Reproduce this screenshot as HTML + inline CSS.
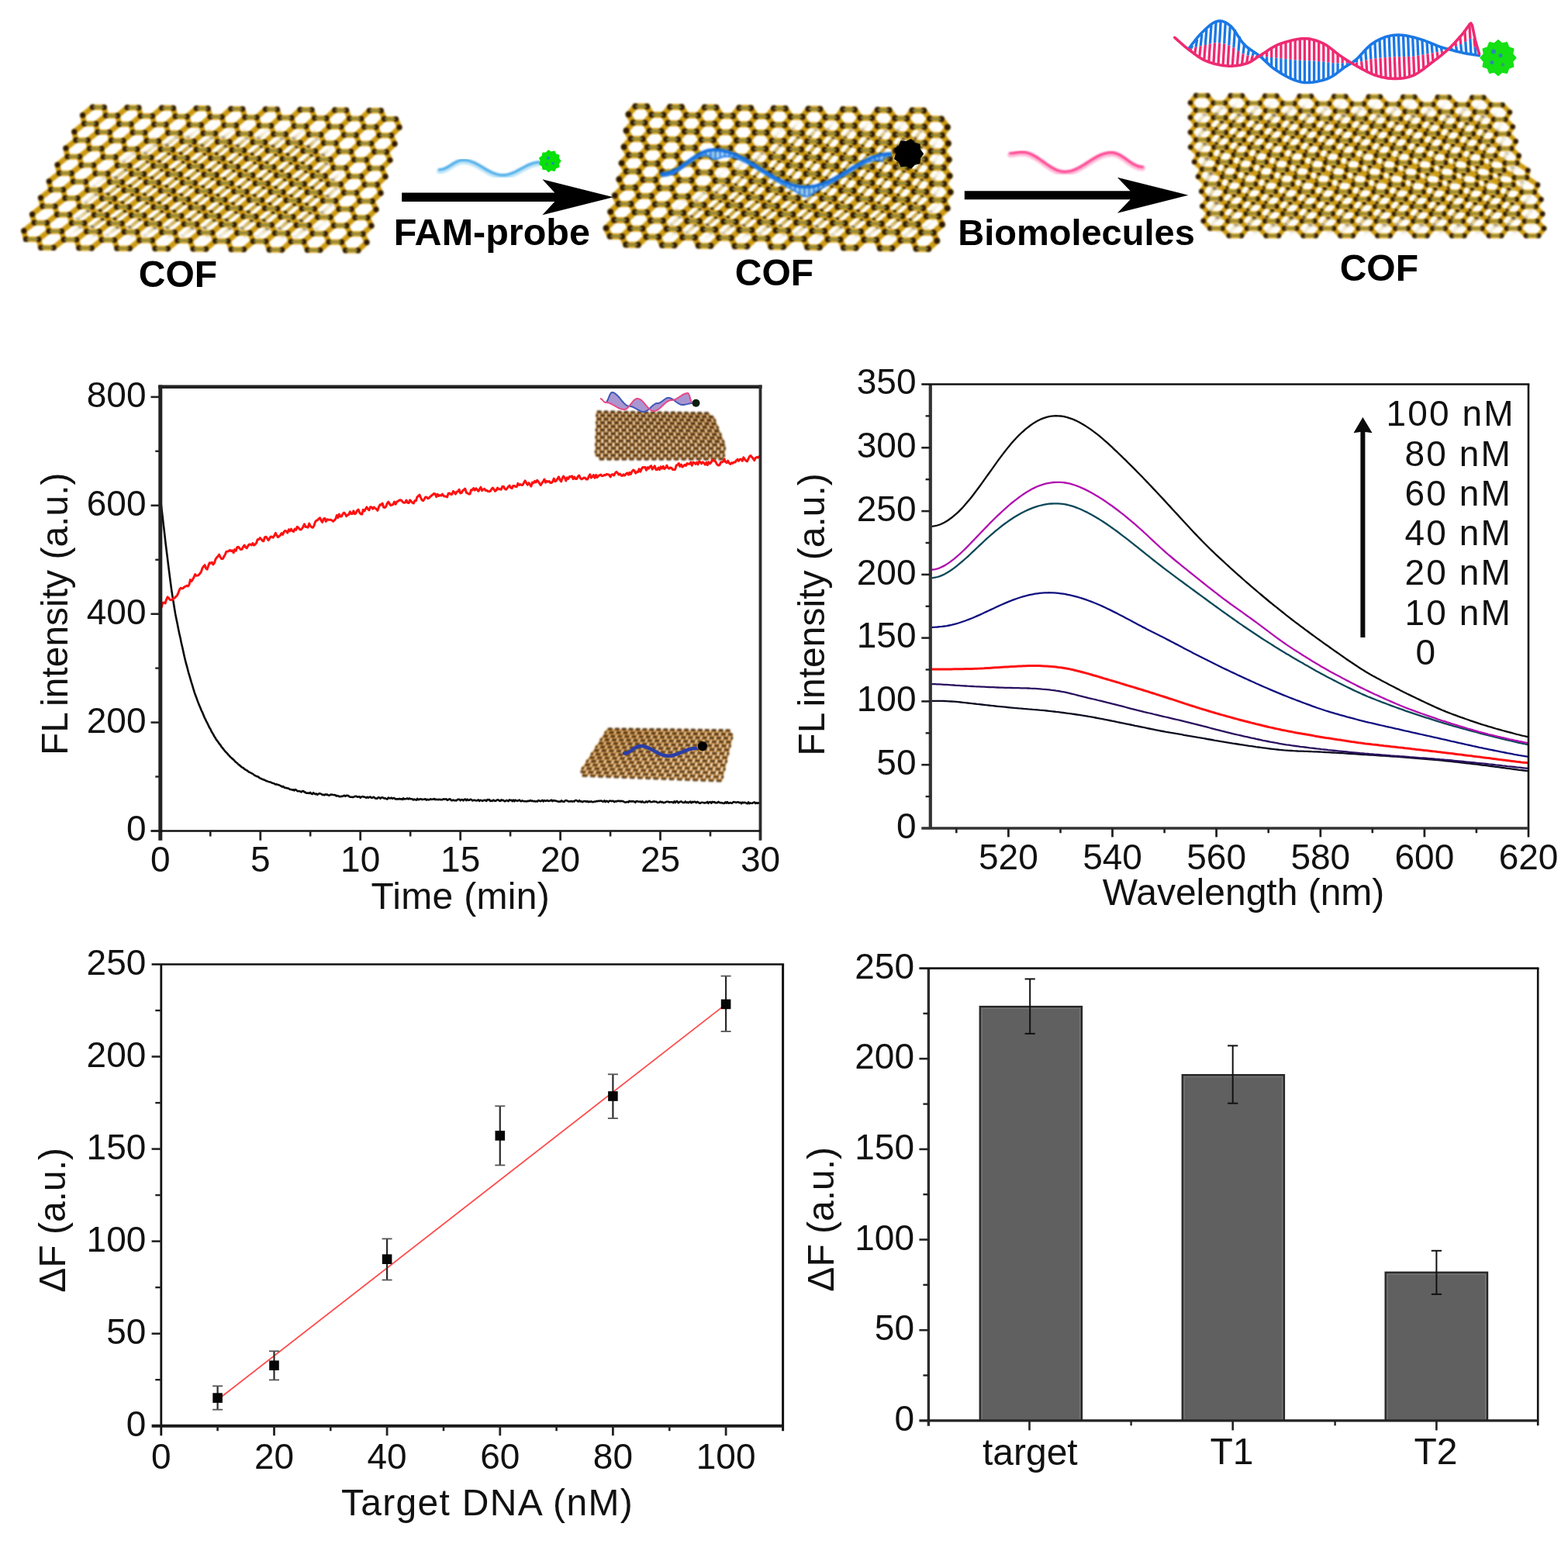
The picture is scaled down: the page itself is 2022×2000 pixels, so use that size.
<!DOCTYPE html>
<html lang="en"><head><meta charset="utf-8"><title>COF fluorescence sensing figure</title>
<style>html,body{margin:0;padding:0;background:#fff;}body{width:2022px;height:2000px;overflow:hidden;}svg{display:block;}</style>
</head><body>
<svg width="2022" height="2000" viewBox="0 0 2022 2000" font-family="'Liberation Sans', Arial, Helvetica, sans-serif">
<defs><filter id="soft" x="-5%" y="-5%" width="110%" height="110%" color-interpolation-filters="sRGB"><feGaussianBlur stdDeviation="1.1"/></filter><filter id="feather" filterUnits="userSpaceOnUse" x="0" y="0" width="2022" height="2000" color-interpolation-filters="sRGB"><feGaussianBlur stdDeviation="9"/></filter></defs>
<rect width="2022" height="2000" fill="#fff"/>
<mask id="cp1" maskUnits="userSpaceOnUse" x="0" y="0" width="2022" height="2000"><path d="M225,180L410,180L432,240L400,295L95,295L125,250L165,210Z" fill="#fff" filter="url(#feather)"/></mask>
<g mask="url(#cp1)"><g stroke-linecap="round" fill="none" filter="url(#soft)">
<path d="M119.2,164.6L134.2,164.8M129.9,143.3L144.8,143.5M108.5,185.9L123.7,186M97.7,207.2L113.1,207.3M87,228.5L102.6,228.6M76.3,249.8L92,249.9M65.5,271L81.4,271.2M54.8,292.3L70.9,292.5M60.3,313.8L44,313.6M136.5,175.5L151.7,175.7M147,154.2L162,154.4M126.1,196.8L141.4,196.9M115.6,218.1L131.1,218.2M105.1,239.3L120.8,239.5M94.6,260.6L110.5,260.8M84.2,281.9L100.2,282.1M73.7,303.2L89.9,303.4M79.6,324.6L63.2,324.5M164.3,165.1L179.4,165.3M174.6,143.8L189.4,144M154.1,186.4L169.4,186.6M143.9,207.7L159.3,207.8M133.7,229L149.3,229.1M123.5,250.2L139.3,250.4M113.3,271.5L129.2,271.7M103.1,292.8L119.2,292.9M109.2,314.2L92.9,314.1M181.9,176L197.1,176.2M191.9,154.7L206.9,154.9M172,197.3L187.3,197.5M162.1,218.6L177.5,218.7M152.1,239.8L167.8,240M142.2,261.1L158,261.3M132.2,282.4L148.2,282.5M122.3,303.7L138.5,303.8M128.7,325.1L112.3,324.9M209.5,165.6L224.5,165.8M219.2,144.4L234,144.6M199.8,186.9L215,187.1M190.1,208.2L205.5,208.3M180.4,229.4L196,229.6M170.8,250.7L186.5,250.9M161.1,272L177,272.1M151.4,293.2L167.5,293.4M158,314.7L141.7,314.5M227.4,176.5L242.5,176.7M236.8,155.3L251.7,155.5M217.9,197.8L233.2,198M208.5,219.1L224,219.2M199.1,240.3L214.8,240.5M189.7,261.6L205.5,261.7M180.2,282.8L196.3,283M170.8,304.1L187,304.3M177.8,325.5L161.4,325.4M254.6,166.2L269.7,166.4M263.8,144.9L278.7,145.1M245.5,187.4L260.7,187.6M236.3,208.7L251.7,208.9M227.2,229.9L242.7,230.1M218,251.2L233.8,251.4M208.8,272.4L224.8,272.6M199.7,293.7L215.8,293.9M206.8,315.1L190.5,315M272.8,177.1L287.9,177.2M281.7,155.8L296.6,156M263.9,198.3L279.2,198.5M255,219.6L270.5,219.7M246.1,240.8L261.7,241M237.2,262.1L253,262.2M228.3,283.3L244.3,283.5M219.4,304.6L235.6,304.7M226.9,325.9L210.5,325.8M299.8,166.7L314.8,166.9M308.4,145.5L323.3,145.7M291.1,188L306.4,188.1M282.5,209.2L297.9,209.4M273.9,230.4L289.5,230.6M265.3,251.7L281,251.8M256.6,272.9L272.5,273.1M248,294.2L264.1,294.3M255.6,315.5L239.4,315.4M318.2,177.6L333.3,177.8M326.5,156.4L341.5,156.5M309.8,198.8L325.1,199M301.4,220.1L316.9,220.2M293.1,241.3L308.7,241.5M284.7,262.5L300.5,262.7M276.3,283.8L292.3,283.9M268,305L284.1,305.2M276,326.4L259.6,326.2M344.9,167.2L360,167.4M353,146L367.9,146.2M336.8,188.5L352,188.6M328.7,209.7L344.1,209.9M320.6,230.9L336.2,231.1M312.5,252.2L328.3,252.3M304.4,273.4L320.3,273.5M296.3,294.6L312.4,294.8M304.5,316L288.2,315.8M363.6,178.1L378.7,178.3M371.4,156.9L386.4,157.1M355.7,199.3L371,199.5M347.9,220.6L363.4,220.7M340,241.8L355.7,241.9M332.2,263L348,263.2M324.4,284.2L340.4,284.4M316.5,305.5L332.7,305.6M325,326.8L308.7,326.7M390.1,167.8L405.1,168M397.6,146.6L412.5,146.7M382.5,189L397.7,189.2M374.9,210.2L390.3,210.4M367.3,231.4L382.9,231.6M359.8,252.6L375.5,252.8M352.2,273.9L368.1,274M344.6,295.1L360.7,295.2M353.3,316.4L337,316.3M409,178.6L424.1,178.8M416.3,157.4L431.3,157.6M401.7,199.9L417,200M394.4,221.1L409.8,221.2M387,242.3L402.7,242.4M379.7,263.5L395.6,263.6M372.4,284.7L388.4,284.8M365.1,305.9L381.3,306.1M374.1,327.3L357.8,327.1M435.2,168.3L450.3,168.5M442.3,147.1L457.1,147.3M428.2,189.5L443.4,189.7M421.1,210.7L436.5,210.9M414.1,231.9L429.6,232.1M407,253.1L422.8,253.3M399.9,274.3L415.9,274.5M392.9,295.5L409,295.7M402.1,316.9L385.8,316.7M454.4,179.2L469.5,179.4M461.2,158L476.1,158.2M447.6,200.4L462.9,200.5M440.8,221.6L456.3,221.7M434,242.8L449.7,242.9M427.2,264L443.1,264.1M420.4,285.2L436.5,285.3M413.7,306.3L429.8,306.5M423.2,327.7L406.9,327.5M480.4,168.8L495.4,169M486.9,147.7L501.8,147.8M473.8,190L489.1,190.2M467.3,211.2L482.7,211.4M460.8,232.4L476.4,232.6M454.3,253.6L470,253.8M447.7,274.8L463.6,274.9M441.2,296L457.3,296.1M450.9,317.3L434.7,317.2M499.8,179.7L514.9,179.9M506.1,158.5L521,158.7M493.5,200.9L508.8,201.1M487.3,222.1L502.8,222.2M481,243.3L496.7,243.4M474.7,264.4L490.6,264.6M468.5,285.6L484.5,285.8M462.2,306.8L478.4,306.9M472.3,328.1L456,328M134.2,164.8L147,154.2M119.2,164.6L117.1,153.8M117.1,153.8L129.9,143.3M144.8,143.5L147,154.2M123.7,186L136.5,175.5M108.5,185.9L106.3,175.1M106.3,175.1L119.2,164.6M136.5,175.5L134.2,164.8M113.1,207.3L126.1,196.8M97.7,207.2L95.4,196.4M95.4,196.4L108.5,185.9M126.1,196.8L123.7,186M102.6,228.6L115.6,218.1M87,228.5L84.6,217.7M84.6,217.7L97.7,207.2M115.6,218.1L113.1,207.3M92,249.9L105.1,239.3M76.3,249.8L73.8,239M73.8,239L87,228.5M105.1,239.3L102.6,228.6M81.4,271.2L94.6,260.6M65.5,271L63,260.3M63,260.3L76.3,249.8M94.6,260.6L92,249.9M70.9,292.5L84.2,281.9M54.8,292.3L52.1,281.6M52.1,281.6L65.5,271M84.2,281.9L81.4,271.2M60.3,313.8L73.7,303.2M44,313.6L41.3,302.9M41.3,302.9L54.8,292.3M73.7,303.2L70.9,292.5M151.7,175.7L164.3,165.1M164.3,165.1L162,154.4M141.4,196.9L154.1,186.4M154.1,186.4L151.7,175.7M131.1,218.2L143.9,207.7M143.9,207.7L141.4,196.9M120.8,239.5L133.7,229M133.7,229L131.1,218.2M110.5,260.8L123.5,250.2M123.5,250.2L120.8,239.5M100.2,282.1L113.3,271.5M113.3,271.5L110.5,260.8M89.9,303.4L103.1,292.8M103.1,292.8L100.2,282.1M92.9,314.1L79.6,324.6M63.2,324.5L60.3,313.8M92.9,314.1L89.9,303.4M179.4,165.3L191.9,154.7M162,154.4L174.6,143.8M189.4,144L191.9,154.7M169.4,186.6L181.9,176M181.9,176L179.4,165.3M159.3,207.8L172,197.3M172,197.3L169.4,186.6M149.3,229.1L162.1,218.6M162.1,218.6L159.3,207.8M139.3,250.4L152.1,239.8M152.1,239.8L149.3,229.1M129.2,271.7L142.2,261.1M142.2,261.1L139.3,250.4M119.2,292.9L132.2,282.4M132.2,282.4L129.2,271.7M109.2,314.2L122.3,303.7M122.3,303.7L119.2,292.9M197.1,176.2L209.5,165.6M209.5,165.6L206.9,154.9M187.3,197.5L199.8,186.9M199.8,186.9L197.1,176.2M177.5,218.7L190.1,208.2M190.1,208.2L187.3,197.5M167.8,240L180.4,229.4M180.4,229.4L177.5,218.7M158,261.3L170.8,250.7M170.8,250.7L167.8,240M148.2,282.5L161.1,272M161.1,272L158,261.3M138.5,303.8L151.4,293.2M151.4,293.2L148.2,282.5M141.7,314.5L128.7,325.1M112.3,324.9L109.2,314.2M141.7,314.5L138.5,303.8M224.5,165.8L236.8,155.3M206.9,154.9L219.2,144.4M234,144.6L236.8,155.3M215,187.1L227.4,176.5M227.4,176.5L224.5,165.8M205.5,208.3L217.9,197.8M217.9,197.8L215,187.1M196,229.6L208.5,219.1M208.5,219.1L205.5,208.3M186.5,250.9L199.1,240.3M199.1,240.3L196,229.6M177,272.1L189.7,261.6M189.7,261.6L186.5,250.9M167.5,293.4L180.2,282.8M180.2,282.8L177,272.1M158,314.7L170.8,304.1M170.8,304.1L167.5,293.4M242.5,176.7L254.6,166.2M254.6,166.2L251.7,155.5M233.2,198L245.5,187.4M245.5,187.4L242.5,176.7M224,219.2L236.3,208.7M236.3,208.7L233.2,198M214.8,240.5L227.2,229.9M227.2,229.9L224,219.2M205.5,261.7L218,251.2M218,251.2L214.8,240.5M196.3,283L208.8,272.4M208.8,272.4L205.5,261.7M187,304.3L199.7,293.7M199.7,293.7L196.3,283M190.5,315L177.8,325.5M161.4,325.4L158,314.7M190.5,315L187,304.3M269.7,166.4L281.7,155.8M251.7,155.5L263.8,144.9M278.7,145.1L281.7,155.8M260.7,187.6L272.8,177.1M272.8,177.1L269.7,166.4M251.7,208.9L263.9,198.3M263.9,198.3L260.7,187.6M242.7,230.1L255,219.6M255,219.6L251.7,208.9M233.8,251.4L246.1,240.8M246.1,240.8L242.7,230.1M224.8,272.6L237.2,262.1M237.2,262.1L233.8,251.4M215.8,293.9L228.3,283.3M228.3,283.3L224.8,272.6M206.8,315.1L219.4,304.6M219.4,304.6L215.8,293.9M287.9,177.2L299.8,166.7M299.8,166.7L296.6,156M279.2,198.5L291.1,188M291.1,188L287.9,177.2M270.5,219.7L282.5,209.2M282.5,209.2L279.2,198.5M261.7,241L273.9,230.4M273.9,230.4L270.5,219.7M253,262.2L265.3,251.7M265.3,251.7L261.7,241M244.3,283.5L256.6,272.9M256.6,272.9L253,262.2M235.6,304.7L248,294.2M248,294.2L244.3,283.5M239.4,315.4L226.9,325.9M210.5,325.8L206.8,315.1M239.4,315.4L235.6,304.7M314.8,166.9L326.5,156.4M296.6,156L308.4,145.5M323.3,145.7L326.5,156.4M306.4,188.1L318.2,177.6M318.2,177.6L314.8,166.9M297.9,209.4L309.8,198.8M309.8,198.8L306.4,188.1M289.5,230.6L301.4,220.1M301.4,220.1L297.9,209.4M281,251.8L293.1,241.3M293.1,241.3L289.5,230.6M272.5,273.1L284.7,262.5M284.7,262.5L281,251.8M264.1,294.3L276.3,283.8M276.3,283.8L272.5,273.1M255.6,315.5L268,305M268,305L264.1,294.3M333.3,177.8L344.9,167.2M344.9,167.2L341.5,156.5M325.1,199L336.8,188.5M336.8,188.5L333.3,177.8M316.9,220.2L328.7,209.7M328.7,209.7L325.1,199M308.7,241.5L320.6,230.9M320.6,230.9L316.9,220.2M300.5,262.7L312.5,252.2M312.5,252.2L308.7,241.5M292.3,283.9L304.4,273.4M304.4,273.4L300.5,262.7M284.1,305.2L296.3,294.6M296.3,294.6L292.3,283.9M288.2,315.8L276,326.4M259.6,326.2L255.6,315.5M288.2,315.8L284.1,305.2M360,167.4L371.4,156.9M341.5,156.5L353,146M367.9,146.2L371.4,156.9M352,188.6L363.6,178.1M363.6,178.1L360,167.4M344.1,209.9L355.7,199.3M355.7,199.3L352,188.6M336.2,231.1L347.9,220.6M347.9,220.6L344.1,209.9M328.3,252.3L340,241.8M340,241.8L336.2,231.1M320.3,273.5L332.2,263M332.2,263L328.3,252.3M312.4,294.8L324.4,284.2M324.4,284.2L320.3,273.5M304.5,316L316.5,305.5M316.5,305.5L312.4,294.8M378.7,178.3L390.1,167.8M390.1,167.8L386.4,157.1M371,199.5L382.5,189M382.5,189L378.7,178.3M363.4,220.7L374.9,210.2M374.9,210.2L371,199.5M355.7,241.9L367.3,231.4M367.3,231.4L363.4,220.7M348,263.2L359.8,252.6M359.8,252.6L355.7,241.9M340.4,284.4L352.2,273.9M352.2,273.9L348,263.2M332.7,305.6L344.6,295.1M344.6,295.1L340.4,284.4M337,316.3L325,326.8M308.7,326.7L304.5,316M337,316.3L332.7,305.6M405.1,168L416.3,157.4M386.4,157.1L397.6,146.6M412.5,146.7L416.3,157.4M397.7,189.2L409,178.6M409,178.6L405.1,168M390.3,210.4L401.7,199.9M401.7,199.9L397.7,189.2M382.9,231.6L394.4,221.1M394.4,221.1L390.3,210.4M375.5,252.8L387,242.3M387,242.3L382.9,231.6M368.1,274L379.7,263.5M379.7,263.5L375.5,252.8M360.7,295.2L372.4,284.7M372.4,284.7L368.1,274M353.3,316.4L365.1,305.9M365.1,305.9L360.7,295.2M424.1,178.8L435.2,168.3M435.2,168.3L431.3,157.6M417,200L428.2,189.5M428.2,189.5L424.1,178.8M409.8,221.2L421.1,210.7M421.1,210.7L417,200M402.7,242.4L414.1,231.9M414.1,231.9L409.8,221.2M395.6,263.6L407,253.1M407,253.1L402.7,242.4M388.4,284.8L399.9,274.3M399.9,274.3L395.6,263.6M381.3,306.1L392.9,295.5M392.9,295.5L388.4,284.8M385.8,316.7L374.1,327.3M357.8,327.1L353.3,316.4M385.8,316.7L381.3,306.1M450.3,168.5L461.2,158M431.3,157.6L442.3,147.1M457.1,147.3L461.2,158M443.4,189.7L454.4,179.2M454.4,179.2L450.3,168.5M436.5,210.9L447.6,200.4M447.6,200.4L443.4,189.7M429.6,232.1L440.8,221.6M440.8,221.6L436.5,210.9M422.8,253.3L434,242.8M434,242.8L429.6,232.1M415.9,274.5L427.2,264M427.2,264L422.8,253.3M409,295.7L420.4,285.2M420.4,285.2L415.9,274.5M402.1,316.9L413.7,306.3M413.7,306.3L409,295.7M469.5,179.4L480.4,168.8M480.4,168.8L476.1,158.2M462.9,200.5L473.8,190M473.8,190L469.5,179.4M456.3,221.7L467.3,211.2M467.3,211.2L462.9,200.5M449.7,242.9L460.8,232.4M460.8,232.4L456.3,221.7M443.1,264.1L454.3,253.6M454.3,253.6L449.7,242.9M436.5,285.3L447.7,274.8M447.7,274.8L443.1,264.1M429.8,306.5L441.2,296M441.2,296L436.5,285.3M434.7,317.2L423.2,327.7M406.9,327.5L402.1,316.9M434.7,317.2L429.8,306.5M495.4,169L506.1,158.5M476.1,158.2L486.9,147.7M501.8,147.8L506.1,158.5M489.1,190.2L499.8,179.7M499.8,179.7L495.4,169M482.7,211.4L493.5,200.9M493.5,200.9L489.1,190.2M476.4,232.6L487.3,222.1M487.3,222.1L482.7,211.4M470,253.8L481,243.3M481,243.3L476.4,232.6M463.6,274.9L474.7,264.4M474.7,264.4L470,253.8M457.3,296.1L468.5,285.6M468.5,285.6L463.6,274.9M450.9,317.3L462.2,306.8M462.2,306.8L457.3,296.1M525.5,169.4L514.9,179.9M521,158.7L525.5,169.4M519.5,190.6L508.8,201.1M514.9,179.9L519.5,190.6M513.5,211.7L502.8,222.2M508.8,201.1L513.5,211.7M507.5,232.9L496.7,243.4M502.8,222.2L507.5,232.9M501.5,254.1L490.6,264.6M496.7,243.4L501.5,254.1M495.5,275.3L484.5,285.8M490.6,264.6L495.5,275.3M489.5,296.4L478.4,306.9M484.5,285.8L489.5,296.4M483.5,317.6L472.3,328.1M456,328L450.9,317.3M478.4,306.9L483.5,317.6" stroke="#caa434" stroke-width="4.6"/>
<path d="M119.2,164.6L134.2,164.8M129.9,143.3L144.8,143.5M108.5,185.9L123.7,186M97.7,207.2L113.1,207.3M87,228.5L102.6,228.6M76.3,249.8L92,249.9M65.5,271L81.4,271.2M54.8,292.3L70.9,292.5M60.3,313.8L44,313.6M136.5,175.5L151.7,175.7M147,154.2L162,154.4M126.1,196.8L141.4,196.9M115.6,218.1L131.1,218.2M105.1,239.3L120.8,239.5M94.6,260.6L110.5,260.8M84.2,281.9L100.2,282.1M73.7,303.2L89.9,303.4M79.6,324.6L63.2,324.5M164.3,165.1L179.4,165.3M174.6,143.8L189.4,144M154.1,186.4L169.4,186.6M143.9,207.7L159.3,207.8M133.7,229L149.3,229.1M123.5,250.2L139.3,250.4M113.3,271.5L129.2,271.7M103.1,292.8L119.2,292.9M109.2,314.2L92.9,314.1M181.9,176L197.1,176.2M191.9,154.7L206.9,154.9M172,197.3L187.3,197.5M162.1,218.6L177.5,218.7M152.1,239.8L167.8,240M142.2,261.1L158,261.3M132.2,282.4L148.2,282.5M122.3,303.7L138.5,303.8M128.7,325.1L112.3,324.9M209.5,165.6L224.5,165.8M219.2,144.4L234,144.6M199.8,186.9L215,187.1M190.1,208.2L205.5,208.3M180.4,229.4L196,229.6M170.8,250.7L186.5,250.9M161.1,272L177,272.1M151.4,293.2L167.5,293.4M158,314.7L141.7,314.5M227.4,176.5L242.5,176.7M236.8,155.3L251.7,155.5M217.9,197.8L233.2,198M208.5,219.1L224,219.2M199.1,240.3L214.8,240.5M189.7,261.6L205.5,261.7M180.2,282.8L196.3,283M170.8,304.1L187,304.3M177.8,325.5L161.4,325.4M254.6,166.2L269.7,166.4M263.8,144.9L278.7,145.1M245.5,187.4L260.7,187.6M236.3,208.7L251.7,208.9M227.2,229.9L242.7,230.1M218,251.2L233.8,251.4M208.8,272.4L224.8,272.6M199.7,293.7L215.8,293.9M206.8,315.1L190.5,315M272.8,177.1L287.9,177.2M281.7,155.8L296.6,156M263.9,198.3L279.2,198.5M255,219.6L270.5,219.7M246.1,240.8L261.7,241M237.2,262.1L253,262.2M228.3,283.3L244.3,283.5M219.4,304.6L235.6,304.7M226.9,325.9L210.5,325.8M299.8,166.7L314.8,166.9M308.4,145.5L323.3,145.7M291.1,188L306.4,188.1M282.5,209.2L297.9,209.4M273.9,230.4L289.5,230.6M265.3,251.7L281,251.8M256.6,272.9L272.5,273.1M248,294.2L264.1,294.3M255.6,315.5L239.4,315.4M318.2,177.6L333.3,177.8M326.5,156.4L341.5,156.5M309.8,198.8L325.1,199M301.4,220.1L316.9,220.2M293.1,241.3L308.7,241.5M284.7,262.5L300.5,262.7M276.3,283.8L292.3,283.9M268,305L284.1,305.2M276,326.4L259.6,326.2M344.9,167.2L360,167.4M353,146L367.9,146.2M336.8,188.5L352,188.6M328.7,209.7L344.1,209.9M320.6,230.9L336.2,231.1M312.5,252.2L328.3,252.3M304.4,273.4L320.3,273.5M296.3,294.6L312.4,294.8M304.5,316L288.2,315.8M363.6,178.1L378.7,178.3M371.4,156.9L386.4,157.1M355.7,199.3L371,199.5M347.9,220.6L363.4,220.7M340,241.8L355.7,241.9M332.2,263L348,263.2M324.4,284.2L340.4,284.4M316.5,305.5L332.7,305.6M325,326.8L308.7,326.7M390.1,167.8L405.1,168M397.6,146.6L412.5,146.7M382.5,189L397.7,189.2M374.9,210.2L390.3,210.4M367.3,231.4L382.9,231.6M359.8,252.6L375.5,252.8M352.2,273.9L368.1,274M344.6,295.1L360.7,295.2M353.3,316.4L337,316.3M409,178.6L424.1,178.8M416.3,157.4L431.3,157.6M401.7,199.9L417,200M394.4,221.1L409.8,221.2M387,242.3L402.7,242.4M379.7,263.5L395.6,263.6M372.4,284.7L388.4,284.8M365.1,305.9L381.3,306.1M374.1,327.3L357.8,327.1M435.2,168.3L450.3,168.5M442.3,147.1L457.1,147.3M428.2,189.5L443.4,189.7M421.1,210.7L436.5,210.9M414.1,231.9L429.6,232.1M407,253.1L422.8,253.3M399.9,274.3L415.9,274.5M392.9,295.5L409,295.7M402.1,316.9L385.8,316.7M454.4,179.2L469.5,179.4M461.2,158L476.1,158.2M447.6,200.4L462.9,200.5M440.8,221.6L456.3,221.7M434,242.8L449.7,242.9M427.2,264L443.1,264.1M420.4,285.2L436.5,285.3M413.7,306.3L429.8,306.5M423.2,327.7L406.9,327.5M480.4,168.8L495.4,169M486.9,147.7L501.8,147.8M473.8,190L489.1,190.2M467.3,211.2L482.7,211.4M460.8,232.4L476.4,232.6M454.3,253.6L470,253.8M447.7,274.8L463.6,274.9M441.2,296L457.3,296.1M450.9,317.3L434.7,317.2M499.8,179.7L514.9,179.9M506.1,158.5L521,158.7M493.5,200.9L508.8,201.1M487.3,222.1L502.8,222.2M481,243.3L496.7,243.4M474.7,264.4L490.6,264.6M468.5,285.6L484.5,285.8M462.2,306.8L478.4,306.9M472.3,328.1L456,328M134.2,164.8L147,154.2M119.2,164.6L117.1,153.8M117.1,153.8L129.9,143.3M144.8,143.5L147,154.2M123.7,186L136.5,175.5M108.5,185.9L106.3,175.1M106.3,175.1L119.2,164.6M136.5,175.5L134.2,164.8M113.1,207.3L126.1,196.8M97.7,207.2L95.4,196.4M95.4,196.4L108.5,185.9M126.1,196.8L123.7,186M102.6,228.6L115.6,218.1M87,228.5L84.6,217.7M84.6,217.7L97.7,207.2M115.6,218.1L113.1,207.3M92,249.9L105.1,239.3M76.3,249.8L73.8,239M73.8,239L87,228.5M105.1,239.3L102.6,228.6M81.4,271.2L94.6,260.6M65.5,271L63,260.3M63,260.3L76.3,249.8M94.6,260.6L92,249.9M70.9,292.5L84.2,281.9M54.8,292.3L52.1,281.6M52.1,281.6L65.5,271M84.2,281.9L81.4,271.2M60.3,313.8L73.7,303.2M44,313.6L41.3,302.9M41.3,302.9L54.8,292.3M73.7,303.2L70.9,292.5M151.7,175.7L164.3,165.1M164.3,165.1L162,154.4M141.4,196.9L154.1,186.4M154.1,186.4L151.7,175.7M131.1,218.2L143.9,207.7M143.9,207.7L141.4,196.9M120.8,239.5L133.7,229M133.7,229L131.1,218.2M110.5,260.8L123.5,250.2M123.5,250.2L120.8,239.5M100.2,282.1L113.3,271.5M113.3,271.5L110.5,260.8M89.9,303.4L103.1,292.8M103.1,292.8L100.2,282.1M92.9,314.1L79.6,324.6M63.2,324.5L60.3,313.8M92.9,314.1L89.9,303.4M179.4,165.3L191.9,154.7M162,154.4L174.6,143.8M189.4,144L191.9,154.7M169.4,186.6L181.9,176M181.9,176L179.4,165.3M159.3,207.8L172,197.3M172,197.3L169.4,186.6M149.3,229.1L162.1,218.6M162.1,218.6L159.3,207.8M139.3,250.4L152.1,239.8M152.1,239.8L149.3,229.1M129.2,271.7L142.2,261.1M142.2,261.1L139.3,250.4M119.2,292.9L132.2,282.4M132.2,282.4L129.2,271.7M109.2,314.2L122.3,303.7M122.3,303.7L119.2,292.9M197.1,176.2L209.5,165.6M209.5,165.6L206.9,154.9M187.3,197.5L199.8,186.9M199.8,186.9L197.1,176.2M177.5,218.7L190.1,208.2M190.1,208.2L187.3,197.5M167.8,240L180.4,229.4M180.4,229.4L177.5,218.7M158,261.3L170.8,250.7M170.8,250.7L167.8,240M148.2,282.5L161.1,272M161.1,272L158,261.3M138.5,303.8L151.4,293.2M151.4,293.2L148.2,282.5M141.7,314.5L128.7,325.1M112.3,324.9L109.2,314.2M141.7,314.5L138.5,303.8M224.5,165.8L236.8,155.3M206.9,154.9L219.2,144.4M234,144.6L236.8,155.3M215,187.1L227.4,176.5M227.4,176.5L224.5,165.8M205.5,208.3L217.9,197.8M217.9,197.8L215,187.1M196,229.6L208.5,219.1M208.5,219.1L205.5,208.3M186.5,250.9L199.1,240.3M199.1,240.3L196,229.6M177,272.1L189.7,261.6M189.7,261.6L186.5,250.9M167.5,293.4L180.2,282.8M180.2,282.8L177,272.1M158,314.7L170.8,304.1M170.8,304.1L167.5,293.4M242.5,176.7L254.6,166.2M254.6,166.2L251.7,155.5M233.2,198L245.5,187.4M245.5,187.4L242.5,176.7M224,219.2L236.3,208.7M236.3,208.7L233.2,198M214.8,240.5L227.2,229.9M227.2,229.9L224,219.2M205.5,261.7L218,251.2M218,251.2L214.8,240.5M196.3,283L208.8,272.4M208.8,272.4L205.5,261.7M187,304.3L199.7,293.7M199.7,293.7L196.3,283M190.5,315L177.8,325.5M161.4,325.4L158,314.7M190.5,315L187,304.3M269.7,166.4L281.7,155.8M251.7,155.5L263.8,144.9M278.7,145.1L281.7,155.8M260.7,187.6L272.8,177.1M272.8,177.1L269.7,166.4M251.7,208.9L263.9,198.3M263.9,198.3L260.7,187.6M242.7,230.1L255,219.6M255,219.6L251.7,208.9M233.8,251.4L246.1,240.8M246.1,240.8L242.7,230.1M224.8,272.6L237.2,262.1M237.2,262.1L233.8,251.4M215.8,293.9L228.3,283.3M228.3,283.3L224.8,272.6M206.8,315.1L219.4,304.6M219.4,304.6L215.8,293.9M287.9,177.2L299.8,166.7M299.8,166.7L296.6,156M279.2,198.5L291.1,188M291.1,188L287.9,177.2M270.5,219.7L282.5,209.2M282.5,209.2L279.2,198.5M261.7,241L273.9,230.4M273.9,230.4L270.5,219.7M253,262.2L265.3,251.7M265.3,251.7L261.7,241M244.3,283.5L256.6,272.9M256.6,272.9L253,262.2M235.6,304.7L248,294.2M248,294.2L244.3,283.5M239.4,315.4L226.9,325.9M210.5,325.8L206.8,315.1M239.4,315.4L235.6,304.7M314.8,166.9L326.5,156.4M296.6,156L308.4,145.5M323.3,145.7L326.5,156.4M306.4,188.1L318.2,177.6M318.2,177.6L314.8,166.9M297.9,209.4L309.8,198.8M309.8,198.8L306.4,188.1M289.5,230.6L301.4,220.1M301.4,220.1L297.9,209.4M281,251.8L293.1,241.3M293.1,241.3L289.5,230.6M272.5,273.1L284.7,262.5M284.7,262.5L281,251.8M264.1,294.3L276.3,283.8M276.3,283.8L272.5,273.1M255.6,315.5L268,305M268,305L264.1,294.3M333.3,177.8L344.9,167.2M344.9,167.2L341.5,156.5M325.1,199L336.8,188.5M336.8,188.5L333.3,177.8M316.9,220.2L328.7,209.7M328.7,209.7L325.1,199M308.7,241.5L320.6,230.9M320.6,230.9L316.9,220.2M300.5,262.7L312.5,252.2M312.5,252.2L308.7,241.5M292.3,283.9L304.4,273.4M304.4,273.4L300.5,262.7M284.1,305.2L296.3,294.6M296.3,294.6L292.3,283.9M288.2,315.8L276,326.4M259.6,326.2L255.6,315.5M288.2,315.8L284.1,305.2M360,167.4L371.4,156.9M341.5,156.5L353,146M367.9,146.2L371.4,156.9M352,188.6L363.6,178.1M363.6,178.1L360,167.4M344.1,209.9L355.7,199.3M355.7,199.3L352,188.6M336.2,231.1L347.9,220.6M347.9,220.6L344.1,209.9M328.3,252.3L340,241.8M340,241.8L336.2,231.1M320.3,273.5L332.2,263M332.2,263L328.3,252.3M312.4,294.8L324.4,284.2M324.4,284.2L320.3,273.5M304.5,316L316.5,305.5M316.5,305.5L312.4,294.8M378.7,178.3L390.1,167.8M390.1,167.8L386.4,157.1M371,199.5L382.5,189M382.5,189L378.7,178.3M363.4,220.7L374.9,210.2M374.9,210.2L371,199.5M355.7,241.9L367.3,231.4M367.3,231.4L363.4,220.7M348,263.2L359.8,252.6M359.8,252.6L355.7,241.9M340.4,284.4L352.2,273.9M352.2,273.9L348,263.2M332.7,305.6L344.6,295.1M344.6,295.1L340.4,284.4M337,316.3L325,326.8M308.7,326.7L304.5,316M337,316.3L332.7,305.6M405.1,168L416.3,157.4M386.4,157.1L397.6,146.6M412.5,146.7L416.3,157.4M397.7,189.2L409,178.6M409,178.6L405.1,168M390.3,210.4L401.7,199.9M401.7,199.9L397.7,189.2M382.9,231.6L394.4,221.1M394.4,221.1L390.3,210.4M375.5,252.8L387,242.3M387,242.3L382.9,231.6M368.1,274L379.7,263.5M379.7,263.5L375.5,252.8M360.7,295.2L372.4,284.7M372.4,284.7L368.1,274M353.3,316.4L365.1,305.9M365.1,305.9L360.7,295.2M424.1,178.8L435.2,168.3M435.2,168.3L431.3,157.6M417,200L428.2,189.5M428.2,189.5L424.1,178.8M409.8,221.2L421.1,210.7M421.1,210.7L417,200M402.7,242.4L414.1,231.9M414.1,231.9L409.8,221.2M395.6,263.6L407,253.1M407,253.1L402.7,242.4M388.4,284.8L399.9,274.3M399.9,274.3L395.6,263.6M381.3,306.1L392.9,295.5M392.9,295.5L388.4,284.8M385.8,316.7L374.1,327.3M357.8,327.1L353.3,316.4M385.8,316.7L381.3,306.1M450.3,168.5L461.2,158M431.3,157.6L442.3,147.1M457.1,147.3L461.2,158M443.4,189.7L454.4,179.2M454.4,179.2L450.3,168.5M436.5,210.9L447.6,200.4M447.6,200.4L443.4,189.7M429.6,232.1L440.8,221.6M440.8,221.6L436.5,210.9M422.8,253.3L434,242.8M434,242.8L429.6,232.1M415.9,274.5L427.2,264M427.2,264L422.8,253.3M409,295.7L420.4,285.2M420.4,285.2L415.9,274.5M402.1,316.9L413.7,306.3M413.7,306.3L409,295.7M469.5,179.4L480.4,168.8M480.4,168.8L476.1,158.2M462.9,200.5L473.8,190M473.8,190L469.5,179.4M456.3,221.7L467.3,211.2M467.3,211.2L462.9,200.5M449.7,242.9L460.8,232.4M460.8,232.4L456.3,221.7M443.1,264.1L454.3,253.6M454.3,253.6L449.7,242.9M436.5,285.3L447.7,274.8M447.7,274.8L443.1,264.1M429.8,306.5L441.2,296M441.2,296L436.5,285.3M434.7,317.2L423.2,327.7M406.9,327.5L402.1,316.9M434.7,317.2L429.8,306.5M495.4,169L506.1,158.5M476.1,158.2L486.9,147.7M501.8,147.8L506.1,158.5M489.1,190.2L499.8,179.7M499.8,179.7L495.4,169M482.7,211.4L493.5,200.9M493.5,200.9L489.1,190.2M476.4,232.6L487.3,222.1M487.3,222.1L482.7,211.4M470,253.8L481,243.3M481,243.3L476.4,232.6M463.6,274.9L474.7,264.4M474.7,264.4L470,253.8M457.3,296.1L468.5,285.6M468.5,285.6L463.6,274.9M450.9,317.3L462.2,306.8M462.2,306.8L457.3,296.1M525.5,169.4L514.9,179.9M521,158.7L525.5,169.4M519.5,190.6L508.8,201.1M514.9,179.9L519.5,190.6M513.5,211.7L502.8,222.2M508.8,201.1L513.5,211.7M507.5,232.9L496.7,243.4M502.8,222.2L507.5,232.9M501.5,254.1L490.6,264.6M496.7,243.4L501.5,254.1M495.5,275.3L484.5,285.8M490.6,264.6L495.5,275.3M489.5,296.4L478.4,306.9M484.5,285.8L489.5,296.4M483.5,317.6L472.3,328.1M456,328L450.9,317.3M478.4,306.9L483.5,317.6" stroke="#c4a03a" stroke-width="2.1999999999999997"/>
<path d="M119.2,164.6h0M134.2,164.8h0M129.9,143.3h0M144.8,143.5h0M108.5,185.9h0M123.7,186h0M97.7,207.2h0M113.1,207.3h0M87,228.5h0M102.6,228.6h0M76.3,249.8h0M92,249.9h0M65.5,271h0M81.4,271.2h0M54.8,292.3h0M70.9,292.5h0M60.3,313.8h0M44,313.6h0M136.5,175.5h0M151.7,175.7h0M147,154.2h0M162,154.4h0M126.1,196.8h0M141.4,196.9h0M115.6,218.1h0M131.1,218.2h0M105.1,239.3h0M120.8,239.5h0M94.6,260.6h0M110.5,260.8h0M84.2,281.9h0M100.2,282.1h0M73.7,303.2h0M89.9,303.4h0M79.6,324.6h0M63.2,324.5h0M164.3,165.1h0M179.4,165.3h0M174.6,143.8h0M189.4,144h0M154.1,186.4h0M169.4,186.6h0M143.9,207.7h0M159.3,207.8h0M133.7,229h0M149.3,229.1h0M123.5,250.2h0M139.3,250.4h0M113.3,271.5h0M129.2,271.7h0M103.1,292.8h0M119.2,292.9h0M109.2,314.2h0M92.9,314.1h0M181.9,176h0M197.1,176.2h0M191.9,154.7h0M206.9,154.9h0M172,197.3h0M187.3,197.5h0M162.1,218.6h0M177.5,218.7h0M152.1,239.8h0M167.8,240h0M142.2,261.1h0M158,261.3h0M132.2,282.4h0M148.2,282.5h0M122.3,303.7h0M138.5,303.8h0M128.7,325.1h0M112.3,324.9h0M209.5,165.6h0M224.5,165.8h0M219.2,144.4h0M234,144.6h0M199.8,186.9h0M215,187.1h0M190.1,208.2h0M205.5,208.3h0M180.4,229.4h0M196,229.6h0M170.8,250.7h0M186.5,250.9h0M161.1,272h0M177,272.1h0M151.4,293.2h0M167.5,293.4h0M158,314.7h0M141.7,314.5h0M227.4,176.5h0M242.5,176.7h0M236.8,155.3h0M251.7,155.5h0M217.9,197.8h0M233.2,198h0M208.5,219.1h0M224,219.2h0M199.1,240.3h0M214.8,240.5h0M189.7,261.6h0M205.5,261.7h0M180.2,282.8h0M196.3,283h0M170.8,304.1h0M187,304.3h0M177.8,325.5h0M161.4,325.4h0M254.6,166.2h0M269.7,166.4h0M263.8,144.9h0M278.7,145.1h0M245.5,187.4h0M260.7,187.6h0M236.3,208.7h0M251.7,208.9h0M227.2,229.9h0M242.7,230.1h0M218,251.2h0M233.8,251.4h0M208.8,272.4h0M224.8,272.6h0M199.7,293.7h0M215.8,293.9h0M206.8,315.1h0M190.5,315h0M272.8,177.1h0M287.9,177.2h0M281.7,155.8h0M296.6,156h0M263.9,198.3h0M279.2,198.5h0M255,219.6h0M270.5,219.7h0M246.1,240.8h0M261.7,241h0M237.2,262.1h0M253,262.2h0M228.3,283.3h0M244.3,283.5h0M219.4,304.6h0M235.6,304.7h0M226.9,325.9h0M210.5,325.8h0M299.8,166.7h0M314.8,166.9h0M308.4,145.5h0M323.3,145.7h0M291.1,188h0M306.4,188.1h0M282.5,209.2h0M297.9,209.4h0M273.9,230.4h0M289.5,230.6h0M265.3,251.7h0M281,251.8h0M256.6,272.9h0M272.5,273.1h0M248,294.2h0M264.1,294.3h0M255.6,315.5h0M239.4,315.4h0M318.2,177.6h0M333.3,177.8h0M326.5,156.4h0M341.5,156.5h0M309.8,198.8h0M325.1,199h0M301.4,220.1h0M316.9,220.2h0M293.1,241.3h0M308.7,241.5h0M284.7,262.5h0M300.5,262.7h0M276.3,283.8h0M292.3,283.9h0M268,305h0M284.1,305.2h0M276,326.4h0M259.6,326.2h0M344.9,167.2h0M360,167.4h0M353,146h0M367.9,146.2h0M336.8,188.5h0M352,188.6h0M328.7,209.7h0M344.1,209.9h0M320.6,230.9h0M336.2,231.1h0M312.5,252.2h0M328.3,252.3h0M304.4,273.4h0M320.3,273.5h0M296.3,294.6h0M312.4,294.8h0M304.5,316h0M288.2,315.8h0M363.6,178.1h0M378.7,178.3h0M371.4,156.9h0M386.4,157.1h0M355.7,199.3h0M371,199.5h0M347.9,220.6h0M363.4,220.7h0M340,241.8h0M355.7,241.9h0M332.2,263h0M348,263.2h0M324.4,284.2h0M340.4,284.4h0M316.5,305.5h0M332.7,305.6h0M325,326.8h0M308.7,326.7h0M390.1,167.8h0M405.1,168h0M397.6,146.6h0M412.5,146.7h0M382.5,189h0M397.7,189.2h0M374.9,210.2h0M390.3,210.4h0M367.3,231.4h0M382.9,231.6h0M359.8,252.6h0M375.5,252.8h0M352.2,273.9h0M368.1,274h0M344.6,295.1h0M360.7,295.2h0M353.3,316.4h0M337,316.3h0M409,178.6h0M424.1,178.8h0M416.3,157.4h0M431.3,157.6h0M401.7,199.9h0M417,200h0M394.4,221.1h0M409.8,221.2h0M387,242.3h0M402.7,242.4h0M379.7,263.5h0M395.6,263.6h0M372.4,284.7h0M388.4,284.8h0M365.1,305.9h0M381.3,306.1h0M374.1,327.3h0M357.8,327.1h0M435.2,168.3h0M450.3,168.5h0M442.3,147.1h0M457.1,147.3h0M428.2,189.5h0M443.4,189.7h0M421.1,210.7h0M436.5,210.9h0M414.1,231.9h0M429.6,232.1h0M407,253.1h0M422.8,253.3h0M399.9,274.3h0M415.9,274.5h0M392.9,295.5h0M409,295.7h0M402.1,316.9h0M385.8,316.7h0M454.4,179.2h0M469.5,179.4h0M461.2,158h0M476.1,158.2h0M447.6,200.4h0M462.9,200.5h0M440.8,221.6h0M456.3,221.7h0M434,242.8h0M449.7,242.9h0M427.2,264h0M443.1,264.1h0M420.4,285.2h0M436.5,285.3h0M413.7,306.3h0M429.8,306.5h0M423.2,327.7h0M406.9,327.5h0M480.4,168.8h0M495.4,169h0M486.9,147.7h0M501.8,147.8h0M473.8,190h0M489.1,190.2h0M467.3,211.2h0M482.7,211.4h0M460.8,232.4h0M476.4,232.6h0M454.3,253.6h0M470,253.8h0M447.7,274.8h0M463.6,274.9h0M441.2,296h0M457.3,296.1h0M450.9,317.3h0M434.7,317.2h0M499.8,179.7h0M514.9,179.9h0M506.1,158.5h0M521,158.7h0M493.5,200.9h0M508.8,201.1h0M487.3,222.1h0M502.8,222.2h0M481,243.3h0M496.7,243.4h0M474.7,264.4h0M490.6,264.6h0M468.5,285.6h0M484.5,285.8h0M462.2,306.8h0M478.4,306.9h0M472.3,328.1h0M456,328h0M117.1,153.8h0M106.3,175.1h0M95.4,196.4h0M84.6,217.7h0M73.8,239h0M63,260.3h0M52.1,281.6h0M41.3,302.9h0M525.5,169.4h0M519.5,190.6h0M513.5,211.7h0M507.5,232.9h0M501.5,254.1h0M495.5,275.3h0M489.5,296.4h0M483.5,317.6h0" stroke="#3e2a06" stroke-width="4.8"/>
</g></g>
<g stroke-linecap="round" fill="none" filter="url(#soft)">
<path d="M108.7,159.4L123.7,159.6M119.4,138.1L134.3,138.3M98,180.7L113.2,180.8M87.2,202L102.6,202.1M76.5,223.3L92.1,223.4M65.8,244.6L81.5,244.7M55,265.8L70.9,266M44.3,287.1L60.4,287.3M49.8,308.6L33.5,308.4M126,170.3L141.2,170.5M136.5,149L151.5,149.2M115.6,191.6L130.9,191.7M105.1,212.9L120.6,213M94.6,234.1L110.3,234.3M84.1,255.4L100,255.6M73.7,276.7L89.7,276.9M63.2,298L79.4,298.2M69.1,319.4L52.7,319.3M153.8,159.9L168.9,160.1M164.1,138.6L178.9,138.8M143.6,181.2L158.9,181.4M133.4,202.5L148.8,202.6M123.2,223.8L138.8,223.9M113,245L128.8,245.2M102.8,266.3L118.7,266.5M92.6,287.6L108.7,287.7M98.7,309L82.4,308.9M171.4,170.8L186.6,171M181.4,149.5L196.4,149.7M161.5,192.1L176.8,192.3M151.6,213.4L167,213.5M141.6,234.6L157.3,234.8M131.7,255.9L147.5,256.1M121.7,277.2L137.7,277.3M111.8,298.5L128,298.6M118.2,319.9L101.8,319.7M199,160.4L214,160.6M208.7,139.2L223.5,139.4M189.3,181.7L204.5,181.9M179.6,203L195,203.1M169.9,224.2L185.5,224.4M160.3,245.5L176,245.7M150.6,266.8L166.5,266.9M140.9,288L157,288.2M147.5,309.5L131.2,309.3M216.9,171.3L232,171.5M226.3,150.1L241.2,150.3M207.4,192.6L222.7,192.8M198,213.9L213.5,214M188.6,235.1L204.3,235.3M179.2,256.4L195,256.5M169.7,277.6L185.8,277.8M160.3,298.9L176.5,299.1M167.3,320.3L150.9,320.2M244.1,161L259.2,161.2M253.3,139.7L268.2,139.9M235,182.2L250.2,182.4M225.8,203.5L241.2,203.7M216.7,224.7L232.2,224.9M207.5,246L223.3,246.2M198.3,267.2L214.3,267.4M189.2,288.5L205.3,288.7M196.3,309.9L180,309.8M262.3,171.9L277.4,172M271.2,150.6L286.1,150.8M253.4,193.1L268.7,193.3M244.5,214.4L260,214.5M235.6,235.6L251.2,235.8M226.7,256.9L242.5,257M217.8,278.1L233.8,278.3M208.9,299.4L225.1,299.5M216.4,320.7L200,320.6M289.3,161.5L304.3,161.7M297.9,140.3L312.8,140.5M280.6,182.8L295.9,182.9M272,204L287.4,204.2M263.4,225.2L279,225.4M254.8,246.5L270.5,246.6M246.1,267.7L262,267.9M237.5,289L253.6,289.1M245.1,310.3L228.9,310.2M307.7,172.4L322.8,172.6M316,151.2L331,151.3M299.3,193.6L314.6,193.8M290.9,214.9L306.4,215M282.6,236.1L298.2,236.3M274.2,257.3L290,257.5M265.8,278.6L281.8,278.7M257.5,299.8L273.6,300M265.5,321.2L249.1,321M334.4,162L349.5,162.2M342.5,140.8L357.4,141M326.3,183.3L341.5,183.4M318.2,204.5L333.6,204.7M310.1,225.7L325.7,225.9M302,247L317.8,247.1M293.9,268.2L309.8,268.3M285.8,289.4L301.9,289.6M294,310.8L277.7,310.6M353.1,172.9L368.2,173.1M360.9,151.7L375.9,151.9M345.2,194.1L360.5,194.3M337.4,215.4L352.9,215.5M329.5,236.6L345.2,236.7M321.7,257.8L337.5,258M313.9,279L329.9,279.2M306,300.3L322.2,300.4M314.5,321.6L298.2,321.5M379.6,162.6L394.6,162.8M387.1,141.4L402,141.5M372,183.8L387.2,184M364.4,205L379.8,205.2M356.8,226.2L372.4,226.4M349.3,247.4L365,247.6M341.7,268.7L357.6,268.8M334.1,289.9L350.2,290M342.8,311.2L326.5,311.1M398.5,173.4L413.6,173.6M405.8,152.2L420.8,152.4M391.2,194.7L406.5,194.8M383.9,215.9L399.3,216M376.5,237.1L392.2,237.2M369.2,258.3L385.1,258.4M361.9,279.5L377.9,279.6M354.6,300.7L370.8,300.9M363.6,322.1L347.3,321.9M424.7,163.1L439.8,163.3M431.8,141.9L446.6,142.1M417.7,184.3L432.9,184.5M410.6,205.5L426,205.7M403.6,226.7L419.1,226.9M396.5,247.9L412.3,248.1M389.4,269.1L405.4,269.3M382.4,290.3L398.5,290.5M391.6,311.7L375.3,311.5M443.9,174L459,174.2M450.7,152.8L465.6,153M437.1,195.2L452.4,195.3M430.3,216.4L445.8,216.5M423.5,237.6L439.2,237.7M416.7,258.8L432.6,258.9M409.9,280L426,280.1M403.2,301.1L419.3,301.3M412.7,322.5L396.4,322.3M469.9,163.6L484.9,163.8M476.4,142.5L491.3,142.6M463.3,184.8L478.6,185M456.8,206L472.2,206.2M450.3,227.2L465.9,227.4M443.8,248.4L459.5,248.6M437.2,269.6L453.1,269.7M430.7,290.8L446.8,290.9M440.4,312.1L424.2,312M489.3,174.5L504.4,174.7M495.6,153.3L510.5,153.5M483,195.7L498.3,195.9M476.8,216.9L492.3,217M470.5,238.1L486.2,238.2M464.2,259.2L480.1,259.4M458,280.4L474,280.6M451.7,301.6L467.9,301.7M461.8,322.9L445.5,322.8M123.7,159.6L136.5,149M108.7,159.4L106.6,148.6M106.6,148.6L119.4,138.1M134.3,138.3L136.5,149M113.2,180.8L126,170.3M98,180.7L95.8,169.9M95.8,169.9L108.7,159.4M126,170.3L123.7,159.6M102.6,202.1L115.6,191.6M87.2,202L84.9,191.2M84.9,191.2L98,180.7M115.6,191.6L113.2,180.8M92.1,223.4L105.1,212.9M76.5,223.3L74.1,212.5M74.1,212.5L87.2,202M105.1,212.9L102.6,202.1M81.5,244.7L94.6,234.1M65.8,244.6L63.3,233.8M63.3,233.8L76.5,223.3M94.6,234.1L92.1,223.4M70.9,266L84.1,255.4M55,265.8L52.5,255.1M52.5,255.1L65.8,244.6M84.1,255.4L81.5,244.7M60.4,287.3L73.7,276.7M44.3,287.1L41.6,276.4M41.6,276.4L55,265.8M73.7,276.7L70.9,266M49.8,308.6L63.2,298M33.5,308.4L30.8,297.7M30.8,297.7L44.3,287.1M63.2,298L60.4,287.3M141.2,170.5L153.8,159.9M153.8,159.9L151.5,149.2M130.9,191.7L143.6,181.2M143.6,181.2L141.2,170.5M120.6,213L133.4,202.5M133.4,202.5L130.9,191.7M110.3,234.3L123.2,223.8M123.2,223.8L120.6,213M100,255.6L113,245M113,245L110.3,234.3M89.7,276.9L102.8,266.3M102.8,266.3L100,255.6M79.4,298.2L92.6,287.6M92.6,287.6L89.7,276.9M82.4,308.9L69.1,319.4M52.7,319.3L49.8,308.6M82.4,308.9L79.4,298.2M168.9,160.1L181.4,149.5M151.5,149.2L164.1,138.6M178.9,138.8L181.4,149.5M158.9,181.4L171.4,170.8M171.4,170.8L168.9,160.1M148.8,202.6L161.5,192.1M161.5,192.1L158.9,181.4M138.8,223.9L151.6,213.4M151.6,213.4L148.8,202.6M128.8,245.2L141.6,234.6M141.6,234.6L138.8,223.9M118.7,266.5L131.7,255.9M131.7,255.9L128.8,245.2M108.7,287.7L121.7,277.2M121.7,277.2L118.7,266.5M98.7,309L111.8,298.5M111.8,298.5L108.7,287.7M186.6,171L199,160.4M199,160.4L196.4,149.7M176.8,192.3L189.3,181.7M189.3,181.7L186.6,171M167,213.5L179.6,203M179.6,203L176.8,192.3M157.3,234.8L169.9,224.2M169.9,224.2L167,213.5M147.5,256.1L160.3,245.5M160.3,245.5L157.3,234.8M137.7,277.3L150.6,266.8M150.6,266.8L147.5,256.1M128,298.6L140.9,288M140.9,288L137.7,277.3M131.2,309.3L118.2,319.9M101.8,319.7L98.7,309M131.2,309.3L128,298.6M214,160.6L226.3,150.1M196.4,149.7L208.7,139.2M223.5,139.4L226.3,150.1M204.5,181.9L216.9,171.3M216.9,171.3L214,160.6M195,203.1L207.4,192.6M207.4,192.6L204.5,181.9M185.5,224.4L198,213.9M198,213.9L195,203.1M176,245.7L188.6,235.1M188.6,235.1L185.5,224.4M166.5,266.9L179.2,256.4M179.2,256.4L176,245.7M157,288.2L169.7,277.6M169.7,277.6L166.5,266.9M147.5,309.5L160.3,298.9M160.3,298.9L157,288.2M232,171.5L244.1,161M244.1,161L241.2,150.3M222.7,192.8L235,182.2M235,182.2L232,171.5M213.5,214L225.8,203.5M225.8,203.5L222.7,192.8M204.3,235.3L216.7,224.7M216.7,224.7L213.5,214M195,256.5L207.5,246M207.5,246L204.3,235.3M185.8,277.8L198.3,267.2M198.3,267.2L195,256.5M176.5,299.1L189.2,288.5M189.2,288.5L185.8,277.8M180,309.8L167.3,320.3M150.9,320.2L147.5,309.5M180,309.8L176.5,299.1M259.2,161.2L271.2,150.6M241.2,150.3L253.3,139.7M268.2,139.9L271.2,150.6M250.2,182.4L262.3,171.9M262.3,171.9L259.2,161.2M241.2,203.7L253.4,193.1M253.4,193.1L250.2,182.4M232.2,224.9L244.5,214.4M244.5,214.4L241.2,203.7M223.3,246.2L235.6,235.6M235.6,235.6L232.2,224.9M214.3,267.4L226.7,256.9M226.7,256.9L223.3,246.2M205.3,288.7L217.8,278.1M217.8,278.1L214.3,267.4M196.3,309.9L208.9,299.4M208.9,299.4L205.3,288.7M277.4,172L289.3,161.5M289.3,161.5L286.1,150.8M268.7,193.3L280.6,182.8M280.6,182.8L277.4,172M260,214.5L272,204M272,204L268.7,193.3M251.2,235.8L263.4,225.2M263.4,225.2L260,214.5M242.5,257L254.8,246.5M254.8,246.5L251.2,235.8M233.8,278.3L246.1,267.7M246.1,267.7L242.5,257M225.1,299.5L237.5,289M237.5,289L233.8,278.3M228.9,310.2L216.4,320.7M200,320.6L196.3,309.9M228.9,310.2L225.1,299.5M304.3,161.7L316,151.2M286.1,150.8L297.9,140.3M312.8,140.5L316,151.2M295.9,182.9L307.7,172.4M307.7,172.4L304.3,161.7M287.4,204.2L299.3,193.6M299.3,193.6L295.9,182.9M279,225.4L290.9,214.9M290.9,214.9L287.4,204.2M270.5,246.6L282.6,236.1M282.6,236.1L279,225.4M262,267.9L274.2,257.3M274.2,257.3L270.5,246.6M253.6,289.1L265.8,278.6M265.8,278.6L262,267.9M245.1,310.3L257.5,299.8M257.5,299.8L253.6,289.1M322.8,172.6L334.4,162M334.4,162L331,151.3M314.6,193.8L326.3,183.3M326.3,183.3L322.8,172.6M306.4,215L318.2,204.5M318.2,204.5L314.6,193.8M298.2,236.3L310.1,225.7M310.1,225.7L306.4,215M290,257.5L302,247M302,247L298.2,236.3M281.8,278.7L293.9,268.2M293.9,268.2L290,257.5M273.6,300L285.8,289.4M285.8,289.4L281.8,278.7M277.7,310.6L265.5,321.2M249.1,321L245.1,310.3M277.7,310.6L273.6,300M349.5,162.2L360.9,151.7M331,151.3L342.5,140.8M357.4,141L360.9,151.7M341.5,183.4L353.1,172.9M353.1,172.9L349.5,162.2M333.6,204.7L345.2,194.1M345.2,194.1L341.5,183.4M325.7,225.9L337.4,215.4M337.4,215.4L333.6,204.7M317.8,247.1L329.5,236.6M329.5,236.6L325.7,225.9M309.8,268.3L321.7,257.8M321.7,257.8L317.8,247.1M301.9,289.6L313.9,279M313.9,279L309.8,268.3M294,310.8L306,300.3M306,300.3L301.9,289.6M368.2,173.1L379.6,162.6M379.6,162.6L375.9,151.9M360.5,194.3L372,183.8M372,183.8L368.2,173.1M352.9,215.5L364.4,205M364.4,205L360.5,194.3M345.2,236.7L356.8,226.2M356.8,226.2L352.9,215.5M337.5,258L349.3,247.4M349.3,247.4L345.2,236.7M329.9,279.2L341.7,268.7M341.7,268.7L337.5,258M322.2,300.4L334.1,289.9M334.1,289.9L329.9,279.2M326.5,311.1L314.5,321.6M298.2,321.5L294,310.8M326.5,311.1L322.2,300.4M394.6,162.8L405.8,152.2M375.9,151.9L387.1,141.4M402,141.5L405.8,152.2M387.2,184L398.5,173.4M398.5,173.4L394.6,162.8M379.8,205.2L391.2,194.7M391.2,194.7L387.2,184M372.4,226.4L383.9,215.9M383.9,215.9L379.8,205.2M365,247.6L376.5,237.1M376.5,237.1L372.4,226.4M357.6,268.8L369.2,258.3M369.2,258.3L365,247.6M350.2,290L361.9,279.5M361.9,279.5L357.6,268.8M342.8,311.2L354.6,300.7M354.6,300.7L350.2,290M413.6,173.6L424.7,163.1M424.7,163.1L420.8,152.4M406.5,194.8L417.7,184.3M417.7,184.3L413.6,173.6M399.3,216L410.6,205.5M410.6,205.5L406.5,194.8M392.2,237.2L403.6,226.7M403.6,226.7L399.3,216M385.1,258.4L396.5,247.9M396.5,247.9L392.2,237.2M377.9,279.6L389.4,269.1M389.4,269.1L385.1,258.4M370.8,300.9L382.4,290.3M382.4,290.3L377.9,279.6M375.3,311.5L363.6,322.1M347.3,321.9L342.8,311.2M375.3,311.5L370.8,300.9M439.8,163.3L450.7,152.8M420.8,152.4L431.8,141.9M446.6,142.1L450.7,152.8M432.9,184.5L443.9,174M443.9,174L439.8,163.3M426,205.7L437.1,195.2M437.1,195.2L432.9,184.5M419.1,226.9L430.3,216.4M430.3,216.4L426,205.7M412.3,248.1L423.5,237.6M423.5,237.6L419.1,226.9M405.4,269.3L416.7,258.8M416.7,258.8L412.3,248.1M398.5,290.5L409.9,280M409.9,280L405.4,269.3M391.6,311.7L403.2,301.1M403.2,301.1L398.5,290.5M459,174.2L469.9,163.6M469.9,163.6L465.6,153M452.4,195.3L463.3,184.8M463.3,184.8L459,174.2M445.8,216.5L456.8,206M456.8,206L452.4,195.3M439.2,237.7L450.3,227.2M450.3,227.2L445.8,216.5M432.6,258.9L443.8,248.4M443.8,248.4L439.2,237.7M426,280.1L437.2,269.6M437.2,269.6L432.6,258.9M419.3,301.3L430.7,290.8M430.7,290.8L426,280.1M424.2,312L412.7,322.5M396.4,322.3L391.6,311.7M424.2,312L419.3,301.3M484.9,163.8L495.6,153.3M465.6,153L476.4,142.5M491.3,142.6L495.6,153.3M478.6,185L489.3,174.5M489.3,174.5L484.9,163.8M472.2,206.2L483,195.7M483,195.7L478.6,185M465.9,227.4L476.8,216.9M476.8,216.9L472.2,206.2M459.5,248.6L470.5,238.1M470.5,238.1L465.9,227.4M453.1,269.7L464.2,259.2M464.2,259.2L459.5,248.6M446.8,290.9L458,280.4M458,280.4L453.1,269.7M440.4,312.1L451.7,301.6M451.7,301.6L446.8,290.9M515,164.2L504.4,174.7M510.5,153.5L515,164.2M509,185.4L498.3,195.9M504.4,174.7L509,185.4M503,206.5L492.3,217M498.3,195.9L503,206.5M497,227.7L486.2,238.2M492.3,217L497,227.7M491,248.9L480.1,259.4M486.2,238.2L491,248.9M485,270.1L474,280.6M480.1,259.4L485,270.1M479,291.2L467.9,301.7M474,280.6L479,291.2M473,312.4L461.8,322.9M445.5,322.8L440.4,312.1M467.9,301.7L473,312.4" stroke="#dca81a" stroke-width="7.2"/>
<path d="M108.7,159.4L123.7,159.6M119.4,138.1L134.3,138.3M98,180.7L113.2,180.8M87.2,202L102.6,202.1M76.5,223.3L92.1,223.4M65.8,244.6L81.5,244.7M55,265.8L70.9,266M44.3,287.1L60.4,287.3M49.8,308.6L33.5,308.4M126,170.3L141.2,170.5M136.5,149L151.5,149.2M115.6,191.6L130.9,191.7M105.1,212.9L120.6,213M94.6,234.1L110.3,234.3M84.1,255.4L100,255.6M73.7,276.7L89.7,276.9M63.2,298L79.4,298.2M69.1,319.4L52.7,319.3M153.8,159.9L168.9,160.1M164.1,138.6L178.9,138.8M143.6,181.2L158.9,181.4M133.4,202.5L148.8,202.6M123.2,223.8L138.8,223.9M113,245L128.8,245.2M102.8,266.3L118.7,266.5M92.6,287.6L108.7,287.7M98.7,309L82.4,308.9M171.4,170.8L186.6,171M181.4,149.5L196.4,149.7M161.5,192.1L176.8,192.3M151.6,213.4L167,213.5M141.6,234.6L157.3,234.8M131.7,255.9L147.5,256.1M121.7,277.2L137.7,277.3M111.8,298.5L128,298.6M118.2,319.9L101.8,319.7M199,160.4L214,160.6M208.7,139.2L223.5,139.4M189.3,181.7L204.5,181.9M179.6,203L195,203.1M169.9,224.2L185.5,224.4M160.3,245.5L176,245.7M150.6,266.8L166.5,266.9M140.9,288L157,288.2M147.5,309.5L131.2,309.3M216.9,171.3L232,171.5M226.3,150.1L241.2,150.3M207.4,192.6L222.7,192.8M198,213.9L213.5,214M188.6,235.1L204.3,235.3M179.2,256.4L195,256.5M169.7,277.6L185.8,277.8M160.3,298.9L176.5,299.1M167.3,320.3L150.9,320.2M244.1,161L259.2,161.2M253.3,139.7L268.2,139.9M235,182.2L250.2,182.4M225.8,203.5L241.2,203.7M216.7,224.7L232.2,224.9M207.5,246L223.3,246.2M198.3,267.2L214.3,267.4M189.2,288.5L205.3,288.7M196.3,309.9L180,309.8M262.3,171.9L277.4,172M271.2,150.6L286.1,150.8M253.4,193.1L268.7,193.3M244.5,214.4L260,214.5M235.6,235.6L251.2,235.8M226.7,256.9L242.5,257M217.8,278.1L233.8,278.3M208.9,299.4L225.1,299.5M216.4,320.7L200,320.6M289.3,161.5L304.3,161.7M297.9,140.3L312.8,140.5M280.6,182.8L295.9,182.9M272,204L287.4,204.2M263.4,225.2L279,225.4M254.8,246.5L270.5,246.6M246.1,267.7L262,267.9M237.5,289L253.6,289.1M245.1,310.3L228.9,310.2M307.7,172.4L322.8,172.6M316,151.2L331,151.3M299.3,193.6L314.6,193.8M290.9,214.9L306.4,215M282.6,236.1L298.2,236.3M274.2,257.3L290,257.5M265.8,278.6L281.8,278.7M257.5,299.8L273.6,300M265.5,321.2L249.1,321M334.4,162L349.5,162.2M342.5,140.8L357.4,141M326.3,183.3L341.5,183.4M318.2,204.5L333.6,204.7M310.1,225.7L325.7,225.9M302,247L317.8,247.1M293.9,268.2L309.8,268.3M285.8,289.4L301.9,289.6M294,310.8L277.7,310.6M353.1,172.9L368.2,173.1M360.9,151.7L375.9,151.9M345.2,194.1L360.5,194.3M337.4,215.4L352.9,215.5M329.5,236.6L345.2,236.7M321.7,257.8L337.5,258M313.9,279L329.9,279.2M306,300.3L322.2,300.4M314.5,321.6L298.2,321.5M379.6,162.6L394.6,162.8M387.1,141.4L402,141.5M372,183.8L387.2,184M364.4,205L379.8,205.2M356.8,226.2L372.4,226.4M349.3,247.4L365,247.6M341.7,268.7L357.6,268.8M334.1,289.9L350.2,290M342.8,311.2L326.5,311.1M398.5,173.4L413.6,173.6M405.8,152.2L420.8,152.4M391.2,194.7L406.5,194.8M383.9,215.9L399.3,216M376.5,237.1L392.2,237.2M369.2,258.3L385.1,258.4M361.9,279.5L377.9,279.6M354.6,300.7L370.8,300.9M363.6,322.1L347.3,321.9M424.7,163.1L439.8,163.3M431.8,141.9L446.6,142.1M417.7,184.3L432.9,184.5M410.6,205.5L426,205.7M403.6,226.7L419.1,226.9M396.5,247.9L412.3,248.1M389.4,269.1L405.4,269.3M382.4,290.3L398.5,290.5M391.6,311.7L375.3,311.5M443.9,174L459,174.2M450.7,152.8L465.6,153M437.1,195.2L452.4,195.3M430.3,216.4L445.8,216.5M423.5,237.6L439.2,237.7M416.7,258.8L432.6,258.9M409.9,280L426,280.1M403.2,301.1L419.3,301.3M412.7,322.5L396.4,322.3M469.9,163.6L484.9,163.8M476.4,142.5L491.3,142.6M463.3,184.8L478.6,185M456.8,206L472.2,206.2M450.3,227.2L465.9,227.4M443.8,248.4L459.5,248.6M437.2,269.6L453.1,269.7M430.7,290.8L446.8,290.9M440.4,312.1L424.2,312M489.3,174.5L504.4,174.7M495.6,153.3L510.5,153.5M483,195.7L498.3,195.9M476.8,216.9L492.3,217M470.5,238.1L486.2,238.2M464.2,259.2L480.1,259.4M458,280.4L474,280.6M451.7,301.6L467.9,301.7M461.8,322.9L445.5,322.8M123.7,159.6L136.5,149M108.7,159.4L106.6,148.6M106.6,148.6L119.4,138.1M134.3,138.3L136.5,149M113.2,180.8L126,170.3M98,180.7L95.8,169.9M95.8,169.9L108.7,159.4M126,170.3L123.7,159.6M102.6,202.1L115.6,191.6M87.2,202L84.9,191.2M84.9,191.2L98,180.7M115.6,191.6L113.2,180.8M92.1,223.4L105.1,212.9M76.5,223.3L74.1,212.5M74.1,212.5L87.2,202M105.1,212.9L102.6,202.1M81.5,244.7L94.6,234.1M65.8,244.6L63.3,233.8M63.3,233.8L76.5,223.3M94.6,234.1L92.1,223.4M70.9,266L84.1,255.4M55,265.8L52.5,255.1M52.5,255.1L65.8,244.6M84.1,255.4L81.5,244.7M60.4,287.3L73.7,276.7M44.3,287.1L41.6,276.4M41.6,276.4L55,265.8M73.7,276.7L70.9,266M49.8,308.6L63.2,298M33.5,308.4L30.8,297.7M30.8,297.7L44.3,287.1M63.2,298L60.4,287.3M141.2,170.5L153.8,159.9M153.8,159.9L151.5,149.2M130.9,191.7L143.6,181.2M143.6,181.2L141.2,170.5M120.6,213L133.4,202.5M133.4,202.5L130.9,191.7M110.3,234.3L123.2,223.8M123.2,223.8L120.6,213M100,255.6L113,245M113,245L110.3,234.3M89.7,276.9L102.8,266.3M102.8,266.3L100,255.6M79.4,298.2L92.6,287.6M92.6,287.6L89.7,276.9M82.4,308.9L69.1,319.4M52.7,319.3L49.8,308.6M82.4,308.9L79.4,298.2M168.9,160.1L181.4,149.5M151.5,149.2L164.1,138.6M178.9,138.8L181.4,149.5M158.9,181.4L171.4,170.8M171.4,170.8L168.9,160.1M148.8,202.6L161.5,192.1M161.5,192.1L158.9,181.4M138.8,223.9L151.6,213.4M151.6,213.4L148.8,202.6M128.8,245.2L141.6,234.6M141.6,234.6L138.8,223.9M118.7,266.5L131.7,255.9M131.7,255.9L128.8,245.2M108.7,287.7L121.7,277.2M121.7,277.2L118.7,266.5M98.7,309L111.8,298.5M111.8,298.5L108.7,287.7M186.6,171L199,160.4M199,160.4L196.4,149.7M176.8,192.3L189.3,181.7M189.3,181.7L186.6,171M167,213.5L179.6,203M179.6,203L176.8,192.3M157.3,234.8L169.9,224.2M169.9,224.2L167,213.5M147.5,256.1L160.3,245.5M160.3,245.5L157.3,234.8M137.7,277.3L150.6,266.8M150.6,266.8L147.5,256.1M128,298.6L140.9,288M140.9,288L137.7,277.3M131.2,309.3L118.2,319.9M101.8,319.7L98.7,309M131.2,309.3L128,298.6M214,160.6L226.3,150.1M196.4,149.7L208.7,139.2M223.5,139.4L226.3,150.1M204.5,181.9L216.9,171.3M216.9,171.3L214,160.6M195,203.1L207.4,192.6M207.4,192.6L204.5,181.9M185.5,224.4L198,213.9M198,213.9L195,203.1M176,245.7L188.6,235.1M188.6,235.1L185.5,224.4M166.5,266.9L179.2,256.4M179.2,256.4L176,245.7M157,288.2L169.7,277.6M169.7,277.6L166.5,266.9M147.5,309.5L160.3,298.9M160.3,298.9L157,288.2M232,171.5L244.1,161M244.1,161L241.2,150.3M222.7,192.8L235,182.2M235,182.2L232,171.5M213.5,214L225.8,203.5M225.8,203.5L222.7,192.8M204.3,235.3L216.7,224.7M216.7,224.7L213.5,214M195,256.5L207.5,246M207.5,246L204.3,235.3M185.8,277.8L198.3,267.2M198.3,267.2L195,256.5M176.5,299.1L189.2,288.5M189.2,288.5L185.8,277.8M180,309.8L167.3,320.3M150.9,320.2L147.5,309.5M180,309.8L176.5,299.1M259.2,161.2L271.2,150.6M241.2,150.3L253.3,139.7M268.2,139.9L271.2,150.6M250.2,182.4L262.3,171.9M262.3,171.9L259.2,161.2M241.2,203.7L253.4,193.1M253.4,193.1L250.2,182.4M232.2,224.9L244.5,214.4M244.5,214.4L241.2,203.7M223.3,246.2L235.6,235.6M235.6,235.6L232.2,224.9M214.3,267.4L226.7,256.9M226.7,256.9L223.3,246.2M205.3,288.7L217.8,278.1M217.8,278.1L214.3,267.4M196.3,309.9L208.9,299.4M208.9,299.4L205.3,288.7M277.4,172L289.3,161.5M289.3,161.5L286.1,150.8M268.7,193.3L280.6,182.8M280.6,182.8L277.4,172M260,214.5L272,204M272,204L268.7,193.3M251.2,235.8L263.4,225.2M263.4,225.2L260,214.5M242.5,257L254.8,246.5M254.8,246.5L251.2,235.8M233.8,278.3L246.1,267.7M246.1,267.7L242.5,257M225.1,299.5L237.5,289M237.5,289L233.8,278.3M228.9,310.2L216.4,320.7M200,320.6L196.3,309.9M228.9,310.2L225.1,299.5M304.3,161.7L316,151.2M286.1,150.8L297.9,140.3M312.8,140.5L316,151.2M295.9,182.9L307.7,172.4M307.7,172.4L304.3,161.7M287.4,204.2L299.3,193.6M299.3,193.6L295.9,182.9M279,225.4L290.9,214.9M290.9,214.9L287.4,204.2M270.5,246.6L282.6,236.1M282.6,236.1L279,225.4M262,267.9L274.2,257.3M274.2,257.3L270.5,246.6M253.6,289.1L265.8,278.6M265.8,278.6L262,267.9M245.1,310.3L257.5,299.8M257.5,299.8L253.6,289.1M322.8,172.6L334.4,162M334.4,162L331,151.3M314.6,193.8L326.3,183.3M326.3,183.3L322.8,172.6M306.4,215L318.2,204.5M318.2,204.5L314.6,193.8M298.2,236.3L310.1,225.7M310.1,225.7L306.4,215M290,257.5L302,247M302,247L298.2,236.3M281.8,278.7L293.9,268.2M293.9,268.2L290,257.5M273.6,300L285.8,289.4M285.8,289.4L281.8,278.7M277.7,310.6L265.5,321.2M249.1,321L245.1,310.3M277.7,310.6L273.6,300M349.5,162.2L360.9,151.7M331,151.3L342.5,140.8M357.4,141L360.9,151.7M341.5,183.4L353.1,172.9M353.1,172.9L349.5,162.2M333.6,204.7L345.2,194.1M345.2,194.1L341.5,183.4M325.7,225.9L337.4,215.4M337.4,215.4L333.6,204.7M317.8,247.1L329.5,236.6M329.5,236.6L325.7,225.9M309.8,268.3L321.7,257.8M321.7,257.8L317.8,247.1M301.9,289.6L313.9,279M313.9,279L309.8,268.3M294,310.8L306,300.3M306,300.3L301.9,289.6M368.2,173.1L379.6,162.6M379.6,162.6L375.9,151.9M360.5,194.3L372,183.8M372,183.8L368.2,173.1M352.9,215.5L364.4,205M364.4,205L360.5,194.3M345.2,236.7L356.8,226.2M356.8,226.2L352.9,215.5M337.5,258L349.3,247.4M349.3,247.4L345.2,236.7M329.9,279.2L341.7,268.7M341.7,268.7L337.5,258M322.2,300.4L334.1,289.9M334.1,289.9L329.9,279.2M326.5,311.1L314.5,321.6M298.2,321.5L294,310.8M326.5,311.1L322.2,300.4M394.6,162.8L405.8,152.2M375.9,151.9L387.1,141.4M402,141.5L405.8,152.2M387.2,184L398.5,173.4M398.5,173.4L394.6,162.8M379.8,205.2L391.2,194.7M391.2,194.7L387.2,184M372.4,226.4L383.9,215.9M383.9,215.9L379.8,205.2M365,247.6L376.5,237.1M376.5,237.1L372.4,226.4M357.6,268.8L369.2,258.3M369.2,258.3L365,247.6M350.2,290L361.9,279.5M361.9,279.5L357.6,268.8M342.8,311.2L354.6,300.7M354.6,300.7L350.2,290M413.6,173.6L424.7,163.1M424.7,163.1L420.8,152.4M406.5,194.8L417.7,184.3M417.7,184.3L413.6,173.6M399.3,216L410.6,205.5M410.6,205.5L406.5,194.8M392.2,237.2L403.6,226.7M403.6,226.7L399.3,216M385.1,258.4L396.5,247.9M396.5,247.9L392.2,237.2M377.9,279.6L389.4,269.1M389.4,269.1L385.1,258.4M370.8,300.9L382.4,290.3M382.4,290.3L377.9,279.6M375.3,311.5L363.6,322.1M347.3,321.9L342.8,311.2M375.3,311.5L370.8,300.9M439.8,163.3L450.7,152.8M420.8,152.4L431.8,141.9M446.6,142.1L450.7,152.8M432.9,184.5L443.9,174M443.9,174L439.8,163.3M426,205.7L437.1,195.2M437.1,195.2L432.9,184.5M419.1,226.9L430.3,216.4M430.3,216.4L426,205.7M412.3,248.1L423.5,237.6M423.5,237.6L419.1,226.9M405.4,269.3L416.7,258.8M416.7,258.8L412.3,248.1M398.5,290.5L409.9,280M409.9,280L405.4,269.3M391.6,311.7L403.2,301.1M403.2,301.1L398.5,290.5M459,174.2L469.9,163.6M469.9,163.6L465.6,153M452.4,195.3L463.3,184.8M463.3,184.8L459,174.2M445.8,216.5L456.8,206M456.8,206L452.4,195.3M439.2,237.7L450.3,227.2M450.3,227.2L445.8,216.5M432.6,258.9L443.8,248.4M443.8,248.4L439.2,237.7M426,280.1L437.2,269.6M437.2,269.6L432.6,258.9M419.3,301.3L430.7,290.8M430.7,290.8L426,280.1M424.2,312L412.7,322.5M396.4,322.3L391.6,311.7M424.2,312L419.3,301.3M484.9,163.8L495.6,153.3M465.6,153L476.4,142.5M491.3,142.6L495.6,153.3M478.6,185L489.3,174.5M489.3,174.5L484.9,163.8M472.2,206.2L483,195.7M483,195.7L478.6,185M465.9,227.4L476.8,216.9M476.8,216.9L472.2,206.2M459.5,248.6L470.5,238.1M470.5,238.1L465.9,227.4M453.1,269.7L464.2,259.2M464.2,259.2L459.5,248.6M446.8,290.9L458,280.4M458,280.4L453.1,269.7M440.4,312.1L451.7,301.6M451.7,301.6L446.8,290.9M515,164.2L504.4,174.7M510.5,153.5L515,164.2M509,185.4L498.3,195.9M504.4,174.7L509,185.4M503,206.5L492.3,217M498.3,195.9L503,206.5M497,227.7L486.2,238.2M492.3,217L497,227.7M491,248.9L480.1,259.4M486.2,238.2L491,248.9M485,270.1L474,280.6M480.1,259.4L485,270.1M479,291.2L467.9,301.7M474,280.6L479,291.2M473,312.4L461.8,322.9M445.5,322.8L440.4,312.1M467.9,301.7L473,312.4" stroke="#cb9a14" stroke-width="4.800000000000001"/>
<path d="M108.7,159.4h0M123.7,159.6h0M119.4,138.1h0M134.3,138.3h0M98,180.7h0M113.2,180.8h0M87.2,202h0M102.6,202.1h0M76.5,223.3h0M92.1,223.4h0M65.8,244.6h0M81.5,244.7h0M55,265.8h0M70.9,266h0M44.3,287.1h0M60.4,287.3h0M49.8,308.6h0M33.5,308.4h0M126,170.3h0M141.2,170.5h0M136.5,149h0M151.5,149.2h0M115.6,191.6h0M130.9,191.7h0M105.1,212.9h0M120.6,213h0M94.6,234.1h0M110.3,234.3h0M84.1,255.4h0M100,255.6h0M73.7,276.7h0M89.7,276.9h0M63.2,298h0M79.4,298.2h0M69.1,319.4h0M52.7,319.3h0M153.8,159.9h0M168.9,160.1h0M164.1,138.6h0M178.9,138.8h0M143.6,181.2h0M158.9,181.4h0M133.4,202.5h0M148.8,202.6h0M123.2,223.8h0M138.8,223.9h0M113,245h0M128.8,245.2h0M102.8,266.3h0M118.7,266.5h0M92.6,287.6h0M108.7,287.7h0M98.7,309h0M82.4,308.9h0M171.4,170.8h0M186.6,171h0M181.4,149.5h0M196.4,149.7h0M161.5,192.1h0M176.8,192.3h0M151.6,213.4h0M167,213.5h0M141.6,234.6h0M157.3,234.8h0M131.7,255.9h0M147.5,256.1h0M121.7,277.2h0M137.7,277.3h0M111.8,298.5h0M128,298.6h0M118.2,319.9h0M101.8,319.7h0M199,160.4h0M214,160.6h0M208.7,139.2h0M223.5,139.4h0M189.3,181.7h0M204.5,181.9h0M179.6,203h0M195,203.1h0M169.9,224.2h0M185.5,224.4h0M160.3,245.5h0M176,245.7h0M150.6,266.8h0M166.5,266.9h0M140.9,288h0M157,288.2h0M147.5,309.5h0M131.2,309.3h0M216.9,171.3h0M232,171.5h0M226.3,150.1h0M241.2,150.3h0M207.4,192.6h0M222.7,192.8h0M198,213.9h0M213.5,214h0M188.6,235.1h0M204.3,235.3h0M179.2,256.4h0M195,256.5h0M169.7,277.6h0M185.8,277.8h0M160.3,298.9h0M176.5,299.1h0M167.3,320.3h0M150.9,320.2h0M244.1,161h0M259.2,161.2h0M253.3,139.7h0M268.2,139.9h0M235,182.2h0M250.2,182.4h0M225.8,203.5h0M241.2,203.7h0M216.7,224.7h0M232.2,224.9h0M207.5,246h0M223.3,246.2h0M198.3,267.2h0M214.3,267.4h0M189.2,288.5h0M205.3,288.7h0M196.3,309.9h0M180,309.8h0M262.3,171.9h0M277.4,172h0M271.2,150.6h0M286.1,150.8h0M253.4,193.1h0M268.7,193.3h0M244.5,214.4h0M260,214.5h0M235.6,235.6h0M251.2,235.8h0M226.7,256.9h0M242.5,257h0M217.8,278.1h0M233.8,278.3h0M208.9,299.4h0M225.1,299.5h0M216.4,320.7h0M200,320.6h0M289.3,161.5h0M304.3,161.7h0M297.9,140.3h0M312.8,140.5h0M280.6,182.8h0M295.9,182.9h0M272,204h0M287.4,204.2h0M263.4,225.2h0M279,225.4h0M254.8,246.5h0M270.5,246.6h0M246.1,267.7h0M262,267.9h0M237.5,289h0M253.6,289.1h0M245.1,310.3h0M228.9,310.2h0M307.7,172.4h0M322.8,172.6h0M316,151.2h0M331,151.3h0M299.3,193.6h0M314.6,193.8h0M290.9,214.9h0M306.4,215h0M282.6,236.1h0M298.2,236.3h0M274.2,257.3h0M290,257.5h0M265.8,278.6h0M281.8,278.7h0M257.5,299.8h0M273.6,300h0M265.5,321.2h0M249.1,321h0M334.4,162h0M349.5,162.2h0M342.5,140.8h0M357.4,141h0M326.3,183.3h0M341.5,183.4h0M318.2,204.5h0M333.6,204.7h0M310.1,225.7h0M325.7,225.9h0M302,247h0M317.8,247.1h0M293.9,268.2h0M309.8,268.3h0M285.8,289.4h0M301.9,289.6h0M294,310.8h0M277.7,310.6h0M353.1,172.9h0M368.2,173.1h0M360.9,151.7h0M375.9,151.9h0M345.2,194.1h0M360.5,194.3h0M337.4,215.4h0M352.9,215.5h0M329.5,236.6h0M345.2,236.7h0M321.7,257.8h0M337.5,258h0M313.9,279h0M329.9,279.2h0M306,300.3h0M322.2,300.4h0M314.5,321.6h0M298.2,321.5h0M379.6,162.6h0M394.6,162.8h0M387.1,141.4h0M402,141.5h0M372,183.8h0M387.2,184h0M364.4,205h0M379.8,205.2h0M356.8,226.2h0M372.4,226.4h0M349.3,247.4h0M365,247.6h0M341.7,268.7h0M357.6,268.8h0M334.1,289.9h0M350.2,290h0M342.8,311.2h0M326.5,311.1h0M398.5,173.4h0M413.6,173.6h0M405.8,152.2h0M420.8,152.4h0M391.2,194.7h0M406.5,194.8h0M383.9,215.9h0M399.3,216h0M376.5,237.1h0M392.2,237.2h0M369.2,258.3h0M385.1,258.4h0M361.9,279.5h0M377.9,279.6h0M354.6,300.7h0M370.8,300.9h0M363.6,322.1h0M347.3,321.9h0M424.7,163.1h0M439.8,163.3h0M431.8,141.9h0M446.6,142.1h0M417.7,184.3h0M432.9,184.5h0M410.6,205.5h0M426,205.7h0M403.6,226.7h0M419.1,226.9h0M396.5,247.9h0M412.3,248.1h0M389.4,269.1h0M405.4,269.3h0M382.4,290.3h0M398.5,290.5h0M391.6,311.7h0M375.3,311.5h0M443.9,174h0M459,174.2h0M450.7,152.8h0M465.6,153h0M437.1,195.2h0M452.4,195.3h0M430.3,216.4h0M445.8,216.5h0M423.5,237.6h0M439.2,237.7h0M416.7,258.8h0M432.6,258.9h0M409.9,280h0M426,280.1h0M403.2,301.1h0M419.3,301.3h0M412.7,322.5h0M396.4,322.3h0M469.9,163.6h0M484.9,163.8h0M476.4,142.5h0M491.3,142.6h0M463.3,184.8h0M478.6,185h0M456.8,206h0M472.2,206.2h0M450.3,227.2h0M465.9,227.4h0M443.8,248.4h0M459.5,248.6h0M437.2,269.6h0M453.1,269.7h0M430.7,290.8h0M446.8,290.9h0M440.4,312.1h0M424.2,312h0M489.3,174.5h0M504.4,174.7h0M495.6,153.3h0M510.5,153.5h0M483,195.7h0M498.3,195.9h0M476.8,216.9h0M492.3,217h0M470.5,238.1h0M486.2,238.2h0M464.2,259.2h0M480.1,259.4h0M458,280.4h0M474,280.6h0M451.7,301.6h0M467.9,301.7h0M461.8,322.9h0M445.5,322.8h0M106.6,148.6h0M95.8,169.9h0M84.9,191.2h0M74.1,212.5h0M63.3,233.8h0M52.5,255.1h0M41.6,276.4h0M30.8,297.7h0M515,164.2h0M509,185.4h0M503,206.5h0M497,227.7h0M491,248.9h0M485,270.1h0M479,291.2h0M473,312.4h0" stroke="#2c1700" stroke-width="7.2"/>
<path d="M110.6,159.4L121.9,159.5M121.3,138.1L132.4,138.2M99.9,180.7L111.3,180.8M89.2,202L100.7,202.1M78.4,223.3L90.1,223.4M67.7,244.6L79.5,244.7M57,265.9L69,266M46.3,287.2L58.4,287.3M47.8,308.6L35.6,308.4M127.9,170.3L139.3,170.4M138.4,149L149.6,149.2M117.5,191.6L129,191.7M107,212.9L118.6,213M96.6,234.2L108.3,234.3M86.1,255.5L98,255.6M75.7,276.7L87.7,276.9M65.2,298L77.4,298.1M67,319.4L54.8,319.3M155.7,159.9L167,160.1M165.9,138.7L177.1,138.8M145.5,181.2L157,181.3M135.4,202.5L146.9,202.6M125.2,223.8L136.8,223.9M115,245.1L126.8,245.2M104.8,266.3L116.7,266.4M94.6,287.6L106.7,287.7M96.6,309L84.4,308.9M173.3,170.8L184.7,171M183.3,149.6L194.5,149.7M163.4,192.1L174.9,192.2M153.5,213.4L165.1,213.5M143.6,234.7L155.3,234.8M133.6,255.9L145.5,256M123.7,277.2L135.7,277.3M113.8,298.5L125.9,298.6M116.1,319.9L103.9,319.7M200.9,160.5L212.2,160.6M210.5,139.2L221.7,139.3M191.2,181.7L202.6,181.9M181.5,203L193.1,203.1M171.9,224.3L183.6,224.4M162.2,245.5L174,245.7M152.6,266.8L164.5,266.9M142.9,288.1L155,288.2M145.4,309.4L133.2,309.3M218.7,171.4L230.1,171.5M228.1,150.1L239.4,150.2M209.3,192.6L220.8,192.8M199.9,213.9L211.6,214M190.5,235.1L202.3,235.3M181.1,256.4L193,256.5M171.8,277.7L183.8,277.8M162.4,298.9L174.5,299M165.2,320.3L153,320.2M246,161L257.3,161.1M255.1,139.8L266.3,139.9M236.9,182.3L248.3,182.4M227.7,203.5L239.3,203.6M218.6,224.8L230.3,224.9M209.5,246L221.3,246.1M200.3,267.3L212.3,267.4M191.2,288.5L203.3,288.6M194.3,309.9L182.1,309.8M264.2,171.9L275.5,172M273,150.6L284.2,150.8M255.3,193.1L266.8,193.3M246.4,214.4L258,214.5M237.5,235.6L249.3,235.8M228.7,256.9L240.5,257M219.8,278.1L231.8,278.2M210.9,299.4L223.1,299.5M214.3,320.7L202,320.6M291.2,161.5L302.4,161.7M299.8,140.3L310.9,140.4M282.5,182.8L294,182.9M273.9,204L285.5,204.1M265.3,225.3L277,225.4M256.7,246.5L268.5,246.6M248.1,267.7L260.1,267.9M239.5,289L251.6,289.1M243.1,310.3L230.9,310.2M309.6,172.4L320.9,172.6M317.9,151.2L329.1,151.3M301.2,193.7L312.7,193.8M292.9,214.9L304.5,215M284.5,236.1L296.3,236.2M276.2,257.4L288.1,257.5M267.8,278.6L279.8,278.7M259.5,299.8L271.6,299.9M263.4,321.2L251.1,321.1M336.3,162.1L347.6,162.2M344.4,140.8L355.5,141M328.2,183.3L339.6,183.4M320.1,204.5L331.7,204.6M312.1,225.8L323.7,225.9M304,247L315.8,247.1M295.9,268.2L307.8,268.3M287.8,289.4L299.9,289.5M291.9,310.8L279.7,310.7M355,172.9L366.3,173.1M362.8,151.7L374,151.9M347.1,194.2L358.6,194.3M339.3,215.4L350.9,215.5M331.5,236.6L343.3,236.7M323.7,257.8L335.6,257.9M315.9,279L327.9,279.2M308,300.3L320.2,300.4M312.5,321.6L300.2,321.5M381.4,162.6L392.7,162.7M389,141.4L400.2,141.5M373.9,183.8L385.3,183.9M366.3,205L377.9,205.2M358.8,226.2L370.5,226.4M351.2,247.5L363,247.6M343.7,268.7L355.6,268.8M336.1,289.9L348.2,290M340.8,311.2L328.6,311.1M400.4,173.5L411.7,173.6M407.7,152.3L418.9,152.4M393.1,194.7L404.6,194.8M385.8,215.9L397.4,216M378.5,237.1L390.2,237.2M371.2,258.3L383.1,258.4M363.9,279.5L375.9,279.6M356.6,300.7L368.8,300.8M361.6,322L349.3,321.9M426.6,163.1L437.9,163.3M433.6,141.9L444.8,142.1M419.6,184.3L431,184.5M412.5,205.5L424.1,205.7M405.5,226.7L417.2,226.9M398.5,247.9L410.3,248.1M391.4,269.1L403.4,269.3M384.4,290.3L396.5,290.5M389.6,311.7L377.4,311.5M445.8,174L457.1,174.1M452.5,152.8L463.8,152.9M439,195.2L450.5,195.3M432.2,216.4L443.9,216.5M425.5,237.6L437.2,237.7M418.7,258.8L430.6,258.9M411.9,280L424,280.1M405.2,301.2L417.3,301.3M410.7,322.5L398.4,322.4M471.7,163.7L483,163.8M478.2,142.5L489.4,142.6M465.2,184.9L476.6,185M458.7,206L470.3,206.2M452.2,227.2L463.9,227.4M445.7,248.4L457.5,248.5M439.2,269.6L451.2,269.7M432.7,290.8L444.8,290.9M438.4,312.1L426.2,312M491.2,174.5L502.5,174.7M497.4,153.3L508.6,153.5M484.9,195.7L496.4,195.8M478.7,216.9L490.3,217M472.5,238.1L484.2,238.2M466.2,259.3L478.1,259.4M460,280.4L472,280.6M453.7,301.6L465.9,301.7M459.8,322.9L447.5,322.8" stroke="#8f8a44" stroke-width="3"/>
</g>
<text x="229.5" y="369.7" font-size="48" text-anchor="middle" font-weight="bold" fill="#000" >COF</text>
<path d="M518.2,248.5L715.3,248.5L699.4,231.2L791,254.2L699.4,277.2L715.3,259.9L518.2,259.9Z" fill="#000"/>
<text x="634.3" y="316.3" font-size="48.5" text-anchor="middle" font-weight="bold" fill="#000" >FAM-probe</text>
<g filter="url(#soft)">
<path d="M566.6,220.6L568.7,220.5L570.7,220.1L572.8,219.4L574.8,218.6L576.9,217.5L578.9,216.4L581,215.1L583,213.8L585.1,212.5L587.1,211.4L589.2,210.3L591.2,209.5L593.3,208.8L595.3,208.4L597.4,208.3L599.4,208.4L601.5,208.6L603.5,209L605.6,209.5L607.6,210.2L609.6,210.9L611.7,211.8L613.7,212.8L615.8,213.9L617.8,215L619.8,216.2L621.9,217.4L623.9,218.6L626,219.8L628,221L630,222.1L632.1,223.2L634.1,224.2L636.2,225.1L638.2,225.8L640.2,226.5L642.3,227L644.3,227.4L646.4,227.6L648.4,227.7L650.5,227.6L652.5,227.4L654.6,227L656.7,226.5L658.7,225.8L660.8,225L662.9,224.2L665,223.2L667,222.1L669.1,221L671.2,219.9L673.2,218.8L675.3,217.7L677.4,216.6L679.4,215.5L681.5,214.5L683.6,213.7L685.7,212.9L687.7,212.2L689.8,211.7L691.9,211.3L693.9,211.1L696,211" fill="none" stroke="#a8dcf6" stroke-width="7" stroke-linecap="round" opacity="0.75"/>
<path d="M566.6,218.6L568.7,218.5L570.7,218.1L572.8,217.4L574.8,216.6L576.9,215.5L578.9,214.4L581,213.1L583,211.8L585.1,210.5L587.1,209.4L589.2,208.3L591.2,207.5L593.3,206.8L595.3,206.4L597.4,206.3L599.4,206.4L601.5,206.6L603.5,207L605.6,207.5L607.6,208.2L609.6,208.9L611.7,209.8L613.7,210.8L615.8,211.9L617.8,213L619.8,214.2L621.9,215.4L623.9,216.6L626,217.8L628,219L630,220.1L632.1,221.2L634.1,222.2L636.2,223.1L638.2,223.8L640.2,224.5L642.3,225L644.3,225.4L646.4,225.6L648.4,225.7L650.5,225.6L652.5,225.4L654.6,225L656.7,224.5L658.7,223.8L660.8,223L662.9,222.2L665,221.2L667,220.1L669.1,219L671.2,217.9L673.2,216.8L675.3,215.7L677.4,214.6L679.4,213.5L681.5,212.5L683.6,211.7L685.7,210.9L687.7,210.2L689.8,209.7L691.9,209.3L693.9,209.1L696,209" fill="none" stroke="#48aae8" stroke-width="3.2" stroke-linecap="round"/>
</g>
<path d="M722.6,207.7L720,210.9L720.5,215L716.5,216.3L714.7,220L710.7,218.9L707.2,221.1L704.4,218L700.3,217.9L699.6,213.8L696.1,211.5L697.8,207.7L696.1,203.9L699.6,201.6L700.3,197.5L704.4,197.4L707.2,194.3L710.7,196.5L714.7,195.4L716.5,199.1L720.5,200.4L720,204.5Z" fill="#08e008" stroke="#08e008" stroke-width="2" stroke-linejoin="round"/>
<circle cx="707.1" cy="203.7" r="2" fill="#1e8ac0"/>
<circle cx="713.1" cy="210.7" r="1.8" fill="#1e8ac0"/>
<circle cx="705.1" cy="211.7" r="1.6" fill="#2aa060"/>
<mask id="cp2" maskUnits="userSpaceOnUse" x="0" y="0" width="2022" height="2000"><path d="M1020,170L1196,172L1202,255L1185,295L860,295L900,260L970,210Z" fill="#fff" filter="url(#feather)"/></mask>
<g mask="url(#cp2)"><g stroke-linecap="round" fill="none" filter="url(#soft)">
<path d="M827,163.3L842.1,163.5M829.9,142.3L844.8,142.5M824.2,184.2L839.3,184.4M821.3,205.1L836.6,205.4M818.4,226.1L833.8,226.3M813.9,247L829.6,247.2M808.3,268L824,268.2M802.7,288.9L818.4,289.1M812.7,310.1L797.1,309.8M848.2,174L863.3,174.3M850.9,153.1L865.9,153.3M845.6,195L860.8,195.2M842.9,215.9L858.2,216.1M839.9,236.9L855.5,237.1M834.7,257.8L850.4,258M829.1,278.8L844.7,279M823.4,299.7L839,299.9M833.3,320.9L817.7,320.6M872.1,163.9L887.1,164.1M874.6,143L889.4,143.2M869.6,184.8L884.8,185.1M867.2,205.8L882.5,206M864.7,226.7L880.1,226.9M860.8,247.7L876.5,247.9M855.4,268.6L871.1,268.8M849.7,289.6L865.4,289.8M859.6,310.7L844,310.5M893.5,174.7L908.6,174.9M895.7,153.8L910.7,154M891.2,195.6L906.5,195.9M889,216.6L904.4,216.8M886.5,237.5L902,237.7M881.9,258.5L897.6,258.7M876.1,279.4L891.8,279.6M870.3,300.3L885.9,300.6M880.1,321.5L864.5,321.3M917.1,164.6L932.1,164.8M919.2,143.6L934,143.8M915.1,185.5L930.3,185.7M913.1,206.4L928.4,206.7M911,227.4L926.5,227.6M907.8,248.3L923.4,248.5M902.5,269.3L918.2,269.5M896.7,290.2L912.3,290.4M906.4,311.4L890.8,311.1M938.7,175.4L953.8,175.6M940.6,154.4L955.5,154.6M936.9,196.3L952.1,196.5M935.1,217.2L950.5,217.5M933.1,238.2L948.6,238.4M929,259.1L944.7,259.3M923.1,280.1L938.8,280.3M917.2,301L932.8,301.2M926.9,322.2L911.3,321.9M962.2,165.2L977.2,165.4M963.8,144.3L978.7,144.5M960.6,186.2L975.7,186.4M958.9,207.1L974.2,207.3M957.3,228L972.8,228.3M954.7,249L970.3,249.2M949.6,269.9L965.3,270.1M943.7,290.9L959.3,291.1M953.3,312L937.7,311.8M984,176L999.1,176.2M985.4,155.1L1000.3,155.3M982.6,197L997.8,197.2M981.2,217.9L996.6,218.1M979.6,238.8L995.1,239.1M976.2,259.8L991.9,260M970.2,280.7L985.8,280.9M964.1,301.7L979.8,301.9M973.7,322.8L958.1,322.6M1007.2,165.9L1022.2,166.1M1008.4,144.9L1023.3,145.1M1006,186.8L1021.2,187M1004.8,207.8L1020.1,208M1003.7,228.7L1019.1,228.9M1001.6,249.6L1017.2,249.9M996.7,270.6L1012.4,270.8M990.6,291.5L1006.3,291.7M1000.2,312.7L984.5,312.5M1029.3,176.7L1044.3,176.9M1030.2,155.7L1045.2,155.9M1028.3,197.6L1043.5,197.8M1027.3,218.5L1042.7,218.8M1026.2,239.5L1041.7,239.7M1023.3,260.4L1039,260.6M1017.2,281.4L1032.9,281.6M1011,302.3L1026.7,302.5M1020.5,323.5L1004.9,323.3M1052.3,166.5L1067.3,166.7M1053,145.6L1067.9,145.8M1051.5,187.5L1066.7,187.7M1050.7,208.4L1066,208.6M1050,229.3L1065.4,229.6M1048.5,250.3L1064.1,250.5M1043.8,271.2L1059.5,271.4M1037.6,292.2L1053.3,292.4M1047,313.3L1031.4,313.1M1074.5,177.3L1089.6,177.5M1075.1,156.4L1090,156.6M1074,198.3L1089.2,198.5M1073.4,219.2L1088.8,219.4M1072.7,240.1L1088.3,240.4M1070.5,261.1L1086.2,261.3M1064.2,282L1079.9,282.2M1058,303L1073.6,303.2M1067.3,324.1L1051.7,323.9M1097.3,167.2L1112.3,167.4M1097.6,146.2L1112.5,146.5M1097,188.1L1112.1,188.3M1096.6,209.1L1111.9,209.3M1096.3,230L1111.7,230.2M1095.4,250.9L1111.1,251.2M1090.9,271.9L1106.6,272.1M1084.6,292.8L1100.2,293M1093.9,314L1078.3,313.8M1119.8,178L1134.8,178.2M1119.9,157L1134.8,157.3M1119.6,198.9L1134.9,199.1M1119.5,219.9L1134.9,220.1M1119.3,240.8L1134.8,241M1117.6,261.7L1133.3,262M1111.2,282.7L1126.9,282.9M1104.9,303.6L1120.5,303.8M1114.1,324.8L1098.5,324.6M1142.3,167.8L1157.4,168.1M1142.3,146.9L1157.1,147.1M1142.4,188.8L1157.6,189M1142.5,209.7L1157.8,209.9M1142.6,230.7L1158,230.9M1142.3,251.6L1158,251.8M1138,272.5L1153.7,272.8M1131.5,293.5L1147.2,293.7M1140.7,314.6L1125.1,314.4M1165,178.6L1180.1,178.8M1164.7,157.7L1179.7,157.9M1165.3,199.6L1180.5,199.8M1165.6,220.5L1181,220.7M1165.9,241.5L1181.4,241.7M1164.8,262.4L1180.5,262.6M1158.3,283.3L1174,283.6M1151.8,304.3L1167.4,304.5M1160.9,325.4L1145.3,325.2M1187.4,168.5L1202.4,168.7M1186.9,147.5L1201.8,147.8M1187.9,189.4L1203.1,189.6M1188.4,210.4L1203.7,210.6M1188.9,231.3L1204.4,231.5M1189.3,252.3L1204.9,252.5M1185.1,273.2L1200.8,273.4M1178.5,294.1L1194.2,294.4M1187.6,315.3L1172,315.1M1210.3,179.3L1225.4,179.5M1209.6,158.3L1224.5,158.6M1211,200.2L1226.2,200.4M1211.7,221.2L1227.1,221.4M1212.4,242.1L1227.9,242.3M1211.9,263L1227.6,263.3M1205.3,284L1221,284.2M1198.7,304.9L1214.3,305.1M1207.7,326.1L1192.1,325.9M842.1,163.5L850.9,153.1M827,163.3L821,152.7M821,152.7L829.9,142.3M844.8,142.5L850.9,153.1M839.3,184.4L848.2,174M824.2,184.2L818.1,173.6M818.1,173.6L827,163.3M848.2,174L842.1,163.5M836.6,205.4L845.6,195M821.3,205.1L815.1,194.6M815.1,194.6L824.2,184.2M845.6,195L839.3,184.4M833.8,226.3L842.9,215.9M818.4,226.1L812.1,215.5M812.1,215.5L821.3,205.1M842.9,215.9L836.6,205.4M829.6,247.2L839.9,236.9M813.9,247L808.9,236.4M808.9,236.4L818.4,226.1M839.9,236.9L833.8,226.3M824,268.2L834.7,257.8M808.3,268L803.3,257.4M803.3,257.4L813.9,247M834.7,257.8L829.6,247.2M818.4,289.1L829.1,278.8M802.7,288.9L797.7,278.3M797.7,278.3L808.3,268M829.1,278.8L824,268.2M812.7,310.1L823.4,299.7M797.1,309.8L792.1,299.3M792.1,299.3L802.7,288.9M823.4,299.7L818.4,289.1M863.3,174.3L872.1,163.9M872.1,163.9L865.9,153.3M860.8,195.2L869.6,184.8M869.6,184.8L863.3,174.3M858.2,216.1L867.2,205.8M867.2,205.8L860.8,195.2M855.5,237.1L864.7,226.7M864.7,226.7L858.2,216.1M850.4,258L860.8,247.7M860.8,247.7L855.5,237.1M844.7,279L855.4,268.6M855.4,268.6L850.4,258M839,299.9L849.7,289.6M849.7,289.6L844.7,279M844,310.5L833.3,320.9M817.7,320.6L812.7,310.1M844,310.5L839,299.9M887.1,164.1L895.7,153.8M865.9,153.3L874.6,143M889.4,143.2L895.7,153.8M884.8,185.1L893.5,174.7M893.5,174.7L887.1,164.1M882.5,206L891.2,195.6M891.2,195.6L884.8,185.1M880.1,226.9L889,216.6M889,216.6L882.5,206M876.5,247.9L886.5,237.5M886.5,237.5L880.1,226.9M871.1,268.8L881.9,258.5M881.9,258.5L876.5,247.9M865.4,289.8L876.1,279.4M876.1,279.4L871.1,268.8M859.6,310.7L870.3,300.3M870.3,300.3L865.4,289.8M908.6,174.9L917.1,164.6M917.1,164.6L910.7,154M906.5,195.9L915.1,185.5M915.1,185.5L908.6,174.9M904.4,216.8L913.1,206.4M913.1,206.4L906.5,195.9M902,237.7L911,227.4M911,227.4L904.4,216.8M897.6,258.7L907.8,248.3M907.8,248.3L902,237.7M891.8,279.6L902.5,269.3M902.5,269.3L897.6,258.7M885.9,300.6L896.7,290.2M896.7,290.2L891.8,279.6M890.8,311.1L880.1,321.5M864.5,321.3L859.6,310.7M890.8,311.1L885.9,300.6M932.1,164.8L940.6,154.4M910.7,154L919.2,143.6M934,143.8L940.6,154.4M930.3,185.7L938.7,175.4M938.7,175.4L932.1,164.8M928.4,206.7L936.9,196.3M936.9,196.3L930.3,185.7M926.5,227.6L935.1,217.2M935.1,217.2L928.4,206.7M923.4,248.5L933.1,238.2M933.1,238.2L926.5,227.6M918.2,269.5L929,259.1M929,259.1L923.4,248.5M912.3,290.4L923.1,280.1M923.1,280.1L918.2,269.5M906.4,311.4L917.2,301M917.2,301L912.3,290.4M953.8,175.6L962.2,165.2M962.2,165.2L955.5,154.6M952.1,196.5L960.6,186.2M960.6,186.2L953.8,175.6M950.5,217.5L958.9,207.1M958.9,207.1L952.1,196.5M948.6,238.4L957.3,228M957.3,228L950.5,217.5M944.7,259.3L954.7,249M954.7,249L948.6,238.4M938.8,280.3L949.6,269.9M949.6,269.9L944.7,259.3M932.8,301.2L943.7,290.9M943.7,290.9L938.8,280.3M937.7,311.8L926.9,322.2M911.3,321.9L906.4,311.4M937.7,311.8L932.8,301.2M977.2,165.4L985.4,155.1M955.5,154.6L963.8,144.3M978.7,144.5L985.4,155.1M975.7,186.4L984,176M984,176L977.2,165.4M974.2,207.3L982.6,197M982.6,197L975.7,186.4M972.8,228.3L981.2,217.9M981.2,217.9L974.2,207.3M970.3,249.2L979.6,238.8M979.6,238.8L972.8,228.3M965.3,270.1L976.2,259.8M976.2,259.8L970.3,249.2M959.3,291.1L970.2,280.7M970.2,280.7L965.3,270.1M953.3,312L964.1,301.7M964.1,301.7L959.3,291.1M999.1,176.2L1007.2,165.9M1007.2,165.9L1000.3,155.3M997.8,197.2L1006,186.8M1006,186.8L999.1,176.2M996.6,218.1L1004.8,207.8M1004.8,207.8L997.8,197.2M995.1,239.1L1003.7,228.7M1003.7,228.7L996.6,218.1M991.9,260L1001.6,249.6M1001.6,249.6L995.1,239.1M985.8,280.9L996.7,270.6M996.7,270.6L991.9,260M979.8,301.9L990.6,291.5M990.6,291.5L985.8,280.9M984.5,312.5L973.7,322.8M958.1,322.6L953.3,312M984.5,312.5L979.8,301.9M1022.2,166.1L1030.2,155.7M1000.3,155.3L1008.4,144.9M1023.3,145.1L1030.2,155.7M1021.2,187L1029.3,176.7M1029.3,176.7L1022.2,166.1M1020.1,208L1028.3,197.6M1028.3,197.6L1021.2,187M1019.1,228.9L1027.3,218.5M1027.3,218.5L1020.1,208M1017.2,249.9L1026.2,239.5M1026.2,239.5L1019.1,228.9M1012.4,270.8L1023.3,260.4M1023.3,260.4L1017.2,249.9M1006.3,291.7L1017.2,281.4M1017.2,281.4L1012.4,270.8M1000.2,312.7L1011,302.3M1011,302.3L1006.3,291.7M1044.3,176.9L1052.3,166.5M1052.3,166.5L1045.2,155.9M1043.5,197.8L1051.5,187.5M1051.5,187.5L1044.3,176.9M1042.7,218.8L1050.7,208.4M1050.7,208.4L1043.5,197.8M1041.7,239.7L1050,229.3M1050,229.3L1042.7,218.8M1039,260.6L1048.5,250.3M1048.5,250.3L1041.7,239.7M1032.9,281.6L1043.8,271.2M1043.8,271.2L1039,260.6M1026.7,302.5L1037.6,292.2M1037.6,292.2L1032.9,281.6M1031.4,313.1L1020.5,323.5M1004.9,323.3L1000.2,312.7M1031.4,313.1L1026.7,302.5M1067.3,166.7L1075.1,156.4M1045.2,155.9L1053,145.6M1067.9,145.8L1075.1,156.4M1066.7,187.7L1074.5,177.3M1074.5,177.3L1067.3,166.7M1066,208.6L1074,198.3M1074,198.3L1066.7,187.7M1065.4,229.6L1073.4,219.2M1073.4,219.2L1066,208.6M1064.1,250.5L1072.7,240.1M1072.7,240.1L1065.4,229.6M1059.5,271.4L1070.5,261.1M1070.5,261.1L1064.1,250.5M1053.3,292.4L1064.2,282M1064.2,282L1059.5,271.4M1047,313.3L1058,303M1058,303L1053.3,292.4M1089.6,177.5L1097.3,167.2M1097.3,167.2L1090,156.6M1089.2,198.5L1097,188.1M1097,188.1L1089.6,177.5M1088.8,219.4L1096.6,209.1M1096.6,209.1L1089.2,198.5M1088.3,240.4L1096.3,230M1096.3,230L1088.8,219.4M1086.2,261.3L1095.4,250.9M1095.4,250.9L1088.3,240.4M1079.9,282.2L1090.9,271.9M1090.9,271.9L1086.2,261.3M1073.6,303.2L1084.6,292.8M1084.6,292.8L1079.9,282.2M1078.3,313.8L1067.3,324.1M1051.7,323.9L1047,313.3M1078.3,313.8L1073.6,303.2M1112.3,167.4L1119.9,157M1090,156.6L1097.6,146.2M1112.5,146.5L1119.9,157M1112.1,188.3L1119.8,178M1119.8,178L1112.3,167.4M1111.9,209.3L1119.6,198.9M1119.6,198.9L1112.1,188.3M1111.7,230.2L1119.5,219.9M1119.5,219.9L1111.9,209.3M1111.1,251.2L1119.3,240.8M1119.3,240.8L1111.7,230.2M1106.6,272.1L1117.6,261.7M1117.6,261.7L1111.1,251.2M1100.2,293L1111.2,282.7M1111.2,282.7L1106.6,272.1M1093.9,314L1104.9,303.6M1104.9,303.6L1100.2,293M1134.8,178.2L1142.3,167.8M1142.3,167.8L1134.8,157.3M1134.9,199.1L1142.4,188.8M1142.4,188.8L1134.8,178.2M1134.9,220.1L1142.5,209.7M1142.5,209.7L1134.9,199.1M1134.8,241L1142.6,230.7M1142.6,230.7L1134.9,220.1M1133.3,262L1142.3,251.6M1142.3,251.6L1134.8,241M1126.9,282.9L1138,272.5M1138,272.5L1133.3,262M1120.5,303.8L1131.5,293.5M1131.5,293.5L1126.9,282.9M1125.1,314.4L1114.1,324.8M1098.5,324.6L1093.9,314M1125.1,314.4L1120.5,303.8M1157.4,168.1L1164.7,157.7M1134.8,157.3L1142.3,146.9M1157.1,147.1L1164.7,157.7M1157.6,189L1165,178.6M1165,178.6L1157.4,168.1M1157.8,209.9L1165.3,199.6M1165.3,199.6L1157.6,189M1158,230.9L1165.6,220.5M1165.6,220.5L1157.8,209.9M1158,251.8L1165.9,241.5M1165.9,241.5L1158,230.9M1153.7,272.8L1164.8,262.4M1164.8,262.4L1158,251.8M1147.2,293.7L1158.3,283.3M1158.3,283.3L1153.7,272.8M1140.7,314.6L1151.8,304.3M1151.8,304.3L1147.2,293.7M1180.1,178.8L1187.4,168.5M1187.4,168.5L1179.7,157.9M1180.5,199.8L1187.9,189.4M1187.9,189.4L1180.1,178.8M1181,220.7L1188.4,210.4M1188.4,210.4L1180.5,199.8M1181.4,241.7L1188.9,231.3M1188.9,231.3L1181,220.7M1180.5,262.6L1189.3,252.3M1189.3,252.3L1181.4,241.7M1174,283.6L1185.1,273.2M1185.1,273.2L1180.5,262.6M1167.4,304.5L1178.5,294.1M1178.5,294.1L1174,283.6M1172,315.1L1160.9,325.4M1145.3,325.2L1140.7,314.6M1172,315.1L1167.4,304.5M1202.4,168.7L1209.6,158.3M1179.7,157.9L1186.9,147.5M1201.8,147.8L1209.6,158.3M1203.1,189.6L1210.3,179.3M1210.3,179.3L1202.4,168.7M1203.7,210.6L1211,200.2M1211,200.2L1203.1,189.6M1204.4,231.5L1211.7,221.2M1211.7,221.2L1203.7,210.6M1204.9,252.5L1212.4,242.1M1212.4,242.1L1204.4,231.5M1200.8,273.4L1211.9,263M1211.9,263L1204.9,252.5M1194.2,294.4L1205.3,284M1205.3,284L1200.8,273.4M1187.6,315.3L1198.7,304.9M1198.7,304.9L1194.2,294.4M1232.4,169.1L1225.4,179.5M1224.5,158.6L1232.4,169.1M1233.4,190.1L1226.2,200.4M1225.4,179.5L1233.4,190.1M1234.3,211L1227.1,221.4M1226.2,200.4L1234.3,211M1235.2,232L1227.9,242.3M1227.1,221.4L1235.2,232M1236.2,252.9L1227.6,263.3M1227.9,242.3L1236.2,252.9M1232.2,273.8L1221,284.2M1227.6,263.3L1232.2,273.8M1225.5,294.8L1214.3,305.1M1221,284.2L1225.5,294.8M1218.8,315.7L1207.7,326.1M1192.1,325.9L1187.6,315.3M1214.3,305.1L1218.8,315.7" stroke="#caa434" stroke-width="4.4"/>
<path d="M827,163.3L842.1,163.5M829.9,142.3L844.8,142.5M824.2,184.2L839.3,184.4M821.3,205.1L836.6,205.4M818.4,226.1L833.8,226.3M813.9,247L829.6,247.2M808.3,268L824,268.2M802.7,288.9L818.4,289.1M812.7,310.1L797.1,309.8M848.2,174L863.3,174.3M850.9,153.1L865.9,153.3M845.6,195L860.8,195.2M842.9,215.9L858.2,216.1M839.9,236.9L855.5,237.1M834.7,257.8L850.4,258M829.1,278.8L844.7,279M823.4,299.7L839,299.9M833.3,320.9L817.7,320.6M872.1,163.9L887.1,164.1M874.6,143L889.4,143.2M869.6,184.8L884.8,185.1M867.2,205.8L882.5,206M864.7,226.7L880.1,226.9M860.8,247.7L876.5,247.9M855.4,268.6L871.1,268.8M849.7,289.6L865.4,289.8M859.6,310.7L844,310.5M893.5,174.7L908.6,174.9M895.7,153.8L910.7,154M891.2,195.6L906.5,195.9M889,216.6L904.4,216.8M886.5,237.5L902,237.7M881.9,258.5L897.6,258.7M876.1,279.4L891.8,279.6M870.3,300.3L885.9,300.6M880.1,321.5L864.5,321.3M917.1,164.6L932.1,164.8M919.2,143.6L934,143.8M915.1,185.5L930.3,185.7M913.1,206.4L928.4,206.7M911,227.4L926.5,227.6M907.8,248.3L923.4,248.5M902.5,269.3L918.2,269.5M896.7,290.2L912.3,290.4M906.4,311.4L890.8,311.1M938.7,175.4L953.8,175.6M940.6,154.4L955.5,154.6M936.9,196.3L952.1,196.5M935.1,217.2L950.5,217.5M933.1,238.2L948.6,238.4M929,259.1L944.7,259.3M923.1,280.1L938.8,280.3M917.2,301L932.8,301.2M926.9,322.2L911.3,321.9M962.2,165.2L977.2,165.4M963.8,144.3L978.7,144.5M960.6,186.2L975.7,186.4M958.9,207.1L974.2,207.3M957.3,228L972.8,228.3M954.7,249L970.3,249.2M949.6,269.9L965.3,270.1M943.7,290.9L959.3,291.1M953.3,312L937.7,311.8M984,176L999.1,176.2M985.4,155.1L1000.3,155.3M982.6,197L997.8,197.2M981.2,217.9L996.6,218.1M979.6,238.8L995.1,239.1M976.2,259.8L991.9,260M970.2,280.7L985.8,280.9M964.1,301.7L979.8,301.9M973.7,322.8L958.1,322.6M1007.2,165.9L1022.2,166.1M1008.4,144.9L1023.3,145.1M1006,186.8L1021.2,187M1004.8,207.8L1020.1,208M1003.7,228.7L1019.1,228.9M1001.6,249.6L1017.2,249.9M996.7,270.6L1012.4,270.8M990.6,291.5L1006.3,291.7M1000.2,312.7L984.5,312.5M1029.3,176.7L1044.3,176.9M1030.2,155.7L1045.2,155.9M1028.3,197.6L1043.5,197.8M1027.3,218.5L1042.7,218.8M1026.2,239.5L1041.7,239.7M1023.3,260.4L1039,260.6M1017.2,281.4L1032.9,281.6M1011,302.3L1026.7,302.5M1020.5,323.5L1004.9,323.3M1052.3,166.5L1067.3,166.7M1053,145.6L1067.9,145.8M1051.5,187.5L1066.7,187.7M1050.7,208.4L1066,208.6M1050,229.3L1065.4,229.6M1048.5,250.3L1064.1,250.5M1043.8,271.2L1059.5,271.4M1037.6,292.2L1053.3,292.4M1047,313.3L1031.4,313.1M1074.5,177.3L1089.6,177.5M1075.1,156.4L1090,156.6M1074,198.3L1089.2,198.5M1073.4,219.2L1088.8,219.4M1072.7,240.1L1088.3,240.4M1070.5,261.1L1086.2,261.3M1064.2,282L1079.9,282.2M1058,303L1073.6,303.2M1067.3,324.1L1051.7,323.9M1097.3,167.2L1112.3,167.4M1097.6,146.2L1112.5,146.5M1097,188.1L1112.1,188.3M1096.6,209.1L1111.9,209.3M1096.3,230L1111.7,230.2M1095.4,250.9L1111.1,251.2M1090.9,271.9L1106.6,272.1M1084.6,292.8L1100.2,293M1093.9,314L1078.3,313.8M1119.8,178L1134.8,178.2M1119.9,157L1134.8,157.3M1119.6,198.9L1134.9,199.1M1119.5,219.9L1134.9,220.1M1119.3,240.8L1134.8,241M1117.6,261.7L1133.3,262M1111.2,282.7L1126.9,282.9M1104.9,303.6L1120.5,303.8M1114.1,324.8L1098.5,324.6M1142.3,167.8L1157.4,168.1M1142.3,146.9L1157.1,147.1M1142.4,188.8L1157.6,189M1142.5,209.7L1157.8,209.9M1142.6,230.7L1158,230.9M1142.3,251.6L1158,251.8M1138,272.5L1153.7,272.8M1131.5,293.5L1147.2,293.7M1140.7,314.6L1125.1,314.4M1165,178.6L1180.1,178.8M1164.7,157.7L1179.7,157.9M1165.3,199.6L1180.5,199.8M1165.6,220.5L1181,220.7M1165.9,241.5L1181.4,241.7M1164.8,262.4L1180.5,262.6M1158.3,283.3L1174,283.6M1151.8,304.3L1167.4,304.5M1160.9,325.4L1145.3,325.2M1187.4,168.5L1202.4,168.7M1186.9,147.5L1201.8,147.8M1187.9,189.4L1203.1,189.6M1188.4,210.4L1203.7,210.6M1188.9,231.3L1204.4,231.5M1189.3,252.3L1204.9,252.5M1185.1,273.2L1200.8,273.4M1178.5,294.1L1194.2,294.4M1187.6,315.3L1172,315.1M1210.3,179.3L1225.4,179.5M1209.6,158.3L1224.5,158.6M1211,200.2L1226.2,200.4M1211.7,221.2L1227.1,221.4M1212.4,242.1L1227.9,242.3M1211.9,263L1227.6,263.3M1205.3,284L1221,284.2M1198.7,304.9L1214.3,305.1M1207.7,326.1L1192.1,325.9M842.1,163.5L850.9,153.1M827,163.3L821,152.7M821,152.7L829.9,142.3M844.8,142.5L850.9,153.1M839.3,184.4L848.2,174M824.2,184.2L818.1,173.6M818.1,173.6L827,163.3M848.2,174L842.1,163.5M836.6,205.4L845.6,195M821.3,205.1L815.1,194.6M815.1,194.6L824.2,184.2M845.6,195L839.3,184.4M833.8,226.3L842.9,215.9M818.4,226.1L812.1,215.5M812.1,215.5L821.3,205.1M842.9,215.9L836.6,205.4M829.6,247.2L839.9,236.9M813.9,247L808.9,236.4M808.9,236.4L818.4,226.1M839.9,236.9L833.8,226.3M824,268.2L834.7,257.8M808.3,268L803.3,257.4M803.3,257.4L813.9,247M834.7,257.8L829.6,247.2M818.4,289.1L829.1,278.8M802.7,288.9L797.7,278.3M797.7,278.3L808.3,268M829.1,278.8L824,268.2M812.7,310.1L823.4,299.7M797.1,309.8L792.1,299.3M792.1,299.3L802.7,288.9M823.4,299.7L818.4,289.1M863.3,174.3L872.1,163.9M872.1,163.9L865.9,153.3M860.8,195.2L869.6,184.8M869.6,184.8L863.3,174.3M858.2,216.1L867.2,205.8M867.2,205.8L860.8,195.2M855.5,237.1L864.7,226.7M864.7,226.7L858.2,216.1M850.4,258L860.8,247.7M860.8,247.7L855.5,237.1M844.7,279L855.4,268.6M855.4,268.6L850.4,258M839,299.9L849.7,289.6M849.7,289.6L844.7,279M844,310.5L833.3,320.9M817.7,320.6L812.7,310.1M844,310.5L839,299.9M887.1,164.1L895.7,153.8M865.9,153.3L874.6,143M889.4,143.2L895.7,153.8M884.8,185.1L893.5,174.7M893.5,174.7L887.1,164.1M882.5,206L891.2,195.6M891.2,195.6L884.8,185.1M880.1,226.9L889,216.6M889,216.6L882.5,206M876.5,247.9L886.5,237.5M886.5,237.5L880.1,226.9M871.1,268.8L881.9,258.5M881.9,258.5L876.5,247.9M865.4,289.8L876.1,279.4M876.1,279.4L871.1,268.8M859.6,310.7L870.3,300.3M870.3,300.3L865.4,289.8M908.6,174.9L917.1,164.6M917.1,164.6L910.7,154M906.5,195.9L915.1,185.5M915.1,185.5L908.6,174.9M904.4,216.8L913.1,206.4M913.1,206.4L906.5,195.9M902,237.7L911,227.4M911,227.4L904.4,216.8M897.6,258.7L907.8,248.3M907.8,248.3L902,237.7M891.8,279.6L902.5,269.3M902.5,269.3L897.6,258.7M885.9,300.6L896.7,290.2M896.7,290.2L891.8,279.6M890.8,311.1L880.1,321.5M864.5,321.3L859.6,310.7M890.8,311.1L885.9,300.6M932.1,164.8L940.6,154.4M910.7,154L919.2,143.6M934,143.8L940.6,154.4M930.3,185.7L938.7,175.4M938.7,175.4L932.1,164.8M928.4,206.7L936.9,196.3M936.9,196.3L930.3,185.7M926.5,227.6L935.1,217.2M935.1,217.2L928.4,206.7M923.4,248.5L933.1,238.2M933.1,238.2L926.5,227.6M918.2,269.5L929,259.1M929,259.1L923.4,248.5M912.3,290.4L923.1,280.1M923.1,280.1L918.2,269.5M906.4,311.4L917.2,301M917.2,301L912.3,290.4M953.8,175.6L962.2,165.2M962.2,165.2L955.5,154.6M952.1,196.5L960.6,186.2M960.6,186.2L953.8,175.6M950.5,217.5L958.9,207.1M958.9,207.1L952.1,196.5M948.6,238.4L957.3,228M957.3,228L950.5,217.5M944.7,259.3L954.7,249M954.7,249L948.6,238.4M938.8,280.3L949.6,269.9M949.6,269.9L944.7,259.3M932.8,301.2L943.7,290.9M943.7,290.9L938.8,280.3M937.7,311.8L926.9,322.2M911.3,321.9L906.4,311.4M937.7,311.8L932.8,301.2M977.2,165.4L985.4,155.1M955.5,154.6L963.8,144.3M978.7,144.5L985.4,155.1M975.7,186.4L984,176M984,176L977.2,165.4M974.2,207.3L982.6,197M982.6,197L975.7,186.4M972.8,228.3L981.2,217.9M981.2,217.9L974.2,207.3M970.3,249.2L979.6,238.8M979.6,238.8L972.8,228.3M965.3,270.1L976.2,259.8M976.2,259.8L970.3,249.2M959.3,291.1L970.2,280.7M970.2,280.7L965.3,270.1M953.3,312L964.1,301.7M964.1,301.7L959.3,291.1M999.1,176.2L1007.2,165.9M1007.2,165.9L1000.3,155.3M997.8,197.2L1006,186.8M1006,186.8L999.1,176.2M996.6,218.1L1004.8,207.8M1004.8,207.8L997.8,197.2M995.1,239.1L1003.7,228.7M1003.7,228.7L996.6,218.1M991.9,260L1001.6,249.6M1001.6,249.6L995.1,239.1M985.8,280.9L996.7,270.6M996.7,270.6L991.9,260M979.8,301.9L990.6,291.5M990.6,291.5L985.8,280.9M984.5,312.5L973.7,322.8M958.1,322.6L953.3,312M984.5,312.5L979.8,301.9M1022.2,166.1L1030.2,155.7M1000.3,155.3L1008.4,144.9M1023.3,145.1L1030.2,155.7M1021.2,187L1029.3,176.7M1029.3,176.7L1022.2,166.1M1020.1,208L1028.3,197.6M1028.3,197.6L1021.2,187M1019.1,228.9L1027.3,218.5M1027.3,218.5L1020.1,208M1017.2,249.9L1026.2,239.5M1026.2,239.5L1019.1,228.9M1012.4,270.8L1023.3,260.4M1023.3,260.4L1017.2,249.9M1006.3,291.7L1017.2,281.4M1017.2,281.4L1012.4,270.8M1000.2,312.7L1011,302.3M1011,302.3L1006.3,291.7M1044.3,176.9L1052.3,166.5M1052.3,166.5L1045.2,155.9M1043.5,197.8L1051.5,187.5M1051.5,187.5L1044.3,176.9M1042.7,218.8L1050.7,208.4M1050.7,208.4L1043.5,197.8M1041.7,239.7L1050,229.3M1050,229.3L1042.7,218.8M1039,260.6L1048.5,250.3M1048.5,250.3L1041.7,239.7M1032.9,281.6L1043.8,271.2M1043.8,271.2L1039,260.6M1026.7,302.5L1037.6,292.2M1037.6,292.2L1032.9,281.6M1031.4,313.1L1020.5,323.5M1004.9,323.3L1000.2,312.7M1031.4,313.1L1026.7,302.5M1067.3,166.7L1075.1,156.4M1045.2,155.9L1053,145.6M1067.9,145.8L1075.1,156.4M1066.7,187.7L1074.5,177.3M1074.5,177.3L1067.3,166.7M1066,208.6L1074,198.3M1074,198.3L1066.7,187.7M1065.4,229.6L1073.4,219.2M1073.4,219.2L1066,208.6M1064.1,250.5L1072.7,240.1M1072.7,240.1L1065.4,229.6M1059.5,271.4L1070.5,261.1M1070.5,261.1L1064.1,250.5M1053.3,292.4L1064.2,282M1064.2,282L1059.5,271.4M1047,313.3L1058,303M1058,303L1053.3,292.4M1089.6,177.5L1097.3,167.2M1097.3,167.2L1090,156.6M1089.2,198.5L1097,188.1M1097,188.1L1089.6,177.5M1088.8,219.4L1096.6,209.1M1096.6,209.1L1089.2,198.5M1088.3,240.4L1096.3,230M1096.3,230L1088.8,219.4M1086.2,261.3L1095.4,250.9M1095.4,250.9L1088.3,240.4M1079.9,282.2L1090.9,271.9M1090.9,271.9L1086.2,261.3M1073.6,303.2L1084.6,292.8M1084.6,292.8L1079.9,282.2M1078.3,313.8L1067.3,324.1M1051.7,323.9L1047,313.3M1078.3,313.8L1073.6,303.2M1112.3,167.4L1119.9,157M1090,156.6L1097.6,146.2M1112.5,146.5L1119.9,157M1112.1,188.3L1119.8,178M1119.8,178L1112.3,167.4M1111.9,209.3L1119.6,198.9M1119.6,198.9L1112.1,188.3M1111.7,230.2L1119.5,219.9M1119.5,219.9L1111.9,209.3M1111.1,251.2L1119.3,240.8M1119.3,240.8L1111.7,230.2M1106.6,272.1L1117.6,261.7M1117.6,261.7L1111.1,251.2M1100.2,293L1111.2,282.7M1111.2,282.7L1106.6,272.1M1093.9,314L1104.9,303.6M1104.9,303.6L1100.2,293M1134.8,178.2L1142.3,167.8M1142.3,167.8L1134.8,157.3M1134.9,199.1L1142.4,188.8M1142.4,188.8L1134.8,178.2M1134.9,220.1L1142.5,209.7M1142.5,209.7L1134.9,199.1M1134.8,241L1142.6,230.7M1142.6,230.7L1134.9,220.1M1133.3,262L1142.3,251.6M1142.3,251.6L1134.8,241M1126.9,282.9L1138,272.5M1138,272.5L1133.3,262M1120.5,303.8L1131.5,293.5M1131.5,293.5L1126.9,282.9M1125.1,314.4L1114.1,324.8M1098.5,324.6L1093.9,314M1125.1,314.4L1120.5,303.8M1157.4,168.1L1164.7,157.7M1134.8,157.3L1142.3,146.9M1157.1,147.1L1164.7,157.7M1157.6,189L1165,178.6M1165,178.6L1157.4,168.1M1157.8,209.9L1165.3,199.6M1165.3,199.6L1157.6,189M1158,230.9L1165.6,220.5M1165.6,220.5L1157.8,209.9M1158,251.8L1165.9,241.5M1165.9,241.5L1158,230.9M1153.7,272.8L1164.8,262.4M1164.8,262.4L1158,251.8M1147.2,293.7L1158.3,283.3M1158.3,283.3L1153.7,272.8M1140.7,314.6L1151.8,304.3M1151.8,304.3L1147.2,293.7M1180.1,178.8L1187.4,168.5M1187.4,168.5L1179.7,157.9M1180.5,199.8L1187.9,189.4M1187.9,189.4L1180.1,178.8M1181,220.7L1188.4,210.4M1188.4,210.4L1180.5,199.8M1181.4,241.7L1188.9,231.3M1188.9,231.3L1181,220.7M1180.5,262.6L1189.3,252.3M1189.3,252.3L1181.4,241.7M1174,283.6L1185.1,273.2M1185.1,273.2L1180.5,262.6M1167.4,304.5L1178.5,294.1M1178.5,294.1L1174,283.6M1172,315.1L1160.9,325.4M1145.3,325.2L1140.7,314.6M1172,315.1L1167.4,304.5M1202.4,168.7L1209.6,158.3M1179.7,157.9L1186.9,147.5M1201.8,147.8L1209.6,158.3M1203.1,189.6L1210.3,179.3M1210.3,179.3L1202.4,168.7M1203.7,210.6L1211,200.2M1211,200.2L1203.1,189.6M1204.4,231.5L1211.7,221.2M1211.7,221.2L1203.7,210.6M1204.9,252.5L1212.4,242.1M1212.4,242.1L1204.4,231.5M1200.8,273.4L1211.9,263M1211.9,263L1204.9,252.5M1194.2,294.4L1205.3,284M1205.3,284L1200.8,273.4M1187.6,315.3L1198.7,304.9M1198.7,304.9L1194.2,294.4M1232.4,169.1L1225.4,179.5M1224.5,158.6L1232.4,169.1M1233.4,190.1L1226.2,200.4M1225.4,179.5L1233.4,190.1M1234.3,211L1227.1,221.4M1226.2,200.4L1234.3,211M1235.2,232L1227.9,242.3M1227.1,221.4L1235.2,232M1236.2,252.9L1227.6,263.3M1227.9,242.3L1236.2,252.9M1232.2,273.8L1221,284.2M1227.6,263.3L1232.2,273.8M1225.5,294.8L1214.3,305.1M1221,284.2L1225.5,294.8M1218.8,315.7L1207.7,326.1M1192.1,325.9L1187.6,315.3M1214.3,305.1L1218.8,315.7" stroke="#c4a03a" stroke-width="2.0000000000000004"/>
<path d="M827,163.3h0M842.1,163.5h0M829.9,142.3h0M844.8,142.5h0M824.2,184.2h0M839.3,184.4h0M821.3,205.1h0M836.6,205.4h0M818.4,226.1h0M833.8,226.3h0M813.9,247h0M829.6,247.2h0M808.3,268h0M824,268.2h0M802.7,288.9h0M818.4,289.1h0M812.7,310.1h0M797.1,309.8h0M848.2,174h0M863.3,174.3h0M850.9,153.1h0M865.9,153.3h0M845.6,195h0M860.8,195.2h0M842.9,215.9h0M858.2,216.1h0M839.9,236.9h0M855.5,237.1h0M834.7,257.8h0M850.4,258h0M829.1,278.8h0M844.7,279h0M823.4,299.7h0M839,299.9h0M833.3,320.9h0M817.7,320.6h0M872.1,163.9h0M887.1,164.1h0M874.6,143h0M889.4,143.2h0M869.6,184.8h0M884.8,185.1h0M867.2,205.8h0M882.5,206h0M864.7,226.7h0M880.1,226.9h0M860.8,247.7h0M876.5,247.9h0M855.4,268.6h0M871.1,268.8h0M849.7,289.6h0M865.4,289.8h0M859.6,310.7h0M844,310.5h0M893.5,174.7h0M908.6,174.9h0M895.7,153.8h0M910.7,154h0M891.2,195.6h0M906.5,195.9h0M889,216.6h0M904.4,216.8h0M886.5,237.5h0M902,237.7h0M881.9,258.5h0M897.6,258.7h0M876.1,279.4h0M891.8,279.6h0M870.3,300.3h0M885.9,300.6h0M880.1,321.5h0M864.5,321.3h0M917.1,164.6h0M932.1,164.8h0M919.2,143.6h0M934,143.8h0M915.1,185.5h0M930.3,185.7h0M913.1,206.4h0M928.4,206.7h0M911,227.4h0M926.5,227.6h0M907.8,248.3h0M923.4,248.5h0M902.5,269.3h0M918.2,269.5h0M896.7,290.2h0M912.3,290.4h0M906.4,311.4h0M890.8,311.1h0M938.7,175.4h0M953.8,175.6h0M940.6,154.4h0M955.5,154.6h0M936.9,196.3h0M952.1,196.5h0M935.1,217.2h0M950.5,217.5h0M933.1,238.2h0M948.6,238.4h0M929,259.1h0M944.7,259.3h0M923.1,280.1h0M938.8,280.3h0M917.2,301h0M932.8,301.2h0M926.9,322.2h0M911.3,321.9h0M962.2,165.2h0M977.2,165.4h0M963.8,144.3h0M978.7,144.5h0M960.6,186.2h0M975.7,186.4h0M958.9,207.1h0M974.2,207.3h0M957.3,228h0M972.8,228.3h0M954.7,249h0M970.3,249.2h0M949.6,269.9h0M965.3,270.1h0M943.7,290.9h0M959.3,291.1h0M953.3,312h0M937.7,311.8h0M984,176h0M999.1,176.2h0M985.4,155.1h0M1000.3,155.3h0M982.6,197h0M997.8,197.2h0M981.2,217.9h0M996.6,218.1h0M979.6,238.8h0M995.1,239.1h0M976.2,259.8h0M991.9,260h0M970.2,280.7h0M985.8,280.9h0M964.1,301.7h0M979.8,301.9h0M973.7,322.8h0M958.1,322.6h0M1007.2,165.9h0M1022.2,166.1h0M1008.4,144.9h0M1023.3,145.1h0M1006,186.8h0M1021.2,187h0M1004.8,207.8h0M1020.1,208h0M1003.7,228.7h0M1019.1,228.9h0M1001.6,249.6h0M1017.2,249.9h0M996.7,270.6h0M1012.4,270.8h0M990.6,291.5h0M1006.3,291.7h0M1000.2,312.7h0M984.5,312.5h0M1029.3,176.7h0M1044.3,176.9h0M1030.2,155.7h0M1045.2,155.9h0M1028.3,197.6h0M1043.5,197.8h0M1027.3,218.5h0M1042.7,218.8h0M1026.2,239.5h0M1041.7,239.7h0M1023.3,260.4h0M1039,260.6h0M1017.2,281.4h0M1032.9,281.6h0M1011,302.3h0M1026.7,302.5h0M1020.5,323.5h0M1004.9,323.3h0M1052.3,166.5h0M1067.3,166.7h0M1053,145.6h0M1067.9,145.8h0M1051.5,187.5h0M1066.7,187.7h0M1050.7,208.4h0M1066,208.6h0M1050,229.3h0M1065.4,229.6h0M1048.5,250.3h0M1064.1,250.5h0M1043.8,271.2h0M1059.5,271.4h0M1037.6,292.2h0M1053.3,292.4h0M1047,313.3h0M1031.4,313.1h0M1074.5,177.3h0M1089.6,177.5h0M1075.1,156.4h0M1090,156.6h0M1074,198.3h0M1089.2,198.5h0M1073.4,219.2h0M1088.8,219.4h0M1072.7,240.1h0M1088.3,240.4h0M1070.5,261.1h0M1086.2,261.3h0M1064.2,282h0M1079.9,282.2h0M1058,303h0M1073.6,303.2h0M1067.3,324.1h0M1051.7,323.9h0M1097.3,167.2h0M1112.3,167.4h0M1097.6,146.2h0M1112.5,146.5h0M1097,188.1h0M1112.1,188.3h0M1096.6,209.1h0M1111.9,209.3h0M1096.3,230h0M1111.7,230.2h0M1095.4,250.9h0M1111.1,251.2h0M1090.9,271.9h0M1106.6,272.1h0M1084.6,292.8h0M1100.2,293h0M1093.9,314h0M1078.3,313.8h0M1119.8,178h0M1134.8,178.2h0M1119.9,157h0M1134.8,157.3h0M1119.6,198.9h0M1134.9,199.1h0M1119.5,219.9h0M1134.9,220.1h0M1119.3,240.8h0M1134.8,241h0M1117.6,261.7h0M1133.3,262h0M1111.2,282.7h0M1126.9,282.9h0M1104.9,303.6h0M1120.5,303.8h0M1114.1,324.8h0M1098.5,324.6h0M1142.3,167.8h0M1157.4,168.1h0M1142.3,146.9h0M1157.1,147.1h0M1142.4,188.8h0M1157.6,189h0M1142.5,209.7h0M1157.8,209.9h0M1142.6,230.7h0M1158,230.9h0M1142.3,251.6h0M1158,251.8h0M1138,272.5h0M1153.7,272.8h0M1131.5,293.5h0M1147.2,293.7h0M1140.7,314.6h0M1125.1,314.4h0M1165,178.6h0M1180.1,178.8h0M1164.7,157.7h0M1179.7,157.9h0M1165.3,199.6h0M1180.5,199.8h0M1165.6,220.5h0M1181,220.7h0M1165.9,241.5h0M1181.4,241.7h0M1164.8,262.4h0M1180.5,262.6h0M1158.3,283.3h0M1174,283.6h0M1151.8,304.3h0M1167.4,304.5h0M1160.9,325.4h0M1145.3,325.2h0M1187.4,168.5h0M1202.4,168.7h0M1186.9,147.5h0M1201.8,147.8h0M1187.9,189.4h0M1203.1,189.6h0M1188.4,210.4h0M1203.7,210.6h0M1188.9,231.3h0M1204.4,231.5h0M1189.3,252.3h0M1204.9,252.5h0M1185.1,273.2h0M1200.8,273.4h0M1178.5,294.1h0M1194.2,294.4h0M1187.6,315.3h0M1172,315.1h0M1210.3,179.3h0M1225.4,179.5h0M1209.6,158.3h0M1224.5,158.6h0M1211,200.2h0M1226.2,200.4h0M1211.7,221.2h0M1227.1,221.4h0M1212.4,242.1h0M1227.9,242.3h0M1211.9,263h0M1227.6,263.3h0M1205.3,284h0M1221,284.2h0M1198.7,304.9h0M1214.3,305.1h0M1207.7,326.1h0M1192.1,325.9h0M821,152.7h0M818.1,173.6h0M815.1,194.6h0M812.1,215.5h0M808.9,236.4h0M803.3,257.4h0M797.7,278.3h0M792.1,299.3h0M1232.4,169.1h0M1233.4,190.1h0M1234.3,211h0M1235.2,232h0M1236.2,252.9h0M1232.2,273.8h0M1225.5,294.8h0M1218.8,315.7h0" stroke="#3e2a06" stroke-width="4.6"/>
</g></g>
<g stroke-linecap="round" fill="none" filter="url(#soft)">
<path d="M816.5,158.1L831.6,158.3M819.4,137.1L834.3,137.3M813.7,179L828.8,179.2M810.8,199.9L826.1,200.2M807.9,220.9L823.3,221.1M803.4,241.8L819.1,242M797.8,262.8L813.5,263M792.2,283.7L807.9,283.9M802.2,304.9L786.6,304.6M837.7,168.8L852.8,169.1M840.4,147.9L855.4,148.1M835.1,189.8L850.3,190M832.4,210.7L847.7,210.9M829.4,231.7L845,231.9M824.2,252.6L839.9,252.8M818.6,273.6L834.2,273.8M812.9,294.5L828.5,294.7M822.8,315.7L807.2,315.4M861.6,158.7L876.6,158.9M864.1,137.8L878.9,138M859.1,179.6L874.3,179.9M856.7,200.6L872,200.8M854.2,221.5L869.6,221.7M850.3,242.5L866,242.7M844.9,263.4L860.6,263.6M839.2,284.4L854.9,284.6M849.1,305.5L833.5,305.3M883,169.5L898.1,169.7M885.2,148.6L900.2,148.8M880.7,190.4L896,190.7M878.5,211.4L893.9,211.6M876,232.3L891.5,232.5M871.4,253.3L887.1,253.5M865.6,274.2L881.3,274.4M859.8,295.1L875.4,295.4M869.6,316.3L854,316.1M906.6,159.4L921.6,159.6M908.7,138.4L923.5,138.6M904.6,180.3L919.8,180.5M902.6,201.2L917.9,201.5M900.5,222.2L916,222.4M897.3,243.1L912.9,243.3M892,264.1L907.7,264.3M886.2,285L901.8,285.2M895.9,306.2L880.3,305.9M928.2,170.2L943.3,170.4M930.1,149.2L945,149.4M926.4,191.1L941.6,191.3M924.6,212L940,212.3M922.6,233L938.1,233.2M918.5,253.9L934.2,254.1M912.6,274.9L928.3,275.1M906.7,295.8L922.3,296M916.4,317L900.8,316.7M951.7,160L966.7,160.2M953.3,139.1L968.2,139.3M950.1,181L965.2,181.2M948.4,201.9L963.7,202.1M946.8,222.8L962.3,223.1M944.2,243.8L959.8,244M939.1,264.7L954.8,264.9M933.2,285.7L948.8,285.9M942.8,306.8L927.2,306.6M973.5,170.8L988.6,171M974.9,149.9L989.8,150.1M972.1,191.8L987.3,192M970.7,212.7L986.1,212.9M969.1,233.6L984.6,233.9M965.7,254.6L981.4,254.8M959.7,275.5L975.3,275.7M953.6,296.5L969.3,296.7M963.2,317.6L947.6,317.4M996.7,160.7L1011.7,160.9M997.9,139.7L1012.8,139.9M995.5,181.6L1010.7,181.8M994.3,202.6L1009.6,202.8M993.2,223.5L1008.6,223.7M991.1,244.4L1006.7,244.7M986.2,265.4L1001.9,265.6M980.1,286.3L995.8,286.5M989.7,307.5L974,307.3M1018.8,171.5L1033.8,171.7M1019.7,150.5L1034.7,150.7M1017.8,192.4L1033,192.6M1016.8,213.3L1032.2,213.6M1015.7,234.3L1031.2,234.5M1012.8,255.2L1028.5,255.4M1006.7,276.2L1022.4,276.4M1000.5,297.1L1016.2,297.3M1010,318.3L994.4,318.1M1041.8,161.3L1056.8,161.5M1042.5,140.4L1057.4,140.6M1041,182.3L1056.2,182.5M1040.2,203.2L1055.5,203.4M1039.5,224.1L1054.9,224.4M1038,245.1L1053.6,245.3M1033.3,266L1049,266.2M1027.1,287L1042.8,287.2M1036.5,308.1L1020.9,307.9M1064,172.1L1079.1,172.3M1064.6,151.2L1079.5,151.4M1063.5,193.1L1078.7,193.3M1062.9,214L1078.3,214.2M1062.2,234.9L1077.8,235.2M1060,255.9L1075.7,256.1M1053.7,276.8L1069.4,277M1047.5,297.8L1063.1,298M1056.8,318.9L1041.2,318.7M1086.8,162L1101.8,162.2M1087.1,141L1102,141.3M1086.5,182.9L1101.6,183.1M1086.1,203.9L1101.4,204.1M1085.8,224.8L1101.2,225M1084.9,245.7L1100.6,246M1080.4,266.7L1096.1,266.9M1074.1,287.6L1089.7,287.8M1083.4,308.8L1067.8,308.6M1109.3,172.8L1124.3,173M1109.4,151.8L1124.3,152.1M1109.1,193.7L1124.4,193.9M1109,214.7L1124.4,214.9M1108.8,235.6L1124.3,235.8M1107.1,256.5L1122.8,256.8M1100.7,277.5L1116.4,277.7M1094.4,298.4L1110,298.6M1103.6,319.6L1088,319.4M1131.8,162.6L1146.9,162.9M1131.8,141.7L1146.6,141.9M1131.9,183.6L1147.1,183.8M1132,204.5L1147.3,204.7M1132.1,225.5L1147.5,225.7M1131.8,246.4L1147.5,246.6M1127.5,267.3L1143.2,267.6M1121,288.3L1136.7,288.5M1130.2,309.4L1114.6,309.2M1154.5,173.4L1169.6,173.6M1154.2,152.5L1169.2,152.7M1154.8,194.4L1170,194.6M1155.1,215.3L1170.5,215.5M1155.4,236.3L1170.9,236.5M1154.3,257.2L1170,257.4M1147.8,278.1L1163.5,278.4M1141.3,299.1L1156.9,299.3M1150.4,320.2L1134.8,320M1176.9,163.3L1191.9,163.5M1176.4,142.3L1191.3,142.6M1177.4,184.2L1192.6,184.4M1177.9,205.2L1193.2,205.4M1178.4,226.1L1193.9,226.3M1178.8,247.1L1194.4,247.3M1174.6,268L1190.3,268.2M1168,288.9L1183.7,289.2M1177.1,310.1L1161.5,309.9M1199.8,174.1L1214.9,174.3M1199.1,153.1L1214,153.4M1200.5,195L1215.7,195.2M1201.2,216L1216.6,216.2M1201.9,236.9L1217.4,237.1M1201.4,257.8L1217.1,258.1M1194.8,278.8L1210.5,279M1188.2,299.7L1203.8,299.9M1197.2,320.9L1181.6,320.7M831.6,158.3L840.4,147.9M816.5,158.1L810.5,147.5M810.5,147.5L819.4,137.1M834.3,137.3L840.4,147.9M828.8,179.2L837.7,168.8M813.7,179L807.6,168.4M807.6,168.4L816.5,158.1M837.7,168.8L831.6,158.3M826.1,200.2L835.1,189.8M810.8,199.9L804.6,189.4M804.6,189.4L813.7,179M835.1,189.8L828.8,179.2M823.3,221.1L832.4,210.7M807.9,220.9L801.6,210.3M801.6,210.3L810.8,199.9M832.4,210.7L826.1,200.2M819.1,242L829.4,231.7M803.4,241.8L798.4,231.2M798.4,231.2L807.9,220.9M829.4,231.7L823.3,221.1M813.5,263L824.2,252.6M797.8,262.8L792.8,252.2M792.8,252.2L803.4,241.8M824.2,252.6L819.1,242M807.9,283.9L818.6,273.6M792.2,283.7L787.2,273.1M787.2,273.1L797.8,262.8M818.6,273.6L813.5,263M802.2,304.9L812.9,294.5M786.6,304.6L781.6,294.1M781.6,294.1L792.2,283.7M812.9,294.5L807.9,283.9M852.8,169.1L861.6,158.7M861.6,158.7L855.4,148.1M850.3,190L859.1,179.6M859.1,179.6L852.8,169.1M847.7,210.9L856.7,200.6M856.7,200.6L850.3,190M845,231.9L854.2,221.5M854.2,221.5L847.7,210.9M839.9,252.8L850.3,242.5M850.3,242.5L845,231.9M834.2,273.8L844.9,263.4M844.9,263.4L839.9,252.8M828.5,294.7L839.2,284.4M839.2,284.4L834.2,273.8M833.5,305.3L822.8,315.7M807.2,315.4L802.2,304.9M833.5,305.3L828.5,294.7M876.6,158.9L885.2,148.6M855.4,148.1L864.1,137.8M878.9,138L885.2,148.6M874.3,179.9L883,169.5M883,169.5L876.6,158.9M872,200.8L880.7,190.4M880.7,190.4L874.3,179.9M869.6,221.7L878.5,211.4M878.5,211.4L872,200.8M866,242.7L876,232.3M876,232.3L869.6,221.7M860.6,263.6L871.4,253.3M871.4,253.3L866,242.7M854.9,284.6L865.6,274.2M865.6,274.2L860.6,263.6M849.1,305.5L859.8,295.1M859.8,295.1L854.9,284.6M898.1,169.7L906.6,159.4M906.6,159.4L900.2,148.8M896,190.7L904.6,180.3M904.6,180.3L898.1,169.7M893.9,211.6L902.6,201.2M902.6,201.2L896,190.7M891.5,232.5L900.5,222.2M900.5,222.2L893.9,211.6M887.1,253.5L897.3,243.1M897.3,243.1L891.5,232.5M881.3,274.4L892,264.1M892,264.1L887.1,253.5M875.4,295.4L886.2,285M886.2,285L881.3,274.4M880.3,305.9L869.6,316.3M854,316.1L849.1,305.5M880.3,305.9L875.4,295.4M921.6,159.6L930.1,149.2M900.2,148.8L908.7,138.4M923.5,138.6L930.1,149.2M919.8,180.5L928.2,170.2M928.2,170.2L921.6,159.6M917.9,201.5L926.4,191.1M926.4,191.1L919.8,180.5M916,222.4L924.6,212M924.6,212L917.9,201.5M912.9,243.3L922.6,233M922.6,233L916,222.4M907.7,264.3L918.5,253.9M918.5,253.9L912.9,243.3M901.8,285.2L912.6,274.9M912.6,274.9L907.7,264.3M895.9,306.2L906.7,295.8M906.7,295.8L901.8,285.2M943.3,170.4L951.7,160M951.7,160L945,149.4M941.6,191.3L950.1,181M950.1,181L943.3,170.4M940,212.3L948.4,201.9M948.4,201.9L941.6,191.3M938.1,233.2L946.8,222.8M946.8,222.8L940,212.3M934.2,254.1L944.2,243.8M944.2,243.8L938.1,233.2M928.3,275.1L939.1,264.7M939.1,264.7L934.2,254.1M922.3,296L933.2,285.7M933.2,285.7L928.3,275.1M927.2,306.6L916.4,317M900.8,316.7L895.9,306.2M927.2,306.6L922.3,296M966.7,160.2L974.9,149.9M945,149.4L953.3,139.1M968.2,139.3L974.9,149.9M965.2,181.2L973.5,170.8M973.5,170.8L966.7,160.2M963.7,202.1L972.1,191.8M972.1,191.8L965.2,181.2M962.3,223.1L970.7,212.7M970.7,212.7L963.7,202.1M959.8,244L969.1,233.6M969.1,233.6L962.3,223.1M954.8,264.9L965.7,254.6M965.7,254.6L959.8,244M948.8,285.9L959.7,275.5M959.7,275.5L954.8,264.9M942.8,306.8L953.6,296.5M953.6,296.5L948.8,285.9M988.6,171L996.7,160.7M996.7,160.7L989.8,150.1M987.3,192L995.5,181.6M995.5,181.6L988.6,171M986.1,212.9L994.3,202.6M994.3,202.6L987.3,192M984.6,233.9L993.2,223.5M993.2,223.5L986.1,212.9M981.4,254.8L991.1,244.4M991.1,244.4L984.6,233.9M975.3,275.7L986.2,265.4M986.2,265.4L981.4,254.8M969.3,296.7L980.1,286.3M980.1,286.3L975.3,275.7M974,307.3L963.2,317.6M947.6,317.4L942.8,306.8M974,307.3L969.3,296.7M1011.7,160.9L1019.7,150.5M989.8,150.1L997.9,139.7M1012.8,139.9L1019.7,150.5M1010.7,181.8L1018.8,171.5M1018.8,171.5L1011.7,160.9M1009.6,202.8L1017.8,192.4M1017.8,192.4L1010.7,181.8M1008.6,223.7L1016.8,213.3M1016.8,213.3L1009.6,202.8M1006.7,244.7L1015.7,234.3M1015.7,234.3L1008.6,223.7M1001.9,265.6L1012.8,255.2M1012.8,255.2L1006.7,244.7M995.8,286.5L1006.7,276.2M1006.7,276.2L1001.9,265.6M989.7,307.5L1000.5,297.1M1000.5,297.1L995.8,286.5M1033.8,171.7L1041.8,161.3M1041.8,161.3L1034.7,150.7M1033,192.6L1041,182.3M1041,182.3L1033.8,171.7M1032.2,213.6L1040.2,203.2M1040.2,203.2L1033,192.6M1031.2,234.5L1039.5,224.1M1039.5,224.1L1032.2,213.6M1028.5,255.4L1038,245.1M1038,245.1L1031.2,234.5M1022.4,276.4L1033.3,266M1033.3,266L1028.5,255.4M1016.2,297.3L1027.1,287M1027.1,287L1022.4,276.4M1020.9,307.9L1010,318.3M994.4,318.1L989.7,307.5M1020.9,307.9L1016.2,297.3M1056.8,161.5L1064.6,151.2M1034.7,150.7L1042.5,140.4M1057.4,140.6L1064.6,151.2M1056.2,182.5L1064,172.1M1064,172.1L1056.8,161.5M1055.5,203.4L1063.5,193.1M1063.5,193.1L1056.2,182.5M1054.9,224.4L1062.9,214M1062.9,214L1055.5,203.4M1053.6,245.3L1062.2,234.9M1062.2,234.9L1054.9,224.4M1049,266.2L1060,255.9M1060,255.9L1053.6,245.3M1042.8,287.2L1053.7,276.8M1053.7,276.8L1049,266.2M1036.5,308.1L1047.5,297.8M1047.5,297.8L1042.8,287.2M1079.1,172.3L1086.8,162M1086.8,162L1079.5,151.4M1078.7,193.3L1086.5,182.9M1086.5,182.9L1079.1,172.3M1078.3,214.2L1086.1,203.9M1086.1,203.9L1078.7,193.3M1077.8,235.2L1085.8,224.8M1085.8,224.8L1078.3,214.2M1075.7,256.1L1084.9,245.7M1084.9,245.7L1077.8,235.2M1069.4,277L1080.4,266.7M1080.4,266.7L1075.7,256.1M1063.1,298L1074.1,287.6M1074.1,287.6L1069.4,277M1067.8,308.6L1056.8,318.9M1041.2,318.7L1036.5,308.1M1067.8,308.6L1063.1,298M1101.8,162.2L1109.4,151.8M1079.5,151.4L1087.1,141M1102,141.3L1109.4,151.8M1101.6,183.1L1109.3,172.8M1109.3,172.8L1101.8,162.2M1101.4,204.1L1109.1,193.7M1109.1,193.7L1101.6,183.1M1101.2,225L1109,214.7M1109,214.7L1101.4,204.1M1100.6,246L1108.8,235.6M1108.8,235.6L1101.2,225M1096.1,266.9L1107.1,256.5M1107.1,256.5L1100.6,246M1089.7,287.8L1100.7,277.5M1100.7,277.5L1096.1,266.9M1083.4,308.8L1094.4,298.4M1094.4,298.4L1089.7,287.8M1124.3,173L1131.8,162.6M1131.8,162.6L1124.3,152.1M1124.4,193.9L1131.9,183.6M1131.9,183.6L1124.3,173M1124.4,214.9L1132,204.5M1132,204.5L1124.4,193.9M1124.3,235.8L1132.1,225.5M1132.1,225.5L1124.4,214.9M1122.8,256.8L1131.8,246.4M1131.8,246.4L1124.3,235.8M1116.4,277.7L1127.5,267.3M1127.5,267.3L1122.8,256.8M1110,298.6L1121,288.3M1121,288.3L1116.4,277.7M1114.6,309.2L1103.6,319.6M1088,319.4L1083.4,308.8M1114.6,309.2L1110,298.6M1146.9,162.9L1154.2,152.5M1124.3,152.1L1131.8,141.7M1146.6,141.9L1154.2,152.5M1147.1,183.8L1154.5,173.4M1154.5,173.4L1146.9,162.9M1147.3,204.7L1154.8,194.4M1154.8,194.4L1147.1,183.8M1147.5,225.7L1155.1,215.3M1155.1,215.3L1147.3,204.7M1147.5,246.6L1155.4,236.3M1155.4,236.3L1147.5,225.7M1143.2,267.6L1154.3,257.2M1154.3,257.2L1147.5,246.6M1136.7,288.5L1147.8,278.1M1147.8,278.1L1143.2,267.6M1130.2,309.4L1141.3,299.1M1141.3,299.1L1136.7,288.5M1169.6,173.6L1176.9,163.3M1176.9,163.3L1169.2,152.7M1170,194.6L1177.4,184.2M1177.4,184.2L1169.6,173.6M1170.5,215.5L1177.9,205.2M1177.9,205.2L1170,194.6M1170.9,236.5L1178.4,226.1M1178.4,226.1L1170.5,215.5M1170,257.4L1178.8,247.1M1178.8,247.1L1170.9,236.5M1163.5,278.4L1174.6,268M1174.6,268L1170,257.4M1156.9,299.3L1168,288.9M1168,288.9L1163.5,278.4M1161.5,309.9L1150.4,320.2M1134.8,320L1130.2,309.4M1161.5,309.9L1156.9,299.3M1191.9,163.5L1199.1,153.1M1169.2,152.7L1176.4,142.3M1191.3,142.6L1199.1,153.1M1192.6,184.4L1199.8,174.1M1199.8,174.1L1191.9,163.5M1193.2,205.4L1200.5,195M1200.5,195L1192.6,184.4M1193.9,226.3L1201.2,216M1201.2,216L1193.2,205.4M1194.4,247.3L1201.9,236.9M1201.9,236.9L1193.9,226.3M1190.3,268.2L1201.4,257.8M1201.4,257.8L1194.4,247.3M1183.7,289.2L1194.8,278.8M1194.8,278.8L1190.3,268.2M1177.1,310.1L1188.2,299.7M1188.2,299.7L1183.7,289.2M1221.9,163.9L1214.9,174.3M1214,153.4L1221.9,163.9M1222.9,184.9L1215.7,195.2M1214.9,174.3L1222.9,184.9M1223.8,205.8L1216.6,216.2M1215.7,195.2L1223.8,205.8M1224.7,226.8L1217.4,237.1M1216.6,216.2L1224.7,226.8M1225.7,247.7L1217.1,258.1M1217.4,237.1L1225.7,247.7M1221.7,268.6L1210.5,279M1217.1,258.1L1221.7,268.6M1215,289.6L1203.8,299.9M1210.5,279L1215,289.6M1208.3,310.5L1197.2,320.9M1181.6,320.7L1177.1,310.1M1203.8,299.9L1208.3,310.5" stroke="#dca81a" stroke-width="8.0"/>
<path d="M816.5,158.1L831.6,158.3M819.4,137.1L834.3,137.3M813.7,179L828.8,179.2M810.8,199.9L826.1,200.2M807.9,220.9L823.3,221.1M803.4,241.8L819.1,242M797.8,262.8L813.5,263M792.2,283.7L807.9,283.9M802.2,304.9L786.6,304.6M837.7,168.8L852.8,169.1M840.4,147.9L855.4,148.1M835.1,189.8L850.3,190M832.4,210.7L847.7,210.9M829.4,231.7L845,231.9M824.2,252.6L839.9,252.8M818.6,273.6L834.2,273.8M812.9,294.5L828.5,294.7M822.8,315.7L807.2,315.4M861.6,158.7L876.6,158.9M864.1,137.8L878.9,138M859.1,179.6L874.3,179.9M856.7,200.6L872,200.8M854.2,221.5L869.6,221.7M850.3,242.5L866,242.7M844.9,263.4L860.6,263.6M839.2,284.4L854.9,284.6M849.1,305.5L833.5,305.3M883,169.5L898.1,169.7M885.2,148.6L900.2,148.8M880.7,190.4L896,190.7M878.5,211.4L893.9,211.6M876,232.3L891.5,232.5M871.4,253.3L887.1,253.5M865.6,274.2L881.3,274.4M859.8,295.1L875.4,295.4M869.6,316.3L854,316.1M906.6,159.4L921.6,159.6M908.7,138.4L923.5,138.6M904.6,180.3L919.8,180.5M902.6,201.2L917.9,201.5M900.5,222.2L916,222.4M897.3,243.1L912.9,243.3M892,264.1L907.7,264.3M886.2,285L901.8,285.2M895.9,306.2L880.3,305.9M928.2,170.2L943.3,170.4M930.1,149.2L945,149.4M926.4,191.1L941.6,191.3M924.6,212L940,212.3M922.6,233L938.1,233.2M918.5,253.9L934.2,254.1M912.6,274.9L928.3,275.1M906.7,295.8L922.3,296M916.4,317L900.8,316.7M951.7,160L966.7,160.2M953.3,139.1L968.2,139.3M950.1,181L965.2,181.2M948.4,201.9L963.7,202.1M946.8,222.8L962.3,223.1M944.2,243.8L959.8,244M939.1,264.7L954.8,264.9M933.2,285.7L948.8,285.9M942.8,306.8L927.2,306.6M973.5,170.8L988.6,171M974.9,149.9L989.8,150.1M972.1,191.8L987.3,192M970.7,212.7L986.1,212.9M969.1,233.6L984.6,233.9M965.7,254.6L981.4,254.8M959.7,275.5L975.3,275.7M953.6,296.5L969.3,296.7M963.2,317.6L947.6,317.4M996.7,160.7L1011.7,160.9M997.9,139.7L1012.8,139.9M995.5,181.6L1010.7,181.8M994.3,202.6L1009.6,202.8M993.2,223.5L1008.6,223.7M991.1,244.4L1006.7,244.7M986.2,265.4L1001.9,265.6M980.1,286.3L995.8,286.5M989.7,307.5L974,307.3M1018.8,171.5L1033.8,171.7M1019.7,150.5L1034.7,150.7M1017.8,192.4L1033,192.6M1016.8,213.3L1032.2,213.6M1015.7,234.3L1031.2,234.5M1012.8,255.2L1028.5,255.4M1006.7,276.2L1022.4,276.4M1000.5,297.1L1016.2,297.3M1010,318.3L994.4,318.1M1041.8,161.3L1056.8,161.5M1042.5,140.4L1057.4,140.6M1041,182.3L1056.2,182.5M1040.2,203.2L1055.5,203.4M1039.5,224.1L1054.9,224.4M1038,245.1L1053.6,245.3M1033.3,266L1049,266.2M1027.1,287L1042.8,287.2M1036.5,308.1L1020.9,307.9M1064,172.1L1079.1,172.3M1064.6,151.2L1079.5,151.4M1063.5,193.1L1078.7,193.3M1062.9,214L1078.3,214.2M1062.2,234.9L1077.8,235.2M1060,255.9L1075.7,256.1M1053.7,276.8L1069.4,277M1047.5,297.8L1063.1,298M1056.8,318.9L1041.2,318.7M1086.8,162L1101.8,162.2M1087.1,141L1102,141.3M1086.5,182.9L1101.6,183.1M1086.1,203.9L1101.4,204.1M1085.8,224.8L1101.2,225M1084.9,245.7L1100.6,246M1080.4,266.7L1096.1,266.9M1074.1,287.6L1089.7,287.8M1083.4,308.8L1067.8,308.6M1109.3,172.8L1124.3,173M1109.4,151.8L1124.3,152.1M1109.1,193.7L1124.4,193.9M1109,214.7L1124.4,214.9M1108.8,235.6L1124.3,235.8M1107.1,256.5L1122.8,256.8M1100.7,277.5L1116.4,277.7M1094.4,298.4L1110,298.6M1103.6,319.6L1088,319.4M1131.8,162.6L1146.9,162.9M1131.8,141.7L1146.6,141.9M1131.9,183.6L1147.1,183.8M1132,204.5L1147.3,204.7M1132.1,225.5L1147.5,225.7M1131.8,246.4L1147.5,246.6M1127.5,267.3L1143.2,267.6M1121,288.3L1136.7,288.5M1130.2,309.4L1114.6,309.2M1154.5,173.4L1169.6,173.6M1154.2,152.5L1169.2,152.7M1154.8,194.4L1170,194.6M1155.1,215.3L1170.5,215.5M1155.4,236.3L1170.9,236.5M1154.3,257.2L1170,257.4M1147.8,278.1L1163.5,278.4M1141.3,299.1L1156.9,299.3M1150.4,320.2L1134.8,320M1176.9,163.3L1191.9,163.5M1176.4,142.3L1191.3,142.6M1177.4,184.2L1192.6,184.4M1177.9,205.2L1193.2,205.4M1178.4,226.1L1193.9,226.3M1178.8,247.1L1194.4,247.3M1174.6,268L1190.3,268.2M1168,288.9L1183.7,289.2M1177.1,310.1L1161.5,309.9M1199.8,174.1L1214.9,174.3M1199.1,153.1L1214,153.4M1200.5,195L1215.7,195.2M1201.2,216L1216.6,216.2M1201.9,236.9L1217.4,237.1M1201.4,257.8L1217.1,258.1M1194.8,278.8L1210.5,279M1188.2,299.7L1203.8,299.9M1197.2,320.9L1181.6,320.7M831.6,158.3L840.4,147.9M816.5,158.1L810.5,147.5M810.5,147.5L819.4,137.1M834.3,137.3L840.4,147.9M828.8,179.2L837.7,168.8M813.7,179L807.6,168.4M807.6,168.4L816.5,158.1M837.7,168.8L831.6,158.3M826.1,200.2L835.1,189.8M810.8,199.9L804.6,189.4M804.6,189.4L813.7,179M835.1,189.8L828.8,179.2M823.3,221.1L832.4,210.7M807.9,220.9L801.6,210.3M801.6,210.3L810.8,199.9M832.4,210.7L826.1,200.2M819.1,242L829.4,231.7M803.4,241.8L798.4,231.2M798.4,231.2L807.9,220.9M829.4,231.7L823.3,221.1M813.5,263L824.2,252.6M797.8,262.8L792.8,252.2M792.8,252.2L803.4,241.8M824.2,252.6L819.1,242M807.9,283.9L818.6,273.6M792.2,283.7L787.2,273.1M787.2,273.1L797.8,262.8M818.6,273.6L813.5,263M802.2,304.9L812.9,294.5M786.6,304.6L781.6,294.1M781.6,294.1L792.2,283.7M812.9,294.5L807.9,283.9M852.8,169.1L861.6,158.7M861.6,158.7L855.4,148.1M850.3,190L859.1,179.6M859.1,179.6L852.8,169.1M847.7,210.9L856.7,200.6M856.7,200.6L850.3,190M845,231.9L854.2,221.5M854.2,221.5L847.7,210.9M839.9,252.8L850.3,242.5M850.3,242.5L845,231.9M834.2,273.8L844.9,263.4M844.9,263.4L839.9,252.8M828.5,294.7L839.2,284.4M839.2,284.4L834.2,273.8M833.5,305.3L822.8,315.7M807.2,315.4L802.2,304.9M833.5,305.3L828.5,294.7M876.6,158.9L885.2,148.6M855.4,148.1L864.1,137.8M878.9,138L885.2,148.6M874.3,179.9L883,169.5M883,169.5L876.6,158.9M872,200.8L880.7,190.4M880.7,190.4L874.3,179.9M869.6,221.7L878.5,211.4M878.5,211.4L872,200.8M866,242.7L876,232.3M876,232.3L869.6,221.7M860.6,263.6L871.4,253.3M871.4,253.3L866,242.7M854.9,284.6L865.6,274.2M865.6,274.2L860.6,263.6M849.1,305.5L859.8,295.1M859.8,295.1L854.9,284.6M898.1,169.7L906.6,159.4M906.6,159.4L900.2,148.8M896,190.7L904.6,180.3M904.6,180.3L898.1,169.7M893.9,211.6L902.6,201.2M902.6,201.2L896,190.7M891.5,232.5L900.5,222.2M900.5,222.2L893.9,211.6M887.1,253.5L897.3,243.1M897.3,243.1L891.5,232.5M881.3,274.4L892,264.1M892,264.1L887.1,253.5M875.4,295.4L886.2,285M886.2,285L881.3,274.4M880.3,305.9L869.6,316.3M854,316.1L849.1,305.5M880.3,305.9L875.4,295.4M921.6,159.6L930.1,149.2M900.2,148.8L908.7,138.4M923.5,138.6L930.1,149.2M919.8,180.5L928.2,170.2M928.2,170.2L921.6,159.6M917.9,201.5L926.4,191.1M926.4,191.1L919.8,180.5M916,222.4L924.6,212M924.6,212L917.9,201.5M912.9,243.3L922.6,233M922.6,233L916,222.4M907.7,264.3L918.5,253.9M918.5,253.9L912.9,243.3M901.8,285.2L912.6,274.9M912.6,274.9L907.7,264.3M895.9,306.2L906.7,295.8M906.7,295.8L901.8,285.2M943.3,170.4L951.7,160M951.7,160L945,149.4M941.6,191.3L950.1,181M950.1,181L943.3,170.4M940,212.3L948.4,201.9M948.4,201.9L941.6,191.3M938.1,233.2L946.8,222.8M946.8,222.8L940,212.3M934.2,254.1L944.2,243.8M944.2,243.8L938.1,233.2M928.3,275.1L939.1,264.7M939.1,264.7L934.2,254.1M922.3,296L933.2,285.7M933.2,285.7L928.3,275.1M927.2,306.6L916.4,317M900.8,316.7L895.9,306.2M927.2,306.6L922.3,296M966.7,160.2L974.9,149.9M945,149.4L953.3,139.1M968.2,139.3L974.9,149.9M965.2,181.2L973.5,170.8M973.5,170.8L966.7,160.2M963.7,202.1L972.1,191.8M972.1,191.8L965.2,181.2M962.3,223.1L970.7,212.7M970.7,212.7L963.7,202.1M959.8,244L969.1,233.6M969.1,233.6L962.3,223.1M954.8,264.9L965.7,254.6M965.7,254.6L959.8,244M948.8,285.9L959.7,275.5M959.7,275.5L954.8,264.9M942.8,306.8L953.6,296.5M953.6,296.5L948.8,285.9M988.6,171L996.7,160.7M996.7,160.7L989.8,150.1M987.3,192L995.5,181.6M995.5,181.6L988.6,171M986.1,212.9L994.3,202.6M994.3,202.6L987.3,192M984.6,233.9L993.2,223.5M993.2,223.5L986.1,212.9M981.4,254.8L991.1,244.4M991.1,244.4L984.6,233.9M975.3,275.7L986.2,265.4M986.2,265.4L981.4,254.8M969.3,296.7L980.1,286.3M980.1,286.3L975.3,275.7M974,307.3L963.2,317.6M947.6,317.4L942.8,306.8M974,307.3L969.3,296.7M1011.7,160.9L1019.7,150.5M989.8,150.1L997.9,139.7M1012.8,139.9L1019.7,150.5M1010.7,181.8L1018.8,171.5M1018.8,171.5L1011.7,160.9M1009.6,202.8L1017.8,192.4M1017.8,192.4L1010.7,181.8M1008.6,223.7L1016.8,213.3M1016.8,213.3L1009.6,202.8M1006.7,244.7L1015.7,234.3M1015.7,234.3L1008.6,223.7M1001.9,265.6L1012.8,255.2M1012.8,255.2L1006.7,244.7M995.8,286.5L1006.7,276.2M1006.7,276.2L1001.9,265.6M989.7,307.5L1000.5,297.1M1000.5,297.1L995.8,286.5M1033.8,171.7L1041.8,161.3M1041.8,161.3L1034.7,150.7M1033,192.6L1041,182.3M1041,182.3L1033.8,171.7M1032.2,213.6L1040.2,203.2M1040.2,203.2L1033,192.6M1031.2,234.5L1039.5,224.1M1039.5,224.1L1032.2,213.6M1028.5,255.4L1038,245.1M1038,245.1L1031.2,234.5M1022.4,276.4L1033.3,266M1033.3,266L1028.5,255.4M1016.2,297.3L1027.1,287M1027.1,287L1022.4,276.4M1020.9,307.9L1010,318.3M994.4,318.1L989.7,307.5M1020.9,307.9L1016.2,297.3M1056.8,161.5L1064.6,151.2M1034.7,150.7L1042.5,140.4M1057.4,140.6L1064.6,151.2M1056.2,182.5L1064,172.1M1064,172.1L1056.8,161.5M1055.5,203.4L1063.5,193.1M1063.5,193.1L1056.2,182.5M1054.9,224.4L1062.9,214M1062.9,214L1055.5,203.4M1053.6,245.3L1062.2,234.9M1062.2,234.9L1054.9,224.4M1049,266.2L1060,255.9M1060,255.9L1053.6,245.3M1042.8,287.2L1053.7,276.8M1053.7,276.8L1049,266.2M1036.5,308.1L1047.5,297.8M1047.5,297.8L1042.8,287.2M1079.1,172.3L1086.8,162M1086.8,162L1079.5,151.4M1078.7,193.3L1086.5,182.9M1086.5,182.9L1079.1,172.3M1078.3,214.2L1086.1,203.9M1086.1,203.9L1078.7,193.3M1077.8,235.2L1085.8,224.8M1085.8,224.8L1078.3,214.2M1075.7,256.1L1084.9,245.7M1084.9,245.7L1077.8,235.2M1069.4,277L1080.4,266.7M1080.4,266.7L1075.7,256.1M1063.1,298L1074.1,287.6M1074.1,287.6L1069.4,277M1067.8,308.6L1056.8,318.9M1041.2,318.7L1036.5,308.1M1067.8,308.6L1063.1,298M1101.8,162.2L1109.4,151.8M1079.5,151.4L1087.1,141M1102,141.3L1109.4,151.8M1101.6,183.1L1109.3,172.8M1109.3,172.8L1101.8,162.2M1101.4,204.1L1109.1,193.7M1109.1,193.7L1101.6,183.1M1101.2,225L1109,214.7M1109,214.7L1101.4,204.1M1100.6,246L1108.8,235.6M1108.8,235.6L1101.2,225M1096.1,266.9L1107.1,256.5M1107.1,256.5L1100.6,246M1089.7,287.8L1100.7,277.5M1100.7,277.5L1096.1,266.9M1083.4,308.8L1094.4,298.4M1094.4,298.4L1089.7,287.8M1124.3,173L1131.8,162.6M1131.8,162.6L1124.3,152.1M1124.4,193.9L1131.9,183.6M1131.9,183.6L1124.3,173M1124.4,214.9L1132,204.5M1132,204.5L1124.4,193.9M1124.3,235.8L1132.1,225.5M1132.1,225.5L1124.4,214.9M1122.8,256.8L1131.8,246.4M1131.8,246.4L1124.3,235.8M1116.4,277.7L1127.5,267.3M1127.5,267.3L1122.8,256.8M1110,298.6L1121,288.3M1121,288.3L1116.4,277.7M1114.6,309.2L1103.6,319.6M1088,319.4L1083.4,308.8M1114.6,309.2L1110,298.6M1146.9,162.9L1154.2,152.5M1124.3,152.1L1131.8,141.7M1146.6,141.9L1154.2,152.5M1147.1,183.8L1154.5,173.4M1154.5,173.4L1146.9,162.9M1147.3,204.7L1154.8,194.4M1154.8,194.4L1147.1,183.8M1147.5,225.7L1155.1,215.3M1155.1,215.3L1147.3,204.7M1147.5,246.6L1155.4,236.3M1155.4,236.3L1147.5,225.7M1143.2,267.6L1154.3,257.2M1154.3,257.2L1147.5,246.6M1136.7,288.5L1147.8,278.1M1147.8,278.1L1143.2,267.6M1130.2,309.4L1141.3,299.1M1141.3,299.1L1136.7,288.5M1169.6,173.6L1176.9,163.3M1176.9,163.3L1169.2,152.7M1170,194.6L1177.4,184.2M1177.4,184.2L1169.6,173.6M1170.5,215.5L1177.9,205.2M1177.9,205.2L1170,194.6M1170.9,236.5L1178.4,226.1M1178.4,226.1L1170.5,215.5M1170,257.4L1178.8,247.1M1178.8,247.1L1170.9,236.5M1163.5,278.4L1174.6,268M1174.6,268L1170,257.4M1156.9,299.3L1168,288.9M1168,288.9L1163.5,278.4M1161.5,309.9L1150.4,320.2M1134.8,320L1130.2,309.4M1161.5,309.9L1156.9,299.3M1191.9,163.5L1199.1,153.1M1169.2,152.7L1176.4,142.3M1191.3,142.6L1199.1,153.1M1192.6,184.4L1199.8,174.1M1199.8,174.1L1191.9,163.5M1193.2,205.4L1200.5,195M1200.5,195L1192.6,184.4M1193.9,226.3L1201.2,216M1201.2,216L1193.2,205.4M1194.4,247.3L1201.9,236.9M1201.9,236.9L1193.9,226.3M1190.3,268.2L1201.4,257.8M1201.4,257.8L1194.4,247.3M1183.7,289.2L1194.8,278.8M1194.8,278.8L1190.3,268.2M1177.1,310.1L1188.2,299.7M1188.2,299.7L1183.7,289.2M1221.9,163.9L1214.9,174.3M1214,153.4L1221.9,163.9M1222.9,184.9L1215.7,195.2M1214.9,174.3L1222.9,184.9M1223.8,205.8L1216.6,216.2M1215.7,195.2L1223.8,205.8M1224.7,226.8L1217.4,237.1M1216.6,216.2L1224.7,226.8M1225.7,247.7L1217.1,258.1M1217.4,237.1L1225.7,247.7M1221.7,268.6L1210.5,279M1217.1,258.1L1221.7,268.6M1215,289.6L1203.8,299.9M1210.5,279L1215,289.6M1208.3,310.5L1197.2,320.9M1181.6,320.7L1177.1,310.1M1203.8,299.9L1208.3,310.5" stroke="#cb9a14" stroke-width="5.6"/>
<path d="M816.5,158.1h0M831.6,158.3h0M819.4,137.1h0M834.3,137.3h0M813.7,179h0M828.8,179.2h0M810.8,199.9h0M826.1,200.2h0M807.9,220.9h0M823.3,221.1h0M803.4,241.8h0M819.1,242h0M797.8,262.8h0M813.5,263h0M792.2,283.7h0M807.9,283.9h0M802.2,304.9h0M786.6,304.6h0M837.7,168.8h0M852.8,169.1h0M840.4,147.9h0M855.4,148.1h0M835.1,189.8h0M850.3,190h0M832.4,210.7h0M847.7,210.9h0M829.4,231.7h0M845,231.9h0M824.2,252.6h0M839.9,252.8h0M818.6,273.6h0M834.2,273.8h0M812.9,294.5h0M828.5,294.7h0M822.8,315.7h0M807.2,315.4h0M861.6,158.7h0M876.6,158.9h0M864.1,137.8h0M878.9,138h0M859.1,179.6h0M874.3,179.9h0M856.7,200.6h0M872,200.8h0M854.2,221.5h0M869.6,221.7h0M850.3,242.5h0M866,242.7h0M844.9,263.4h0M860.6,263.6h0M839.2,284.4h0M854.9,284.6h0M849.1,305.5h0M833.5,305.3h0M883,169.5h0M898.1,169.7h0M885.2,148.6h0M900.2,148.8h0M880.7,190.4h0M896,190.7h0M878.5,211.4h0M893.9,211.6h0M876,232.3h0M891.5,232.5h0M871.4,253.3h0M887.1,253.5h0M865.6,274.2h0M881.3,274.4h0M859.8,295.1h0M875.4,295.4h0M869.6,316.3h0M854,316.1h0M906.6,159.4h0M921.6,159.6h0M908.7,138.4h0M923.5,138.6h0M904.6,180.3h0M919.8,180.5h0M902.6,201.2h0M917.9,201.5h0M900.5,222.2h0M916,222.4h0M897.3,243.1h0M912.9,243.3h0M892,264.1h0M907.7,264.3h0M886.2,285h0M901.8,285.2h0M895.9,306.2h0M880.3,305.9h0M928.2,170.2h0M943.3,170.4h0M930.1,149.2h0M945,149.4h0M926.4,191.1h0M941.6,191.3h0M924.6,212h0M940,212.3h0M922.6,233h0M938.1,233.2h0M918.5,253.9h0M934.2,254.1h0M912.6,274.9h0M928.3,275.1h0M906.7,295.8h0M922.3,296h0M916.4,317h0M900.8,316.7h0M951.7,160h0M966.7,160.2h0M953.3,139.1h0M968.2,139.3h0M950.1,181h0M965.2,181.2h0M948.4,201.9h0M963.7,202.1h0M946.8,222.8h0M962.3,223.1h0M944.2,243.8h0M959.8,244h0M939.1,264.7h0M954.8,264.9h0M933.2,285.7h0M948.8,285.9h0M942.8,306.8h0M927.2,306.6h0M973.5,170.8h0M988.6,171h0M974.9,149.9h0M989.8,150.1h0M972.1,191.8h0M987.3,192h0M970.7,212.7h0M986.1,212.9h0M969.1,233.6h0M984.6,233.9h0M965.7,254.6h0M981.4,254.8h0M959.7,275.5h0M975.3,275.7h0M953.6,296.5h0M969.3,296.7h0M963.2,317.6h0M947.6,317.4h0M996.7,160.7h0M1011.7,160.9h0M997.9,139.7h0M1012.8,139.9h0M995.5,181.6h0M1010.7,181.8h0M994.3,202.6h0M1009.6,202.8h0M993.2,223.5h0M1008.6,223.7h0M991.1,244.4h0M1006.7,244.7h0M986.2,265.4h0M1001.9,265.6h0M980.1,286.3h0M995.8,286.5h0M989.7,307.5h0M974,307.3h0M1018.8,171.5h0M1033.8,171.7h0M1019.7,150.5h0M1034.7,150.7h0M1017.8,192.4h0M1033,192.6h0M1016.8,213.3h0M1032.2,213.6h0M1015.7,234.3h0M1031.2,234.5h0M1012.8,255.2h0M1028.5,255.4h0M1006.7,276.2h0M1022.4,276.4h0M1000.5,297.1h0M1016.2,297.3h0M1010,318.3h0M994.4,318.1h0M1041.8,161.3h0M1056.8,161.5h0M1042.5,140.4h0M1057.4,140.6h0M1041,182.3h0M1056.2,182.5h0M1040.2,203.2h0M1055.5,203.4h0M1039.5,224.1h0M1054.9,224.4h0M1038,245.1h0M1053.6,245.3h0M1033.3,266h0M1049,266.2h0M1027.1,287h0M1042.8,287.2h0M1036.5,308.1h0M1020.9,307.9h0M1064,172.1h0M1079.1,172.3h0M1064.6,151.2h0M1079.5,151.4h0M1063.5,193.1h0M1078.7,193.3h0M1062.9,214h0M1078.3,214.2h0M1062.2,234.9h0M1077.8,235.2h0M1060,255.9h0M1075.7,256.1h0M1053.7,276.8h0M1069.4,277h0M1047.5,297.8h0M1063.1,298h0M1056.8,318.9h0M1041.2,318.7h0M1086.8,162h0M1101.8,162.2h0M1087.1,141h0M1102,141.3h0M1086.5,182.9h0M1101.6,183.1h0M1086.1,203.9h0M1101.4,204.1h0M1085.8,224.8h0M1101.2,225h0M1084.9,245.7h0M1100.6,246h0M1080.4,266.7h0M1096.1,266.9h0M1074.1,287.6h0M1089.7,287.8h0M1083.4,308.8h0M1067.8,308.6h0M1109.3,172.8h0M1124.3,173h0M1109.4,151.8h0M1124.3,152.1h0M1109.1,193.7h0M1124.4,193.9h0M1109,214.7h0M1124.4,214.9h0M1108.8,235.6h0M1124.3,235.8h0M1107.1,256.5h0M1122.8,256.8h0M1100.7,277.5h0M1116.4,277.7h0M1094.4,298.4h0M1110,298.6h0M1103.6,319.6h0M1088,319.4h0M1131.8,162.6h0M1146.9,162.9h0M1131.8,141.7h0M1146.6,141.9h0M1131.9,183.6h0M1147.1,183.8h0M1132,204.5h0M1147.3,204.7h0M1132.1,225.5h0M1147.5,225.7h0M1131.8,246.4h0M1147.5,246.6h0M1127.5,267.3h0M1143.2,267.6h0M1121,288.3h0M1136.7,288.5h0M1130.2,309.4h0M1114.6,309.2h0M1154.5,173.4h0M1169.6,173.6h0M1154.2,152.5h0M1169.2,152.7h0M1154.8,194.4h0M1170,194.6h0M1155.1,215.3h0M1170.5,215.5h0M1155.4,236.3h0M1170.9,236.5h0M1154.3,257.2h0M1170,257.4h0M1147.8,278.1h0M1163.5,278.4h0M1141.3,299.1h0M1156.9,299.3h0M1150.4,320.2h0M1134.8,320h0M1176.9,163.3h0M1191.9,163.5h0M1176.4,142.3h0M1191.3,142.6h0M1177.4,184.2h0M1192.6,184.4h0M1177.9,205.2h0M1193.2,205.4h0M1178.4,226.1h0M1193.9,226.3h0M1178.8,247.1h0M1194.4,247.3h0M1174.6,268h0M1190.3,268.2h0M1168,288.9h0M1183.7,289.2h0M1177.1,310.1h0M1161.5,309.9h0M1199.8,174.1h0M1214.9,174.3h0M1199.1,153.1h0M1214,153.4h0M1200.5,195h0M1215.7,195.2h0M1201.2,216h0M1216.6,216.2h0M1201.9,236.9h0M1217.4,237.1h0M1201.4,257.8h0M1217.1,258.1h0M1194.8,278.8h0M1210.5,279h0M1188.2,299.7h0M1203.8,299.9h0M1197.2,320.9h0M1181.6,320.7h0M810.5,147.5h0M807.6,168.4h0M804.6,189.4h0M801.6,210.3h0M798.4,231.2h0M792.8,252.2h0M787.2,273.1h0M781.6,294.1h0M1221.9,163.9h0M1222.9,184.9h0M1223.8,205.8h0M1224.7,226.8h0M1225.7,247.7h0M1221.7,268.6h0M1215,289.6h0M1208.3,310.5h0" stroke="#2c1700" stroke-width="7.8"/>
<path d="M818.4,158.1L829.7,158.2M821.3,137.1L832.4,137.3M815.6,179L826.9,179.2M812.7,200L824.2,200.1M809.8,220.9L821.4,221.1M805.4,241.8L817.1,242M799.8,262.8L811.6,262.9M794.2,283.7L805.9,283.9M800.3,304.8L788.6,304.7M839.6,168.9L850.9,169M842.3,147.9L853.5,148.1M837,189.8L848.4,190M834.3,210.8L845.8,210.9M831.4,231.7L843,231.9M826.2,252.6L838,252.8M820.5,273.6L832.3,273.7M814.8,294.5L826.6,294.7M820.8,315.6L809.2,315.5M863.5,158.7L874.7,158.9M865.9,137.8L877.1,138M861,179.7L872.4,179.8M858.6,200.6L870,200.8M856.1,221.6L867.7,221.7M852.3,242.5L864,242.7M846.9,263.4L858.7,263.6M841.2,284.4L852.9,284.5M847.1,305.5L835.4,305.3M884.9,169.5L896.2,169.7M887.1,148.6L898.3,148.8M882.6,190.5L894.1,190.6M880.4,211.4L891.9,211.6M877.9,232.4L889.6,232.5M873.3,253.3L885.1,253.5M867.5,274.2L879.3,274.4M861.7,295.2L873.5,295.3M867.6,316.3L856,316.1M908.5,159.4L919.8,159.6M910.5,138.4L921.7,138.6M906.5,180.3L917.9,180.5M904.5,201.3L915.9,201.4M902.4,222.2L914,222.4M899.2,243.2L910.9,243.3M894,264.1L905.8,264.3M888.1,285L899.9,285.2M894,306.1L882.3,306M930.1,170.2L941.4,170.3M931.9,149.2L943.1,149.4M928.3,191.1L939.7,191.3M926.5,212.1L938,212.2M924.5,233L936.1,233.2M920.5,253.9L932.3,254.1M914.6,274.9L926.3,275.1M908.7,295.8L920.4,296M914.4,316.9L902.8,316.8M953.6,160L964.8,160.2M955.1,139.1L966.3,139.3M952,181L963.3,181.1M950.4,201.9L961.8,202.1M948.8,222.9L960.3,223M946.1,243.8L957.9,244M941.1,264.7L952.9,264.9M935.1,285.7L946.9,285.9M940.9,306.8L929.1,306.6M975.4,170.8L986.7,171M976.8,149.9L988,150.1M974,191.8L985.4,191.9M972.6,212.7L984.1,212.9M971.1,233.7L982.7,233.8M967.6,254.6L979.4,254.8M961.6,275.5L973.4,275.7M955.6,296.5L967.3,296.6M961.2,317.6L949.6,317.4M998.6,160.7L1009.9,160.9M999.8,139.8L1010.9,139.9M997.4,181.6L1008.8,181.8M996.3,202.6L1007.7,202.7M995.1,223.5L1006.7,223.7M993,244.5L1004.8,244.6M988.2,265.4L999.9,265.6M982.1,286.3L993.8,286.5M987.7,307.4L976,307.3M1020.6,171.5L1032,171.7M1021.6,150.6L1032.8,150.7M1019.7,192.4L1031.1,192.6M1018.7,213.4L1030.2,213.5M1017.6,234.3L1029.3,234.5M1014.8,255.3L1026.6,255.4M1008.6,276.2L1020.4,276.4M1002.5,297.1L1014.2,297.3M1008,318.2L996.4,318.1M1043.6,161.4L1054.9,161.5M1044.4,140.4L1055.5,140.6M1042.9,182.3L1054.3,182.5M1042.1,203.2L1053.6,203.4M1041.4,224.2L1053,224.3M1040,245.1L1051.7,245.3M1035.3,266.1L1047,266.2M1029.1,287L1040.8,287.2M1034.6,308.1L1022.9,307.9M1065.9,172.1L1077.2,172.3M1066.4,151.2L1077.6,151.4M1065.4,193.1L1076.8,193.3M1064.8,214L1076.4,214.2M1064.2,235L1075.8,235.1M1061.9,255.9L1073.7,256.1M1055.7,276.9L1067.4,277M1049.4,297.8L1061.1,298M1054.8,318.9L1043.2,318.7M1088.7,162L1099.9,162.2M1089,141.1L1100.2,141.2M1088.4,182.9L1099.7,183.1M1088,203.9L1099.5,204.1M1087.7,224.8L1099.3,225M1086.9,245.8L1098.6,245.9M1082.4,266.7L1094.1,266.9M1076,287.7L1087.8,287.8M1081.4,308.8L1069.7,308.6M1111.1,172.8L1122.5,173M1111.3,151.9L1122.5,152M1111,193.7L1122.5,193.9M1110.9,214.7L1122.5,214.8M1110.7,235.6L1122.4,235.8M1109.1,256.6L1120.9,256.7M1102.7,277.5L1114.5,277.7M1096.3,298.4L1108.1,298.6M1101.6,319.6L1090,319.4M1133.7,162.7L1145,162.8M1133.6,141.7L1144.8,141.9M1133.8,183.6L1145.2,183.8M1133.9,204.5L1145.4,204.7M1134,225.5L1145.6,225.6M1133.8,246.4L1145.5,246.6M1129.4,267.4L1141.2,267.5M1123,288.3L1134.7,288.5M1128.3,309.4L1116.6,309.2M1156.4,173.5L1167.7,173.6M1156.1,152.5L1167.3,152.7M1156.7,194.4L1168.1,194.6M1157,215.3L1168.6,215.5M1157.3,236.3L1168.9,236.4M1156.2,257.2L1168,257.4M1149.7,278.2L1161.5,278.3M1143.2,299.1L1155,299.3M1148.5,320.2L1136.8,320M1178.8,163.3L1190,163.5M1178.2,142.4L1189.4,142.5M1179.3,184.3L1190.7,184.4M1179.8,205.2L1191.3,205.4M1180.4,226.1L1191.9,226.3M1180.7,247.1L1192.4,247.2M1176.5,268L1188.3,268.2M1170,289L1181.7,289.1M1175.1,310.1L1163.4,309.9M1201.7,174.1L1213,174.3M1200.9,153.2L1212.1,153.3M1202.4,195.1L1213.8,195.2M1203.1,216L1214.7,216.2M1203.9,236.9L1215.5,237.1M1203.4,257.9L1215.2,258M1196.8,278.8L1208.5,279M1190.2,299.8L1201.9,299.9M1195.2,320.9L1183.5,320.7" stroke="#8f8a44" stroke-width="3.2"/>
</g>
<text x="998.4" y="367.9" font-size="48" text-anchor="middle" font-weight="bold" fill="#000" >COF</text>
<g filter="url(#soft)">
<path d="M853.2,224.2L855.2,224.1L857.3,223.9L859.3,223.6L861.4,223.1L863.4,222.5L865.4,221.7L867.5,220.9L869.5,219.9L871.6,218.9L873.6,217.7L875.6,216.4L877.7,215.1L879.7,213.8L881.8,212.4L883.8,210.9L885.8,209.4L887.9,208L889.9,206.5L891.9,205L894,203.6L896,202.3L898.1,200.9L900.1,199.7L902.1,198.5L904.2,197.5L906.2,196.5L908.3,195.7L910.3,194.9L912.3,194.3L914.4,193.8L916.4,193.5L918.5,193.3L920.5,193.2L922.5,193.2L924.5,193.3L926.6,193.5L928.6,193.7L930.6,194L932.6,194.4L934.6,194.8L936.6,195.3L938.7,195.9L940.7,196.5L942.7,197.2L944.7,197.9L946.7,198.7L948.7,199.5L950.8,200.4L952.8,201.4L954.8,202.3L956.8,203.4L958.8,204.4L960.8,205.5L962.9,206.6L964.9,207.8L966.9,209L968.9,210.2L970.9,211.4L972.9,212.7L975,213.9L977,215.2L979,216.5L981,217.7L983,219L985,220.3L987.1,221.5L989.1,222.8L991.1,224L993.1,225.2L995.1,226.4L997.1,227.6L999.2,228.7L1001.2,229.8L1003.2,230.8L1005.2,231.9L1007.2,232.8L1009.2,233.8L1011.3,234.7L1013.3,235.5L1015.3,236.3L1017.3,237L1019.3,237.7L1021.3,238.3L1023.4,238.9L1025.4,239.4L1027.4,239.8L1029.4,240.2L1031.4,240.5L1033.4,240.7L1035.5,240.9L1037.5,241L1039.5,241L1041.5,241L1043.5,240.9L1045.5,240.7L1047.6,240.4L1049.6,240.1L1051.6,239.7L1053.6,239.3L1055.6,238.7L1057.6,238.1L1059.6,237.5L1061.6,236.8L1063.7,236L1065.7,235.2L1067.7,234.3L1069.7,233.4L1071.7,232.4L1073.7,231.4L1075.7,230.3L1077.7,229.2L1079.8,228.1L1081.8,227L1083.8,225.8L1085.8,224.6L1087.8,223.4L1089.8,222.1L1091.8,220.9L1093.8,219.7L1095.9,218.4L1097.9,217.2L1099.9,215.9L1101.9,214.7L1103.9,213.5L1105.9,212.3L1107.9,211.2L1110,210.1L1112,209L1114,207.9L1116,206.9L1118,205.9L1120,205L1122,204.1L1124,203.3L1126.1,202.5L1128.1,201.8L1130.1,201.2L1132.1,200.6L1134.1,200L1136.1,199.6L1138.1,199.2L1140.1,198.9L1142.2,198.6L1144.2,198.4L1146.2,198.3L1148.2,198.3L1148.2,201.3L1146.2,201.3L1144.2,201.4L1142.2,201.6L1140.1,201.9L1138.1,207.6L1136.1,207.1L1134.1,206.7L1132.1,206.6L1130.1,206.7L1128.1,206.9L1126.1,207.3L1124,207.8L1122,208.4L1120,209L1118,209.8L1116,210.6L1114,211.5L1112,212.5L1110,213.5L1107.9,214.6L1105.9,215.7L1103.9,216.8L1101.9,218L1099.9,219.2L1097.9,220.4L1095.9,221.6L1093.8,222.8L1091.8,224.1L1089.8,225.3L1087.8,226.6L1085.8,227.8L1083.8,229.1L1081.8,230.3L1079.8,231.5L1077.7,232.7L1075.7,233.8L1073.7,235L1071.7,236.1L1069.7,237.2L1067.7,238.3L1065.7,239.4L1063.7,240.5L1061.6,241.5L1059.6,242.6L1057.6,243.7L1055.6,244.8L1053.6,246L1051.6,247.2L1049.6,248.5L1047.6,249.8L1045.5,251.2L1043.5,252.4L1041.5,253.2L1039.5,253.5L1037.5,253.2L1035.5,252.5L1033.4,251.4L1031.4,250.1L1029.4,248.9L1027.4,247.6L1025.4,246.4L1023.4,245.2L1021.3,244.1L1019.3,243.1L1017.3,242L1015.3,241L1013.3,239.9L1011.3,238.9L1009.2,237.8L1007.2,236.7L1005.2,235.6L1003.2,234.5L1001.2,233.3L999.2,232.1L997.1,230.9L995.1,229.7L993.1,228.5L991.1,227.2L989.1,226L987.1,224.7L985,223.4L983,222.2L981,220.9L979,219.6L977,218.3L975,217.1L972.9,215.8L970.9,214.6L968.9,213.4L966.9,212.3L964.9,211.1L962.9,210L960.8,209L958.8,207.9L956.8,207L954.8,206.1L952.8,205.2L950.8,204.4L948.7,203.7L946.7,203.1L944.7,202.6L942.7,202.2L940.7,201.9L938.7,201.7L936.6,201.7L934.6,201.9L932.6,202.2L930.6,202.7L928.6,203.4L926.6,204.2L924.5,204.9L922.5,205.5L920.5,205.7L918.5,204.8L916.4,203.1L914.4,201.5L912.3,200.5L910.3,200.1L908.3,200.2L906.2,200.6L904.2,201.2L902.1,202L900.1,203L898.1,204.1L896,205.3L894,206.6L891.9,208L889.9,209.4L887.9,210.9L885.8,212.3L883.8,213.8L881.8,215.3L879.7,216.8L877.7,218.2L875.6,219.6L873.6,221L871.6,222.3L869.5,223.6L867.5,224.9L865.4,224.7L863.4,225.5L861.4,226.1L859.3,226.6L857.3,226.9L855.2,227.1L853.2,227.2Z" fill="#a0d4fa" opacity="0.92"/>
<line x1="867.5" y1="220.9" x2="867.5" y2="224.9" stroke="#1a6ad8" stroke-width="1.8"/>
<line x1="910.3" y1="194.9" x2="910.3" y2="200.1" stroke="#1a6ad8" stroke-width="1.8"/>
<line x1="916.4" y1="193.5" x2="916.4" y2="203.1" stroke="#1a6ad8" stroke-width="1.8"/>
<line x1="922.5" y1="193.2" x2="922.5" y2="205.5" stroke="#1a6ad8" stroke-width="1.8"/>
<line x1="928.6" y1="193.7" x2="928.6" y2="203.4" stroke="#1a6ad8" stroke-width="1.8"/>
<line x1="934.6" y1="194.8" x2="934.6" y2="201.9" stroke="#1a6ad8" stroke-width="1.8"/>
<line x1="940.7" y1="196.5" x2="940.7" y2="201.9" stroke="#1a6ad8" stroke-width="1.8"/>
<line x1="946.7" y1="198.7" x2="946.7" y2="203.1" stroke="#1a6ad8" stroke-width="1.8"/>
<line x1="1013.3" y1="235.5" x2="1013.3" y2="239.9" stroke="#1a6ad8" stroke-width="1.8"/>
<line x1="1019.3" y1="237.7" x2="1019.3" y2="243.1" stroke="#1a6ad8" stroke-width="1.8"/>
<line x1="1025.4" y1="239.4" x2="1025.4" y2="246.4" stroke="#1a6ad8" stroke-width="1.8"/>
<line x1="1031.4" y1="240.5" x2="1031.4" y2="250.1" stroke="#1a6ad8" stroke-width="1.8"/>
<line x1="1037.5" y1="241" x2="1037.5" y2="253.2" stroke="#1a6ad8" stroke-width="1.8"/>
<line x1="1043.5" y1="240.9" x2="1043.5" y2="252.4" stroke="#1a6ad8" stroke-width="1.8"/>
<line x1="1049.6" y1="240.1" x2="1049.6" y2="248.5" stroke="#1a6ad8" stroke-width="1.8"/>
<line x1="1055.6" y1="238.7" x2="1055.6" y2="244.8" stroke="#1a6ad8" stroke-width="1.8"/>
<line x1="1061.6" y1="236.8" x2="1061.6" y2="241.5" stroke="#1a6ad8" stroke-width="1.8"/>
<line x1="1067.7" y1="234.3" x2="1067.7" y2="238.3" stroke="#1a6ad8" stroke-width="1.8"/>
<line x1="1122" y1="204.1" x2="1122" y2="208.4" stroke="#1a6ad8" stroke-width="1.8"/>
<line x1="1128.1" y1="201.8" x2="1128.1" y2="206.9" stroke="#1a6ad8" stroke-width="1.8"/>
<line x1="1134.1" y1="200" x2="1134.1" y2="206.7" stroke="#1a6ad8" stroke-width="1.8"/>
<path d="M853.2,224.2L855.2,224.1L857.3,223.9L859.3,223.6L861.4,223.1L863.4,222.5L865.4,221.7L867.5,220.9L869.5,219.9L871.6,218.9L873.6,217.7L875.6,216.4L877.7,215.1L879.7,213.8L881.8,212.4L883.8,210.9L885.8,209.4L887.9,208L889.9,206.5L891.9,205L894,203.6L896,202.3L898.1,200.9L900.1,199.7L902.1,198.5L904.2,197.5L906.2,196.5L908.3,195.7L910.3,194.9L912.3,194.3L914.4,193.8L916.4,193.5L918.5,193.3L920.5,193.2L922.5,193.2L924.5,193.3L926.6,193.5L928.6,193.7L930.6,194L932.6,194.4L934.6,194.8L936.6,195.3L938.7,195.9L940.7,196.5L942.7,197.2L944.7,197.9L946.7,198.7L948.7,199.5L950.8,200.4L952.8,201.4L954.8,202.3L956.8,203.4L958.8,204.4L960.8,205.5L962.9,206.6L964.9,207.8L966.9,209L968.9,210.2L970.9,211.4L972.9,212.7L975,213.9L977,215.2L979,216.5L981,217.7L983,219L985,220.3L987.1,221.5L989.1,222.8L991.1,224L993.1,225.2L995.1,226.4L997.1,227.6L999.2,228.7L1001.2,229.8L1003.2,230.8L1005.2,231.9L1007.2,232.8L1009.2,233.8L1011.3,234.7L1013.3,235.5L1015.3,236.3L1017.3,237L1019.3,237.7L1021.3,238.3L1023.4,238.9L1025.4,239.4L1027.4,239.8L1029.4,240.2L1031.4,240.5L1033.4,240.7L1035.5,240.9L1037.5,241L1039.5,241L1041.5,241L1043.5,240.9L1045.5,240.7L1047.6,240.4L1049.6,240.1L1051.6,239.7L1053.6,239.3L1055.6,238.7L1057.6,238.1L1059.6,237.5L1061.6,236.8L1063.7,236L1065.7,235.2L1067.7,234.3L1069.7,233.4L1071.7,232.4L1073.7,231.4L1075.7,230.3L1077.7,229.2L1079.8,228.1L1081.8,227L1083.8,225.8L1085.8,224.6L1087.8,223.4L1089.8,222.1L1091.8,220.9L1093.8,219.7L1095.9,218.4L1097.9,217.2L1099.9,215.9L1101.9,214.7L1103.9,213.5L1105.9,212.3L1107.9,211.2L1110,210.1L1112,209L1114,207.9L1116,206.9L1118,205.9L1120,205L1122,204.1L1124,203.3L1126.1,202.5L1128.1,201.8L1130.1,201.2L1132.1,200.6L1134.1,200L1136.1,199.6L1138.1,199.2L1140.1,198.9L1142.2,198.6L1144.2,198.4L1146.2,198.3L1148.2,198.3" fill="none" stroke="#1470e0" stroke-width="4.2" stroke-linecap="round"/>
<path d="M853.2,227.2L855.2,227.1L857.3,226.9L859.3,226.6L861.4,226.1L863.4,225.5L865.4,224.7L867.5,224.9L869.5,223.6L871.6,222.3L873.6,221L875.6,219.6L877.7,218.2L879.7,216.8L881.8,215.3L883.8,213.8L885.8,212.3L887.9,210.9L889.9,209.4L891.9,208L894,206.6L896,205.3L898.1,204.1L900.1,203L902.1,202L904.2,201.2L906.2,200.6L908.3,200.2L910.3,200.1L912.3,200.5L914.4,201.5L916.4,203.1L918.5,204.8L920.5,205.7L922.5,205.5L924.5,204.9L926.6,204.2L928.6,203.4L930.6,202.7L932.6,202.2L934.6,201.9L936.6,201.7L938.7,201.7L940.7,201.9L942.7,202.2L944.7,202.6L946.7,203.1L948.7,203.7L950.8,204.4L952.8,205.2L954.8,206.1L956.8,207L958.8,207.9L960.8,209L962.9,210L964.9,211.1L966.9,212.3L968.9,213.4L970.9,214.6L972.9,215.8L975,217.1L977,218.3L979,219.6L981,220.9L983,222.2L985,223.4L987.1,224.7L989.1,226L991.1,227.2L993.1,228.5L995.1,229.7L997.1,230.9L999.2,232.1L1001.2,233.3L1003.2,234.5L1005.2,235.6L1007.2,236.7L1009.2,237.8L1011.3,238.9L1013.3,239.9L1015.3,241L1017.3,242L1019.3,243.1L1021.3,244.1L1023.4,245.2L1025.4,246.4L1027.4,247.6L1029.4,248.9L1031.4,250.1L1033.4,251.4L1035.5,252.5L1037.5,253.2L1039.5,253.5L1041.5,253.2L1043.5,252.4L1045.5,251.2L1047.6,249.8L1049.6,248.5L1051.6,247.2L1053.6,246L1055.6,244.8L1057.6,243.7L1059.6,242.6L1061.6,241.5L1063.7,240.5L1065.7,239.4L1067.7,238.3L1069.7,237.2L1071.7,236.1L1073.7,235L1075.7,233.8L1077.7,232.7L1079.8,231.5L1081.8,230.3L1083.8,229.1L1085.8,227.8L1087.8,226.6L1089.8,225.3L1091.8,224.1L1093.8,222.8L1095.9,221.6L1097.9,220.4L1099.9,219.2L1101.9,218L1103.9,216.8L1105.9,215.7L1107.9,214.6L1110,213.5L1112,212.5L1114,211.5L1116,210.6L1118,209.8L1120,209L1122,208.4L1124,207.8L1126.1,207.3L1128.1,206.9L1130.1,206.7L1132.1,206.6L1134.1,206.7L1136.1,207.1L1138.1,207.6L1140.1,201.9L1142.2,201.6L1144.2,201.4L1146.2,201.3L1148.2,201.3" fill="none" stroke="#2a80e8" stroke-width="2.2" stroke-linecap="round"/>
</g>
<path d="M1190,198.3L1186.1,203.6L1185.7,210.2L1179.3,211.8L1174.7,216.5L1168.8,213.6L1162.2,214.3L1159.6,208.3L1154.1,204.6L1156,198.3L1154.1,192L1159.6,188.3L1162.2,182.3L1168.8,183L1174.7,180.1L1179.3,184.8L1185.7,186.4L1186.1,193Z" fill="#000" stroke="#000" stroke-width="2" stroke-linejoin="round"/>
<path d="M1243.8,246.2L1457.6,246.2L1440.9,228.7L1532.4,251.7L1440.9,274.7L1457.6,257.2L1243.8,257.2Z" fill="#000"/>
<text x="1388" y="316.3" font-size="47" text-anchor="middle" font-weight="bold" fill="#000" >Biomolecules</text>
<g filter="url(#soft)">
<path d="M1302.7,199.5L1304.9,199.4L1307.1,199.2L1309.3,198.9L1311.4,198.6L1313.6,198.3L1315.8,198.1L1318,198L1320,198.1L1322.1,198.3L1324.1,198.8L1326.2,199.3L1328.2,200.1L1330.2,201L1332.3,202L1334.3,203.1L1336.4,204.3L1338.4,205.6L1340.4,207L1342.5,208.5L1344.5,209.9L1346.6,211.4L1348.6,212.8L1350.7,214.3L1352.7,215.7L1354.7,217L1356.8,218.2L1358.8,219.3L1360.9,220.3L1362.9,221.2L1364.9,222L1367,222.5L1369,223L1371.1,223.2L1373.1,223.3L1375.2,223.2L1377.2,223L1379.3,222.7L1381.4,222.2L1383.4,221.5L1385.5,220.8L1387.6,219.9L1389.6,218.9L1391.7,217.9L1393.8,216.7L1395.8,215.5L1397.9,214.3L1400,212.9L1402,211.6L1404.1,210.3L1406.1,209L1408.2,207.6L1410.3,206.4L1412.3,205.2L1414.4,204L1416.5,203L1418.5,202L1420.6,201.1L1422.7,200.4L1424.7,199.7L1426.8,199.2L1428.9,198.9L1430.9,198.7L1433,198.6L1435,198.7L1437,199.1L1439.1,199.6L1441.1,200.4L1443.1,201.3L1445.1,202.4L1447.1,203.7L1449.2,205L1451.2,206.4L1453.2,207.8L1455.2,209.3L1457.2,210.7L1459.3,212L1461.3,213.3L1463.3,214.4L1465.3,215.3L1467.3,216.1L1469.4,216.6L1471.4,217L1473.4,217.1" fill="none" stroke="#ffa8cc" stroke-width="7" stroke-linecap="round" opacity="0.75"/>
<path d="M1302.7,197.5L1304.9,197.4L1307.1,197.2L1309.3,196.9L1311.4,196.6L1313.6,196.3L1315.8,196.1L1318,196L1320,196.1L1322.1,196.3L1324.1,196.8L1326.2,197.3L1328.2,198.1L1330.2,199L1332.3,200L1334.3,201.1L1336.4,202.3L1338.4,203.6L1340.4,205L1342.5,206.5L1344.5,207.9L1346.6,209.4L1348.6,210.8L1350.7,212.3L1352.7,213.7L1354.7,215L1356.8,216.2L1358.8,217.3L1360.9,218.3L1362.9,219.2L1364.9,220L1367,220.5L1369,221L1371.1,221.2L1373.1,221.3L1375.2,221.2L1377.2,221L1379.3,220.7L1381.4,220.2L1383.4,219.5L1385.5,218.8L1387.6,217.9L1389.6,216.9L1391.7,215.9L1393.8,214.7L1395.8,213.5L1397.9,212.3L1400,210.9L1402,209.6L1404.1,208.3L1406.1,207L1408.2,205.6L1410.3,204.4L1412.3,203.2L1414.4,202L1416.5,201L1418.5,200L1420.6,199.1L1422.7,198.4L1424.7,197.7L1426.8,197.2L1428.9,196.9L1430.9,196.7L1433,196.6L1435,196.7L1437,197.1L1439.1,197.6L1441.1,198.4L1443.1,199.3L1445.1,200.4L1447.1,201.7L1449.2,203L1451.2,204.4L1453.2,205.8L1455.2,207.3L1457.2,208.7L1459.3,210L1461.3,211.3L1463.3,212.4L1465.3,213.3L1467.3,214.1L1469.4,214.6L1471.4,215L1473.4,215.1" fill="none" stroke="#ff3a8c" stroke-width="3.2" stroke-linecap="round"/>
</g>
<mask id="cp3" maskUnits="userSpaceOnUse" x="0" y="0" width="2022" height="2000"><path d="M1552,146L1918,148L1938,203L1962,245L1965,288L1570,288L1564,243L1552,189Z" fill="#fff" filter="url(#feather)"/></mask>
<g mask="url(#cp3)"><g stroke-linecap="round" fill="none" filter="url(#soft)">
<path d="M1553,147.3L1568,147.4M1552.9,128.3L1567.8,128.4M1553.1,166.3L1568.2,166.4M1553.1,185.4L1568.4,185.5M1555.8,204.4L1571.1,204.5M1560.9,223.5L1576.4,223.5M1565.9,242.5L1581.8,242.6M1568.3,261.6L1584.2,261.6M1569.6,280.6L1585.5,280.6M1586.8,299.7L1570.9,299.7M1575.6,157L1590.6,157.1M1575.3,137.9L1590.2,138M1575.9,176L1591.1,176.1M1576.3,195L1591.7,195.1M1581.4,214.1L1596.9,214.1M1586.9,233.1L1602.6,233.1M1591.5,252.1L1607.4,252.1M1592.8,271.1L1608.8,271.2M1594.1,290.2L1610.1,290.2M1611.4,309.2L1595.4,309.2M1597.9,147.6L1612.9,147.7M1597.4,128.6L1612.3,128.7M1598.4,166.6L1613.5,166.7M1598.9,185.6L1614.2,185.7M1601.7,204.6L1617,204.7M1607.5,223.6L1623.1,223.7M1613.4,242.7L1629.3,242.7M1616.1,261.7L1632,261.7M1617.4,280.7L1633.3,280.7M1634.7,299.7L1618.7,299.7M1620.7,157.2L1635.8,157.3M1620,138.2L1634.9,138.3M1621.5,176.2L1636.6,176.3M1622.3,195.2L1637.6,195.3M1627.7,214.2L1643.1,214.3M1634,233.2L1649.7,233.3M1639.2,252.2L1655.1,252.2M1640.6,271.2L1656.5,271.2M1642,290.2L1657.9,290.2M1659.3,309.2L1643.3,309.2M1642.9,147.9L1657.8,148M1641.9,128.9L1656.8,129M1643.8,166.9L1658.9,167M1644.7,185.8L1660,185.9M1647.6,204.8L1662.9,204.9M1654.2,223.8L1669.7,223.9M1660.9,242.8L1676.8,242.8M1663.8,261.8L1679.7,261.8M1665.2,280.7L1681.1,280.8M1682.5,299.7L1666.6,299.7M1665.9,157.5L1680.9,157.6M1664.8,138.6L1679.7,138.7M1667,176.5L1682.2,176.6M1668.3,195.4L1683.6,195.5M1673.9,214.4L1689.3,214.5M1681.1,233.4L1696.8,233.4M1686.9,252.3L1702.8,252.4M1688.4,271.3L1704.3,271.3M1689.8,290.2L1705.7,290.3M1707.2,309.2L1691.2,309.2M1687.8,148.2L1702.8,148.3M1686.4,129.2L1701.3,129.3M1689.1,167.1L1704.3,167.2M1690.5,186.1L1705.7,186.1M1693.6,205L1708.9,205.1M1700.8,224L1716.4,224M1708.4,242.9L1724.3,242.9M1711.5,261.8L1727.4,261.9M1713,280.8L1728.9,280.8M1730.4,299.7L1714.4,299.7M1711,157.8L1726.1,157.9M1709.5,138.9L1724.4,139M1712.6,176.7L1727.8,176.8M1714.3,195.6L1729.6,195.7M1720.1,214.6L1735.6,214.6M1728.2,233.5L1743.9,233.5M1734.6,252.4L1750.5,252.5M1736.1,271.3L1752,271.4M1737.6,290.3L1753.6,290.3M1755.1,309.2L1739.1,309.2M1732.7,148.5L1747.7,148.6M1731,129.6L1745.8,129.7M1734.5,167.4L1749.6,167.5M1736.3,186.3L1751.5,186.4M1739.5,205.2L1754.8,205.3M1747.5,224.1L1763,224.2M1755.9,243L1771.8,243.1M1759.2,261.9L1775.2,262M1760.8,280.8L1776.7,280.9M1778.2,299.8L1762.3,299.7M1756.2,158.1L1771.2,158.2M1754.2,139.2L1769.1,139.3M1758.2,177L1773.4,177M1760.2,195.8L1775.6,195.9M1766.4,214.7L1781.8,214.8M1775.2,233.6L1790.9,233.7M1782.3,252.5L1798.2,252.6M1783.9,271.4L1799.8,271.4M1785.4,290.3L1801.4,290.3M1803,309.2L1787,309.2M1777.7,148.8L1792.6,148.9M1775.5,129.9L1790.3,130M1779.9,167.6L1795,167.7M1782,186.5L1797.3,186.6M1785.4,205.4L1800.7,205.5M1794.1,224.3L1809.7,224.3M1803.4,243.1L1819.3,243.2M1807,262L1822.9,262M1808.6,280.9L1824.5,280.9M1826.1,299.8L1810.1,299.8M1801.3,158.3L1816.4,158.4M1798.9,139.5L1813.8,139.6M1803.7,177.2L1818.9,177.3M1806.2,196.1L1821.5,196.1M1812.6,214.9L1828,215M1822.3,233.8L1838,233.8M1830,252.6L1845.9,252.7M1831.6,271.5L1847.6,271.5M1833.3,290.3L1849.2,290.4M1850.8,309.2L1834.9,309.2M1822.6,149.1L1837.6,149.2M1820,130.2L1834.8,130.3M1825.2,167.9L1840.3,168M1827.8,186.7L1843.1,186.8M1831.3,205.6L1846.6,205.6M1840.8,224.4L1856.3,224.5M1850.9,243.3L1866.8,243.3M1854.7,262.1L1870.6,262.1M1856.4,280.9L1872.3,281M1874,299.8L1858,299.8M1846.5,158.6L1861.5,158.7M1843.6,139.8L1858.6,139.9M1849.3,177.4L1864.5,177.5M1852.2,196.3L1867.5,196.3M1858.9,215.1L1874.3,215.1M1869.4,233.9L1885.1,234M1877.7,252.7L1893.6,252.8M1879.4,271.6L1895.3,271.6M1881.1,290.4L1897,290.4M1898.7,309.2L1882.8,309.2M1867.5,149.4L1882.5,149.4M1864.5,130.5L1879.3,130.7M1870.6,168.2L1885.7,168.2M1873.6,187L1888.9,187M1877.2,205.8L1892.5,205.8M1887.5,224.6L1903,224.6M1898.4,243.4L1914.2,243.4M1902.4,262.2L1918.3,262.2M1904.1,281L1920.1,281M1921.8,299.8L1905.9,299.8M1891.6,158.9L1906.7,159M1888.4,140.1L1903.3,140.2M1894.9,177.7L1910.1,177.8M1898.2,196.5L1913.5,196.5M1905.1,215.3L1920.5,215.3M1916.5,234L1932.2,234.1M1925.4,252.8L1941.3,252.9M1927.2,271.6L1943.1,271.6M1928.9,290.4L1944.9,290.4M1946.6,309.2L1930.7,309.2M1912.5,149.6L1927.4,149.7M1909,130.9L1923.8,131M1915.9,168.4L1931,168.5M1919.4,187.2L1934.7,187.3M1923.2,206L1938.5,206M1934.1,224.7L1949.7,224.8M1945.9,243.5L1961.7,243.5M1950.2,262.3L1966.1,262.3M1951.9,281L1967.9,281.1M1969.7,299.8L1953.7,299.8M1936.8,159.2L1951.8,159.3M1933.1,140.4L1948,140.5M1940.4,177.9L1955.6,178M1944.1,196.7L1959.5,196.7M1951.3,215.4L1966.7,215.5M1963.5,234.2L1979.2,234.2M1973.1,252.9L1989,253M1974.9,271.7L1990.9,271.7M1976.7,290.4L1992.7,290.5M1994.5,309.2L1978.6,309.2M1568,147.4L1575.3,137.9M1553,147.3L1545.5,137.7M1545.5,137.7L1552.9,128.3M1567.8,128.4L1575.3,137.9M1568.2,166.4L1575.6,157M1553.1,166.3L1545.5,156.8M1545.5,156.8L1553,147.3M1575.6,157L1568,147.4M1568.4,185.5L1575.9,176M1553.1,185.4L1545.5,175.8M1545.5,175.8L1553.1,166.3M1575.9,176L1568.2,166.4M1571.1,204.5L1576.3,195M1555.8,204.4L1545.7,194.9M1545.7,194.9L1553.1,185.4M1576.3,195L1568.4,185.5M1576.4,223.5L1581.4,214.1M1560.9,223.5L1550.6,213.9M1550.6,213.9L1555.8,204.4M1581.4,214.1L1571.1,204.5M1581.8,242.6L1586.9,233.1M1565.9,242.5L1555.6,233M1555.6,233L1560.9,223.5M1586.9,233.1L1576.4,223.5M1584.2,261.6L1591.5,252.1M1568.3,261.6L1559.8,252M1559.8,252L1565.9,242.5M1591.5,252.1L1581.8,242.6M1585.5,280.6L1592.8,271.1M1569.6,280.6L1561,271.1M1561,271.1L1568.3,261.6M1592.8,271.1L1584.2,261.6M1586.8,299.7L1594.1,290.2M1570.9,299.7L1562.3,290.1M1562.3,290.1L1569.6,280.6M1594.1,290.2L1585.5,280.6M1590.6,157.1L1597.9,147.6M1597.9,147.6L1590.2,138M1591.1,176.1L1598.4,166.6M1598.4,166.6L1590.6,157.1M1591.7,195.1L1598.9,185.6M1598.9,185.6L1591.1,176.1M1596.9,214.1L1601.7,204.6M1601.7,204.6L1591.7,195.1M1602.6,233.1L1607.5,223.6M1607.5,223.6L1596.9,214.1M1607.4,252.1L1613.4,242.7M1613.4,242.7L1602.6,233.1M1608.8,271.2L1616.1,261.7M1616.1,261.7L1607.4,252.1M1610.1,290.2L1617.4,280.7M1617.4,280.7L1608.8,271.2M1618.7,299.7L1611.4,309.2M1595.4,309.2L1586.8,299.7M1618.7,299.7L1610.1,290.2M1612.9,147.7L1620,138.2M1590.2,138L1597.4,128.6M1612.3,128.7L1620,138.2M1613.5,166.7L1620.7,157.2M1620.7,157.2L1612.9,147.7M1614.2,185.7L1621.5,176.2M1621.5,176.2L1613.5,166.7M1617,204.7L1622.3,195.2M1622.3,195.2L1614.2,185.7M1623.1,223.7L1627.7,214.2M1627.7,214.2L1617,204.7M1629.3,242.7L1634,233.2M1634,233.2L1623.1,223.7M1632,261.7L1639.2,252.2M1639.2,252.2L1629.3,242.7M1633.3,280.7L1640.6,271.2M1640.6,271.2L1632,261.7M1634.7,299.7L1642,290.2M1642,290.2L1633.3,280.7M1635.8,157.3L1642.9,147.9M1642.9,147.9L1634.9,138.3M1636.6,176.3L1643.8,166.9M1643.8,166.9L1635.8,157.3M1637.6,195.3L1644.7,185.8M1644.7,185.8L1636.6,176.3M1643.1,214.3L1647.6,204.8M1647.6,204.8L1637.6,195.3M1649.7,233.3L1654.2,223.8M1654.2,223.8L1643.1,214.3M1655.1,252.2L1660.9,242.8M1660.9,242.8L1649.7,233.3M1656.5,271.2L1663.8,261.8M1663.8,261.8L1655.1,252.2M1657.9,290.2L1665.2,280.7M1665.2,280.7L1656.5,271.2M1666.6,299.7L1659.3,309.2M1643.3,309.2L1634.7,299.7M1666.6,299.7L1657.9,290.2M1657.8,148L1664.8,138.6M1634.9,138.3L1641.9,128.9M1656.8,129L1664.8,138.6M1658.9,167L1665.9,157.5M1665.9,157.5L1657.8,148M1660,185.9L1667,176.5M1667,176.5L1658.9,167M1662.9,204.9L1668.3,195.4M1668.3,195.4L1660,185.9M1669.7,223.9L1673.9,214.4M1673.9,214.4L1662.9,204.9M1676.8,242.8L1681.1,233.4M1681.1,233.4L1669.7,223.9M1679.7,261.8L1686.9,252.3M1686.9,252.3L1676.8,242.8M1681.1,280.8L1688.4,271.3M1688.4,271.3L1679.7,261.8M1682.5,299.7L1689.8,290.2M1689.8,290.2L1681.1,280.8M1680.9,157.6L1687.8,148.2M1687.8,148.2L1679.7,138.7M1682.2,176.6L1689.1,167.1M1689.1,167.1L1680.9,157.6M1683.6,195.5L1690.5,186.1M1690.5,186.1L1682.2,176.6M1689.3,214.5L1693.6,205M1693.6,205L1683.6,195.5M1696.8,233.4L1700.8,224M1700.8,224L1689.3,214.5M1702.8,252.4L1708.4,242.9M1708.4,242.9L1696.8,233.4M1704.3,271.3L1711.5,261.8M1711.5,261.8L1702.8,252.4M1705.7,290.3L1713,280.8M1713,280.8L1704.3,271.3M1714.4,299.7L1707.2,309.2M1691.2,309.2L1682.5,299.7M1714.4,299.7L1705.7,290.3M1702.8,148.3L1709.5,138.9M1679.7,138.7L1686.4,129.2M1701.3,129.3L1709.5,138.9M1704.3,167.2L1711,157.8M1711,157.8L1702.8,148.3M1705.7,186.1L1712.6,176.7M1712.6,176.7L1704.3,167.2M1708.9,205.1L1714.3,195.6M1714.3,195.6L1705.7,186.1M1716.4,224L1720.1,214.6M1720.1,214.6L1708.9,205.1M1724.3,242.9L1728.2,233.5M1728.2,233.5L1716.4,224M1727.4,261.9L1734.6,252.4M1734.6,252.4L1724.3,242.9M1728.9,280.8L1736.1,271.3M1736.1,271.3L1727.4,261.9M1730.4,299.7L1737.6,290.3M1737.6,290.3L1728.9,280.8M1726.1,157.9L1732.7,148.5M1732.7,148.5L1724.4,139M1727.8,176.8L1734.5,167.4M1734.5,167.4L1726.1,157.9M1729.6,195.7L1736.3,186.3M1736.3,186.3L1727.8,176.8M1735.6,214.6L1739.5,205.2M1739.5,205.2L1729.6,195.7M1743.9,233.5L1747.5,224.1M1747.5,224.1L1735.6,214.6M1750.5,252.5L1755.9,243M1755.9,243L1743.9,233.5M1752,271.4L1759.2,261.9M1759.2,261.9L1750.5,252.5M1753.6,290.3L1760.8,280.8M1760.8,280.8L1752,271.4M1762.3,299.7L1755.1,309.2M1739.1,309.2L1730.4,299.7M1762.3,299.7L1753.6,290.3M1747.7,148.6L1754.2,139.2M1724.4,139L1731,129.6M1745.8,129.7L1754.2,139.2M1749.6,167.5L1756.2,158.1M1756.2,158.1L1747.7,148.6M1751.5,186.4L1758.2,177M1758.2,177L1749.6,167.5M1754.8,205.3L1760.2,195.8M1760.2,195.8L1751.5,186.4M1763,224.2L1766.4,214.7M1766.4,214.7L1754.8,205.3M1771.8,243.1L1775.2,233.6M1775.2,233.6L1763,224.2M1775.2,262L1782.3,252.5M1782.3,252.5L1771.8,243.1M1776.7,280.9L1783.9,271.4M1783.9,271.4L1775.2,262M1778.2,299.8L1785.4,290.3M1785.4,290.3L1776.7,280.9M1771.2,158.2L1777.7,148.8M1777.7,148.8L1769.1,139.3M1773.4,177L1779.9,167.6M1779.9,167.6L1771.2,158.2M1775.6,195.9L1782,186.5M1782,186.5L1773.4,177M1781.8,214.8L1785.4,205.4M1785.4,205.4L1775.6,195.9M1790.9,233.7L1794.1,224.3M1794.1,224.3L1781.8,214.8M1798.2,252.6L1803.4,243.1M1803.4,243.1L1790.9,233.7M1799.8,271.4L1807,262M1807,262L1798.2,252.6M1801.4,290.3L1808.6,280.9M1808.6,280.9L1799.8,271.4M1810.1,299.8L1803,309.2M1787,309.2L1778.2,299.8M1810.1,299.8L1801.4,290.3M1792.6,148.9L1798.9,139.5M1769.1,139.3L1775.5,129.9M1790.3,130L1798.9,139.5M1795,167.7L1801.3,158.3M1801.3,158.3L1792.6,148.9M1797.3,186.6L1803.7,177.2M1803.7,177.2L1795,167.7M1800.7,205.5L1806.2,196.1M1806.2,196.1L1797.3,186.6M1809.7,224.3L1812.6,214.9M1812.6,214.9L1800.7,205.5M1819.3,243.2L1822.3,233.8M1822.3,233.8L1809.7,224.3M1822.9,262L1830,252.6M1830,252.6L1819.3,243.2M1824.5,280.9L1831.6,271.5M1831.6,271.5L1822.9,262M1826.1,299.8L1833.3,290.3M1833.3,290.3L1824.5,280.9M1816.4,158.4L1822.6,149.1M1822.6,149.1L1813.8,139.6M1818.9,177.3L1825.2,167.9M1825.2,167.9L1816.4,158.4M1821.5,196.1L1827.8,186.7M1827.8,186.7L1818.9,177.3M1828,215L1831.3,205.6M1831.3,205.6L1821.5,196.1M1838,233.8L1840.8,224.4M1840.8,224.4L1828,215M1845.9,252.7L1850.9,243.3M1850.9,243.3L1838,233.8M1847.6,271.5L1854.7,262.1M1854.7,262.1L1845.9,252.7M1849.2,290.4L1856.4,280.9M1856.4,280.9L1847.6,271.5M1858,299.8L1850.8,309.2M1834.9,309.2L1826.1,299.8M1858,299.8L1849.2,290.4M1837.6,149.2L1843.6,139.8M1813.8,139.6L1820,130.2M1834.8,130.3L1843.6,139.8M1840.3,168L1846.5,158.6M1846.5,158.6L1837.6,149.2M1843.1,186.8L1849.3,177.4M1849.3,177.4L1840.3,168M1846.6,205.6L1852.2,196.3M1852.2,196.3L1843.1,186.8M1856.3,224.5L1858.9,215.1M1858.9,215.1L1846.6,205.6M1866.8,243.3L1869.4,233.9M1869.4,233.9L1856.3,224.5M1870.6,262.1L1877.7,252.7M1877.7,252.7L1866.8,243.3M1872.3,281L1879.4,271.6M1879.4,271.6L1870.6,262.1M1874,299.8L1881.1,290.4M1881.1,290.4L1872.3,281M1861.5,158.7L1867.5,149.4M1867.5,149.4L1858.6,139.9M1864.5,177.5L1870.6,168.2M1870.6,168.2L1861.5,158.7M1867.5,196.3L1873.6,187M1873.6,187L1864.5,177.5M1874.3,215.1L1877.2,205.8M1877.2,205.8L1867.5,196.3M1885.1,234L1887.5,224.6M1887.5,224.6L1874.3,215.1M1893.6,252.8L1898.4,243.4M1898.4,243.4L1885.1,234M1895.3,271.6L1902.4,262.2M1902.4,262.2L1893.6,252.8M1897,290.4L1904.1,281M1904.1,281L1895.3,271.6M1905.9,299.8L1898.7,309.2M1882.8,309.2L1874,299.8M1905.9,299.8L1897,290.4M1882.5,149.4L1888.4,140.1M1858.6,139.9L1864.5,130.5M1879.3,130.7L1888.4,140.1M1885.7,168.2L1891.6,158.9M1891.6,158.9L1882.5,149.4M1888.9,187L1894.9,177.7M1894.9,177.7L1885.7,168.2M1892.5,205.8L1898.2,196.5M1898.2,196.5L1888.9,187M1903,224.6L1905.1,215.3M1905.1,215.3L1892.5,205.8M1914.2,243.4L1916.5,234M1916.5,234L1903,224.6M1918.3,262.2L1925.4,252.8M1925.4,252.8L1914.2,243.4M1920.1,281L1927.2,271.6M1927.2,271.6L1918.3,262.2M1921.8,299.8L1928.9,290.4M1928.9,290.4L1920.1,281M1906.7,159L1912.5,149.6M1912.5,149.6L1903.3,140.2M1910.1,177.8L1915.9,168.4M1915.9,168.4L1906.7,159M1913.5,196.5L1919.4,187.2M1919.4,187.2L1910.1,177.8M1920.5,215.3L1923.2,206M1923.2,206L1913.5,196.5M1932.2,234.1L1934.1,224.7M1934.1,224.7L1920.5,215.3M1941.3,252.9L1945.9,243.5M1945.9,243.5L1932.2,234.1M1943.1,271.6L1950.2,262.3M1950.2,262.3L1941.3,252.9M1944.9,290.4L1951.9,281M1951.9,281L1943.1,271.6M1953.7,299.8L1946.6,309.2M1930.7,309.2L1921.8,299.8M1953.7,299.8L1944.9,290.4M1927.4,149.7L1933.1,140.4M1903.3,140.2L1909,130.9M1923.8,131L1933.1,140.4M1931,168.5L1936.8,159.2M1936.8,159.2L1927.4,149.7M1934.7,187.3L1940.4,177.9M1940.4,177.9L1931,168.5M1938.5,206L1944.1,196.7M1944.1,196.7L1934.7,187.3M1949.7,224.8L1951.3,215.4M1951.3,215.4L1938.5,206M1961.7,243.5L1963.5,234.2M1963.5,234.2L1949.7,224.8M1966.1,262.3L1973.1,252.9M1973.1,252.9L1961.7,243.5M1967.9,281.1L1974.9,271.7M1974.9,271.7L1966.1,262.3M1969.7,299.8L1976.7,290.4M1976.7,290.4L1967.9,281.1M1957.4,149.9L1951.8,159.3M1948,140.5L1957.4,149.9M1961.3,168.7L1955.6,178M1951.8,159.3L1961.3,168.7M1965.2,187.4L1959.5,196.7M1955.6,178L1965.2,187.4M1969.1,206.1L1966.7,215.5M1959.5,196.7L1969.1,206.1M1980.8,224.9L1979.2,234.2M1966.7,215.5L1980.8,224.9M1993.4,243.6L1989,253M1979.2,234.2L1993.4,243.6M1997.9,262.4L1990.9,271.7M1989,253L1997.9,262.4M1999.7,281.1L1992.7,290.5M1990.9,271.7L1999.7,281.1M2001.6,299.8L1994.5,309.2M1978.6,309.2L1969.7,299.8M1992.7,290.5L2001.6,299.8" stroke="#cfa832" stroke-width="5.0"/>
<path d="M1553,147.3L1568,147.4M1552.9,128.3L1567.8,128.4M1553.1,166.3L1568.2,166.4M1553.1,185.4L1568.4,185.5M1555.8,204.4L1571.1,204.5M1560.9,223.5L1576.4,223.5M1565.9,242.5L1581.8,242.6M1568.3,261.6L1584.2,261.6M1569.6,280.6L1585.5,280.6M1586.8,299.7L1570.9,299.7M1575.6,157L1590.6,157.1M1575.3,137.9L1590.2,138M1575.9,176L1591.1,176.1M1576.3,195L1591.7,195.1M1581.4,214.1L1596.9,214.1M1586.9,233.1L1602.6,233.1M1591.5,252.1L1607.4,252.1M1592.8,271.1L1608.8,271.2M1594.1,290.2L1610.1,290.2M1611.4,309.2L1595.4,309.2M1597.9,147.6L1612.9,147.7M1597.4,128.6L1612.3,128.7M1598.4,166.6L1613.5,166.7M1598.9,185.6L1614.2,185.7M1601.7,204.6L1617,204.7M1607.5,223.6L1623.1,223.7M1613.4,242.7L1629.3,242.7M1616.1,261.7L1632,261.7M1617.4,280.7L1633.3,280.7M1634.7,299.7L1618.7,299.7M1620.7,157.2L1635.8,157.3M1620,138.2L1634.9,138.3M1621.5,176.2L1636.6,176.3M1622.3,195.2L1637.6,195.3M1627.7,214.2L1643.1,214.3M1634,233.2L1649.7,233.3M1639.2,252.2L1655.1,252.2M1640.6,271.2L1656.5,271.2M1642,290.2L1657.9,290.2M1659.3,309.2L1643.3,309.2M1642.9,147.9L1657.8,148M1641.9,128.9L1656.8,129M1643.8,166.9L1658.9,167M1644.7,185.8L1660,185.9M1647.6,204.8L1662.9,204.9M1654.2,223.8L1669.7,223.9M1660.9,242.8L1676.8,242.8M1663.8,261.8L1679.7,261.8M1665.2,280.7L1681.1,280.8M1682.5,299.7L1666.6,299.7M1665.9,157.5L1680.9,157.6M1664.8,138.6L1679.7,138.7M1667,176.5L1682.2,176.6M1668.3,195.4L1683.6,195.5M1673.9,214.4L1689.3,214.5M1681.1,233.4L1696.8,233.4M1686.9,252.3L1702.8,252.4M1688.4,271.3L1704.3,271.3M1689.8,290.2L1705.7,290.3M1707.2,309.2L1691.2,309.2M1687.8,148.2L1702.8,148.3M1686.4,129.2L1701.3,129.3M1689.1,167.1L1704.3,167.2M1690.5,186.1L1705.7,186.1M1693.6,205L1708.9,205.1M1700.8,224L1716.4,224M1708.4,242.9L1724.3,242.9M1711.5,261.8L1727.4,261.9M1713,280.8L1728.9,280.8M1730.4,299.7L1714.4,299.7M1711,157.8L1726.1,157.9M1709.5,138.9L1724.4,139M1712.6,176.7L1727.8,176.8M1714.3,195.6L1729.6,195.7M1720.1,214.6L1735.6,214.6M1728.2,233.5L1743.9,233.5M1734.6,252.4L1750.5,252.5M1736.1,271.3L1752,271.4M1737.6,290.3L1753.6,290.3M1755.1,309.2L1739.1,309.2M1732.7,148.5L1747.7,148.6M1731,129.6L1745.8,129.7M1734.5,167.4L1749.6,167.5M1736.3,186.3L1751.5,186.4M1739.5,205.2L1754.8,205.3M1747.5,224.1L1763,224.2M1755.9,243L1771.8,243.1M1759.2,261.9L1775.2,262M1760.8,280.8L1776.7,280.9M1778.2,299.8L1762.3,299.7M1756.2,158.1L1771.2,158.2M1754.2,139.2L1769.1,139.3M1758.2,177L1773.4,177M1760.2,195.8L1775.6,195.9M1766.4,214.7L1781.8,214.8M1775.2,233.6L1790.9,233.7M1782.3,252.5L1798.2,252.6M1783.9,271.4L1799.8,271.4M1785.4,290.3L1801.4,290.3M1803,309.2L1787,309.2M1777.7,148.8L1792.6,148.9M1775.5,129.9L1790.3,130M1779.9,167.6L1795,167.7M1782,186.5L1797.3,186.6M1785.4,205.4L1800.7,205.5M1794.1,224.3L1809.7,224.3M1803.4,243.1L1819.3,243.2M1807,262L1822.9,262M1808.6,280.9L1824.5,280.9M1826.1,299.8L1810.1,299.8M1801.3,158.3L1816.4,158.4M1798.9,139.5L1813.8,139.6M1803.7,177.2L1818.9,177.3M1806.2,196.1L1821.5,196.1M1812.6,214.9L1828,215M1822.3,233.8L1838,233.8M1830,252.6L1845.9,252.7M1831.6,271.5L1847.6,271.5M1833.3,290.3L1849.2,290.4M1850.8,309.2L1834.9,309.2M1822.6,149.1L1837.6,149.2M1820,130.2L1834.8,130.3M1825.2,167.9L1840.3,168M1827.8,186.7L1843.1,186.8M1831.3,205.6L1846.6,205.6M1840.8,224.4L1856.3,224.5M1850.9,243.3L1866.8,243.3M1854.7,262.1L1870.6,262.1M1856.4,280.9L1872.3,281M1874,299.8L1858,299.8M1846.5,158.6L1861.5,158.7M1843.6,139.8L1858.6,139.9M1849.3,177.4L1864.5,177.5M1852.2,196.3L1867.5,196.3M1858.9,215.1L1874.3,215.1M1869.4,233.9L1885.1,234M1877.7,252.7L1893.6,252.8M1879.4,271.6L1895.3,271.6M1881.1,290.4L1897,290.4M1898.7,309.2L1882.8,309.2M1867.5,149.4L1882.5,149.4M1864.5,130.5L1879.3,130.7M1870.6,168.2L1885.7,168.2M1873.6,187L1888.9,187M1877.2,205.8L1892.5,205.8M1887.5,224.6L1903,224.6M1898.4,243.4L1914.2,243.4M1902.4,262.2L1918.3,262.2M1904.1,281L1920.1,281M1921.8,299.8L1905.9,299.8M1891.6,158.9L1906.7,159M1888.4,140.1L1903.3,140.2M1894.9,177.7L1910.1,177.8M1898.2,196.5L1913.5,196.5M1905.1,215.3L1920.5,215.3M1916.5,234L1932.2,234.1M1925.4,252.8L1941.3,252.9M1927.2,271.6L1943.1,271.6M1928.9,290.4L1944.9,290.4M1946.6,309.2L1930.7,309.2M1912.5,149.6L1927.4,149.7M1909,130.9L1923.8,131M1915.9,168.4L1931,168.5M1919.4,187.2L1934.7,187.3M1923.2,206L1938.5,206M1934.1,224.7L1949.7,224.8M1945.9,243.5L1961.7,243.5M1950.2,262.3L1966.1,262.3M1951.9,281L1967.9,281.1M1969.7,299.8L1953.7,299.8M1936.8,159.2L1951.8,159.3M1933.1,140.4L1948,140.5M1940.4,177.9L1955.6,178M1944.1,196.7L1959.5,196.7M1951.3,215.4L1966.7,215.5M1963.5,234.2L1979.2,234.2M1973.1,252.9L1989,253M1974.9,271.7L1990.9,271.7M1976.7,290.4L1992.7,290.5M1994.5,309.2L1978.6,309.2M1568,147.4L1575.3,137.9M1553,147.3L1545.5,137.7M1545.5,137.7L1552.9,128.3M1567.8,128.4L1575.3,137.9M1568.2,166.4L1575.6,157M1553.1,166.3L1545.5,156.8M1545.5,156.8L1553,147.3M1575.6,157L1568,147.4M1568.4,185.5L1575.9,176M1553.1,185.4L1545.5,175.8M1545.5,175.8L1553.1,166.3M1575.9,176L1568.2,166.4M1571.1,204.5L1576.3,195M1555.8,204.4L1545.7,194.9M1545.7,194.9L1553.1,185.4M1576.3,195L1568.4,185.5M1576.4,223.5L1581.4,214.1M1560.9,223.5L1550.6,213.9M1550.6,213.9L1555.8,204.4M1581.4,214.1L1571.1,204.5M1581.8,242.6L1586.9,233.1M1565.9,242.5L1555.6,233M1555.6,233L1560.9,223.5M1586.9,233.1L1576.4,223.5M1584.2,261.6L1591.5,252.1M1568.3,261.6L1559.8,252M1559.8,252L1565.9,242.5M1591.5,252.1L1581.8,242.6M1585.5,280.6L1592.8,271.1M1569.6,280.6L1561,271.1M1561,271.1L1568.3,261.6M1592.8,271.1L1584.2,261.6M1586.8,299.7L1594.1,290.2M1570.9,299.7L1562.3,290.1M1562.3,290.1L1569.6,280.6M1594.1,290.2L1585.5,280.6M1590.6,157.1L1597.9,147.6M1597.9,147.6L1590.2,138M1591.1,176.1L1598.4,166.6M1598.4,166.6L1590.6,157.1M1591.7,195.1L1598.9,185.6M1598.9,185.6L1591.1,176.1M1596.9,214.1L1601.7,204.6M1601.7,204.6L1591.7,195.1M1602.6,233.1L1607.5,223.6M1607.5,223.6L1596.9,214.1M1607.4,252.1L1613.4,242.7M1613.4,242.7L1602.6,233.1M1608.8,271.2L1616.1,261.7M1616.1,261.7L1607.4,252.1M1610.1,290.2L1617.4,280.7M1617.4,280.7L1608.8,271.2M1618.7,299.7L1611.4,309.2M1595.4,309.2L1586.8,299.7M1618.7,299.7L1610.1,290.2M1612.9,147.7L1620,138.2M1590.2,138L1597.4,128.6M1612.3,128.7L1620,138.2M1613.5,166.7L1620.7,157.2M1620.7,157.2L1612.9,147.7M1614.2,185.7L1621.5,176.2M1621.5,176.2L1613.5,166.7M1617,204.7L1622.3,195.2M1622.3,195.2L1614.2,185.7M1623.1,223.7L1627.7,214.2M1627.7,214.2L1617,204.7M1629.3,242.7L1634,233.2M1634,233.2L1623.1,223.7M1632,261.7L1639.2,252.2M1639.2,252.2L1629.3,242.7M1633.3,280.7L1640.6,271.2M1640.6,271.2L1632,261.7M1634.7,299.7L1642,290.2M1642,290.2L1633.3,280.7M1635.8,157.3L1642.9,147.9M1642.9,147.9L1634.9,138.3M1636.6,176.3L1643.8,166.9M1643.8,166.9L1635.8,157.3M1637.6,195.3L1644.7,185.8M1644.7,185.8L1636.6,176.3M1643.1,214.3L1647.6,204.8M1647.6,204.8L1637.6,195.3M1649.7,233.3L1654.2,223.8M1654.2,223.8L1643.1,214.3M1655.1,252.2L1660.9,242.8M1660.9,242.8L1649.7,233.3M1656.5,271.2L1663.8,261.8M1663.8,261.8L1655.1,252.2M1657.9,290.2L1665.2,280.7M1665.2,280.7L1656.5,271.2M1666.6,299.7L1659.3,309.2M1643.3,309.2L1634.7,299.7M1666.6,299.7L1657.9,290.2M1657.8,148L1664.8,138.6M1634.9,138.3L1641.9,128.9M1656.8,129L1664.8,138.6M1658.9,167L1665.9,157.5M1665.9,157.5L1657.8,148M1660,185.9L1667,176.5M1667,176.5L1658.9,167M1662.9,204.9L1668.3,195.4M1668.3,195.4L1660,185.9M1669.7,223.9L1673.9,214.4M1673.9,214.4L1662.9,204.9M1676.8,242.8L1681.1,233.4M1681.1,233.4L1669.7,223.9M1679.7,261.8L1686.9,252.3M1686.9,252.3L1676.8,242.8M1681.1,280.8L1688.4,271.3M1688.4,271.3L1679.7,261.8M1682.5,299.7L1689.8,290.2M1689.8,290.2L1681.1,280.8M1680.9,157.6L1687.8,148.2M1687.8,148.2L1679.7,138.7M1682.2,176.6L1689.1,167.1M1689.1,167.1L1680.9,157.6M1683.6,195.5L1690.5,186.1M1690.5,186.1L1682.2,176.6M1689.3,214.5L1693.6,205M1693.6,205L1683.6,195.5M1696.8,233.4L1700.8,224M1700.8,224L1689.3,214.5M1702.8,252.4L1708.4,242.9M1708.4,242.9L1696.8,233.4M1704.3,271.3L1711.5,261.8M1711.5,261.8L1702.8,252.4M1705.7,290.3L1713,280.8M1713,280.8L1704.3,271.3M1714.4,299.7L1707.2,309.2M1691.2,309.2L1682.5,299.7M1714.4,299.7L1705.7,290.3M1702.8,148.3L1709.5,138.9M1679.7,138.7L1686.4,129.2M1701.3,129.3L1709.5,138.9M1704.3,167.2L1711,157.8M1711,157.8L1702.8,148.3M1705.7,186.1L1712.6,176.7M1712.6,176.7L1704.3,167.2M1708.9,205.1L1714.3,195.6M1714.3,195.6L1705.7,186.1M1716.4,224L1720.1,214.6M1720.1,214.6L1708.9,205.1M1724.3,242.9L1728.2,233.5M1728.2,233.5L1716.4,224M1727.4,261.9L1734.6,252.4M1734.6,252.4L1724.3,242.9M1728.9,280.8L1736.1,271.3M1736.1,271.3L1727.4,261.9M1730.4,299.7L1737.6,290.3M1737.6,290.3L1728.9,280.8M1726.1,157.9L1732.7,148.5M1732.7,148.5L1724.4,139M1727.8,176.8L1734.5,167.4M1734.5,167.4L1726.1,157.9M1729.6,195.7L1736.3,186.3M1736.3,186.3L1727.8,176.8M1735.6,214.6L1739.5,205.2M1739.5,205.2L1729.6,195.7M1743.9,233.5L1747.5,224.1M1747.5,224.1L1735.6,214.6M1750.5,252.5L1755.9,243M1755.9,243L1743.9,233.5M1752,271.4L1759.2,261.9M1759.2,261.9L1750.5,252.5M1753.6,290.3L1760.8,280.8M1760.8,280.8L1752,271.4M1762.3,299.7L1755.1,309.2M1739.1,309.2L1730.4,299.7M1762.3,299.7L1753.6,290.3M1747.7,148.6L1754.2,139.2M1724.4,139L1731,129.6M1745.8,129.7L1754.2,139.2M1749.6,167.5L1756.2,158.1M1756.2,158.1L1747.7,148.6M1751.5,186.4L1758.2,177M1758.2,177L1749.6,167.5M1754.8,205.3L1760.2,195.8M1760.2,195.8L1751.5,186.4M1763,224.2L1766.4,214.7M1766.4,214.7L1754.8,205.3M1771.8,243.1L1775.2,233.6M1775.2,233.6L1763,224.2M1775.2,262L1782.3,252.5M1782.3,252.5L1771.8,243.1M1776.7,280.9L1783.9,271.4M1783.9,271.4L1775.2,262M1778.2,299.8L1785.4,290.3M1785.4,290.3L1776.7,280.9M1771.2,158.2L1777.7,148.8M1777.7,148.8L1769.1,139.3M1773.4,177L1779.9,167.6M1779.9,167.6L1771.2,158.2M1775.6,195.9L1782,186.5M1782,186.5L1773.4,177M1781.8,214.8L1785.4,205.4M1785.4,205.4L1775.6,195.9M1790.9,233.7L1794.1,224.3M1794.1,224.3L1781.8,214.8M1798.2,252.6L1803.4,243.1M1803.4,243.1L1790.9,233.7M1799.8,271.4L1807,262M1807,262L1798.2,252.6M1801.4,290.3L1808.6,280.9M1808.6,280.9L1799.8,271.4M1810.1,299.8L1803,309.2M1787,309.2L1778.2,299.8M1810.1,299.8L1801.4,290.3M1792.6,148.9L1798.9,139.5M1769.1,139.3L1775.5,129.9M1790.3,130L1798.9,139.5M1795,167.7L1801.3,158.3M1801.3,158.3L1792.6,148.9M1797.3,186.6L1803.7,177.2M1803.7,177.2L1795,167.7M1800.7,205.5L1806.2,196.1M1806.2,196.1L1797.3,186.6M1809.7,224.3L1812.6,214.9M1812.6,214.9L1800.7,205.5M1819.3,243.2L1822.3,233.8M1822.3,233.8L1809.7,224.3M1822.9,262L1830,252.6M1830,252.6L1819.3,243.2M1824.5,280.9L1831.6,271.5M1831.6,271.5L1822.9,262M1826.1,299.8L1833.3,290.3M1833.3,290.3L1824.5,280.9M1816.4,158.4L1822.6,149.1M1822.6,149.1L1813.8,139.6M1818.9,177.3L1825.2,167.9M1825.2,167.9L1816.4,158.4M1821.5,196.1L1827.8,186.7M1827.8,186.7L1818.9,177.3M1828,215L1831.3,205.6M1831.3,205.6L1821.5,196.1M1838,233.8L1840.8,224.4M1840.8,224.4L1828,215M1845.9,252.7L1850.9,243.3M1850.9,243.3L1838,233.8M1847.6,271.5L1854.7,262.1M1854.7,262.1L1845.9,252.7M1849.2,290.4L1856.4,280.9M1856.4,280.9L1847.6,271.5M1858,299.8L1850.8,309.2M1834.9,309.2L1826.1,299.8M1858,299.8L1849.2,290.4M1837.6,149.2L1843.6,139.8M1813.8,139.6L1820,130.2M1834.8,130.3L1843.6,139.8M1840.3,168L1846.5,158.6M1846.5,158.6L1837.6,149.2M1843.1,186.8L1849.3,177.4M1849.3,177.4L1840.3,168M1846.6,205.6L1852.2,196.3M1852.2,196.3L1843.1,186.8M1856.3,224.5L1858.9,215.1M1858.9,215.1L1846.6,205.6M1866.8,243.3L1869.4,233.9M1869.4,233.9L1856.3,224.5M1870.6,262.1L1877.7,252.7M1877.7,252.7L1866.8,243.3M1872.3,281L1879.4,271.6M1879.4,271.6L1870.6,262.1M1874,299.8L1881.1,290.4M1881.1,290.4L1872.3,281M1861.5,158.7L1867.5,149.4M1867.5,149.4L1858.6,139.9M1864.5,177.5L1870.6,168.2M1870.6,168.2L1861.5,158.7M1867.5,196.3L1873.6,187M1873.6,187L1864.5,177.5M1874.3,215.1L1877.2,205.8M1877.2,205.8L1867.5,196.3M1885.1,234L1887.5,224.6M1887.5,224.6L1874.3,215.1M1893.6,252.8L1898.4,243.4M1898.4,243.4L1885.1,234M1895.3,271.6L1902.4,262.2M1902.4,262.2L1893.6,252.8M1897,290.4L1904.1,281M1904.1,281L1895.3,271.6M1905.9,299.8L1898.7,309.2M1882.8,309.2L1874,299.8M1905.9,299.8L1897,290.4M1882.5,149.4L1888.4,140.1M1858.6,139.9L1864.5,130.5M1879.3,130.7L1888.4,140.1M1885.7,168.2L1891.6,158.9M1891.6,158.9L1882.5,149.4M1888.9,187L1894.9,177.7M1894.9,177.7L1885.7,168.2M1892.5,205.8L1898.2,196.5M1898.2,196.5L1888.9,187M1903,224.6L1905.1,215.3M1905.1,215.3L1892.5,205.8M1914.2,243.4L1916.5,234M1916.5,234L1903,224.6M1918.3,262.2L1925.4,252.8M1925.4,252.8L1914.2,243.4M1920.1,281L1927.2,271.6M1927.2,271.6L1918.3,262.2M1921.8,299.8L1928.9,290.4M1928.9,290.4L1920.1,281M1906.7,159L1912.5,149.6M1912.5,149.6L1903.3,140.2M1910.1,177.8L1915.9,168.4M1915.9,168.4L1906.7,159M1913.5,196.5L1919.4,187.2M1919.4,187.2L1910.1,177.8M1920.5,215.3L1923.2,206M1923.2,206L1913.5,196.5M1932.2,234.1L1934.1,224.7M1934.1,224.7L1920.5,215.3M1941.3,252.9L1945.9,243.5M1945.9,243.5L1932.2,234.1M1943.1,271.6L1950.2,262.3M1950.2,262.3L1941.3,252.9M1944.9,290.4L1951.9,281M1951.9,281L1943.1,271.6M1953.7,299.8L1946.6,309.2M1930.7,309.2L1921.8,299.8M1953.7,299.8L1944.9,290.4M1927.4,149.7L1933.1,140.4M1903.3,140.2L1909,130.9M1923.8,131L1933.1,140.4M1931,168.5L1936.8,159.2M1936.8,159.2L1927.4,149.7M1934.7,187.3L1940.4,177.9M1940.4,177.9L1931,168.5M1938.5,206L1944.1,196.7M1944.1,196.7L1934.7,187.3M1949.7,224.8L1951.3,215.4M1951.3,215.4L1938.5,206M1961.7,243.5L1963.5,234.2M1963.5,234.2L1949.7,224.8M1966.1,262.3L1973.1,252.9M1973.1,252.9L1961.7,243.5M1967.9,281.1L1974.9,271.7M1974.9,271.7L1966.1,262.3M1969.7,299.8L1976.7,290.4M1976.7,290.4L1967.9,281.1M1957.4,149.9L1951.8,159.3M1948,140.5L1957.4,149.9M1961.3,168.7L1955.6,178M1951.8,159.3L1961.3,168.7M1965.2,187.4L1959.5,196.7M1955.6,178L1965.2,187.4M1969.1,206.1L1966.7,215.5M1959.5,196.7L1969.1,206.1M1980.8,224.9L1979.2,234.2M1966.7,215.5L1980.8,224.9M1993.4,243.6L1989,253M1979.2,234.2L1993.4,243.6M1997.9,262.4L1990.9,271.7M1989,253L1997.9,262.4M1999.7,281.1L1992.7,290.5M1990.9,271.7L1999.7,281.1M2001.6,299.8L1994.5,309.2M1978.6,309.2L1969.7,299.8M1992.7,290.5L2001.6,299.8" stroke="#c9a43a" stroke-width="2.6"/>
<path d="M1553,147.3h0M1568,147.4h0M1552.9,128.3h0M1567.8,128.4h0M1553.1,166.3h0M1568.2,166.4h0M1553.1,185.4h0M1568.4,185.5h0M1555.8,204.4h0M1571.1,204.5h0M1560.9,223.5h0M1576.4,223.5h0M1565.9,242.5h0M1581.8,242.6h0M1568.3,261.6h0M1584.2,261.6h0M1569.6,280.6h0M1585.5,280.6h0M1586.8,299.7h0M1570.9,299.7h0M1575.6,157h0M1590.6,157.1h0M1575.3,137.9h0M1590.2,138h0M1575.9,176h0M1591.1,176.1h0M1576.3,195h0M1591.7,195.1h0M1581.4,214.1h0M1596.9,214.1h0M1586.9,233.1h0M1602.6,233.1h0M1591.5,252.1h0M1607.4,252.1h0M1592.8,271.1h0M1608.8,271.2h0M1594.1,290.2h0M1610.1,290.2h0M1611.4,309.2h0M1595.4,309.2h0M1597.9,147.6h0M1612.9,147.7h0M1597.4,128.6h0M1612.3,128.7h0M1598.4,166.6h0M1613.5,166.7h0M1598.9,185.6h0M1614.2,185.7h0M1601.7,204.6h0M1617,204.7h0M1607.5,223.6h0M1623.1,223.7h0M1613.4,242.7h0M1629.3,242.7h0M1616.1,261.7h0M1632,261.7h0M1617.4,280.7h0M1633.3,280.7h0M1634.7,299.7h0M1618.7,299.7h0M1620.7,157.2h0M1635.8,157.3h0M1620,138.2h0M1634.9,138.3h0M1621.5,176.2h0M1636.6,176.3h0M1622.3,195.2h0M1637.6,195.3h0M1627.7,214.2h0M1643.1,214.3h0M1634,233.2h0M1649.7,233.3h0M1639.2,252.2h0M1655.1,252.2h0M1640.6,271.2h0M1656.5,271.2h0M1642,290.2h0M1657.9,290.2h0M1659.3,309.2h0M1643.3,309.2h0M1642.9,147.9h0M1657.8,148h0M1641.9,128.9h0M1656.8,129h0M1643.8,166.9h0M1658.9,167h0M1644.7,185.8h0M1660,185.9h0M1647.6,204.8h0M1662.9,204.9h0M1654.2,223.8h0M1669.7,223.9h0M1660.9,242.8h0M1676.8,242.8h0M1663.8,261.8h0M1679.7,261.8h0M1665.2,280.7h0M1681.1,280.8h0M1682.5,299.7h0M1666.6,299.7h0M1665.9,157.5h0M1680.9,157.6h0M1664.8,138.6h0M1679.7,138.7h0M1667,176.5h0M1682.2,176.6h0M1668.3,195.4h0M1683.6,195.5h0M1673.9,214.4h0M1689.3,214.5h0M1681.1,233.4h0M1696.8,233.4h0M1686.9,252.3h0M1702.8,252.4h0M1688.4,271.3h0M1704.3,271.3h0M1689.8,290.2h0M1705.7,290.3h0M1707.2,309.2h0M1691.2,309.2h0M1687.8,148.2h0M1702.8,148.3h0M1686.4,129.2h0M1701.3,129.3h0M1689.1,167.1h0M1704.3,167.2h0M1690.5,186.1h0M1705.7,186.1h0M1693.6,205h0M1708.9,205.1h0M1700.8,224h0M1716.4,224h0M1708.4,242.9h0M1724.3,242.9h0M1711.5,261.8h0M1727.4,261.9h0M1713,280.8h0M1728.9,280.8h0M1730.4,299.7h0M1714.4,299.7h0M1711,157.8h0M1726.1,157.9h0M1709.5,138.9h0M1724.4,139h0M1712.6,176.7h0M1727.8,176.8h0M1714.3,195.6h0M1729.6,195.7h0M1720.1,214.6h0M1735.6,214.6h0M1728.2,233.5h0M1743.9,233.5h0M1734.6,252.4h0M1750.5,252.5h0M1736.1,271.3h0M1752,271.4h0M1737.6,290.3h0M1753.6,290.3h0M1755.1,309.2h0M1739.1,309.2h0M1732.7,148.5h0M1747.7,148.6h0M1731,129.6h0M1745.8,129.7h0M1734.5,167.4h0M1749.6,167.5h0M1736.3,186.3h0M1751.5,186.4h0M1739.5,205.2h0M1754.8,205.3h0M1747.5,224.1h0M1763,224.2h0M1755.9,243h0M1771.8,243.1h0M1759.2,261.9h0M1775.2,262h0M1760.8,280.8h0M1776.7,280.9h0M1778.2,299.8h0M1762.3,299.7h0M1756.2,158.1h0M1771.2,158.2h0M1754.2,139.2h0M1769.1,139.3h0M1758.2,177h0M1773.4,177h0M1760.2,195.8h0M1775.6,195.9h0M1766.4,214.7h0M1781.8,214.8h0M1775.2,233.6h0M1790.9,233.7h0M1782.3,252.5h0M1798.2,252.6h0M1783.9,271.4h0M1799.8,271.4h0M1785.4,290.3h0M1801.4,290.3h0M1803,309.2h0M1787,309.2h0M1777.7,148.8h0M1792.6,148.9h0M1775.5,129.9h0M1790.3,130h0M1779.9,167.6h0M1795,167.7h0M1782,186.5h0M1797.3,186.6h0M1785.4,205.4h0M1800.7,205.5h0M1794.1,224.3h0M1809.7,224.3h0M1803.4,243.1h0M1819.3,243.2h0M1807,262h0M1822.9,262h0M1808.6,280.9h0M1824.5,280.9h0M1826.1,299.8h0M1810.1,299.8h0M1801.3,158.3h0M1816.4,158.4h0M1798.9,139.5h0M1813.8,139.6h0M1803.7,177.2h0M1818.9,177.3h0M1806.2,196.1h0M1821.5,196.1h0M1812.6,214.9h0M1828,215h0M1822.3,233.8h0M1838,233.8h0M1830,252.6h0M1845.9,252.7h0M1831.6,271.5h0M1847.6,271.5h0M1833.3,290.3h0M1849.2,290.4h0M1850.8,309.2h0M1834.9,309.2h0M1822.6,149.1h0M1837.6,149.2h0M1820,130.2h0M1834.8,130.3h0M1825.2,167.9h0M1840.3,168h0M1827.8,186.7h0M1843.1,186.8h0M1831.3,205.6h0M1846.6,205.6h0M1840.8,224.4h0M1856.3,224.5h0M1850.9,243.3h0M1866.8,243.3h0M1854.7,262.1h0M1870.6,262.1h0M1856.4,280.9h0M1872.3,281h0M1874,299.8h0M1858,299.8h0M1846.5,158.6h0M1861.5,158.7h0M1843.6,139.8h0M1858.6,139.9h0M1849.3,177.4h0M1864.5,177.5h0M1852.2,196.3h0M1867.5,196.3h0M1858.9,215.1h0M1874.3,215.1h0M1869.4,233.9h0M1885.1,234h0M1877.7,252.7h0M1893.6,252.8h0M1879.4,271.6h0M1895.3,271.6h0M1881.1,290.4h0M1897,290.4h0M1898.7,309.2h0M1882.8,309.2h0M1867.5,149.4h0M1882.5,149.4h0M1864.5,130.5h0M1879.3,130.7h0M1870.6,168.2h0M1885.7,168.2h0M1873.6,187h0M1888.9,187h0M1877.2,205.8h0M1892.5,205.8h0M1887.5,224.6h0M1903,224.6h0M1898.4,243.4h0M1914.2,243.4h0M1902.4,262.2h0M1918.3,262.2h0M1904.1,281h0M1920.1,281h0M1921.8,299.8h0M1905.9,299.8h0M1891.6,158.9h0M1906.7,159h0M1888.4,140.1h0M1903.3,140.2h0M1894.9,177.7h0M1910.1,177.8h0M1898.2,196.5h0M1913.5,196.5h0M1905.1,215.3h0M1920.5,215.3h0M1916.5,234h0M1932.2,234.1h0M1925.4,252.8h0M1941.3,252.9h0M1927.2,271.6h0M1943.1,271.6h0M1928.9,290.4h0M1944.9,290.4h0M1946.6,309.2h0M1930.7,309.2h0M1912.5,149.6h0M1927.4,149.7h0M1909,130.9h0M1923.8,131h0M1915.9,168.4h0M1931,168.5h0M1919.4,187.2h0M1934.7,187.3h0M1923.2,206h0M1938.5,206h0M1934.1,224.7h0M1949.7,224.8h0M1945.9,243.5h0M1961.7,243.5h0M1950.2,262.3h0M1966.1,262.3h0M1951.9,281h0M1967.9,281.1h0M1969.7,299.8h0M1953.7,299.8h0M1936.8,159.2h0M1951.8,159.3h0M1933.1,140.4h0M1948,140.5h0M1940.4,177.9h0M1955.6,178h0M1944.1,196.7h0M1959.5,196.7h0M1951.3,215.4h0M1966.7,215.5h0M1963.5,234.2h0M1979.2,234.2h0M1973.1,252.9h0M1989,253h0M1974.9,271.7h0M1990.9,271.7h0M1976.7,290.4h0M1992.7,290.5h0M1994.5,309.2h0M1978.6,309.2h0M1545.5,137.7h0M1545.5,156.8h0M1545.5,175.8h0M1545.7,194.9h0M1550.6,213.9h0M1555.6,233h0M1559.8,252h0M1561,271.1h0M1562.3,290.1h0M1957.4,149.9h0M1961.3,168.7h0M1965.2,187.4h0M1969.1,206.1h0M1980.8,224.9h0M1993.4,243.6h0M1997.9,262.4h0M1999.7,281.1h0M2001.6,299.8h0" stroke="#3a2604" stroke-width="5.2"/>
</g></g>
<g stroke-linecap="round" fill="none" filter="url(#soft)">
<path d="M1542.5,142.1L1557.5,142.2M1542.4,123.1L1557.3,123.2M1542.6,161.1L1557.7,161.2M1542.6,180.2L1557.9,180.3M1545.3,199.2L1560.6,199.3M1550.4,218.3L1565.9,218.3M1555.4,237.3L1571.3,237.4M1557.8,256.4L1573.7,256.4M1559.1,275.4L1575,275.4M1576.3,294.5L1560.4,294.5M1565.1,151.8L1580.1,151.9M1564.8,132.7L1579.7,132.8M1565.4,170.8L1580.6,170.9M1565.8,189.8L1581.2,189.9M1570.9,208.9L1586.4,208.9M1576.4,227.9L1592.1,227.9M1581,246.9L1596.9,246.9M1582.3,265.9L1598.3,266M1583.6,285L1599.6,285M1600.9,304L1584.9,304M1587.4,142.4L1602.4,142.5M1586.9,123.4L1601.8,123.5M1587.9,161.4L1603,161.5M1588.4,180.4L1603.7,180.5M1591.2,199.4L1606.5,199.5M1597,218.4L1612.6,218.5M1602.9,237.5L1618.8,237.5M1605.6,256.5L1621.5,256.5M1606.9,275.5L1622.8,275.5M1624.2,294.5L1608.2,294.5M1610.2,152L1625.3,152.1M1609.5,133L1624.4,133.1M1611,171L1626.1,171.1M1611.8,190L1627.1,190.1M1617.2,209L1632.6,209.1M1623.5,228L1639.2,228.1M1628.7,247L1644.6,247M1630.1,266L1646,266M1631.5,285L1647.4,285M1648.8,304L1632.8,304M1632.4,142.7L1647.3,142.8M1631.4,123.7L1646.3,123.8M1633.3,161.7L1648.4,161.8M1634.2,180.6L1649.5,180.7M1637.1,199.6L1652.4,199.7M1643.7,218.6L1659.2,218.7M1650.4,237.6L1666.3,237.6M1653.3,256.6L1669.2,256.6M1654.7,275.5L1670.6,275.6M1672,294.5L1656.1,294.5M1655.4,152.3L1670.4,152.4M1654.3,133.4L1669.2,133.5M1656.5,171.3L1671.7,171.4M1657.8,190.2L1673.1,190.3M1663.4,209.2L1678.8,209.3M1670.6,228.2L1686.3,228.2M1676.4,247.1L1692.3,247.2M1677.9,266.1L1693.8,266.1M1679.3,285L1695.2,285.1M1696.7,304L1680.7,304M1677.3,143L1692.3,143.1M1675.9,124L1690.8,124.1M1678.6,161.9L1693.8,162M1680,180.9L1695.2,180.9M1683.1,199.8L1698.4,199.9M1690.3,218.8L1705.9,218.8M1697.9,237.7L1713.8,237.7M1701,256.6L1716.9,256.7M1702.5,275.6L1718.4,275.6M1719.9,294.5L1703.9,294.5M1700.5,152.6L1715.6,152.7M1699,133.7L1713.9,133.8M1702.1,171.5L1717.3,171.6M1703.8,190.4L1719.1,190.5M1709.6,209.4L1725.1,209.4M1717.7,228.3L1733.4,228.3M1724.1,247.2L1740,247.3M1725.6,266.1L1741.5,266.2M1727.1,285.1L1743.1,285.1M1744.6,304L1728.6,304M1722.2,143.3L1737.2,143.4M1720.5,124.4L1735.3,124.5M1724,162.2L1739.1,162.3M1725.8,181.1L1741,181.2M1729,200L1744.3,200.1M1737,218.9L1752.5,219M1745.4,237.8L1761.3,237.9M1748.7,256.7L1764.7,256.8M1750.3,275.6L1766.2,275.7M1767.7,294.6L1751.8,294.5M1745.7,152.9L1760.7,153M1743.7,134L1758.6,134.1M1747.7,171.8L1762.9,171.8M1749.7,190.6L1765.1,190.7M1755.9,209.5L1771.3,209.6M1764.7,228.4L1780.4,228.5M1771.8,247.3L1787.7,247.4M1773.4,266.2L1789.3,266.2M1774.9,285.1L1790.9,285.1M1792.5,304L1776.5,304M1767.2,143.6L1782.1,143.7M1765,124.7L1779.8,124.8M1769.4,162.4L1784.5,162.5M1771.5,181.3L1786.8,181.4M1774.9,200.2L1790.2,200.3M1783.6,219.1L1799.2,219.1M1792.9,237.9L1808.8,238M1796.5,256.8L1812.4,256.8M1798.1,275.7L1814,275.7M1815.6,294.6L1799.6,294.6M1790.8,153.1L1805.9,153.2M1788.4,134.3L1803.3,134.4M1793.2,172L1808.4,172.1M1795.7,190.9L1811,190.9M1802.1,209.7L1817.5,209.8M1811.8,228.6L1827.5,228.6M1819.5,247.4L1835.4,247.5M1821.1,266.3L1837.1,266.3M1822.8,285.1L1838.7,285.2M1840.3,304L1824.4,304M1812.1,143.9L1827.1,144M1809.5,125L1824.3,125.1M1814.7,162.7L1829.8,162.8M1817.3,181.5L1832.6,181.6M1820.8,200.4L1836.1,200.4M1830.3,219.2L1845.8,219.3M1840.4,238.1L1856.3,238.1M1844.2,256.9L1860.1,256.9M1845.9,275.7L1861.8,275.8M1863.5,294.6L1847.5,294.6M1836,153.4L1851,153.5M1833.1,134.6L1848.1,134.7M1838.8,172.2L1854,172.3M1841.7,191.1L1857,191.1M1848.4,209.9L1863.8,209.9M1858.9,228.7L1874.6,228.8M1867.2,247.5L1883.1,247.6M1868.9,266.4L1884.8,266.4M1870.6,285.2L1886.5,285.2M1888.2,304L1872.3,304M1857,144.2L1872,144.2M1854,125.3L1868.8,125.5M1860.1,163L1875.2,163M1863.1,181.8L1878.4,181.8M1866.7,200.6L1882,200.6M1877,219.4L1892.5,219.4M1887.9,238.2L1903.7,238.2M1891.9,257L1907.8,257M1893.6,275.8L1909.6,275.8M1911.3,294.6L1895.4,294.6M1881.1,153.7L1896.2,153.8M1877.9,134.9L1892.8,135M1884.4,172.5L1899.6,172.6M1887.7,191.3L1903,191.3M1894.6,210.1L1910,210.1M1906,228.8L1921.7,228.9M1914.9,247.6L1930.8,247.7M1916.7,266.4L1932.6,266.4M1918.4,285.2L1934.4,285.2M1936.1,304L1920.2,304M1902,144.4L1916.9,144.5M1898.5,125.7L1913.3,125.8M1905.4,163.2L1920.5,163.3M1908.9,182L1924.2,182.1M1912.7,200.8L1928,200.8M1923.6,219.5L1939.2,219.6M1935.4,238.3L1951.2,238.3M1939.7,257.1L1955.6,257.1M1941.4,275.8L1957.4,275.9M1959.2,294.6L1943.2,294.6M1926.3,154L1941.3,154.1M1922.6,135.2L1937.5,135.3M1929.9,172.7L1945.1,172.8M1933.6,191.5L1949,191.5M1940.8,210.2L1956.2,210.3M1953,229L1968.7,229M1962.6,247.7L1978.5,247.8M1964.4,266.5L1980.4,266.5M1966.2,285.2L1982.2,285.3M1984,304L1968.1,304M1557.5,142.2L1564.8,132.7M1542.5,142.1L1535,132.5M1535,132.5L1542.4,123.1M1557.3,123.2L1564.8,132.7M1557.7,161.2L1565.1,151.8M1542.6,161.1L1535,151.6M1535,151.6L1542.5,142.1M1565.1,151.8L1557.5,142.2M1557.9,180.3L1565.4,170.8M1542.6,180.2L1535,170.6M1535,170.6L1542.6,161.1M1565.4,170.8L1557.7,161.2M1560.6,199.3L1565.8,189.8M1545.3,199.2L1535.2,189.7M1535.2,189.7L1542.6,180.2M1565.8,189.8L1557.9,180.3M1565.9,218.3L1570.9,208.9M1550.4,218.3L1540.1,208.7M1540.1,208.7L1545.3,199.2M1570.9,208.9L1560.6,199.3M1571.3,237.4L1576.4,227.9M1555.4,237.3L1545.1,227.8M1545.1,227.8L1550.4,218.3M1576.4,227.9L1565.9,218.3M1573.7,256.4L1581,246.9M1557.8,256.4L1549.3,246.8M1549.3,246.8L1555.4,237.3M1581,246.9L1571.3,237.4M1575,275.4L1582.3,265.9M1559.1,275.4L1550.5,265.9M1550.5,265.9L1557.8,256.4M1582.3,265.9L1573.7,256.4M1576.3,294.5L1583.6,285M1560.4,294.5L1551.8,284.9M1551.8,284.9L1559.1,275.4M1583.6,285L1575,275.4M1580.1,151.9L1587.4,142.4M1587.4,142.4L1579.7,132.8M1580.6,170.9L1587.9,161.4M1587.9,161.4L1580.1,151.9M1581.2,189.9L1588.4,180.4M1588.4,180.4L1580.6,170.9M1586.4,208.9L1591.2,199.4M1591.2,199.4L1581.2,189.9M1592.1,227.9L1597,218.4M1597,218.4L1586.4,208.9M1596.9,246.9L1602.9,237.5M1602.9,237.5L1592.1,227.9M1598.3,266L1605.6,256.5M1605.6,256.5L1596.9,246.9M1599.6,285L1606.9,275.5M1606.9,275.5L1598.3,266M1608.2,294.5L1600.9,304M1584.9,304L1576.3,294.5M1608.2,294.5L1599.6,285M1602.4,142.5L1609.5,133M1579.7,132.8L1586.9,123.4M1601.8,123.5L1609.5,133M1603,161.5L1610.2,152M1610.2,152L1602.4,142.5M1603.7,180.5L1611,171M1611,171L1603,161.5M1606.5,199.5L1611.8,190M1611.8,190L1603.7,180.5M1612.6,218.5L1617.2,209M1617.2,209L1606.5,199.5M1618.8,237.5L1623.5,228M1623.5,228L1612.6,218.5M1621.5,256.5L1628.7,247M1628.7,247L1618.8,237.5M1622.8,275.5L1630.1,266M1630.1,266L1621.5,256.5M1624.2,294.5L1631.5,285M1631.5,285L1622.8,275.5M1625.3,152.1L1632.4,142.7M1632.4,142.7L1624.4,133.1M1626.1,171.1L1633.3,161.7M1633.3,161.7L1625.3,152.1M1627.1,190.1L1634.2,180.6M1634.2,180.6L1626.1,171.1M1632.6,209.1L1637.1,199.6M1637.1,199.6L1627.1,190.1M1639.2,228.1L1643.7,218.6M1643.7,218.6L1632.6,209.1M1644.6,247L1650.4,237.6M1650.4,237.6L1639.2,228.1M1646,266L1653.3,256.6M1653.3,256.6L1644.6,247M1647.4,285L1654.7,275.5M1654.7,275.5L1646,266M1656.1,294.5L1648.8,304M1632.8,304L1624.2,294.5M1656.1,294.5L1647.4,285M1647.3,142.8L1654.3,133.4M1624.4,133.1L1631.4,123.7M1646.3,123.8L1654.3,133.4M1648.4,161.8L1655.4,152.3M1655.4,152.3L1647.3,142.8M1649.5,180.7L1656.5,171.3M1656.5,171.3L1648.4,161.8M1652.4,199.7L1657.8,190.2M1657.8,190.2L1649.5,180.7M1659.2,218.7L1663.4,209.2M1663.4,209.2L1652.4,199.7M1666.3,237.6L1670.6,228.2M1670.6,228.2L1659.2,218.7M1669.2,256.6L1676.4,247.1M1676.4,247.1L1666.3,237.6M1670.6,275.6L1677.9,266.1M1677.9,266.1L1669.2,256.6M1672,294.5L1679.3,285M1679.3,285L1670.6,275.6M1670.4,152.4L1677.3,143M1677.3,143L1669.2,133.5M1671.7,171.4L1678.6,161.9M1678.6,161.9L1670.4,152.4M1673.1,190.3L1680,180.9M1680,180.9L1671.7,171.4M1678.8,209.3L1683.1,199.8M1683.1,199.8L1673.1,190.3M1686.3,228.2L1690.3,218.8M1690.3,218.8L1678.8,209.3M1692.3,247.2L1697.9,237.7M1697.9,237.7L1686.3,228.2M1693.8,266.1L1701,256.6M1701,256.6L1692.3,247.2M1695.2,285.1L1702.5,275.6M1702.5,275.6L1693.8,266.1M1703.9,294.5L1696.7,304M1680.7,304L1672,294.5M1703.9,294.5L1695.2,285.1M1692.3,143.1L1699,133.7M1669.2,133.5L1675.9,124M1690.8,124.1L1699,133.7M1693.8,162L1700.5,152.6M1700.5,152.6L1692.3,143.1M1695.2,180.9L1702.1,171.5M1702.1,171.5L1693.8,162M1698.4,199.9L1703.8,190.4M1703.8,190.4L1695.2,180.9M1705.9,218.8L1709.6,209.4M1709.6,209.4L1698.4,199.9M1713.8,237.7L1717.7,228.3M1717.7,228.3L1705.9,218.8M1716.9,256.7L1724.1,247.2M1724.1,247.2L1713.8,237.7M1718.4,275.6L1725.6,266.1M1725.6,266.1L1716.9,256.7M1719.9,294.5L1727.1,285.1M1727.1,285.1L1718.4,275.6M1715.6,152.7L1722.2,143.3M1722.2,143.3L1713.9,133.8M1717.3,171.6L1724,162.2M1724,162.2L1715.6,152.7M1719.1,190.5L1725.8,181.1M1725.8,181.1L1717.3,171.6M1725.1,209.4L1729,200M1729,200L1719.1,190.5M1733.4,228.3L1737,218.9M1737,218.9L1725.1,209.4M1740,247.3L1745.4,237.8M1745.4,237.8L1733.4,228.3M1741.5,266.2L1748.7,256.7M1748.7,256.7L1740,247.3M1743.1,285.1L1750.3,275.6M1750.3,275.6L1741.5,266.2M1751.8,294.5L1744.6,304M1728.6,304L1719.9,294.5M1751.8,294.5L1743.1,285.1M1737.2,143.4L1743.7,134M1713.9,133.8L1720.5,124.4M1735.3,124.5L1743.7,134M1739.1,162.3L1745.7,152.9M1745.7,152.9L1737.2,143.4M1741,181.2L1747.7,171.8M1747.7,171.8L1739.1,162.3M1744.3,200.1L1749.7,190.6M1749.7,190.6L1741,181.2M1752.5,219L1755.9,209.5M1755.9,209.5L1744.3,200.1M1761.3,237.9L1764.7,228.4M1764.7,228.4L1752.5,219M1764.7,256.8L1771.8,247.3M1771.8,247.3L1761.3,237.9M1766.2,275.7L1773.4,266.2M1773.4,266.2L1764.7,256.8M1767.7,294.6L1774.9,285.1M1774.9,285.1L1766.2,275.7M1760.7,153L1767.2,143.6M1767.2,143.6L1758.6,134.1M1762.9,171.8L1769.4,162.4M1769.4,162.4L1760.7,153M1765.1,190.7L1771.5,181.3M1771.5,181.3L1762.9,171.8M1771.3,209.6L1774.9,200.2M1774.9,200.2L1765.1,190.7M1780.4,228.5L1783.6,219.1M1783.6,219.1L1771.3,209.6M1787.7,247.4L1792.9,237.9M1792.9,237.9L1780.4,228.5M1789.3,266.2L1796.5,256.8M1796.5,256.8L1787.7,247.4M1790.9,285.1L1798.1,275.7M1798.1,275.7L1789.3,266.2M1799.6,294.6L1792.5,304M1776.5,304L1767.7,294.6M1799.6,294.6L1790.9,285.1M1782.1,143.7L1788.4,134.3M1758.6,134.1L1765,124.7M1779.8,124.8L1788.4,134.3M1784.5,162.5L1790.8,153.1M1790.8,153.1L1782.1,143.7M1786.8,181.4L1793.2,172M1793.2,172L1784.5,162.5M1790.2,200.3L1795.7,190.9M1795.7,190.9L1786.8,181.4M1799.2,219.1L1802.1,209.7M1802.1,209.7L1790.2,200.3M1808.8,238L1811.8,228.6M1811.8,228.6L1799.2,219.1M1812.4,256.8L1819.5,247.4M1819.5,247.4L1808.8,238M1814,275.7L1821.1,266.3M1821.1,266.3L1812.4,256.8M1815.6,294.6L1822.8,285.1M1822.8,285.1L1814,275.7M1805.9,153.2L1812.1,143.9M1812.1,143.9L1803.3,134.4M1808.4,172.1L1814.7,162.7M1814.7,162.7L1805.9,153.2M1811,190.9L1817.3,181.5M1817.3,181.5L1808.4,172.1M1817.5,209.8L1820.8,200.4M1820.8,200.4L1811,190.9M1827.5,228.6L1830.3,219.2M1830.3,219.2L1817.5,209.8M1835.4,247.5L1840.4,238.1M1840.4,238.1L1827.5,228.6M1837.1,266.3L1844.2,256.9M1844.2,256.9L1835.4,247.5M1838.7,285.2L1845.9,275.7M1845.9,275.7L1837.1,266.3M1847.5,294.6L1840.3,304M1824.4,304L1815.6,294.6M1847.5,294.6L1838.7,285.2M1827.1,144L1833.1,134.6M1803.3,134.4L1809.5,125M1824.3,125.1L1833.1,134.6M1829.8,162.8L1836,153.4M1836,153.4L1827.1,144M1832.6,181.6L1838.8,172.2M1838.8,172.2L1829.8,162.8M1836.1,200.4L1841.7,191.1M1841.7,191.1L1832.6,181.6M1845.8,219.3L1848.4,209.9M1848.4,209.9L1836.1,200.4M1856.3,238.1L1858.9,228.7M1858.9,228.7L1845.8,219.3M1860.1,256.9L1867.2,247.5M1867.2,247.5L1856.3,238.1M1861.8,275.8L1868.9,266.4M1868.9,266.4L1860.1,256.9M1863.5,294.6L1870.6,285.2M1870.6,285.2L1861.8,275.8M1851,153.5L1857,144.2M1857,144.2L1848.1,134.7M1854,172.3L1860.1,163M1860.1,163L1851,153.5M1857,191.1L1863.1,181.8M1863.1,181.8L1854,172.3M1863.8,209.9L1866.7,200.6M1866.7,200.6L1857,191.1M1874.6,228.8L1877,219.4M1877,219.4L1863.8,209.9M1883.1,247.6L1887.9,238.2M1887.9,238.2L1874.6,228.8M1884.8,266.4L1891.9,257M1891.9,257L1883.1,247.6M1886.5,285.2L1893.6,275.8M1893.6,275.8L1884.8,266.4M1895.4,294.6L1888.2,304M1872.3,304L1863.5,294.6M1895.4,294.6L1886.5,285.2M1872,144.2L1877.9,134.9M1848.1,134.7L1854,125.3M1868.8,125.5L1877.9,134.9M1875.2,163L1881.1,153.7M1881.1,153.7L1872,144.2M1878.4,181.8L1884.4,172.5M1884.4,172.5L1875.2,163M1882,200.6L1887.7,191.3M1887.7,191.3L1878.4,181.8M1892.5,219.4L1894.6,210.1M1894.6,210.1L1882,200.6M1903.7,238.2L1906,228.8M1906,228.8L1892.5,219.4M1907.8,257L1914.9,247.6M1914.9,247.6L1903.7,238.2M1909.6,275.8L1916.7,266.4M1916.7,266.4L1907.8,257M1911.3,294.6L1918.4,285.2M1918.4,285.2L1909.6,275.8M1896.2,153.8L1902,144.4M1902,144.4L1892.8,135M1899.6,172.6L1905.4,163.2M1905.4,163.2L1896.2,153.8M1903,191.3L1908.9,182M1908.9,182L1899.6,172.6M1910,210.1L1912.7,200.8M1912.7,200.8L1903,191.3M1921.7,228.9L1923.6,219.5M1923.6,219.5L1910,210.1M1930.8,247.7L1935.4,238.3M1935.4,238.3L1921.7,228.9M1932.6,266.4L1939.7,257.1M1939.7,257.1L1930.8,247.7M1934.4,285.2L1941.4,275.8M1941.4,275.8L1932.6,266.4M1943.2,294.6L1936.1,304M1920.2,304L1911.3,294.6M1943.2,294.6L1934.4,285.2M1916.9,144.5L1922.6,135.2M1892.8,135L1898.5,125.7M1913.3,125.8L1922.6,135.2M1920.5,163.3L1926.3,154M1926.3,154L1916.9,144.5M1924.2,182.1L1929.9,172.7M1929.9,172.7L1920.5,163.3M1928,200.8L1933.6,191.5M1933.6,191.5L1924.2,182.1M1939.2,219.6L1940.8,210.2M1940.8,210.2L1928,200.8M1951.2,238.3L1953,229M1953,229L1939.2,219.6M1955.6,257.1L1962.6,247.7M1962.6,247.7L1951.2,238.3M1957.4,275.9L1964.4,266.5M1964.4,266.5L1955.6,257.1M1959.2,294.6L1966.2,285.2M1966.2,285.2L1957.4,275.9M1946.9,144.7L1941.3,154.1M1937.5,135.3L1946.9,144.7M1950.8,163.5L1945.1,172.8M1941.3,154.1L1950.8,163.5M1954.7,182.2L1949,191.5M1945.1,172.8L1954.7,182.2M1958.6,200.9L1956.2,210.3M1949,191.5L1958.6,200.9M1970.3,219.7L1968.7,229M1956.2,210.3L1970.3,219.7M1982.9,238.4L1978.5,247.8M1968.7,229L1982.9,238.4M1987.4,257.2L1980.4,266.5M1978.5,247.8L1987.4,257.2M1989.2,275.9L1982.2,285.3M1980.4,266.5L1989.2,275.9M1991.1,294.6L1984,304M1968.1,304L1959.2,294.6M1982.2,285.3L1991.1,294.6" stroke="#dca81a" stroke-width="6.4"/>
<path d="M1542.5,142.1L1557.5,142.2M1542.4,123.1L1557.3,123.2M1542.6,161.1L1557.7,161.2M1542.6,180.2L1557.9,180.3M1545.3,199.2L1560.6,199.3M1550.4,218.3L1565.9,218.3M1555.4,237.3L1571.3,237.4M1557.8,256.4L1573.7,256.4M1559.1,275.4L1575,275.4M1576.3,294.5L1560.4,294.5M1565.1,151.8L1580.1,151.9M1564.8,132.7L1579.7,132.8M1565.4,170.8L1580.6,170.9M1565.8,189.8L1581.2,189.9M1570.9,208.9L1586.4,208.9M1576.4,227.9L1592.1,227.9M1581,246.9L1596.9,246.9M1582.3,265.9L1598.3,266M1583.6,285L1599.6,285M1600.9,304L1584.9,304M1587.4,142.4L1602.4,142.5M1586.9,123.4L1601.8,123.5M1587.9,161.4L1603,161.5M1588.4,180.4L1603.7,180.5M1591.2,199.4L1606.5,199.5M1597,218.4L1612.6,218.5M1602.9,237.5L1618.8,237.5M1605.6,256.5L1621.5,256.5M1606.9,275.5L1622.8,275.5M1624.2,294.5L1608.2,294.5M1610.2,152L1625.3,152.1M1609.5,133L1624.4,133.1M1611,171L1626.1,171.1M1611.8,190L1627.1,190.1M1617.2,209L1632.6,209.1M1623.5,228L1639.2,228.1M1628.7,247L1644.6,247M1630.1,266L1646,266M1631.5,285L1647.4,285M1648.8,304L1632.8,304M1632.4,142.7L1647.3,142.8M1631.4,123.7L1646.3,123.8M1633.3,161.7L1648.4,161.8M1634.2,180.6L1649.5,180.7M1637.1,199.6L1652.4,199.7M1643.7,218.6L1659.2,218.7M1650.4,237.6L1666.3,237.6M1653.3,256.6L1669.2,256.6M1654.7,275.5L1670.6,275.6M1672,294.5L1656.1,294.5M1655.4,152.3L1670.4,152.4M1654.3,133.4L1669.2,133.5M1656.5,171.3L1671.7,171.4M1657.8,190.2L1673.1,190.3M1663.4,209.2L1678.8,209.3M1670.6,228.2L1686.3,228.2M1676.4,247.1L1692.3,247.2M1677.9,266.1L1693.8,266.1M1679.3,285L1695.2,285.1M1696.7,304L1680.7,304M1677.3,143L1692.3,143.1M1675.9,124L1690.8,124.1M1678.6,161.9L1693.8,162M1680,180.9L1695.2,180.9M1683.1,199.8L1698.4,199.9M1690.3,218.8L1705.9,218.8M1697.9,237.7L1713.8,237.7M1701,256.6L1716.9,256.7M1702.5,275.6L1718.4,275.6M1719.9,294.5L1703.9,294.5M1700.5,152.6L1715.6,152.7M1699,133.7L1713.9,133.8M1702.1,171.5L1717.3,171.6M1703.8,190.4L1719.1,190.5M1709.6,209.4L1725.1,209.4M1717.7,228.3L1733.4,228.3M1724.1,247.2L1740,247.3M1725.6,266.1L1741.5,266.2M1727.1,285.1L1743.1,285.1M1744.6,304L1728.6,304M1722.2,143.3L1737.2,143.4M1720.5,124.4L1735.3,124.5M1724,162.2L1739.1,162.3M1725.8,181.1L1741,181.2M1729,200L1744.3,200.1M1737,218.9L1752.5,219M1745.4,237.8L1761.3,237.9M1748.7,256.7L1764.7,256.8M1750.3,275.6L1766.2,275.7M1767.7,294.6L1751.8,294.5M1745.7,152.9L1760.7,153M1743.7,134L1758.6,134.1M1747.7,171.8L1762.9,171.8M1749.7,190.6L1765.1,190.7M1755.9,209.5L1771.3,209.6M1764.7,228.4L1780.4,228.5M1771.8,247.3L1787.7,247.4M1773.4,266.2L1789.3,266.2M1774.9,285.1L1790.9,285.1M1792.5,304L1776.5,304M1767.2,143.6L1782.1,143.7M1765,124.7L1779.8,124.8M1769.4,162.4L1784.5,162.5M1771.5,181.3L1786.8,181.4M1774.9,200.2L1790.2,200.3M1783.6,219.1L1799.2,219.1M1792.9,237.9L1808.8,238M1796.5,256.8L1812.4,256.8M1798.1,275.7L1814,275.7M1815.6,294.6L1799.6,294.6M1790.8,153.1L1805.9,153.2M1788.4,134.3L1803.3,134.4M1793.2,172L1808.4,172.1M1795.7,190.9L1811,190.9M1802.1,209.7L1817.5,209.8M1811.8,228.6L1827.5,228.6M1819.5,247.4L1835.4,247.5M1821.1,266.3L1837.1,266.3M1822.8,285.1L1838.7,285.2M1840.3,304L1824.4,304M1812.1,143.9L1827.1,144M1809.5,125L1824.3,125.1M1814.7,162.7L1829.8,162.8M1817.3,181.5L1832.6,181.6M1820.8,200.4L1836.1,200.4M1830.3,219.2L1845.8,219.3M1840.4,238.1L1856.3,238.1M1844.2,256.9L1860.1,256.9M1845.9,275.7L1861.8,275.8M1863.5,294.6L1847.5,294.6M1836,153.4L1851,153.5M1833.1,134.6L1848.1,134.7M1838.8,172.2L1854,172.3M1841.7,191.1L1857,191.1M1848.4,209.9L1863.8,209.9M1858.9,228.7L1874.6,228.8M1867.2,247.5L1883.1,247.6M1868.9,266.4L1884.8,266.4M1870.6,285.2L1886.5,285.2M1888.2,304L1872.3,304M1857,144.2L1872,144.2M1854,125.3L1868.8,125.5M1860.1,163L1875.2,163M1863.1,181.8L1878.4,181.8M1866.7,200.6L1882,200.6M1877,219.4L1892.5,219.4M1887.9,238.2L1903.7,238.2M1891.9,257L1907.8,257M1893.6,275.8L1909.6,275.8M1911.3,294.6L1895.4,294.6M1881.1,153.7L1896.2,153.8M1877.9,134.9L1892.8,135M1884.4,172.5L1899.6,172.6M1887.7,191.3L1903,191.3M1894.6,210.1L1910,210.1M1906,228.8L1921.7,228.9M1914.9,247.6L1930.8,247.7M1916.7,266.4L1932.6,266.4M1918.4,285.2L1934.4,285.2M1936.1,304L1920.2,304M1902,144.4L1916.9,144.5M1898.5,125.7L1913.3,125.8M1905.4,163.2L1920.5,163.3M1908.9,182L1924.2,182.1M1912.7,200.8L1928,200.8M1923.6,219.5L1939.2,219.6M1935.4,238.3L1951.2,238.3M1939.7,257.1L1955.6,257.1M1941.4,275.8L1957.4,275.9M1959.2,294.6L1943.2,294.6M1926.3,154L1941.3,154.1M1922.6,135.2L1937.5,135.3M1929.9,172.7L1945.1,172.8M1933.6,191.5L1949,191.5M1940.8,210.2L1956.2,210.3M1953,229L1968.7,229M1962.6,247.7L1978.5,247.8M1964.4,266.5L1980.4,266.5M1966.2,285.2L1982.2,285.3M1984,304L1968.1,304M1557.5,142.2L1564.8,132.7M1542.5,142.1L1535,132.5M1535,132.5L1542.4,123.1M1557.3,123.2L1564.8,132.7M1557.7,161.2L1565.1,151.8M1542.6,161.1L1535,151.6M1535,151.6L1542.5,142.1M1565.1,151.8L1557.5,142.2M1557.9,180.3L1565.4,170.8M1542.6,180.2L1535,170.6M1535,170.6L1542.6,161.1M1565.4,170.8L1557.7,161.2M1560.6,199.3L1565.8,189.8M1545.3,199.2L1535.2,189.7M1535.2,189.7L1542.6,180.2M1565.8,189.8L1557.9,180.3M1565.9,218.3L1570.9,208.9M1550.4,218.3L1540.1,208.7M1540.1,208.7L1545.3,199.2M1570.9,208.9L1560.6,199.3M1571.3,237.4L1576.4,227.9M1555.4,237.3L1545.1,227.8M1545.1,227.8L1550.4,218.3M1576.4,227.9L1565.9,218.3M1573.7,256.4L1581,246.9M1557.8,256.4L1549.3,246.8M1549.3,246.8L1555.4,237.3M1581,246.9L1571.3,237.4M1575,275.4L1582.3,265.9M1559.1,275.4L1550.5,265.9M1550.5,265.9L1557.8,256.4M1582.3,265.9L1573.7,256.4M1576.3,294.5L1583.6,285M1560.4,294.5L1551.8,284.9M1551.8,284.9L1559.1,275.4M1583.6,285L1575,275.4M1580.1,151.9L1587.4,142.4M1587.4,142.4L1579.7,132.8M1580.6,170.9L1587.9,161.4M1587.9,161.4L1580.1,151.9M1581.2,189.9L1588.4,180.4M1588.4,180.4L1580.6,170.9M1586.4,208.9L1591.2,199.4M1591.2,199.4L1581.2,189.9M1592.1,227.9L1597,218.4M1597,218.4L1586.4,208.9M1596.9,246.9L1602.9,237.5M1602.9,237.5L1592.1,227.9M1598.3,266L1605.6,256.5M1605.6,256.5L1596.9,246.9M1599.6,285L1606.9,275.5M1606.9,275.5L1598.3,266M1608.2,294.5L1600.9,304M1584.9,304L1576.3,294.5M1608.2,294.5L1599.6,285M1602.4,142.5L1609.5,133M1579.7,132.8L1586.9,123.4M1601.8,123.5L1609.5,133M1603,161.5L1610.2,152M1610.2,152L1602.4,142.5M1603.7,180.5L1611,171M1611,171L1603,161.5M1606.5,199.5L1611.8,190M1611.8,190L1603.7,180.5M1612.6,218.5L1617.2,209M1617.2,209L1606.5,199.5M1618.8,237.5L1623.5,228M1623.5,228L1612.6,218.5M1621.5,256.5L1628.7,247M1628.7,247L1618.8,237.5M1622.8,275.5L1630.1,266M1630.1,266L1621.5,256.5M1624.2,294.5L1631.5,285M1631.5,285L1622.8,275.5M1625.3,152.1L1632.4,142.7M1632.4,142.7L1624.4,133.1M1626.1,171.1L1633.3,161.7M1633.3,161.7L1625.3,152.1M1627.1,190.1L1634.2,180.6M1634.2,180.6L1626.1,171.1M1632.6,209.1L1637.1,199.6M1637.1,199.6L1627.1,190.1M1639.2,228.1L1643.7,218.6M1643.7,218.6L1632.6,209.1M1644.6,247L1650.4,237.6M1650.4,237.6L1639.2,228.1M1646,266L1653.3,256.6M1653.3,256.6L1644.6,247M1647.4,285L1654.7,275.5M1654.7,275.5L1646,266M1656.1,294.5L1648.8,304M1632.8,304L1624.2,294.5M1656.1,294.5L1647.4,285M1647.3,142.8L1654.3,133.4M1624.4,133.1L1631.4,123.7M1646.3,123.8L1654.3,133.4M1648.4,161.8L1655.4,152.3M1655.4,152.3L1647.3,142.8M1649.5,180.7L1656.5,171.3M1656.5,171.3L1648.4,161.8M1652.4,199.7L1657.8,190.2M1657.8,190.2L1649.5,180.7M1659.2,218.7L1663.4,209.2M1663.4,209.2L1652.4,199.7M1666.3,237.6L1670.6,228.2M1670.6,228.2L1659.2,218.7M1669.2,256.6L1676.4,247.1M1676.4,247.1L1666.3,237.6M1670.6,275.6L1677.9,266.1M1677.9,266.1L1669.2,256.6M1672,294.5L1679.3,285M1679.3,285L1670.6,275.6M1670.4,152.4L1677.3,143M1677.3,143L1669.2,133.5M1671.7,171.4L1678.6,161.9M1678.6,161.9L1670.4,152.4M1673.1,190.3L1680,180.9M1680,180.9L1671.7,171.4M1678.8,209.3L1683.1,199.8M1683.1,199.8L1673.1,190.3M1686.3,228.2L1690.3,218.8M1690.3,218.8L1678.8,209.3M1692.3,247.2L1697.9,237.7M1697.9,237.7L1686.3,228.2M1693.8,266.1L1701,256.6M1701,256.6L1692.3,247.2M1695.2,285.1L1702.5,275.6M1702.5,275.6L1693.8,266.1M1703.9,294.5L1696.7,304M1680.7,304L1672,294.5M1703.9,294.5L1695.2,285.1M1692.3,143.1L1699,133.7M1669.2,133.5L1675.9,124M1690.8,124.1L1699,133.7M1693.8,162L1700.5,152.6M1700.5,152.6L1692.3,143.1M1695.2,180.9L1702.1,171.5M1702.1,171.5L1693.8,162M1698.4,199.9L1703.8,190.4M1703.8,190.4L1695.2,180.9M1705.9,218.8L1709.6,209.4M1709.6,209.4L1698.4,199.9M1713.8,237.7L1717.7,228.3M1717.7,228.3L1705.9,218.8M1716.9,256.7L1724.1,247.2M1724.1,247.2L1713.8,237.7M1718.4,275.6L1725.6,266.1M1725.6,266.1L1716.9,256.7M1719.9,294.5L1727.1,285.1M1727.1,285.1L1718.4,275.6M1715.6,152.7L1722.2,143.3M1722.2,143.3L1713.9,133.8M1717.3,171.6L1724,162.2M1724,162.2L1715.6,152.7M1719.1,190.5L1725.8,181.1M1725.8,181.1L1717.3,171.6M1725.1,209.4L1729,200M1729,200L1719.1,190.5M1733.4,228.3L1737,218.9M1737,218.9L1725.1,209.4M1740,247.3L1745.4,237.8M1745.4,237.8L1733.4,228.3M1741.5,266.2L1748.7,256.7M1748.7,256.7L1740,247.3M1743.1,285.1L1750.3,275.6M1750.3,275.6L1741.5,266.2M1751.8,294.5L1744.6,304M1728.6,304L1719.9,294.5M1751.8,294.5L1743.1,285.1M1737.2,143.4L1743.7,134M1713.9,133.8L1720.5,124.4M1735.3,124.5L1743.7,134M1739.1,162.3L1745.7,152.9M1745.7,152.9L1737.2,143.4M1741,181.2L1747.7,171.8M1747.7,171.8L1739.1,162.3M1744.3,200.1L1749.7,190.6M1749.7,190.6L1741,181.2M1752.5,219L1755.9,209.5M1755.9,209.5L1744.3,200.1M1761.3,237.9L1764.7,228.4M1764.7,228.4L1752.5,219M1764.7,256.8L1771.8,247.3M1771.8,247.3L1761.3,237.9M1766.2,275.7L1773.4,266.2M1773.4,266.2L1764.7,256.8M1767.7,294.6L1774.9,285.1M1774.9,285.1L1766.2,275.7M1760.7,153L1767.2,143.6M1767.2,143.6L1758.6,134.1M1762.9,171.8L1769.4,162.4M1769.4,162.4L1760.7,153M1765.1,190.7L1771.5,181.3M1771.5,181.3L1762.9,171.8M1771.3,209.6L1774.9,200.2M1774.9,200.2L1765.1,190.7M1780.4,228.5L1783.6,219.1M1783.6,219.1L1771.3,209.6M1787.7,247.4L1792.9,237.9M1792.9,237.9L1780.4,228.5M1789.3,266.2L1796.5,256.8M1796.5,256.8L1787.7,247.4M1790.9,285.1L1798.1,275.7M1798.1,275.7L1789.3,266.2M1799.6,294.6L1792.5,304M1776.5,304L1767.7,294.6M1799.6,294.6L1790.9,285.1M1782.1,143.7L1788.4,134.3M1758.6,134.1L1765,124.7M1779.8,124.8L1788.4,134.3M1784.5,162.5L1790.8,153.1M1790.8,153.1L1782.1,143.7M1786.8,181.4L1793.2,172M1793.2,172L1784.5,162.5M1790.2,200.3L1795.7,190.9M1795.7,190.9L1786.8,181.4M1799.2,219.1L1802.1,209.7M1802.1,209.7L1790.2,200.3M1808.8,238L1811.8,228.6M1811.8,228.6L1799.2,219.1M1812.4,256.8L1819.5,247.4M1819.5,247.4L1808.8,238M1814,275.7L1821.1,266.3M1821.1,266.3L1812.4,256.8M1815.6,294.6L1822.8,285.1M1822.8,285.1L1814,275.7M1805.9,153.2L1812.1,143.9M1812.1,143.9L1803.3,134.4M1808.4,172.1L1814.7,162.7M1814.7,162.7L1805.9,153.2M1811,190.9L1817.3,181.5M1817.3,181.5L1808.4,172.1M1817.5,209.8L1820.8,200.4M1820.8,200.4L1811,190.9M1827.5,228.6L1830.3,219.2M1830.3,219.2L1817.5,209.8M1835.4,247.5L1840.4,238.1M1840.4,238.1L1827.5,228.6M1837.1,266.3L1844.2,256.9M1844.2,256.9L1835.4,247.5M1838.7,285.2L1845.9,275.7M1845.9,275.7L1837.1,266.3M1847.5,294.6L1840.3,304M1824.4,304L1815.6,294.6M1847.5,294.6L1838.7,285.2M1827.1,144L1833.1,134.6M1803.3,134.4L1809.5,125M1824.3,125.1L1833.1,134.6M1829.8,162.8L1836,153.4M1836,153.4L1827.1,144M1832.6,181.6L1838.8,172.2M1838.8,172.2L1829.8,162.8M1836.1,200.4L1841.7,191.1M1841.7,191.1L1832.6,181.6M1845.8,219.3L1848.4,209.9M1848.4,209.9L1836.1,200.4M1856.3,238.1L1858.9,228.7M1858.9,228.7L1845.8,219.3M1860.1,256.9L1867.2,247.5M1867.2,247.5L1856.3,238.1M1861.8,275.8L1868.9,266.4M1868.9,266.4L1860.1,256.9M1863.5,294.6L1870.6,285.2M1870.6,285.2L1861.8,275.8M1851,153.5L1857,144.2M1857,144.2L1848.1,134.7M1854,172.3L1860.1,163M1860.1,163L1851,153.5M1857,191.1L1863.1,181.8M1863.1,181.8L1854,172.3M1863.8,209.9L1866.7,200.6M1866.7,200.6L1857,191.1M1874.6,228.8L1877,219.4M1877,219.4L1863.8,209.9M1883.1,247.6L1887.9,238.2M1887.9,238.2L1874.6,228.8M1884.8,266.4L1891.9,257M1891.9,257L1883.1,247.6M1886.5,285.2L1893.6,275.8M1893.6,275.8L1884.8,266.4M1895.4,294.6L1888.2,304M1872.3,304L1863.5,294.6M1895.4,294.6L1886.5,285.2M1872,144.2L1877.9,134.9M1848.1,134.7L1854,125.3M1868.8,125.5L1877.9,134.9M1875.2,163L1881.1,153.7M1881.1,153.7L1872,144.2M1878.4,181.8L1884.4,172.5M1884.4,172.5L1875.2,163M1882,200.6L1887.7,191.3M1887.7,191.3L1878.4,181.8M1892.5,219.4L1894.6,210.1M1894.6,210.1L1882,200.6M1903.7,238.2L1906,228.8M1906,228.8L1892.5,219.4M1907.8,257L1914.9,247.6M1914.9,247.6L1903.7,238.2M1909.6,275.8L1916.7,266.4M1916.7,266.4L1907.8,257M1911.3,294.6L1918.4,285.2M1918.4,285.2L1909.6,275.8M1896.2,153.8L1902,144.4M1902,144.4L1892.8,135M1899.6,172.6L1905.4,163.2M1905.4,163.2L1896.2,153.8M1903,191.3L1908.9,182M1908.9,182L1899.6,172.6M1910,210.1L1912.7,200.8M1912.7,200.8L1903,191.3M1921.7,228.9L1923.6,219.5M1923.6,219.5L1910,210.1M1930.8,247.7L1935.4,238.3M1935.4,238.3L1921.7,228.9M1932.6,266.4L1939.7,257.1M1939.7,257.1L1930.8,247.7M1934.4,285.2L1941.4,275.8M1941.4,275.8L1932.6,266.4M1943.2,294.6L1936.1,304M1920.2,304L1911.3,294.6M1943.2,294.6L1934.4,285.2M1916.9,144.5L1922.6,135.2M1892.8,135L1898.5,125.7M1913.3,125.8L1922.6,135.2M1920.5,163.3L1926.3,154M1926.3,154L1916.9,144.5M1924.2,182.1L1929.9,172.7M1929.9,172.7L1920.5,163.3M1928,200.8L1933.6,191.5M1933.6,191.5L1924.2,182.1M1939.2,219.6L1940.8,210.2M1940.8,210.2L1928,200.8M1951.2,238.3L1953,229M1953,229L1939.2,219.6M1955.6,257.1L1962.6,247.7M1962.6,247.7L1951.2,238.3M1957.4,275.9L1964.4,266.5M1964.4,266.5L1955.6,257.1M1959.2,294.6L1966.2,285.2M1966.2,285.2L1957.4,275.9M1946.9,144.7L1941.3,154.1M1937.5,135.3L1946.9,144.7M1950.8,163.5L1945.1,172.8M1941.3,154.1L1950.8,163.5M1954.7,182.2L1949,191.5M1945.1,172.8L1954.7,182.2M1958.6,200.9L1956.2,210.3M1949,191.5L1958.6,200.9M1970.3,219.7L1968.7,229M1956.2,210.3L1970.3,219.7M1982.9,238.4L1978.5,247.8M1968.7,229L1982.9,238.4M1987.4,257.2L1980.4,266.5M1978.5,247.8L1987.4,257.2M1989.2,275.9L1982.2,285.3M1980.4,266.5L1989.2,275.9M1991.1,294.6L1984,304M1968.1,304L1959.2,294.6M1982.2,285.3L1991.1,294.6" stroke="#cb9a14" stroke-width="4.0"/>
<path d="M1542.5,142.1h0M1557.5,142.2h0M1542.4,123.1h0M1557.3,123.2h0M1542.6,161.1h0M1557.7,161.2h0M1542.6,180.2h0M1557.9,180.3h0M1545.3,199.2h0M1560.6,199.3h0M1550.4,218.3h0M1565.9,218.3h0M1555.4,237.3h0M1571.3,237.4h0M1557.8,256.4h0M1573.7,256.4h0M1559.1,275.4h0M1575,275.4h0M1576.3,294.5h0M1560.4,294.5h0M1565.1,151.8h0M1580.1,151.9h0M1564.8,132.7h0M1579.7,132.8h0M1565.4,170.8h0M1580.6,170.9h0M1565.8,189.8h0M1581.2,189.9h0M1570.9,208.9h0M1586.4,208.9h0M1576.4,227.9h0M1592.1,227.9h0M1581,246.9h0M1596.9,246.9h0M1582.3,265.9h0M1598.3,266h0M1583.6,285h0M1599.6,285h0M1600.9,304h0M1584.9,304h0M1587.4,142.4h0M1602.4,142.5h0M1586.9,123.4h0M1601.8,123.5h0M1587.9,161.4h0M1603,161.5h0M1588.4,180.4h0M1603.7,180.5h0M1591.2,199.4h0M1606.5,199.5h0M1597,218.4h0M1612.6,218.5h0M1602.9,237.5h0M1618.8,237.5h0M1605.6,256.5h0M1621.5,256.5h0M1606.9,275.5h0M1622.8,275.5h0M1624.2,294.5h0M1608.2,294.5h0M1610.2,152h0M1625.3,152.1h0M1609.5,133h0M1624.4,133.1h0M1611,171h0M1626.1,171.1h0M1611.8,190h0M1627.1,190.1h0M1617.2,209h0M1632.6,209.1h0M1623.5,228h0M1639.2,228.1h0M1628.7,247h0M1644.6,247h0M1630.1,266h0M1646,266h0M1631.5,285h0M1647.4,285h0M1648.8,304h0M1632.8,304h0M1632.4,142.7h0M1647.3,142.8h0M1631.4,123.7h0M1646.3,123.8h0M1633.3,161.7h0M1648.4,161.8h0M1634.2,180.6h0M1649.5,180.7h0M1637.1,199.6h0M1652.4,199.7h0M1643.7,218.6h0M1659.2,218.7h0M1650.4,237.6h0M1666.3,237.6h0M1653.3,256.6h0M1669.2,256.6h0M1654.7,275.5h0M1670.6,275.6h0M1672,294.5h0M1656.1,294.5h0M1655.4,152.3h0M1670.4,152.4h0M1654.3,133.4h0M1669.2,133.5h0M1656.5,171.3h0M1671.7,171.4h0M1657.8,190.2h0M1673.1,190.3h0M1663.4,209.2h0M1678.8,209.3h0M1670.6,228.2h0M1686.3,228.2h0M1676.4,247.1h0M1692.3,247.2h0M1677.9,266.1h0M1693.8,266.1h0M1679.3,285h0M1695.2,285.1h0M1696.7,304h0M1680.7,304h0M1677.3,143h0M1692.3,143.1h0M1675.9,124h0M1690.8,124.1h0M1678.6,161.9h0M1693.8,162h0M1680,180.9h0M1695.2,180.9h0M1683.1,199.8h0M1698.4,199.9h0M1690.3,218.8h0M1705.9,218.8h0M1697.9,237.7h0M1713.8,237.7h0M1701,256.6h0M1716.9,256.7h0M1702.5,275.6h0M1718.4,275.6h0M1719.9,294.5h0M1703.9,294.5h0M1700.5,152.6h0M1715.6,152.7h0M1699,133.7h0M1713.9,133.8h0M1702.1,171.5h0M1717.3,171.6h0M1703.8,190.4h0M1719.1,190.5h0M1709.6,209.4h0M1725.1,209.4h0M1717.7,228.3h0M1733.4,228.3h0M1724.1,247.2h0M1740,247.3h0M1725.6,266.1h0M1741.5,266.2h0M1727.1,285.1h0M1743.1,285.1h0M1744.6,304h0M1728.6,304h0M1722.2,143.3h0M1737.2,143.4h0M1720.5,124.4h0M1735.3,124.5h0M1724,162.2h0M1739.1,162.3h0M1725.8,181.1h0M1741,181.2h0M1729,200h0M1744.3,200.1h0M1737,218.9h0M1752.5,219h0M1745.4,237.8h0M1761.3,237.9h0M1748.7,256.7h0M1764.7,256.8h0M1750.3,275.6h0M1766.2,275.7h0M1767.7,294.6h0M1751.8,294.5h0M1745.7,152.9h0M1760.7,153h0M1743.7,134h0M1758.6,134.1h0M1747.7,171.8h0M1762.9,171.8h0M1749.7,190.6h0M1765.1,190.7h0M1755.9,209.5h0M1771.3,209.6h0M1764.7,228.4h0M1780.4,228.5h0M1771.8,247.3h0M1787.7,247.4h0M1773.4,266.2h0M1789.3,266.2h0M1774.9,285.1h0M1790.9,285.1h0M1792.5,304h0M1776.5,304h0M1767.2,143.6h0M1782.1,143.7h0M1765,124.7h0M1779.8,124.8h0M1769.4,162.4h0M1784.5,162.5h0M1771.5,181.3h0M1786.8,181.4h0M1774.9,200.2h0M1790.2,200.3h0M1783.6,219.1h0M1799.2,219.1h0M1792.9,237.9h0M1808.8,238h0M1796.5,256.8h0M1812.4,256.8h0M1798.1,275.7h0M1814,275.7h0M1815.6,294.6h0M1799.6,294.6h0M1790.8,153.1h0M1805.9,153.2h0M1788.4,134.3h0M1803.3,134.4h0M1793.2,172h0M1808.4,172.1h0M1795.7,190.9h0M1811,190.9h0M1802.1,209.7h0M1817.5,209.8h0M1811.8,228.6h0M1827.5,228.6h0M1819.5,247.4h0M1835.4,247.5h0M1821.1,266.3h0M1837.1,266.3h0M1822.8,285.1h0M1838.7,285.2h0M1840.3,304h0M1824.4,304h0M1812.1,143.9h0M1827.1,144h0M1809.5,125h0M1824.3,125.1h0M1814.7,162.7h0M1829.8,162.8h0M1817.3,181.5h0M1832.6,181.6h0M1820.8,200.4h0M1836.1,200.4h0M1830.3,219.2h0M1845.8,219.3h0M1840.4,238.1h0M1856.3,238.1h0M1844.2,256.9h0M1860.1,256.9h0M1845.9,275.7h0M1861.8,275.8h0M1863.5,294.6h0M1847.5,294.6h0M1836,153.4h0M1851,153.5h0M1833.1,134.6h0M1848.1,134.7h0M1838.8,172.2h0M1854,172.3h0M1841.7,191.1h0M1857,191.1h0M1848.4,209.9h0M1863.8,209.9h0M1858.9,228.7h0M1874.6,228.8h0M1867.2,247.5h0M1883.1,247.6h0M1868.9,266.4h0M1884.8,266.4h0M1870.6,285.2h0M1886.5,285.2h0M1888.2,304h0M1872.3,304h0M1857,144.2h0M1872,144.2h0M1854,125.3h0M1868.8,125.5h0M1860.1,163h0M1875.2,163h0M1863.1,181.8h0M1878.4,181.8h0M1866.7,200.6h0M1882,200.6h0M1877,219.4h0M1892.5,219.4h0M1887.9,238.2h0M1903.7,238.2h0M1891.9,257h0M1907.8,257h0M1893.6,275.8h0M1909.6,275.8h0M1911.3,294.6h0M1895.4,294.6h0M1881.1,153.7h0M1896.2,153.8h0M1877.9,134.9h0M1892.8,135h0M1884.4,172.5h0M1899.6,172.6h0M1887.7,191.3h0M1903,191.3h0M1894.6,210.1h0M1910,210.1h0M1906,228.8h0M1921.7,228.9h0M1914.9,247.6h0M1930.8,247.7h0M1916.7,266.4h0M1932.6,266.4h0M1918.4,285.2h0M1934.4,285.2h0M1936.1,304h0M1920.2,304h0M1902,144.4h0M1916.9,144.5h0M1898.5,125.7h0M1913.3,125.8h0M1905.4,163.2h0M1920.5,163.3h0M1908.9,182h0M1924.2,182.1h0M1912.7,200.8h0M1928,200.8h0M1923.6,219.5h0M1939.2,219.6h0M1935.4,238.3h0M1951.2,238.3h0M1939.7,257.1h0M1955.6,257.1h0M1941.4,275.8h0M1957.4,275.9h0M1959.2,294.6h0M1943.2,294.6h0M1926.3,154h0M1941.3,154.1h0M1922.6,135.2h0M1937.5,135.3h0M1929.9,172.7h0M1945.1,172.8h0M1933.6,191.5h0M1949,191.5h0M1940.8,210.2h0M1956.2,210.3h0M1953,229h0M1968.7,229h0M1962.6,247.7h0M1978.5,247.8h0M1964.4,266.5h0M1980.4,266.5h0M1966.2,285.2h0M1982.2,285.3h0M1984,304h0M1968.1,304h0M1535,132.5h0M1535,151.6h0M1535,170.6h0M1535.2,189.7h0M1540.1,208.7h0M1545.1,227.8h0M1549.3,246.8h0M1550.5,265.9h0M1551.8,284.9h0M1946.9,144.7h0M1950.8,163.5h0M1954.7,182.2h0M1958.6,200.9h0M1970.3,219.7h0M1982.9,238.4h0M1987.4,257.2h0M1989.2,275.9h0M1991.1,294.6h0" stroke="#2c1700" stroke-width="6.6"/>
<path d="M1544.4,142.1L1555.6,142.2M1544.3,123.1L1555.4,123.1M1544.4,161.2L1555.8,161.2M1544.5,180.2L1556,180.3M1547.2,199.2L1558.7,199.3M1552.3,218.3L1564,218.3M1557.4,237.3L1569.3,237.4M1559.8,256.4L1571.8,256.4M1561.1,275.4L1573,275.4M1574.3,294.5L1562.3,294.5M1567,151.8L1578.3,151.8M1566.7,132.7L1577.9,132.8M1567.3,170.8L1578.7,170.9M1567.7,189.8L1579.2,189.9M1572.9,208.9L1584.4,208.9M1578.4,227.9L1590.2,227.9M1583,246.9L1595,246.9M1584.3,265.9L1596.3,266M1585.6,285L1597.6,285M1598.9,304L1586.9,304M1589.3,142.4L1600.5,142.5M1588.8,123.4L1599.9,123.5M1589.8,161.4L1601.1,161.5M1590.3,180.4L1601.8,180.5M1593.1,199.4L1604.6,199.5M1599,218.5L1610.6,218.5M1604.9,237.5L1616.8,237.5M1607.5,256.5L1619.5,256.5M1608.9,275.5L1620.8,275.5M1622.2,294.5L1610.2,294.5M1612.1,152L1623.4,152.1M1611.4,133.1L1622.6,133.1M1612.9,171L1624.2,171.1M1613.7,190L1625.2,190.1M1619.1,209L1630.7,209.1M1625.5,228L1637.2,228.1M1630.7,247L1642.7,247M1632.1,266L1644,266M1633.5,285L1645.4,285M1646.8,304L1634.8,304M1634.2,142.7L1645.5,142.8M1633.3,123.7L1644.4,123.8M1635.2,161.7L1646.5,161.7M1636.1,180.7L1647.6,180.7M1639.1,199.6L1650.5,199.7M1645.6,218.6L1657.3,218.6M1652.4,237.6L1664.3,237.6M1655.3,256.6L1667.2,256.6M1656.7,275.5L1668.6,275.5M1670,294.5L1658.1,294.5M1657.3,152.3L1668.6,152.4M1656.1,133.4L1667.3,133.4M1658.4,171.3L1669.8,171.3M1659.7,190.2L1671.2,190.3M1665.3,209.2L1676.9,209.2M1672.6,228.2L1684.3,228.2M1678.4,247.1L1690.4,247.1M1679.9,266.1L1691.8,266.1M1681.3,285L1693.2,285M1694.7,304L1682.7,304M1679.2,143L1690.4,143.1M1677.8,124L1688.9,124.1M1680.5,161.9L1691.9,162M1681.9,180.9L1693.3,180.9M1685,199.8L1696.5,199.9M1692.3,218.8L1703.9,218.8M1699.9,237.7L1711.8,237.7M1703,256.6L1714.9,256.7M1704.5,275.6L1716.4,275.6M1717.9,294.5L1705.9,294.5M1702.4,152.6L1713.7,152.7M1700.8,133.7L1712,133.8M1704,171.5L1715.4,171.6M1705.7,190.5L1717.2,190.5M1711.6,209.4L1723.1,209.4M1719.6,228.3L1731.4,228.3M1726.1,247.2L1738.1,247.3M1727.6,266.2L1739.6,266.2M1729.1,285.1L1741.1,285.1M1742.6,304L1730.6,304M1724.1,143.3L1735.3,143.4M1722.3,124.4L1733.4,124.5M1725.9,162.2L1737.2,162.3M1727.7,181.1L1739.1,181.2M1730.9,200L1742.4,200.1M1738.9,218.9L1750.6,219M1747.4,237.8L1759.3,237.9M1750.7,256.7L1762.7,256.8M1752.3,275.6L1764.2,275.7M1765.7,294.6L1753.8,294.5M1747.6,152.9L1758.8,152.9M1745.6,134L1756.7,134.1M1749.6,171.8L1761,171.8M1751.6,190.7L1763.1,190.7M1757.8,209.5L1769.4,209.6M1766.7,228.4L1778.5,228.5M1773.8,247.3L1785.7,247.4M1775.4,266.2L1787.3,266.2M1776.9,285.1L1788.9,285.1M1790.5,304L1778.5,304M1769,143.6L1780.3,143.7M1766.8,124.7L1777.9,124.8M1771.2,162.5L1782.6,162.5M1773.5,181.3L1784.9,181.4M1776.8,200.2L1788.3,200.2M1785.6,219.1L1797.2,219.1M1794.9,237.9L1806.8,238M1798.5,256.8L1810.4,256.8M1800.1,275.7L1812,275.7M1813.6,294.6L1801.6,294.6M1792.7,153.2L1804,153.2M1790.3,134.3L1801.5,134.4M1795.1,172L1806.5,172.1M1797.6,190.9L1809.1,190.9M1804,209.7L1815.6,209.8M1813.8,228.6L1825.6,228.6M1821.5,247.4L1833.4,247.5M1823.1,266.3L1835.1,266.3M1824.8,285.1L1836.7,285.2M1838.3,304L1826.4,304M1814,143.9L1825.2,143.9M1811.3,125L1822.5,125.1M1816.6,162.7L1827.9,162.8M1819.2,181.5L1830.7,181.6M1822.7,200.4L1834.2,200.4M1832.2,219.2L1843.9,219.3M1842.4,238.1L1854.3,238.1M1846.2,256.9L1858.1,256.9M1847.8,275.7L1859.8,275.8M1861.5,294.6L1849.5,294.6M1837.9,153.4L1849.1,153.5M1835,134.6L1846.2,134.7M1840.7,172.2L1852.1,172.3M1843.6,191.1L1855.1,191.1M1850.3,209.9L1861.8,209.9M1860.9,228.7L1872.6,228.7M1869.2,247.5L1881.1,247.6M1870.9,266.4L1882.8,266.4M1872.6,285.2L1884.5,285.2M1886.2,304L1874.3,304M1858.9,144.2L1870.1,144.2M1855.8,125.4L1867,125.4M1862,163L1873.3,163M1865,181.8L1876.5,181.8M1868.6,200.6L1880.1,200.6M1878.9,219.4L1890.6,219.4M1889.9,238.2L1901.8,238.2M1893.9,257L1905.9,257M1895.6,275.8L1907.6,275.8M1909.3,294.6L1897.4,294.6M1883,153.7L1894.3,153.8M1879.7,134.9L1890.9,135M1886.3,172.5L1897.7,172.6M1889.6,191.3L1901.1,191.3M1896.5,210.1L1908.1,210.1M1907.9,228.9L1919.7,228.9M1916.9,247.6L1928.8,247.7M1918.7,266.4L1930.6,266.4M1920.4,285.2L1932.4,285.2M1934.1,304L1922.2,304M1903.8,144.5L1915.1,144.5M1900.3,125.7L1911.5,125.8M1907.3,163.2L1918.7,163.3M1910.8,182L1922.3,182.1M1914.6,200.8L1926,200.8M1925.6,219.5L1937.2,219.6M1937.4,238.3L1949.3,238.3M1941.7,257.1L1953.6,257.1M1943.4,275.8L1955.4,275.9M1957.2,294.6L1945.2,294.6M1928.1,154L1939.4,154M1924.4,135.2L1935.6,135.3M1931.8,172.7L1943.2,172.8M1935.6,191.5L1947,191.5M1942.7,210.2L1954.3,210.3M1955,229L1966.8,229M1964.6,247.7L1976.5,247.8M1966.4,266.5L1978.4,266.5M1968.2,285.2L1980.2,285.3M1982,304L1970,304" stroke="#8f8a44" stroke-width="2.6"/>
</g>
<text x="1778.3" y="362" font-size="48" text-anchor="middle" font-weight="bold" fill="#000" >COF</text>
<line x1="1537.6" y1="58.6" x2="1536" y2="62.4" stroke="#1a78e4" stroke-width="3.3"/>
<line x1="1536" y1="62.4" x2="1534.4" y2="66.2" stroke="#ee2a72" stroke-width="3.3"/>
<line x1="1543.7" y1="50.8" x2="1542.1" y2="60.8" stroke="#1a78e4" stroke-width="3.3"/>
<line x1="1542.1" y1="60.8" x2="1540.5" y2="70.8" stroke="#ee2a72" stroke-width="3.3"/>
<line x1="1549.8" y1="43.8" x2="1548.2" y2="59.4" stroke="#1a78e4" stroke-width="3.3"/>
<line x1="1548.2" y1="59.4" x2="1546.6" y2="74.9" stroke="#ee2a72" stroke-width="3.3"/>
<line x1="1555.9" y1="37.9" x2="1554.3" y2="58" stroke="#1a78e4" stroke-width="3.3"/>
<line x1="1554.3" y1="58" x2="1552.7" y2="78.2" stroke="#ee2a72" stroke-width="3.3"/>
<line x1="1562" y1="32.5" x2="1560.4" y2="56.5" stroke="#1a78e4" stroke-width="3.3"/>
<line x1="1560.4" y1="56.5" x2="1558.8" y2="80.5" stroke="#ee2a72" stroke-width="3.3"/>
<line x1="1568.1" y1="28.5" x2="1566.5" y2="55.4" stroke="#1a78e4" stroke-width="3.3"/>
<line x1="1566.5" y1="55.4" x2="1564.9" y2="82.4" stroke="#ee2a72" stroke-width="3.3"/>
<line x1="1574.2" y1="27" x2="1572.6" y2="55.4" stroke="#1a78e4" stroke-width="3.3"/>
<line x1="1572.6" y1="55.4" x2="1571" y2="83.8" stroke="#ee2a72" stroke-width="3.3"/>
<line x1="1580.3" y1="28.2" x2="1578.7" y2="56.5" stroke="#1a78e4" stroke-width="3.3"/>
<line x1="1578.7" y1="56.5" x2="1577.1" y2="84.7" stroke="#ee2a72" stroke-width="3.3"/>
<line x1="1586.4" y1="31.9" x2="1584.8" y2="58.5" stroke="#1a78e4" stroke-width="3.3"/>
<line x1="1584.8" y1="58.5" x2="1583.2" y2="85.2" stroke="#ee2a72" stroke-width="3.3"/>
<line x1="1592.5" y1="38" x2="1590.9" y2="61.5" stroke="#1a78e4" stroke-width="3.3"/>
<line x1="1590.9" y1="61.5" x2="1589.3" y2="85" stroke="#ee2a72" stroke-width="3.3"/>
<line x1="1598.6" y1="47.2" x2="1597" y2="65.8" stroke="#1a78e4" stroke-width="3.3"/>
<line x1="1597" y1="65.8" x2="1595.4" y2="84.3" stroke="#ee2a72" stroke-width="3.3"/>
<line x1="1604.7" y1="55.8" x2="1603.1" y2="69.4" stroke="#1a78e4" stroke-width="3.3"/>
<line x1="1603.1" y1="69.4" x2="1601.5" y2="83.1" stroke="#ee2a72" stroke-width="3.3"/>
<line x1="1610.8" y1="61.5" x2="1609.2" y2="71.4" stroke="#1a78e4" stroke-width="3.3"/>
<line x1="1609.2" y1="71.4" x2="1607.6" y2="81.2" stroke="#ee2a72" stroke-width="3.3"/>
<line x1="1616.9" y1="65.8" x2="1615.3" y2="71.9" stroke="#1a78e4" stroke-width="3.3"/>
<line x1="1615.3" y1="71.9" x2="1613.7" y2="78" stroke="#ee2a72" stroke-width="3.3"/>
<line x1="1623" y1="70" x2="1621.4" y2="71.9" stroke="#1a78e4" stroke-width="3.3"/>
<line x1="1621.4" y1="71.9" x2="1619.8" y2="73.9" stroke="#ee2a72" stroke-width="3.3"/>
<line x1="1627.5" y1="70.1" x2="1627.5" y2="72.5" stroke="#ee2a72" stroke-width="3.3"/>
<line x1="1627.5" y1="72.5" x2="1627.5" y2="74.9" stroke="#1a78e4" stroke-width="3.3"/>
<line x1="1633.6" y1="65.9" x2="1633.6" y2="73.3" stroke="#ee2a72" stroke-width="3.3"/>
<line x1="1633.6" y1="73.3" x2="1633.6" y2="80.6" stroke="#1a78e4" stroke-width="3.3"/>
<line x1="1639.7" y1="62" x2="1639.7" y2="74" stroke="#ee2a72" stroke-width="3.3"/>
<line x1="1639.7" y1="74" x2="1639.7" y2="86.1" stroke="#1a78e4" stroke-width="3.3"/>
<line x1="1645.8" y1="58.6" x2="1645.8" y2="74.7" stroke="#ee2a72" stroke-width="3.3"/>
<line x1="1645.8" y1="74.7" x2="1645.8" y2="90.7" stroke="#1a78e4" stroke-width="3.3"/>
<line x1="1651.9" y1="56.1" x2="1651.9" y2="75.3" stroke="#ee2a72" stroke-width="3.3"/>
<line x1="1651.9" y1="75.3" x2="1651.9" y2="94.5" stroke="#1a78e4" stroke-width="3.3"/>
<line x1="1658" y1="54.1" x2="1658" y2="76.1" stroke="#ee2a72" stroke-width="3.3"/>
<line x1="1658" y1="76.1" x2="1658" y2="98" stroke="#1a78e4" stroke-width="3.3"/>
<line x1="1664.1" y1="52.4" x2="1664.1" y2="76.8" stroke="#ee2a72" stroke-width="3.3"/>
<line x1="1664.1" y1="76.8" x2="1664.1" y2="101.1" stroke="#1a78e4" stroke-width="3.3"/>
<line x1="1670.2" y1="51.1" x2="1670.2" y2="77.4" stroke="#ee2a72" stroke-width="3.3"/>
<line x1="1670.2" y1="77.4" x2="1670.2" y2="103.6" stroke="#1a78e4" stroke-width="3.3"/>
<line x1="1676.3" y1="50.1" x2="1676.3" y2="77.8" stroke="#ee2a72" stroke-width="3.3"/>
<line x1="1676.3" y1="77.8" x2="1676.3" y2="105.5" stroke="#1a78e4" stroke-width="3.3"/>
<line x1="1682.4" y1="49.8" x2="1682.4" y2="78.1" stroke="#ee2a72" stroke-width="3.3"/>
<line x1="1682.4" y1="78.1" x2="1682.4" y2="106.4" stroke="#1a78e4" stroke-width="3.3"/>
<line x1="1688.5" y1="50.2" x2="1688.5" y2="78.3" stroke="#ee2a72" stroke-width="3.3"/>
<line x1="1688.5" y1="78.3" x2="1688.5" y2="106.4" stroke="#1a78e4" stroke-width="3.3"/>
<line x1="1694.6" y1="51.4" x2="1694.6" y2="78.6" stroke="#ee2a72" stroke-width="3.3"/>
<line x1="1694.6" y1="78.6" x2="1694.6" y2="105.8" stroke="#1a78e4" stroke-width="3.3"/>
<line x1="1700.7" y1="53.5" x2="1700.7" y2="79.1" stroke="#ee2a72" stroke-width="3.3"/>
<line x1="1700.7" y1="79.1" x2="1700.7" y2="104.7" stroke="#1a78e4" stroke-width="3.3"/>
<line x1="1706.8" y1="56.3" x2="1706.8" y2="79.7" stroke="#ee2a72" stroke-width="3.3"/>
<line x1="1706.8" y1="79.7" x2="1706.8" y2="103.1" stroke="#1a78e4" stroke-width="3.3"/>
<line x1="1712.9" y1="60" x2="1712.9" y2="80.5" stroke="#ee2a72" stroke-width="3.3"/>
<line x1="1712.9" y1="80.5" x2="1712.9" y2="101" stroke="#1a78e4" stroke-width="3.3"/>
<line x1="1719" y1="64.7" x2="1719" y2="81.2" stroke="#ee2a72" stroke-width="3.3"/>
<line x1="1719" y1="81.2" x2="1719" y2="97.8" stroke="#1a78e4" stroke-width="3.3"/>
<line x1="1725.1" y1="69.6" x2="1725.1" y2="81.5" stroke="#ee2a72" stroke-width="3.3"/>
<line x1="1725.1" y1="81.5" x2="1725.1" y2="93.4" stroke="#1a78e4" stroke-width="3.3"/>
<line x1="1731.2" y1="73.9" x2="1731.2" y2="81.3" stroke="#ee2a72" stroke-width="3.3"/>
<line x1="1731.2" y1="81.3" x2="1731.2" y2="88.7" stroke="#1a78e4" stroke-width="3.3"/>
<line x1="1737.3" y1="77.9" x2="1737.3" y2="81.3" stroke="#ee2a72" stroke-width="3.3"/>
<line x1="1737.3" y1="81.3" x2="1737.3" y2="84.6" stroke="#1a78e4" stroke-width="3.3"/>
<line x1="1749.5" y1="76.1" x2="1749.5" y2="80.6" stroke="#1a78e4" stroke-width="3.3"/>
<line x1="1749.5" y1="80.6" x2="1749.5" y2="85.1" stroke="#ee2a72" stroke-width="3.3"/>
<line x1="1754.6" y1="69.8" x2="1755.6" y2="79.2" stroke="#1a78e4" stroke-width="3.3"/>
<line x1="1755.6" y1="79.2" x2="1756.6" y2="88.5" stroke="#ee2a72" stroke-width="3.3"/>
<line x1="1760.7" y1="63.3" x2="1761.7" y2="77.6" stroke="#1a78e4" stroke-width="3.3"/>
<line x1="1761.7" y1="77.6" x2="1762.7" y2="91.8" stroke="#ee2a72" stroke-width="3.3"/>
<line x1="1766.8" y1="57.6" x2="1767.8" y2="76.2" stroke="#1a78e4" stroke-width="3.3"/>
<line x1="1767.8" y1="76.2" x2="1768.8" y2="94.8" stroke="#ee2a72" stroke-width="3.3"/>
<line x1="1772.9" y1="53.5" x2="1773.9" y2="75.3" stroke="#1a78e4" stroke-width="3.3"/>
<line x1="1773.9" y1="75.3" x2="1774.9" y2="97.2" stroke="#ee2a72" stroke-width="3.3"/>
<line x1="1779" y1="50.3" x2="1780" y2="74.6" stroke="#1a78e4" stroke-width="3.3"/>
<line x1="1780" y1="74.6" x2="1781" y2="99" stroke="#ee2a72" stroke-width="3.3"/>
<line x1="1785.1" y1="47.9" x2="1786.1" y2="74.1" stroke="#1a78e4" stroke-width="3.3"/>
<line x1="1786.1" y1="74.1" x2="1787.1" y2="100.3" stroke="#ee2a72" stroke-width="3.3"/>
<line x1="1791.2" y1="46.2" x2="1792.2" y2="73.7" stroke="#1a78e4" stroke-width="3.3"/>
<line x1="1792.2" y1="73.7" x2="1793.2" y2="101.1" stroke="#ee2a72" stroke-width="3.3"/>
<line x1="1797.3" y1="45.3" x2="1798.3" y2="73.3" stroke="#1a78e4" stroke-width="3.3"/>
<line x1="1798.3" y1="73.3" x2="1799.3" y2="101.4" stroke="#ee2a72" stroke-width="3.3"/>
<line x1="1803.4" y1="45.1" x2="1804.4" y2="73.2" stroke="#1a78e4" stroke-width="3.3"/>
<line x1="1804.4" y1="73.2" x2="1805.4" y2="101.2" stroke="#ee2a72" stroke-width="3.3"/>
<line x1="1809.5" y1="45.5" x2="1810.5" y2="73.1" stroke="#1a78e4" stroke-width="3.3"/>
<line x1="1810.5" y1="73.1" x2="1811.5" y2="100.6" stroke="#ee2a72" stroke-width="3.3"/>
<line x1="1815.6" y1="46.6" x2="1816.6" y2="72.9" stroke="#1a78e4" stroke-width="3.3"/>
<line x1="1816.6" y1="72.9" x2="1817.6" y2="99.2" stroke="#ee2a72" stroke-width="3.3"/>
<line x1="1821.7" y1="48.1" x2="1822.7" y2="72.6" stroke="#1a78e4" stroke-width="3.3"/>
<line x1="1822.7" y1="72.6" x2="1823.7" y2="97.1" stroke="#ee2a72" stroke-width="3.3"/>
<line x1="1827.8" y1="49.8" x2="1828.8" y2="71.8" stroke="#1a78e4" stroke-width="3.3"/>
<line x1="1828.8" y1="71.8" x2="1829.8" y2="93.8" stroke="#ee2a72" stroke-width="3.3"/>
<line x1="1833.9" y1="51.6" x2="1834.9" y2="70.6" stroke="#1a78e4" stroke-width="3.3"/>
<line x1="1834.9" y1="70.6" x2="1835.9" y2="89.6" stroke="#ee2a72" stroke-width="3.3"/>
<line x1="1840" y1="53.9" x2="1841" y2="69.4" stroke="#1a78e4" stroke-width="3.3"/>
<line x1="1841" y1="69.4" x2="1842" y2="84.9" stroke="#ee2a72" stroke-width="3.3"/>
<line x1="1846.1" y1="56.4" x2="1847.1" y2="68.3" stroke="#1a78e4" stroke-width="3.3"/>
<line x1="1847.1" y1="68.3" x2="1848.1" y2="80.1" stroke="#ee2a72" stroke-width="3.3"/>
<line x1="1852.2" y1="58.9" x2="1853.2" y2="67.2" stroke="#1a78e4" stroke-width="3.3"/>
<line x1="1853.2" y1="67.2" x2="1854.2" y2="75.5" stroke="#ee2a72" stroke-width="3.3"/>
<line x1="1858.3" y1="61.1" x2="1859.3" y2="65.9" stroke="#1a78e4" stroke-width="3.3"/>
<line x1="1859.3" y1="65.9" x2="1860.3" y2="70.7" stroke="#ee2a72" stroke-width="3.3"/>
<line x1="1864.4" y1="62.8" x2="1865.4" y2="64.2" stroke="#1a78e4" stroke-width="3.3"/>
<line x1="1865.4" y1="64.2" x2="1866.4" y2="65.5" stroke="#ee2a72" stroke-width="3.3"/>
<line x1="1870.5" y1="59.7" x2="1871.5" y2="62.1" stroke="#ee2a72" stroke-width="3.3"/>
<line x1="1871.5" y1="62.1" x2="1872.5" y2="64.4" stroke="#1a78e4" stroke-width="3.3"/>
<line x1="1876.6" y1="53.3" x2="1877.6" y2="59.7" stroke="#ee2a72" stroke-width="3.3"/>
<line x1="1877.6" y1="59.7" x2="1878.6" y2="66" stroke="#1a78e4" stroke-width="3.3"/>
<line x1="1882.7" y1="46.4" x2="1883.7" y2="57" stroke="#ee2a72" stroke-width="3.3"/>
<line x1="1883.7" y1="57" x2="1884.7" y2="67.5" stroke="#1a78e4" stroke-width="3.3"/>
<line x1="1888.8" y1="38.8" x2="1889.8" y2="53.8" stroke="#ee2a72" stroke-width="3.3"/>
<line x1="1889.8" y1="53.8" x2="1890.8" y2="68.8" stroke="#1a78e4" stroke-width="3.3"/>
<line x1="1894.9" y1="30.6" x2="1895.9" y2="50.2" stroke="#ee2a72" stroke-width="3.3"/>
<line x1="1895.9" y1="50.2" x2="1896.9" y2="69.9" stroke="#1a78e4" stroke-width="3.3"/>
<line x1="1901" y1="49.9" x2="1902" y2="60.3" stroke="#ee2a72" stroke-width="3.3"/>
<line x1="1902" y1="60.3" x2="1903" y2="70.8" stroke="#1a78e4" stroke-width="3.3"/>
<path d="M1532.3,63.4L1533.1,62.4L1534.2,61L1535.4,59.5L1536.7,57.7L1538.2,55.8L1539.8,53.8L1541.4,51.7L1543.1,49.7L1544.8,47.6L1546.4,45.7L1548.1,43.9L1549.7,42.3L1551.3,40.8L1552.9,39.2L1554.5,37.6L1556.2,36.1L1557.9,34.6L1559.6,33.1L1561.3,31.8L1563,30.6L1564.7,29.5L1566.4,28.6L1568,27.9L1569.6,27.4L1571.1,27.1L1572.6,27L1574.1,27.1L1575.5,27.3L1577,27.6L1578.4,28.1L1579.8,28.7L1581.3,29.5L1582.7,30.3L1584.1,31.3L1585.5,32.4L1587,33.6L1588.4,35L1589.8,36.6L1591.2,38.5L1592.7,40.5L1594.1,42.6L1595.5,44.9L1596.9,47.1L1598.4,49.3L1599.8,51.5L1601.3,53.6L1602.8,55.5L1604.3,57.2L1605.9,58.7L1607.5,60.2L1609.1,61.5L1610.8,62.7L1612.5,63.9L1614.1,65L1615.8,66.2L1617.5,67.3L1619.2,68.4L1620.9,69.6L1622.6,70.8L1624.2,72.1L1625.9,73.5L1627.5,74.9L1629.1,76.4L1630.7,77.9L1632.3,79.4L1633.9,80.9L1635.5,82.4L1637.1,83.9L1638.8,85.4L1640.5,86.8L1642.3,88.2L1644.1,89.5L1646,90.8L1648,92.1L1650.1,93.4L1652.2,94.7L1654.4,96L1656.5,97.2L1658.7,98.4L1660.8,99.5L1663,100.6L1665,101.5L1667,102.4L1668.9,103.2L1670.8,103.8L1672.5,104.4L1674.1,104.9L1675.8,105.3L1677.3,105.7L1678.9,106L1680.4,106.2L1682,106.4L1683.6,106.5L1685.3,106.5L1687,106.5L1688.8,106.4L1690.7,106.3L1692.7,106.1L1694.8,105.8L1696.9,105.4L1699.1,105.1L1701.2,104.6L1703.4,104.1L1705.6,103.5L1707.7,102.9L1709.8,102.2L1711.8,101.5L1713.7,100.7L1715.5,99.8L1717.3,98.8L1719.1,97.7L1720.8,96.6L1722.6,95.4L1724.2,94.1L1725.9,92.9L1727.5,91.6L1729,90.4L1730.6,89.2L1732.1,88.1L1733.5,87L1734.9,86.1L1736.3,85.3L1737.5,84.5L1738.7,83.8L1739.9,83.1L1741,82.4L1742.1,81.7L1743.3,81L1744.5,80.2L1745.7,79.3L1747,78.2L1748.4,77.1L1749.9,75.7L1751.5,74.2L1753.1,72.6L1754.7,70.8L1756.4,69L1758.1,67.1L1759.8,65.3L1761.5,63.5L1763.2,61.7L1765,60.1L1766.7,58.5L1768.3,57.2L1770,56L1771.6,54.9L1773.3,53.8L1774.9,52.9L1776.6,52L1778.3,51.1L1779.9,50.3L1781.6,49.6L1783.2,49L1784.9,48.3L1786.5,47.8L1788.2,47.3L1789.8,46.8L1791.5,46.4L1793.1,46L1794.6,45.7L1796.2,45.5L1797.8,45.3L1799.4,45.2L1801.1,45.1L1802.8,45L1804.5,45.1L1806.2,45.2L1808.1,45.3L1810,45.5L1812,45.8L1814,46.1L1816.1,46.5L1818.2,47L1820.3,47.5L1822.5,48L1824.6,48.6L1826.8,49.2L1828.9,49.8L1830.9,50.4L1832.9,51L1834.9,51.6L1836.9,52.3L1838.9,53.1L1840.9,53.9L1842.9,54.7L1844.9,55.5L1846.8,56.3L1848.7,57L1850.4,57.8L1852.2,58.5L1853.8,59.1L1855.3,59.7L1856.6,60.2L1857.8,60.6L1858.9,60.9L1859.9,61.3L1860.8,61.5L1861.6,61.8L1862.5,62L1863.4,62.3L1864.3,62.5L1865.3,62.8L1866.4,63.1L1867.7,63.4L1869.1,63.8L1870.6,64.2L1872.1,64.6L1873.8,65L1875.5,65.5L1877.2,65.9L1878.9,66.4L1880.7,66.8L1882.4,67.2L1884.2,67.6L1885.9,68L1887.6,68.4L1889.3,68.7L1891.1,69.1L1893,69.4L1894.9,69.7L1896.9,70L1898.8,70.3L1900.6,70.6L1902.3,70.8L1903.9,71.1L1905.3,71.3L1906.5,71.5L1907.5,71.6" fill="none" stroke="#1a78e4" stroke-width="3.6" stroke-linecap="round" stroke-linejoin="round"/>
<path d="M1514.9,48.5L1515.7,49.2L1516.7,50.1L1517.9,51.2L1519.2,52.4L1520.7,53.7L1522.2,55L1523.8,56.5L1525.5,57.9L1527.2,59.3L1528.9,60.8L1530.6,62.1L1532.3,63.4L1534,64.7L1535.7,66L1537.4,67.3L1539.2,68.7L1541,70L1542.9,71.4L1544.7,72.7L1546.7,74L1548.6,75.2L1550.6,76.3L1552.6,77.4L1554.7,78.3L1556.8,79.2L1559,80L1561.2,80.8L1563.5,81.5L1565.8,82.2L1568.2,82.8L1570.5,83.3L1572.9,83.8L1575.2,84.2L1577.5,84.6L1579.8,84.8L1582,85L1584.2,85.1L1586.4,85.2L1588.5,85.1L1590.7,85L1592.9,84.8L1595,84.6L1597.1,84.3L1599.2,83.9L1601.2,83.5L1603.2,83.1L1605,82.6L1606.8,82L1608.5,81.5L1610.1,80.9L1611.5,80.2L1612.9,79.4L1614.2,78.7L1615.5,77.8L1616.8,77L1618.2,76.1L1619.5,75.1L1621,74.1L1622.5,73.1L1624.2,72.1L1626,71L1627.8,69.8L1629.7,68.6L1631.7,67.2L1633.7,65.9L1635.7,64.5L1637.8,63.1L1640,61.8L1642.2,60.5L1644.4,59.3L1646.7,58.2L1649.1,57.2L1651.5,56.3L1654.1,55.4L1656.8,54.5L1659.6,53.7L1662.4,52.9L1665.2,52.2L1668.1,51.5L1670.9,50.9L1673.6,50.5L1676.3,50.1L1678.9,49.9L1681.4,49.8L1683.7,49.8L1686,49.9L1688.2,50.1L1690.3,50.4L1692.4,50.9L1694.4,51.4L1696.4,52L1698.4,52.7L1700.3,53.4L1702.3,54.2L1704.3,55.1L1706.2,56L1708.2,57L1710.1,58.1L1712,59.4L1713.9,60.7L1715.8,62.2L1717.7,63.6L1719.6,65.1L1721.4,66.6L1723.2,68.1L1725,69.5L1726.8,70.9L1728.6,72.1L1730.3,73.3L1732,74.4L1733.6,75.5L1735.2,76.5L1736.8,77.6L1738.4,78.6L1739.9,79.5L1741.5,80.5L1743.2,81.5L1744.9,82.5L1746.6,83.5L1748.4,84.5L1750.3,85.6L1752.3,86.7L1754.3,87.8L1756.4,89L1758.4,90.1L1760.6,91.2L1762.7,92.3L1764.8,93.4L1767,94.4L1769.1,95.3L1771.2,96.2L1773.3,97L1775.4,97.6L1777.4,98.3L1779.5,98.8L1781.6,99.4L1783.6,99.8L1785.7,100.2L1787.8,100.6L1789.9,100.9L1791.9,101.1L1794,101.3L1796.1,101.4L1798.1,101.4L1800.2,101.4L1802.3,101.4L1804.3,101.2L1806.4,101.1L1808.5,100.9L1810.6,100.6L1812.6,100.2L1814.7,99.7L1816.8,99.2L1818.8,98.6L1820.9,97.8L1823,97L1825.1,96L1827.2,94.8L1829.3,93.5L1831.4,92.1L1833.6,90.6L1835.7,89L1837.8,87.4L1839.9,85.7L1842,84.1L1844,82.5L1845.9,81L1847.8,79.6L1849.7,78.2L1851.5,76.8L1853.2,75.5L1854.9,74.2L1856.6,72.9L1858.2,71.6L1859.8,70.3L1861.4,68.9L1863,67.6L1864.6,66.2L1866.1,64.8L1867.7,63.4L1869.3,61.9L1870.8,60.4L1872.4,58.8L1874,57.2L1875.5,55.6L1877,53.9L1878.5,52.3L1879.9,50.7L1881.3,49.1L1882.7,47.6L1883.9,46.2L1885.1,44.8L1886.2,43.4L1887.3,42.1L1888.3,40.7L1889.3,39.4L1890.3,38.1L1891.1,36.9L1892,35.7L1892.7,34.7L1893.4,33.7L1894,32.8L1894.6,32L1895,31.4L1895,31.4L1896.8,29.9L1898.5,32.9L1902.5,52.2L1907.5,69.6" fill="none" stroke="#ee2a72" stroke-width="3.6" stroke-linecap="round" stroke-linejoin="round"/>
<path d="M1954.5,74.5L1950.3,79.4L1951.5,85.8L1945.4,87.9L1943.2,94L1936.9,92.8L1932,97L1927.1,92.8L1920.8,94L1918.6,87.9L1912.5,85.8L1913.7,79.4L1909.5,74.5L1913.7,69.6L1912.5,63.3L1918.6,61.1L1920.8,55L1927.1,56.2L1932,52L1936.9,56.2L1943.2,55L1945.4,61.1L1951.5,63.2L1950.3,69.6Z" fill="#14e014" stroke="#14e014" stroke-width="2" stroke-linejoin="round"/>
<circle cx="1926" cy="66.5" r="3" fill="#2a8ab0"/>
<circle cx="1935" cy="71.5" r="2.5" fill="#2a8ab0"/>
<circle cx="1924" cy="80.5" r="2.5" fill="#2a8ab0"/>
<circle cx="1938" cy="83.5" r="2.2" fill="#30a070"/>
<g stroke-linecap="round" fill="none" filter="url(#soft)">
<path d="M771.2,540.4L774.1,540.4M771.4,531L774.3,531.1M770.9,549.8L773.9,549.8M770.6,559.2L773.7,559.2M770.4,568.5L773.5,568.6M770.1,577.9L773.3,577.9M773,587.3L769.8,587.3M775.5,545.1L778.5,545.2M775.7,535.8L778.6,535.8M775.4,554.5L778.4,554.5M775.2,563.9L778.4,563.9M775.1,573.3L778.3,573.3M774.7,582.6L778,582.6M777.6,592L774.4,592M780,540.5L783,540.5M780.1,531.1L782.9,531.2M780,549.9L783,549.9M779.9,559.2L783.1,559.2M779.9,568.6L783.1,568.6M779.8,578L783,578M782.6,587.3L779.4,587.3M784.5,545.2L787.5,545.3M784.4,535.9L787.3,535.9M784.6,554.6L787.6,554.6M784.6,563.9L787.8,564M784.7,573.3L787.9,573.3M784.4,582.6L787.6,582.7M787.2,592L784,592M788.9,540.6L791.8,540.6M788.7,531.3L791.6,531.3M789.1,549.9L792.1,550M789.3,559.3L792.4,559.3M789.5,568.6L792.6,568.7M789.4,578L792.7,578M792.2,587.3L789,587.3M793.5,545.3L796.4,545.3M793.1,536L796.1,536M793.8,554.7L796.8,554.7M794.1,564L797.2,564M794.4,573.3L797.6,573.3M794.1,582.7L797.3,582.7M796.8,592L793.6,592M797.7,540.7L800.7,540.7M797.3,531.4L800.2,531.4M798.2,550L801.2,550.1M798.6,559.4L801.7,559.4M799,568.7L802.2,568.7M799.1,578L802.3,578M801.9,587.3L798.7,587.3M802.4,545.4L805.4,545.4M801.9,536.1L804.8,536.1M803,554.7L806,554.7M803.5,564L806.7,564.1M804.1,573.4L807.3,573.4M803.7,582.7L806.9,582.7M806.4,592L803.2,592M806.6,540.8L809.5,540.8M805.9,531.5L808.8,531.5M807.2,550.1L810.3,550.1M807.9,559.4L811,559.4M808.6,568.7L811.7,568.7M808.8,578L812,578M811.5,587.3L808.3,587.3M811.4,545.5L814.4,545.5M810.6,536.2L813.5,536.2M812.2,554.8L815.2,554.8M812.9,564.1L816.1,564.1M813.7,573.4L816.9,573.4M813.4,582.7L816.6,582.7M816.1,592L812.9,592M815.4,540.9L818.4,540.9M814.5,531.6L817.4,531.6M816.3,550.2L819.4,550.2M817.2,559.5L820.3,559.5M818.1,568.8L821.3,568.8M818.5,578.1L821.7,578.1M821.1,587.4L817.9,587.4M820.4,545.6L823.4,545.6M819.4,536.3L822.3,536.3M821.4,554.9L824.4,554.9M822.4,564.2L825.5,564.2M823.4,573.4L826.6,573.4M823,582.7L826.2,582.7M825.7,592L822.5,592M824.3,541L827.2,541M823.2,531.7L826,531.8M825.4,550.3L828.4,550.3M826.5,559.5L829.6,559.6M827.7,568.8L830.8,568.8M828.1,578.1L831.4,578.1M830.8,587.4L827.6,587.4M829.3,545.7L832.3,545.7M828.1,536.4L831,536.4M830.6,554.9L833.6,555M831.8,564.2L835,564.2M833,573.5L836.3,573.5M832.7,582.7L835.9,582.7M835.3,592L832.1,592M833.1,541.1L836.1,541.1M831.8,531.8L834.7,531.9M834.5,550.3L837.5,550.4M835.9,559.6L839,559.6M837.2,568.9L840.4,568.9M837.8,578.1L841,578.1M840.4,587.4L837.2,587.4M838.3,545.8L841.3,545.8M836.8,536.5L839.7,536.6M839.8,555L842.8,555M841.2,564.3L844.4,564.3M842.7,573.5L845.9,573.5M842.3,582.8L845.6,582.8M844.9,592L841.7,592M842,541.2L844.9,541.2M840.4,532L843.3,532M843.6,550.4L846.6,550.5M845.2,559.7L848.3,559.7M846.8,568.9L849.9,568.9M847.5,578.1L850.7,578.2M850,587.4L846.8,587.4M847.3,545.9L850.3,545.9M845.6,536.6L848.5,536.7M849,555.1L852,555.1M850.7,564.3L853.8,564.3M852.4,573.5L855.6,573.6M852,582.8L855.2,582.8M854.5,592L851.3,592M850.8,541.3L853.8,541.3M849,532.1L851.9,532.1M852.7,550.5L855.7,550.5M854.5,559.7L857.6,559.7M856.3,568.9L859.5,569M857.2,578.2L860.4,578.2M859.7,587.4L856.5,587.4M856.2,545.9L859.2,546M854.3,536.7L857.2,536.8M858.2,555.2L861.2,555.2M860.1,564.4L863.3,564.4M862,573.6L865.3,573.6M861.6,582.8L864.9,582.8M864.1,592L860.9,592M859.7,541.4L862.7,541.4M857.7,532.2L860.5,532.2M861.8,550.6L864.8,550.6M863.8,559.8L866.9,559.8M865.9,569L869,569M866.9,578.2L870.1,578.2M869.3,587.4L866.1,587.4M865.2,546L868.2,546.1M863,536.8L866,536.9M867.4,555.2L870.4,555.3M869.5,564.4L872.7,564.4M871.7,573.6L874.9,573.6M871.3,582.8L874.5,582.8M873.7,592L870.5,592M868.6,541.5L871.5,541.5M866.3,532.3L869.1,532.3M870.8,550.7L873.9,550.7M873.1,559.9L876.2,559.9M875.4,569L878.6,569.1M876.5,578.2L879.8,578.2M878.9,587.4L875.7,587.4M874.2,546.1L877.2,546.2M871.8,536.9L874.7,537M876.6,555.3L879.6,555.3M879,564.5L882.1,564.5M881.4,573.6L884.6,573.7M881,582.8L884.2,582.8M883.3,592L880.1,592M877.4,541.6L880.4,541.6M874.9,532.4L877.8,532.5M879.9,550.8L883,550.8M882.4,559.9L885.5,559.9M885,569.1L888.1,569.1M886.2,578.3L889.4,578.3M888.6,587.4L885.4,587.4M883.1,546.2L886.1,546.2M880.5,537.1L883.4,537.1M885.8,555.4L888.8,555.4M888.4,564.5L891.6,564.5M891,573.7L894.3,573.7M890.6,582.8L893.8,582.8M893,592L889.7,592M886.3,541.7L889.2,541.7M883.5,532.5L886.4,532.6M889,550.8L892,550.9M891.8,560L894.9,560M894.5,569.1L897.7,569.1M895.9,578.3L899.1,578.3M898.2,587.4L895,587.4M892.1,546.3L895.1,546.3M889.3,537.2L892.2,537.2M895,555.4L898,555.5M897.8,564.6L901,564.6M900.7,573.7L903.9,573.7M900.3,582.9L903.5,582.9M902.6,592L899.4,592M895.1,541.8L898.1,541.8M892.1,532.7L895,532.7M898.1,550.9L901.1,550.9M901.1,560L904.2,560.1M904,569.2L907.2,569.2M905.6,578.3L908.8,578.3M907.8,587.4L904.6,587.4M901.1,546.4L904.1,546.4M898,537.3L900.9,537.3M904.2,555.5L907.2,555.5M907.3,564.6L910.4,564.7M910.4,573.8L913.6,573.8M909.9,582.9L913.1,582.9M912.2,592L909,592M904,541.9L906.9,541.9M900.8,532.8L903.6,532.8M907.2,551L910.2,551M910.4,560.1L913.5,560.1M913.6,569.2L916.8,569.2M915.2,578.3L918.5,578.3M917.5,587.4L914.3,587.4M910.1,546.5L913,546.5M906.7,537.4L909.6,537.4M913.4,555.6L916.5,555.6M916.7,564.7L919.9,564.7M920,573.8L923.3,573.8M919.6,582.9L922.8,582.9M921.8,592L918.6,592M912.8,542L915.8,542M909.4,532.9L912.3,532.9M916.3,551.1L919.3,551.1M919.7,560.2L922.8,560.2M923.1,569.3L926.3,569.3M924.9,578.4L928.1,578.4M927.1,587.5L923.9,587.5M919,546.6L922,546.6M915.5,537.5L918.4,537.5M922.6,555.7L925.7,555.7M926.1,564.7L929.3,564.8M929.7,573.8L932.9,573.8M929.2,582.9L932.5,582.9M931.4,592L928.2,592M774.1,540.4L775.7,535.8M771.2,540.4L769.8,535.7M769.8,535.7L771.4,531M774.3,531.1L775.7,535.8M773.9,549.8L775.5,545.1M770.9,549.8L769.5,545.1M769.5,545.1L771.2,540.4M775.5,545.1L774.1,540.4M773.7,559.2L775.4,554.5M770.6,559.2L769.2,554.5M769.2,554.5L770.9,549.8M775.4,554.5L773.9,549.8M773.5,568.6L775.2,563.9M770.4,568.5L768.9,563.8M768.9,563.8L770.6,559.2M775.2,563.9L773.7,559.2M773.3,577.9L775.1,573.3M770.1,577.9L768.6,573.2M768.6,573.2L770.4,568.5M775.1,573.3L773.5,568.6M773,587.3L774.7,582.6M769.8,587.3L768.3,582.6M768.3,582.6L770.1,577.9M774.7,582.6L773.3,577.9M778.5,545.2L780,540.5M780,540.5L778.6,535.8M778.4,554.5L780,549.9M780,549.9L778.5,545.2M778.4,563.9L779.9,559.2M779.9,559.2L778.4,554.5M778.3,573.3L779.9,568.6M779.9,568.6L778.4,563.9M778,582.6L779.8,578M779.8,578L778.3,573.3M779.4,587.3L777.6,592M774.4,592L773,587.3M779.4,587.3L778,582.6M783,540.5L784.4,535.9M778.6,535.8L780.1,531.1M782.9,531.2L784.4,535.9M783,549.9L784.5,545.2M784.5,545.2L783,540.5M783.1,559.2L784.6,554.6M784.6,554.6L783,549.9M783.1,568.6L784.6,563.9M784.6,563.9L783.1,559.2M783,578L784.7,573.3M784.7,573.3L783.1,568.6M782.6,587.3L784.4,582.6M784.4,582.6L783,578M787.5,545.3L788.9,540.6M788.9,540.6L787.3,535.9M787.6,554.6L789.1,549.9M789.1,549.9L787.5,545.3M787.8,564L789.3,559.3M789.3,559.3L787.6,554.6M787.9,573.3L789.5,568.6M789.5,568.6L787.8,564M787.6,582.7L789.4,578M789.4,578L787.9,573.3M789,587.3L787.2,592M784,592L782.6,587.3M789,587.3L787.6,582.7M791.8,540.6L793.1,536M787.3,535.9L788.7,531.3M791.6,531.3L793.1,536M792.1,550L793.5,545.3M793.5,545.3L791.8,540.6M792.4,559.3L793.8,554.7M793.8,554.7L792.1,550M792.6,568.7L794.1,564M794.1,564L792.4,559.3M792.7,578L794.4,573.3M794.4,573.3L792.6,568.7M792.2,587.3L794.1,582.7M794.1,582.7L792.7,578M796.4,545.3L797.7,540.7M797.7,540.7L796.1,536M796.8,554.7L798.2,550M798.2,550L796.4,545.3M797.2,564L798.6,559.4M798.6,559.4L796.8,554.7M797.6,573.3L799,568.7M799,568.7L797.2,564M797.3,582.7L799.1,578M799.1,578L797.6,573.3M798.7,587.3L796.8,592M793.6,592L792.2,587.3M798.7,587.3L797.3,582.7M800.7,540.7L801.9,536.1M796.1,536L797.3,531.4M800.2,531.4L801.9,536.1M801.2,550.1L802.4,545.4M802.4,545.4L800.7,540.7M801.7,559.4L803,554.7M803,554.7L801.2,550.1M802.2,568.7L803.5,564M803.5,564L801.7,559.4M802.3,578L804.1,573.4M804.1,573.4L802.2,568.7M801.9,587.3L803.7,582.7M803.7,582.7L802.3,578M805.4,545.4L806.6,540.8M806.6,540.8L804.8,536.1M806,554.7L807.2,550.1M807.2,550.1L805.4,545.4M806.7,564.1L807.9,559.4M807.9,559.4L806,554.7M807.3,573.4L808.6,568.7M808.6,568.7L806.7,564.1M806.9,582.7L808.8,578M808.8,578L807.3,573.4M808.3,587.3L806.4,592M803.2,592L801.9,587.3M808.3,587.3L806.9,582.7M809.5,540.8L810.6,536.2M804.8,536.1L805.9,531.5M808.8,531.5L810.6,536.2M810.3,550.1L811.4,545.5M811.4,545.5L809.5,540.8M811,559.4L812.2,554.8M812.2,554.8L810.3,550.1M811.7,568.7L812.9,564.1M812.9,564.1L811,559.4M812,578L813.7,573.4M813.7,573.4L811.7,568.7M811.5,587.3L813.4,582.7M813.4,582.7L812,578M814.4,545.5L815.4,540.9M815.4,540.9L813.5,536.2M815.2,554.8L816.3,550.2M816.3,550.2L814.4,545.5M816.1,564.1L817.2,559.5M817.2,559.5L815.2,554.8M816.9,573.4L818.1,568.8M818.1,568.8L816.1,564.1M816.6,582.7L818.5,578.1M818.5,578.1L816.9,573.4M817.9,587.4L816.1,592M812.9,592L811.5,587.3M817.9,587.4L816.6,582.7M818.4,540.9L819.4,536.3M813.5,536.2L814.5,531.6M817.4,531.6L819.4,536.3M819.4,550.2L820.4,545.6M820.4,545.6L818.4,540.9M820.3,559.5L821.4,554.9M821.4,554.9L819.4,550.2M821.3,568.8L822.4,564.2M822.4,564.2L820.3,559.5M821.7,578.1L823.4,573.4M823.4,573.4L821.3,568.8M821.1,587.4L823,582.7M823,582.7L821.7,578.1M823.4,545.6L824.3,541M824.3,541L822.3,536.3M824.4,554.9L825.4,550.3M825.4,550.3L823.4,545.6M825.5,564.2L826.5,559.5M826.5,559.5L824.4,554.9M826.6,573.4L827.7,568.8M827.7,568.8L825.5,564.2M826.2,582.7L828.1,578.1M828.1,578.1L826.6,573.4M827.6,587.4L825.7,592M822.5,592L821.1,587.4M827.6,587.4L826.2,582.7M827.2,541L828.1,536.4M822.3,536.3L823.2,531.7M826,531.8L828.1,536.4M828.4,550.3L829.3,545.7M829.3,545.7L827.2,541M829.6,559.6L830.6,554.9M830.6,554.9L828.4,550.3M830.8,568.8L831.8,564.2M831.8,564.2L829.6,559.6M831.4,578.1L833,573.5M833,573.5L830.8,568.8M830.8,587.4L832.7,582.7M832.7,582.7L831.4,578.1M832.3,545.7L833.1,541.1M833.1,541.1L831,536.4M833.6,555L834.5,550.3M834.5,550.3L832.3,545.7M835,564.2L835.9,559.6M835.9,559.6L833.6,555M836.3,573.5L837.2,568.9M837.2,568.9L835,564.2M835.9,582.7L837.8,578.1M837.8,578.1L836.3,573.5M837.2,587.4L835.3,592M832.1,592L830.8,587.4M837.2,587.4L835.9,582.7M836.1,541.1L836.8,536.5M831,536.4L831.8,531.8M834.7,531.9L836.8,536.5M837.5,550.4L838.3,545.8M838.3,545.8L836.1,541.1M839,559.6L839.8,555M839.8,555L837.5,550.4M840.4,568.9L841.2,564.3M841.2,564.3L839,559.6M841,578.1L842.7,573.5M842.7,573.5L840.4,568.9M840.4,587.4L842.3,582.8M842.3,582.8L841,578.1M841.3,545.8L842,541.2M842,541.2L839.7,536.6M842.8,555L843.6,550.4M843.6,550.4L841.3,545.8M844.4,564.3L845.2,559.7M845.2,559.7L842.8,555M845.9,573.5L846.8,568.9M846.8,568.9L844.4,564.3M845.6,582.8L847.5,578.1M847.5,578.1L845.9,573.5M846.8,587.4L844.9,592M841.7,592L840.4,587.4M846.8,587.4L845.6,582.8M844.9,541.2L845.6,536.6M839.7,536.6L840.4,532M843.3,532L845.6,536.6M846.6,550.5L847.3,545.9M847.3,545.9L844.9,541.2M848.3,559.7L849,555.1M849,555.1L846.6,550.5M849.9,568.9L850.7,564.3M850.7,564.3L848.3,559.7M850.7,578.2L852.4,573.5M852.4,573.5L849.9,568.9M850,587.4L852,582.8M852,582.8L850.7,578.2M850.3,545.9L850.8,541.3M850.8,541.3L848.5,536.7M852,555.1L852.7,550.5M852.7,550.5L850.3,545.9M853.8,564.3L854.5,559.7M854.5,559.7L852,555.1M855.6,573.6L856.3,568.9M856.3,568.9L853.8,564.3M855.2,582.8L857.2,578.2M857.2,578.2L855.6,573.6M856.5,587.4L854.5,592M851.3,592L850,587.4M856.5,587.4L855.2,582.8M853.8,541.3L854.3,536.7M848.5,536.7L849,532.1M851.9,532.1L854.3,536.7M855.7,550.5L856.2,545.9M856.2,545.9L853.8,541.3M857.6,559.7L858.2,555.2M858.2,555.2L855.7,550.5M859.5,569L860.1,564.4M860.1,564.4L857.6,559.7M860.4,578.2L862,573.6M862,573.6L859.5,569M859.7,587.4L861.6,582.8M861.6,582.8L860.4,578.2M859.2,546L859.7,541.4M859.7,541.4L857.2,536.8M861.2,555.2L861.8,550.6M861.8,550.6L859.2,546M863.3,564.4L863.8,559.8M863.8,559.8L861.2,555.2M865.3,573.6L865.9,569M865.9,569L863.3,564.4M864.9,582.8L866.9,578.2M866.9,578.2L865.3,573.6M866.1,587.4L864.1,592M860.9,592L859.7,587.4M866.1,587.4L864.9,582.8M862.7,541.4L863,536.8M857.2,536.8L857.7,532.2M860.5,532.2L863,536.8M864.8,550.6L865.2,546M865.2,546L862.7,541.4M866.9,559.8L867.4,555.2M867.4,555.2L864.8,550.6M869,569L869.5,564.4M869.5,564.4L866.9,559.8M870.1,578.2L871.7,573.6M871.7,573.6L869,569M869.3,587.4L871.3,582.8M871.3,582.8L870.1,578.2M868.2,546.1L868.6,541.5M868.6,541.5L866,536.9M870.4,555.3L870.8,550.7M870.8,550.7L868.2,546.1M872.7,564.4L873.1,559.9M873.1,559.9L870.4,555.3M874.9,573.6L875.4,569M875.4,569L872.7,564.4M874.5,582.8L876.5,578.2M876.5,578.2L874.9,573.6M875.7,587.4L873.7,592M870.5,592L869.3,587.4M875.7,587.4L874.5,582.8M871.5,541.5L871.8,536.9M866,536.9L866.3,532.3M869.1,532.3L871.8,536.9M873.9,550.7L874.2,546.1M874.2,546.1L871.5,541.5M876.2,559.9L876.6,555.3M876.6,555.3L873.9,550.7M878.6,569.1L879,564.5M879,564.5L876.2,559.9M879.8,578.2L881.4,573.6M881.4,573.6L878.6,569.1M878.9,587.4L881,582.8M881,582.8L879.8,578.2M877.2,546.2L877.4,541.6M877.4,541.6L874.7,537M879.6,555.3L879.9,550.8M879.9,550.8L877.2,546.2M882.1,564.5L882.4,559.9M882.4,559.9L879.6,555.3M884.6,573.7L885,569.1M885,569.1L882.1,564.5M884.2,582.8L886.2,578.3M886.2,578.3L884.6,573.7M885.4,587.4L883.3,592M880.1,592L878.9,587.4M885.4,587.4L884.2,582.8M880.4,541.6L880.5,537.1M874.7,537L874.9,532.4M877.8,532.5L880.5,537.1M883,550.8L883.1,546.2M883.1,546.2L880.4,541.6M885.5,559.9L885.8,555.4M885.8,555.4L883,550.8M888.1,569.1L888.4,564.5M888.4,564.5L885.5,559.9M889.4,578.3L891,573.7M891,573.7L888.1,569.1M888.6,587.4L890.6,582.8M890.6,582.8L889.4,578.3M886.1,546.2L886.3,541.7M886.3,541.7L883.4,537.1M888.8,555.4L889,550.8M889,550.8L886.1,546.2M891.6,564.5L891.8,560M891.8,560L888.8,555.4M894.3,573.7L894.5,569.1M894.5,569.1L891.6,564.5M893.8,582.8L895.9,578.3M895.9,578.3L894.3,573.7M895,587.4L893,592M889.7,592L888.6,587.4M895,587.4L893.8,582.8M889.2,541.7L889.3,537.2M883.4,537.1L883.5,532.5M886.4,532.6L889.3,537.2M892,550.9L892.1,546.3M892.1,546.3L889.2,541.7M894.9,560L895,555.4M895,555.4L892,550.9M897.7,569.1L897.8,564.6M897.8,564.6L894.9,560M899.1,578.3L900.7,573.7M900.7,573.7L897.7,569.1M898.2,587.4L900.3,582.9M900.3,582.9L899.1,578.3M895.1,546.3L895.1,541.8M895.1,541.8L892.2,537.2M898,555.5L898.1,550.9M898.1,550.9L895.1,546.3M901,564.6L901.1,560M901.1,560L898,555.5M903.9,573.7L904,569.2M904,569.2L901,564.6M903.5,582.9L905.6,578.3M905.6,578.3L903.9,573.7M904.6,587.4L902.6,592M899.4,592L898.2,587.4M904.6,587.4L903.5,582.9M898.1,541.8L898,537.3M892.2,537.2L892.1,532.7M895,532.7L898,537.3M901.1,550.9L901.1,546.4M901.1,546.4L898.1,541.8M904.2,560.1L904.2,555.5M904.2,555.5L901.1,550.9M907.2,569.2L907.3,564.6M907.3,564.6L904.2,560.1M908.8,578.3L910.4,573.8M910.4,573.8L907.2,569.2M907.8,587.4L909.9,582.9M909.9,582.9L908.8,578.3M904.1,546.4L904,541.9M904,541.9L900.9,537.3M907.2,555.5L907.2,551M907.2,551L904.1,546.4M910.4,564.7L910.4,560.1M910.4,560.1L907.2,555.5M913.6,573.8L913.6,569.2M913.6,569.2L910.4,564.7M913.1,582.9L915.2,578.3M915.2,578.3L913.6,573.8M914.3,587.4L912.2,592M909,592L907.8,587.4M914.3,587.4L913.1,582.9M906.9,541.9L906.7,537.4M900.9,537.3L900.8,532.8M903.6,532.8L906.7,537.4M910.2,551L910.1,546.5M910.1,546.5L906.9,541.9M913.5,560.1L913.4,555.6M913.4,555.6L910.2,551M916.8,569.2L916.7,564.7M916.7,564.7L913.5,560.1M918.5,578.3L920,573.8M920,573.8L916.8,569.2M917.5,587.4L919.6,582.9M919.6,582.9L918.5,578.3M913,546.5L912.8,542M912.8,542L909.6,537.4M916.5,555.6L916.3,551.1M916.3,551.1L913,546.5M919.9,564.7L919.7,560.2M919.7,560.2L916.5,555.6M923.3,573.8L923.1,569.3M923.1,569.3L919.9,564.7M922.8,582.9L924.9,578.4M924.9,578.4L923.3,573.8M923.9,587.5L921.8,592M918.6,592L917.5,587.4M923.9,587.5L922.8,582.9M915.8,542L915.5,537.5M909.6,537.4L909.4,532.9M912.3,532.9L915.5,537.5M919.3,551.1L919,546.6M919,546.6L915.8,542M922.8,560.2L922.6,555.7M922.6,555.7L919.3,551.1M926.3,569.3L926.1,564.7M926.1,564.7L922.8,560.2M928.1,578.4L929.7,573.8M929.7,573.8L926.3,569.3M927.1,587.5L929.2,582.9M929.2,582.9L928.1,578.4M921.7,542.1L922,546.6M918.4,537.5L921.7,542.1M925.3,551.2L925.7,555.7M922,546.6L925.3,551.2M929,560.2L929.3,564.8M925.7,555.7L929,560.2M932.7,569.3L932.9,573.8M929.3,564.8L932.7,569.3M934.6,578.4L932.5,582.9M932.9,573.8L934.6,578.4M933.5,587.5L931.4,592M928.2,592L927.1,587.5M932.5,582.9L933.5,587.5" stroke="#b87c30" stroke-width="3.4"/>
<path d="M771.2,540.4L774.1,540.4M771.4,531L774.3,531.1M770.9,549.8L773.9,549.8M770.6,559.2L773.7,559.2M770.4,568.5L773.5,568.6M770.1,577.9L773.3,577.9M773,587.3L769.8,587.3M775.5,545.1L778.5,545.2M775.7,535.8L778.6,535.8M775.4,554.5L778.4,554.5M775.2,563.9L778.4,563.9M775.1,573.3L778.3,573.3M774.7,582.6L778,582.6M777.6,592L774.4,592M780,540.5L783,540.5M780.1,531.1L782.9,531.2M780,549.9L783,549.9M779.9,559.2L783.1,559.2M779.9,568.6L783.1,568.6M779.8,578L783,578M782.6,587.3L779.4,587.3M784.5,545.2L787.5,545.3M784.4,535.9L787.3,535.9M784.6,554.6L787.6,554.6M784.6,563.9L787.8,564M784.7,573.3L787.9,573.3M784.4,582.6L787.6,582.7M787.2,592L784,592M788.9,540.6L791.8,540.6M788.7,531.3L791.6,531.3M789.1,549.9L792.1,550M789.3,559.3L792.4,559.3M789.5,568.6L792.6,568.7M789.4,578L792.7,578M792.2,587.3L789,587.3M793.5,545.3L796.4,545.3M793.1,536L796.1,536M793.8,554.7L796.8,554.7M794.1,564L797.2,564M794.4,573.3L797.6,573.3M794.1,582.7L797.3,582.7M796.8,592L793.6,592M797.7,540.7L800.7,540.7M797.3,531.4L800.2,531.4M798.2,550L801.2,550.1M798.6,559.4L801.7,559.4M799,568.7L802.2,568.7M799.1,578L802.3,578M801.9,587.3L798.7,587.3M802.4,545.4L805.4,545.4M801.9,536.1L804.8,536.1M803,554.7L806,554.7M803.5,564L806.7,564.1M804.1,573.4L807.3,573.4M803.7,582.7L806.9,582.7M806.4,592L803.2,592M806.6,540.8L809.5,540.8M805.9,531.5L808.8,531.5M807.2,550.1L810.3,550.1M807.9,559.4L811,559.4M808.6,568.7L811.7,568.7M808.8,578L812,578M811.5,587.3L808.3,587.3M811.4,545.5L814.4,545.5M810.6,536.2L813.5,536.2M812.2,554.8L815.2,554.8M812.9,564.1L816.1,564.1M813.7,573.4L816.9,573.4M813.4,582.7L816.6,582.7M816.1,592L812.9,592M815.4,540.9L818.4,540.9M814.5,531.6L817.4,531.6M816.3,550.2L819.4,550.2M817.2,559.5L820.3,559.5M818.1,568.8L821.3,568.8M818.5,578.1L821.7,578.1M821.1,587.4L817.9,587.4M820.4,545.6L823.4,545.6M819.4,536.3L822.3,536.3M821.4,554.9L824.4,554.9M822.4,564.2L825.5,564.2M823.4,573.4L826.6,573.4M823,582.7L826.2,582.7M825.7,592L822.5,592M824.3,541L827.2,541M823.2,531.7L826,531.8M825.4,550.3L828.4,550.3M826.5,559.5L829.6,559.6M827.7,568.8L830.8,568.8M828.1,578.1L831.4,578.1M830.8,587.4L827.6,587.4M829.3,545.7L832.3,545.7M828.1,536.4L831,536.4M830.6,554.9L833.6,555M831.8,564.2L835,564.2M833,573.5L836.3,573.5M832.7,582.7L835.9,582.7M835.3,592L832.1,592M833.1,541.1L836.1,541.1M831.8,531.8L834.7,531.9M834.5,550.3L837.5,550.4M835.9,559.6L839,559.6M837.2,568.9L840.4,568.9M837.8,578.1L841,578.1M840.4,587.4L837.2,587.4M838.3,545.8L841.3,545.8M836.8,536.5L839.7,536.6M839.8,555L842.8,555M841.2,564.3L844.4,564.3M842.7,573.5L845.9,573.5M842.3,582.8L845.6,582.8M844.9,592L841.7,592M842,541.2L844.9,541.2M840.4,532L843.3,532M843.6,550.4L846.6,550.5M845.2,559.7L848.3,559.7M846.8,568.9L849.9,568.9M847.5,578.1L850.7,578.2M850,587.4L846.8,587.4M847.3,545.9L850.3,545.9M845.6,536.6L848.5,536.7M849,555.1L852,555.1M850.7,564.3L853.8,564.3M852.4,573.5L855.6,573.6M852,582.8L855.2,582.8M854.5,592L851.3,592M850.8,541.3L853.8,541.3M849,532.1L851.9,532.1M852.7,550.5L855.7,550.5M854.5,559.7L857.6,559.7M856.3,568.9L859.5,569M857.2,578.2L860.4,578.2M859.7,587.4L856.5,587.4M856.2,545.9L859.2,546M854.3,536.7L857.2,536.8M858.2,555.2L861.2,555.2M860.1,564.4L863.3,564.4M862,573.6L865.3,573.6M861.6,582.8L864.9,582.8M864.1,592L860.9,592M859.7,541.4L862.7,541.4M857.7,532.2L860.5,532.2M861.8,550.6L864.8,550.6M863.8,559.8L866.9,559.8M865.9,569L869,569M866.9,578.2L870.1,578.2M869.3,587.4L866.1,587.4M865.2,546L868.2,546.1M863,536.8L866,536.9M867.4,555.2L870.4,555.3M869.5,564.4L872.7,564.4M871.7,573.6L874.9,573.6M871.3,582.8L874.5,582.8M873.7,592L870.5,592M868.6,541.5L871.5,541.5M866.3,532.3L869.1,532.3M870.8,550.7L873.9,550.7M873.1,559.9L876.2,559.9M875.4,569L878.6,569.1M876.5,578.2L879.8,578.2M878.9,587.4L875.7,587.4M874.2,546.1L877.2,546.2M871.8,536.9L874.7,537M876.6,555.3L879.6,555.3M879,564.5L882.1,564.5M881.4,573.6L884.6,573.7M881,582.8L884.2,582.8M883.3,592L880.1,592M877.4,541.6L880.4,541.6M874.9,532.4L877.8,532.5M879.9,550.8L883,550.8M882.4,559.9L885.5,559.9M885,569.1L888.1,569.1M886.2,578.3L889.4,578.3M888.6,587.4L885.4,587.4M883.1,546.2L886.1,546.2M880.5,537.1L883.4,537.1M885.8,555.4L888.8,555.4M888.4,564.5L891.6,564.5M891,573.7L894.3,573.7M890.6,582.8L893.8,582.8M893,592L889.7,592M886.3,541.7L889.2,541.7M883.5,532.5L886.4,532.6M889,550.8L892,550.9M891.8,560L894.9,560M894.5,569.1L897.7,569.1M895.9,578.3L899.1,578.3M898.2,587.4L895,587.4M892.1,546.3L895.1,546.3M889.3,537.2L892.2,537.2M895,555.4L898,555.5M897.8,564.6L901,564.6M900.7,573.7L903.9,573.7M900.3,582.9L903.5,582.9M902.6,592L899.4,592M895.1,541.8L898.1,541.8M892.1,532.7L895,532.7M898.1,550.9L901.1,550.9M901.1,560L904.2,560.1M904,569.2L907.2,569.2M905.6,578.3L908.8,578.3M907.8,587.4L904.6,587.4M901.1,546.4L904.1,546.4M898,537.3L900.9,537.3M904.2,555.5L907.2,555.5M907.3,564.6L910.4,564.7M910.4,573.8L913.6,573.8M909.9,582.9L913.1,582.9M912.2,592L909,592M904,541.9L906.9,541.9M900.8,532.8L903.6,532.8M907.2,551L910.2,551M910.4,560.1L913.5,560.1M913.6,569.2L916.8,569.2M915.2,578.3L918.5,578.3M917.5,587.4L914.3,587.4M910.1,546.5L913,546.5M906.7,537.4L909.6,537.4M913.4,555.6L916.5,555.6M916.7,564.7L919.9,564.7M920,573.8L923.3,573.8M919.6,582.9L922.8,582.9M921.8,592L918.6,592M912.8,542L915.8,542M909.4,532.9L912.3,532.9M916.3,551.1L919.3,551.1M919.7,560.2L922.8,560.2M923.1,569.3L926.3,569.3M924.9,578.4L928.1,578.4M927.1,587.5L923.9,587.5M919,546.6L922,546.6M915.5,537.5L918.4,537.5M922.6,555.7L925.7,555.7M926.1,564.7L929.3,564.8M929.7,573.8L932.9,573.8M929.2,582.9L932.5,582.9M931.4,592L928.2,592M774.1,540.4L775.7,535.8M771.2,540.4L769.8,535.7M769.8,535.7L771.4,531M774.3,531.1L775.7,535.8M773.9,549.8L775.5,545.1M770.9,549.8L769.5,545.1M769.5,545.1L771.2,540.4M775.5,545.1L774.1,540.4M773.7,559.2L775.4,554.5M770.6,559.2L769.2,554.5M769.2,554.5L770.9,549.8M775.4,554.5L773.9,549.8M773.5,568.6L775.2,563.9M770.4,568.5L768.9,563.8M768.9,563.8L770.6,559.2M775.2,563.9L773.7,559.2M773.3,577.9L775.1,573.3M770.1,577.9L768.6,573.2M768.6,573.2L770.4,568.5M775.1,573.3L773.5,568.6M773,587.3L774.7,582.6M769.8,587.3L768.3,582.6M768.3,582.6L770.1,577.9M774.7,582.6L773.3,577.9M778.5,545.2L780,540.5M780,540.5L778.6,535.8M778.4,554.5L780,549.9M780,549.9L778.5,545.2M778.4,563.9L779.9,559.2M779.9,559.2L778.4,554.5M778.3,573.3L779.9,568.6M779.9,568.6L778.4,563.9M778,582.6L779.8,578M779.8,578L778.3,573.3M779.4,587.3L777.6,592M774.4,592L773,587.3M779.4,587.3L778,582.6M783,540.5L784.4,535.9M778.6,535.8L780.1,531.1M782.9,531.2L784.4,535.9M783,549.9L784.5,545.2M784.5,545.2L783,540.5M783.1,559.2L784.6,554.6M784.6,554.6L783,549.9M783.1,568.6L784.6,563.9M784.6,563.9L783.1,559.2M783,578L784.7,573.3M784.7,573.3L783.1,568.6M782.6,587.3L784.4,582.6M784.4,582.6L783,578M787.5,545.3L788.9,540.6M788.9,540.6L787.3,535.9M787.6,554.6L789.1,549.9M789.1,549.9L787.5,545.3M787.8,564L789.3,559.3M789.3,559.3L787.6,554.6M787.9,573.3L789.5,568.6M789.5,568.6L787.8,564M787.6,582.7L789.4,578M789.4,578L787.9,573.3M789,587.3L787.2,592M784,592L782.6,587.3M789,587.3L787.6,582.7M791.8,540.6L793.1,536M787.3,535.9L788.7,531.3M791.6,531.3L793.1,536M792.1,550L793.5,545.3M793.5,545.3L791.8,540.6M792.4,559.3L793.8,554.7M793.8,554.7L792.1,550M792.6,568.7L794.1,564M794.1,564L792.4,559.3M792.7,578L794.4,573.3M794.4,573.3L792.6,568.7M792.2,587.3L794.1,582.7M794.1,582.7L792.7,578M796.4,545.3L797.7,540.7M797.7,540.7L796.1,536M796.8,554.7L798.2,550M798.2,550L796.4,545.3M797.2,564L798.6,559.4M798.6,559.4L796.8,554.7M797.6,573.3L799,568.7M799,568.7L797.2,564M797.3,582.7L799.1,578M799.1,578L797.6,573.3M798.7,587.3L796.8,592M793.6,592L792.2,587.3M798.7,587.3L797.3,582.7M800.7,540.7L801.9,536.1M796.1,536L797.3,531.4M800.2,531.4L801.9,536.1M801.2,550.1L802.4,545.4M802.4,545.4L800.7,540.7M801.7,559.4L803,554.7M803,554.7L801.2,550.1M802.2,568.7L803.5,564M803.5,564L801.7,559.4M802.3,578L804.1,573.4M804.1,573.4L802.2,568.7M801.9,587.3L803.7,582.7M803.7,582.7L802.3,578M805.4,545.4L806.6,540.8M806.6,540.8L804.8,536.1M806,554.7L807.2,550.1M807.2,550.1L805.4,545.4M806.7,564.1L807.9,559.4M807.9,559.4L806,554.7M807.3,573.4L808.6,568.7M808.6,568.7L806.7,564.1M806.9,582.7L808.8,578M808.8,578L807.3,573.4M808.3,587.3L806.4,592M803.2,592L801.9,587.3M808.3,587.3L806.9,582.7M809.5,540.8L810.6,536.2M804.8,536.1L805.9,531.5M808.8,531.5L810.6,536.2M810.3,550.1L811.4,545.5M811.4,545.5L809.5,540.8M811,559.4L812.2,554.8M812.2,554.8L810.3,550.1M811.7,568.7L812.9,564.1M812.9,564.1L811,559.4M812,578L813.7,573.4M813.7,573.4L811.7,568.7M811.5,587.3L813.4,582.7M813.4,582.7L812,578M814.4,545.5L815.4,540.9M815.4,540.9L813.5,536.2M815.2,554.8L816.3,550.2M816.3,550.2L814.4,545.5M816.1,564.1L817.2,559.5M817.2,559.5L815.2,554.8M816.9,573.4L818.1,568.8M818.1,568.8L816.1,564.1M816.6,582.7L818.5,578.1M818.5,578.1L816.9,573.4M817.9,587.4L816.1,592M812.9,592L811.5,587.3M817.9,587.4L816.6,582.7M818.4,540.9L819.4,536.3M813.5,536.2L814.5,531.6M817.4,531.6L819.4,536.3M819.4,550.2L820.4,545.6M820.4,545.6L818.4,540.9M820.3,559.5L821.4,554.9M821.4,554.9L819.4,550.2M821.3,568.8L822.4,564.2M822.4,564.2L820.3,559.5M821.7,578.1L823.4,573.4M823.4,573.4L821.3,568.8M821.1,587.4L823,582.7M823,582.7L821.7,578.1M823.4,545.6L824.3,541M824.3,541L822.3,536.3M824.4,554.9L825.4,550.3M825.4,550.3L823.4,545.6M825.5,564.2L826.5,559.5M826.5,559.5L824.4,554.9M826.6,573.4L827.7,568.8M827.7,568.8L825.5,564.2M826.2,582.7L828.1,578.1M828.1,578.1L826.6,573.4M827.6,587.4L825.7,592M822.5,592L821.1,587.4M827.6,587.4L826.2,582.7M827.2,541L828.1,536.4M822.3,536.3L823.2,531.7M826,531.8L828.1,536.4M828.4,550.3L829.3,545.7M829.3,545.7L827.2,541M829.6,559.6L830.6,554.9M830.6,554.9L828.4,550.3M830.8,568.8L831.8,564.2M831.8,564.2L829.6,559.6M831.4,578.1L833,573.5M833,573.5L830.8,568.8M830.8,587.4L832.7,582.7M832.7,582.7L831.4,578.1M832.3,545.7L833.1,541.1M833.1,541.1L831,536.4M833.6,555L834.5,550.3M834.5,550.3L832.3,545.7M835,564.2L835.9,559.6M835.9,559.6L833.6,555M836.3,573.5L837.2,568.9M837.2,568.9L835,564.2M835.9,582.7L837.8,578.1M837.8,578.1L836.3,573.5M837.2,587.4L835.3,592M832.1,592L830.8,587.4M837.2,587.4L835.9,582.7M836.1,541.1L836.8,536.5M831,536.4L831.8,531.8M834.7,531.9L836.8,536.5M837.5,550.4L838.3,545.8M838.3,545.8L836.1,541.1M839,559.6L839.8,555M839.8,555L837.5,550.4M840.4,568.9L841.2,564.3M841.2,564.3L839,559.6M841,578.1L842.7,573.5M842.7,573.5L840.4,568.9M840.4,587.4L842.3,582.8M842.3,582.8L841,578.1M841.3,545.8L842,541.2M842,541.2L839.7,536.6M842.8,555L843.6,550.4M843.6,550.4L841.3,545.8M844.4,564.3L845.2,559.7M845.2,559.7L842.8,555M845.9,573.5L846.8,568.9M846.8,568.9L844.4,564.3M845.6,582.8L847.5,578.1M847.5,578.1L845.9,573.5M846.8,587.4L844.9,592M841.7,592L840.4,587.4M846.8,587.4L845.6,582.8M844.9,541.2L845.6,536.6M839.7,536.6L840.4,532M843.3,532L845.6,536.6M846.6,550.5L847.3,545.9M847.3,545.9L844.9,541.2M848.3,559.7L849,555.1M849,555.1L846.6,550.5M849.9,568.9L850.7,564.3M850.7,564.3L848.3,559.7M850.7,578.2L852.4,573.5M852.4,573.5L849.9,568.9M850,587.4L852,582.8M852,582.8L850.7,578.2M850.3,545.9L850.8,541.3M850.8,541.3L848.5,536.7M852,555.1L852.7,550.5M852.7,550.5L850.3,545.9M853.8,564.3L854.5,559.7M854.5,559.7L852,555.1M855.6,573.6L856.3,568.9M856.3,568.9L853.8,564.3M855.2,582.8L857.2,578.2M857.2,578.2L855.6,573.6M856.5,587.4L854.5,592M851.3,592L850,587.4M856.5,587.4L855.2,582.8M853.8,541.3L854.3,536.7M848.5,536.7L849,532.1M851.9,532.1L854.3,536.7M855.7,550.5L856.2,545.9M856.2,545.9L853.8,541.3M857.6,559.7L858.2,555.2M858.2,555.2L855.7,550.5M859.5,569L860.1,564.4M860.1,564.4L857.6,559.7M860.4,578.2L862,573.6M862,573.6L859.5,569M859.7,587.4L861.6,582.8M861.6,582.8L860.4,578.2M859.2,546L859.7,541.4M859.7,541.4L857.2,536.8M861.2,555.2L861.8,550.6M861.8,550.6L859.2,546M863.3,564.4L863.8,559.8M863.8,559.8L861.2,555.2M865.3,573.6L865.9,569M865.9,569L863.3,564.4M864.9,582.8L866.9,578.2M866.9,578.2L865.3,573.6M866.1,587.4L864.1,592M860.9,592L859.7,587.4M866.1,587.4L864.9,582.8M862.7,541.4L863,536.8M857.2,536.8L857.7,532.2M860.5,532.2L863,536.8M864.8,550.6L865.2,546M865.2,546L862.7,541.4M866.9,559.8L867.4,555.2M867.4,555.2L864.8,550.6M869,569L869.5,564.4M869.5,564.4L866.9,559.8M870.1,578.2L871.7,573.6M871.7,573.6L869,569M869.3,587.4L871.3,582.8M871.3,582.8L870.1,578.2M868.2,546.1L868.6,541.5M868.6,541.5L866,536.9M870.4,555.3L870.8,550.7M870.8,550.7L868.2,546.1M872.7,564.4L873.1,559.9M873.1,559.9L870.4,555.3M874.9,573.6L875.4,569M875.4,569L872.7,564.4M874.5,582.8L876.5,578.2M876.5,578.2L874.9,573.6M875.7,587.4L873.7,592M870.5,592L869.3,587.4M875.7,587.4L874.5,582.8M871.5,541.5L871.8,536.9M866,536.9L866.3,532.3M869.1,532.3L871.8,536.9M873.9,550.7L874.2,546.1M874.2,546.1L871.5,541.5M876.2,559.9L876.6,555.3M876.6,555.3L873.9,550.7M878.6,569.1L879,564.5M879,564.5L876.2,559.9M879.8,578.2L881.4,573.6M881.4,573.6L878.6,569.1M878.9,587.4L881,582.8M881,582.8L879.8,578.2M877.2,546.2L877.4,541.6M877.4,541.6L874.7,537M879.6,555.3L879.9,550.8M879.9,550.8L877.2,546.2M882.1,564.5L882.4,559.9M882.4,559.9L879.6,555.3M884.6,573.7L885,569.1M885,569.1L882.1,564.5M884.2,582.8L886.2,578.3M886.2,578.3L884.6,573.7M885.4,587.4L883.3,592M880.1,592L878.9,587.4M885.4,587.4L884.2,582.8M880.4,541.6L880.5,537.1M874.7,537L874.9,532.4M877.8,532.5L880.5,537.1M883,550.8L883.1,546.2M883.1,546.2L880.4,541.6M885.5,559.9L885.8,555.4M885.8,555.4L883,550.8M888.1,569.1L888.4,564.5M888.4,564.5L885.5,559.9M889.4,578.3L891,573.7M891,573.7L888.1,569.1M888.6,587.4L890.6,582.8M890.6,582.8L889.4,578.3M886.1,546.2L886.3,541.7M886.3,541.7L883.4,537.1M888.8,555.4L889,550.8M889,550.8L886.1,546.2M891.6,564.5L891.8,560M891.8,560L888.8,555.4M894.3,573.7L894.5,569.1M894.5,569.1L891.6,564.5M893.8,582.8L895.9,578.3M895.9,578.3L894.3,573.7M895,587.4L893,592M889.7,592L888.6,587.4M895,587.4L893.8,582.8M889.2,541.7L889.3,537.2M883.4,537.1L883.5,532.5M886.4,532.6L889.3,537.2M892,550.9L892.1,546.3M892.1,546.3L889.2,541.7M894.9,560L895,555.4M895,555.4L892,550.9M897.7,569.1L897.8,564.6M897.8,564.6L894.9,560M899.1,578.3L900.7,573.7M900.7,573.7L897.7,569.1M898.2,587.4L900.3,582.9M900.3,582.9L899.1,578.3M895.1,546.3L895.1,541.8M895.1,541.8L892.2,537.2M898,555.5L898.1,550.9M898.1,550.9L895.1,546.3M901,564.6L901.1,560M901.1,560L898,555.5M903.9,573.7L904,569.2M904,569.2L901,564.6M903.5,582.9L905.6,578.3M905.6,578.3L903.9,573.7M904.6,587.4L902.6,592M899.4,592L898.2,587.4M904.6,587.4L903.5,582.9M898.1,541.8L898,537.3M892.2,537.2L892.1,532.7M895,532.7L898,537.3M901.1,550.9L901.1,546.4M901.1,546.4L898.1,541.8M904.2,560.1L904.2,555.5M904.2,555.5L901.1,550.9M907.2,569.2L907.3,564.6M907.3,564.6L904.2,560.1M908.8,578.3L910.4,573.8M910.4,573.8L907.2,569.2M907.8,587.4L909.9,582.9M909.9,582.9L908.8,578.3M904.1,546.4L904,541.9M904,541.9L900.9,537.3M907.2,555.5L907.2,551M907.2,551L904.1,546.4M910.4,564.7L910.4,560.1M910.4,560.1L907.2,555.5M913.6,573.8L913.6,569.2M913.6,569.2L910.4,564.7M913.1,582.9L915.2,578.3M915.2,578.3L913.6,573.8M914.3,587.4L912.2,592M909,592L907.8,587.4M914.3,587.4L913.1,582.9M906.9,541.9L906.7,537.4M900.9,537.3L900.8,532.8M903.6,532.8L906.7,537.4M910.2,551L910.1,546.5M910.1,546.5L906.9,541.9M913.5,560.1L913.4,555.6M913.4,555.6L910.2,551M916.8,569.2L916.7,564.7M916.7,564.7L913.5,560.1M918.5,578.3L920,573.8M920,573.8L916.8,569.2M917.5,587.4L919.6,582.9M919.6,582.9L918.5,578.3M913,546.5L912.8,542M912.8,542L909.6,537.4M916.5,555.6L916.3,551.1M916.3,551.1L913,546.5M919.9,564.7L919.7,560.2M919.7,560.2L916.5,555.6M923.3,573.8L923.1,569.3M923.1,569.3L919.9,564.7M922.8,582.9L924.9,578.4M924.9,578.4L923.3,573.8M923.9,587.5L921.8,592M918.6,592L917.5,587.4M923.9,587.5L922.8,582.9M915.8,542L915.5,537.5M909.6,537.4L909.4,532.9M912.3,532.9L915.5,537.5M919.3,551.1L919,546.6M919,546.6L915.8,542M922.8,560.2L922.6,555.7M922.6,555.7L919.3,551.1M926.3,569.3L926.1,564.7M926.1,564.7L922.8,560.2M928.1,578.4L929.7,573.8M929.7,573.8L926.3,569.3M927.1,587.5L929.2,582.9M929.2,582.9L928.1,578.4M921.7,542.1L922,546.6M918.4,537.5L921.7,542.1M925.3,551.2L925.7,555.7M922,546.6L925.3,551.2M929,560.2L929.3,564.8M925.7,555.7L929,560.2M932.7,569.3L932.9,573.8M929.3,564.8L932.7,569.3M934.6,578.4L932.5,582.9M932.9,573.8L934.6,578.4M933.5,587.5L931.4,592M928.2,592L927.1,587.5M932.5,582.9L933.5,587.5" stroke="#a8681c" stroke-width="1.0"/>
<path d="M771.2,540.4h0M774.1,540.4h0M771.4,531h0M774.3,531.1h0M770.9,549.8h0M773.9,549.8h0M770.6,559.2h0M773.7,559.2h0M770.4,568.5h0M773.5,568.6h0M770.1,577.9h0M773.3,577.9h0M773,587.3h0M769.8,587.3h0M775.5,545.1h0M778.5,545.2h0M775.7,535.8h0M778.6,535.8h0M775.4,554.5h0M778.4,554.5h0M775.2,563.9h0M778.4,563.9h0M775.1,573.3h0M778.3,573.3h0M774.7,582.6h0M778,582.6h0M777.6,592h0M774.4,592h0M780,540.5h0M783,540.5h0M780.1,531.1h0M782.9,531.2h0M780,549.9h0M783,549.9h0M779.9,559.2h0M783.1,559.2h0M779.9,568.6h0M783.1,568.6h0M779.8,578h0M783,578h0M782.6,587.3h0M779.4,587.3h0M784.5,545.2h0M787.5,545.3h0M784.4,535.9h0M787.3,535.9h0M784.6,554.6h0M787.6,554.6h0M784.6,563.9h0M787.8,564h0M784.7,573.3h0M787.9,573.3h0M784.4,582.6h0M787.6,582.7h0M787.2,592h0M784,592h0M788.9,540.6h0M791.8,540.6h0M788.7,531.3h0M791.6,531.3h0M789.1,549.9h0M792.1,550h0M789.3,559.3h0M792.4,559.3h0M789.5,568.6h0M792.6,568.7h0M789.4,578h0M792.7,578h0M792.2,587.3h0M789,587.3h0M793.5,545.3h0M796.4,545.3h0M793.1,536h0M796.1,536h0M793.8,554.7h0M796.8,554.7h0M794.1,564h0M797.2,564h0M794.4,573.3h0M797.6,573.3h0M794.1,582.7h0M797.3,582.7h0M796.8,592h0M793.6,592h0M797.7,540.7h0M800.7,540.7h0M797.3,531.4h0M800.2,531.4h0M798.2,550h0M801.2,550.1h0M798.6,559.4h0M801.7,559.4h0M799,568.7h0M802.2,568.7h0M799.1,578h0M802.3,578h0M801.9,587.3h0M798.7,587.3h0M802.4,545.4h0M805.4,545.4h0M801.9,536.1h0M804.8,536.1h0M803,554.7h0M806,554.7h0M803.5,564h0M806.7,564.1h0M804.1,573.4h0M807.3,573.4h0M803.7,582.7h0M806.9,582.7h0M806.4,592h0M803.2,592h0M806.6,540.8h0M809.5,540.8h0M805.9,531.5h0M808.8,531.5h0M807.2,550.1h0M810.3,550.1h0M807.9,559.4h0M811,559.4h0M808.6,568.7h0M811.7,568.7h0M808.8,578h0M812,578h0M811.5,587.3h0M808.3,587.3h0M811.4,545.5h0M814.4,545.5h0M810.6,536.2h0M813.5,536.2h0M812.2,554.8h0M815.2,554.8h0M812.9,564.1h0M816.1,564.1h0M813.7,573.4h0M816.9,573.4h0M813.4,582.7h0M816.6,582.7h0M816.1,592h0M812.9,592h0M815.4,540.9h0M818.4,540.9h0M814.5,531.6h0M817.4,531.6h0M816.3,550.2h0M819.4,550.2h0M817.2,559.5h0M820.3,559.5h0M818.1,568.8h0M821.3,568.8h0M818.5,578.1h0M821.7,578.1h0M821.1,587.4h0M817.9,587.4h0M820.4,545.6h0M823.4,545.6h0M819.4,536.3h0M822.3,536.3h0M821.4,554.9h0M824.4,554.9h0M822.4,564.2h0M825.5,564.2h0M823.4,573.4h0M826.6,573.4h0M823,582.7h0M826.2,582.7h0M825.7,592h0M822.5,592h0M824.3,541h0M827.2,541h0M823.2,531.7h0M826,531.8h0M825.4,550.3h0M828.4,550.3h0M826.5,559.5h0M829.6,559.6h0M827.7,568.8h0M830.8,568.8h0M828.1,578.1h0M831.4,578.1h0M830.8,587.4h0M827.6,587.4h0M829.3,545.7h0M832.3,545.7h0M828.1,536.4h0M831,536.4h0M830.6,554.9h0M833.6,555h0M831.8,564.2h0M835,564.2h0M833,573.5h0M836.3,573.5h0M832.7,582.7h0M835.9,582.7h0M835.3,592h0M832.1,592h0M833.1,541.1h0M836.1,541.1h0M831.8,531.8h0M834.7,531.9h0M834.5,550.3h0M837.5,550.4h0M835.9,559.6h0M839,559.6h0M837.2,568.9h0M840.4,568.9h0M837.8,578.1h0M841,578.1h0M840.4,587.4h0M837.2,587.4h0M838.3,545.8h0M841.3,545.8h0M836.8,536.5h0M839.7,536.6h0M839.8,555h0M842.8,555h0M841.2,564.3h0M844.4,564.3h0M842.7,573.5h0M845.9,573.5h0M842.3,582.8h0M845.6,582.8h0M844.9,592h0M841.7,592h0M842,541.2h0M844.9,541.2h0M840.4,532h0M843.3,532h0M843.6,550.4h0M846.6,550.5h0M845.2,559.7h0M848.3,559.7h0M846.8,568.9h0M849.9,568.9h0M847.5,578.1h0M850.7,578.2h0M850,587.4h0M846.8,587.4h0M847.3,545.9h0M850.3,545.9h0M845.6,536.6h0M848.5,536.7h0M849,555.1h0M852,555.1h0M850.7,564.3h0M853.8,564.3h0M852.4,573.5h0M855.6,573.6h0M852,582.8h0M855.2,582.8h0M854.5,592h0M851.3,592h0M850.8,541.3h0M853.8,541.3h0M849,532.1h0M851.9,532.1h0M852.7,550.5h0M855.7,550.5h0M854.5,559.7h0M857.6,559.7h0M856.3,568.9h0M859.5,569h0M857.2,578.2h0M860.4,578.2h0M859.7,587.4h0M856.5,587.4h0M856.2,545.9h0M859.2,546h0M854.3,536.7h0M857.2,536.8h0M858.2,555.2h0M861.2,555.2h0M860.1,564.4h0M863.3,564.4h0M862,573.6h0M865.3,573.6h0M861.6,582.8h0M864.9,582.8h0M864.1,592h0M860.9,592h0M859.7,541.4h0M862.7,541.4h0M857.7,532.2h0M860.5,532.2h0M861.8,550.6h0M864.8,550.6h0M863.8,559.8h0M866.9,559.8h0M865.9,569h0M869,569h0M866.9,578.2h0M870.1,578.2h0M869.3,587.4h0M866.1,587.4h0M865.2,546h0M868.2,546.1h0M863,536.8h0M866,536.9h0M867.4,555.2h0M870.4,555.3h0M869.5,564.4h0M872.7,564.4h0M871.7,573.6h0M874.9,573.6h0M871.3,582.8h0M874.5,582.8h0M873.7,592h0M870.5,592h0M868.6,541.5h0M871.5,541.5h0M866.3,532.3h0M869.1,532.3h0M870.8,550.7h0M873.9,550.7h0M873.1,559.9h0M876.2,559.9h0M875.4,569h0M878.6,569.1h0M876.5,578.2h0M879.8,578.2h0M878.9,587.4h0M875.7,587.4h0M874.2,546.1h0M877.2,546.2h0M871.8,536.9h0M874.7,537h0M876.6,555.3h0M879.6,555.3h0M879,564.5h0M882.1,564.5h0M881.4,573.6h0M884.6,573.7h0M881,582.8h0M884.2,582.8h0M883.3,592h0M880.1,592h0M877.4,541.6h0M880.4,541.6h0M874.9,532.4h0M877.8,532.5h0M879.9,550.8h0M883,550.8h0M882.4,559.9h0M885.5,559.9h0M885,569.1h0M888.1,569.1h0M886.2,578.3h0M889.4,578.3h0M888.6,587.4h0M885.4,587.4h0M883.1,546.2h0M886.1,546.2h0M880.5,537.1h0M883.4,537.1h0M885.8,555.4h0M888.8,555.4h0M888.4,564.5h0M891.6,564.5h0M891,573.7h0M894.3,573.7h0M890.6,582.8h0M893.8,582.8h0M893,592h0M889.7,592h0M886.3,541.7h0M889.2,541.7h0M883.5,532.5h0M886.4,532.6h0M889,550.8h0M892,550.9h0M891.8,560h0M894.9,560h0M894.5,569.1h0M897.7,569.1h0M895.9,578.3h0M899.1,578.3h0M898.2,587.4h0M895,587.4h0M892.1,546.3h0M895.1,546.3h0M889.3,537.2h0M892.2,537.2h0M895,555.4h0M898,555.5h0M897.8,564.6h0M901,564.6h0M900.7,573.7h0M903.9,573.7h0M900.3,582.9h0M903.5,582.9h0M902.6,592h0M899.4,592h0M895.1,541.8h0M898.1,541.8h0M892.1,532.7h0M895,532.7h0M898.1,550.9h0M901.1,550.9h0M901.1,560h0M904.2,560.1h0M904,569.2h0M907.2,569.2h0M905.6,578.3h0M908.8,578.3h0M907.8,587.4h0M904.6,587.4h0M901.1,546.4h0M904.1,546.4h0M898,537.3h0M900.9,537.3h0M904.2,555.5h0M907.2,555.5h0M907.3,564.6h0M910.4,564.7h0M910.4,573.8h0M913.6,573.8h0M909.9,582.9h0M913.1,582.9h0M912.2,592h0M909,592h0M904,541.9h0M906.9,541.9h0M900.8,532.8h0M903.6,532.8h0M907.2,551h0M910.2,551h0M910.4,560.1h0M913.5,560.1h0M913.6,569.2h0M916.8,569.2h0M915.2,578.3h0M918.5,578.3h0M917.5,587.4h0M914.3,587.4h0M910.1,546.5h0M913,546.5h0M906.7,537.4h0M909.6,537.4h0M913.4,555.6h0M916.5,555.6h0M916.7,564.7h0M919.9,564.7h0M920,573.8h0M923.3,573.8h0M919.6,582.9h0M922.8,582.9h0M921.8,592h0M918.6,592h0M912.8,542h0M915.8,542h0M909.4,532.9h0M912.3,532.9h0M916.3,551.1h0M919.3,551.1h0M919.7,560.2h0M922.8,560.2h0M923.1,569.3h0M926.3,569.3h0M924.9,578.4h0M928.1,578.4h0M927.1,587.5h0M923.9,587.5h0M919,546.6h0M922,546.6h0M915.5,537.5h0M918.4,537.5h0M922.6,555.7h0M925.7,555.7h0M926.1,564.7h0M929.3,564.8h0M929.7,573.8h0M932.9,573.8h0M929.2,582.9h0M932.5,582.9h0M931.4,592h0M928.2,592h0M769.8,535.7h0M769.5,545.1h0M769.2,554.5h0M768.9,563.8h0M768.6,573.2h0M768.3,582.6h0M921.7,542.1h0M925.3,551.2h0M929,560.2h0M932.7,569.3h0M934.6,578.4h0M933.5,587.5h0" stroke="#241000" stroke-width="2.9"/>
</g>
<path d="M774,514L775,514.2L776,514.9L777,515.9L778,517.1L779,518.1L780,518.8L781,519L782,519L783,519.2L784,519.3L785,519.6L786,519.9L787,520.3L788,520.8L789,521.2L790,521.8L791,522.3L792,522.9L793,523.5L794,524.1L795,524.7L796,525.2L797,525.8L798,526.2L799,526.7L800,527.1L801,527.4L802,527.7L803,527.8L804,528L805,528L806,527.9L807,527.5L808,527L809,526.2L810,525.2L811,524.1L812,522.9L813,521.6L814,520.4L815,519.1L816,517.9L817,516.8L818,515.8L819,515L820,514.5L821,514.1L822,514L823,514.1L824,514.4L825,514.8L826,515.4L827,516.1L828,517L829,518L830,519.1L831,520.2L832,521.4L833,522.6L834,523.8L835,524.9L836,526L837,527L838,527.9L839,528.6L840,529.2L841,529.6L842,529.9L843,530L844,529.9L845,529.7L846,529.4L847,529L848,528.4L849,527.8L850,527L851,526.2L852,525.3L853,524.4L854,523.5L855,522.5L856,521.6L857,520.7L858,519.8L859,519L860,518.2L861,517.6L862,517L863,516.6L864,516.3L865,516.1L866,516L867,515.9L868,515.8L869,515.6L870,515.2L871,514.8L872,514.3L873,513.8L874,513.1L875,512.5L876,511.8L877,511.2L878,510.5L879,509.9L880,509.2L881,508.7L882,508.2L883,507.8L884,507.4L885,507.2L886,507.1L887,507L888,507.9L889,510.2L890,513.5L891,516.8L892,519.1L893,520L893,520L892,520L891,520.1L890,520.3L889,520.4L888,520.6L887,520.9L886,521.1L885,521.4L884,521.6L883,521.7L882,521.9L881,522L880,522L879,521.9L878,521.7L877,521.4L876,520.9L875,520.4L874,519.8L873,519L872,518.3L871,517.5L870,516.7L869,516L868,515.2L867,514.6L866,514.1L865,513.6L864,513.3L863,513.1L862,513L861,513.1L860,513.3L859,513.8L858,514.3L857,515L856,515.7L855,516.5L854,517.3L853,518L852,518.7L851,519.2L850,519.7L849,519.9L848,520L847,520.1L846,520.3L845,520.7L844,521.3L843,522L842,522.8L841,523.6L840,524.5L839,525.5L838,526.5L837,527.4L836,528.2L835,529L834,529.7L833,530.3L832,530.7L831,530.9L830,531L829,530.9L828,530.8L827,530.5L826,530.2L825,529.7L824,529.2L823,528.7L822,528.1L821,527.5L820,526.9L819,526.3L818,525.8L817,525.3L816,524.8L815,524.5L814,524.2L813,524.1L812,524L811,523.9L810,523.7L809,523.3L808,522.7L807,522L806,521.1L805,520.2L804,519.1L803,518L802,516.8L801,515.6L800,514.4L799,513.2L798,512L797,510.9L796,509.8L795,508.9L794,508L793,507.3L792,506.7L791,506.3L790,506.1L789,506L788,506.5L787,507.9L786,510L785,512.5L784,515L783,517.1L782,518.5L781,519Z" fill="#9a84c8" opacity="0.85"/>
<path d="M781,519L782,518.5L783,517.1L784,515L785,512.5L786,510L787,507.9L788,506.5L789,506L790,506.1L791,506.3L792,506.7L793,507.3L794,508L795,508.9L796,509.8L797,510.9L798,512L799,513.2L800,514.4L801,515.6L802,516.8L803,518L804,519.1L805,520.2L806,521.1L807,522L808,522.7L809,523.3L810,523.7L811,523.9L812,524L813,524.1L814,524.2L815,524.5L816,524.8L817,525.3L818,525.8L819,526.3L820,526.9L821,527.5L822,528.1L823,528.7L824,529.2L825,529.7L826,530.2L827,530.5L828,530.8L829,530.9L830,531L831,530.9L832,530.7L833,530.3L834,529.7L835,529L836,528.2L837,527.4L838,526.5L839,525.5L840,524.5L841,523.6L842,522.8L843,522L844,521.3L845,520.7L846,520.3L847,520.1L848,520L849,519.9L850,519.7L851,519.2L852,518.7L853,518L854,517.3L855,516.5L856,515.7L857,515L858,514.3L859,513.8L860,513.3L861,513.1L862,513L863,513.1L864,513.3L865,513.6L866,514.1L867,514.6L868,515.2L869,516L870,516.7L871,517.5L872,518.3L873,519L874,519.8L875,520.4L876,520.9L877,521.4L878,521.7L879,521.9L880,522L881,522L882,521.9L883,521.7L884,521.6L885,521.4L886,521.1L887,520.9L888,520.6L889,520.4L890,520.3L891,520.1L892,520L893,520" fill="none" stroke="#4058b8" stroke-width="2"/>
<path d="M774,514L775,514.2L776,514.9L777,515.9L778,517.1L779,518.1L780,518.8L781,519L782,519L783,519.2L784,519.3L785,519.6L786,519.9L787,520.3L788,520.8L789,521.2L790,521.8L791,522.3L792,522.9L793,523.5L794,524.1L795,524.7L796,525.2L797,525.8L798,526.2L799,526.7L800,527.1L801,527.4L802,527.7L803,527.8L804,528L805,528L806,527.9L807,527.5L808,527L809,526.2L810,525.2L811,524.1L812,522.9L813,521.6L814,520.4L815,519.1L816,517.9L817,516.8L818,515.8L819,515L820,514.5L821,514.1L822,514L823,514.1L824,514.4L825,514.8L826,515.4L827,516.1L828,517L829,518L830,519.1L831,520.2L832,521.4L833,522.6L834,523.8L835,524.9L836,526L837,527L838,527.9L839,528.6L840,529.2L841,529.6L842,529.9L843,530L844,529.9L845,529.7L846,529.4L847,529L848,528.4L849,527.8L850,527L851,526.2L852,525.3L853,524.4L854,523.5L855,522.5L856,521.6L857,520.7L858,519.8L859,519L860,518.2L861,517.6L862,517L863,516.6L864,516.3L865,516.1L866,516L867,515.9L868,515.8L869,515.6L870,515.2L871,514.8L872,514.3L873,513.8L874,513.1L875,512.5L876,511.8L877,511.2L878,510.5L879,509.9L880,509.2L881,508.7L882,508.2L883,507.8L884,507.4L885,507.2L886,507.1L887,507L888,507.9L889,510.2L890,513.5L891,516.8L892,519.1L893,520" fill="none" stroke="#e84a88" stroke-width="2"/>
<circle cx="897.5" cy="519.8" r="5" fill="#062010"/>
<g stroke-linecap="round" fill="none" filter="url(#soft)">
<path d="M779.6,949.3L782.6,949.3M785.5,940L788.5,940.1M773.7,958.5L776.8,958.6M767.8,967.7L771,967.8M761.9,977L765.2,977.1M756,986.2L759.3,986.3M753.5,995.6L750.1,995.4M781.3,954L784.3,954M787,944.7L790.1,944.7M775.5,963.2L778.6,963.3M769.7,972.5L772.9,972.6M763.9,981.7L767.1,981.8M758.1,991L761.4,991.1M755.7,1000.4L752.3,1000.3M788.7,949.4L791.7,949.5M794.4,940.1L797.4,940.2M783,958.7L786.1,958.8M777.3,968L780.5,968M771.6,977.2L774.9,977.3M765.9,986.5L769.2,986.6M763.6,995.9L760.2,995.8M790.5,954.1L793.5,954.2M796.1,944.8L799.1,944.9M784.9,963.4L788,963.5M779.3,972.7L782.5,972.8M773.7,982L776.9,982.1M768.1,991.3L771.4,991.5M765.9,1000.8L762.5,1000.6M797.8,949.6L800.9,949.6M803.3,940.2L806.3,940.3M792.3,958.9L795.4,958.9M786.8,968.2L790,968.3M781.3,977.5L784.5,977.6M775.8,986.9L779.1,987M773.7,996.3L770.3,996.2M799.7,954.3L802.7,954.4M805.1,945L808.1,945M794.3,963.7L797.4,963.7M788.9,973L792.1,973.1M783.5,982.3L786.7,982.4M778.1,991.7L781.4,991.8M776.1,1001.2L772.7,1001M806.9,949.7L810,949.8M812.2,940.3L815.2,940.4M801.6,959.1L804.7,959.1M796.3,968.4L799.5,968.5M791,977.8L794.2,977.9M785.7,987.2L789,987.3M783.8,996.7L780.4,996.5M808.9,954.5L812,954.5M814.1,945.1L817.1,945.1M803.7,963.9L806.8,963.9M798.5,973.3L801.7,973.3M793.3,982.6L796.5,982.7M788,992L791.4,992.1M786.2,1001.5L782.8,1001.4M816,949.9L819.1,949.9M821.2,940.5L824.1,940.5M810.9,959.3L814,959.3M805.8,968.7L809,968.8M800.7,978.1L803.9,978.2M795.6,987.5L798.9,987.6M793.8,997L790.5,996.9M818.1,954.7L821.2,954.7M823.1,945.2L826.1,945.3M813.1,964.1L816.2,964.2M808.1,973.5L811.3,973.6M803.1,982.9L806.3,983M798,992.4L801.4,992.5M796.4,1001.9L793,1001.8M825.2,950L828.2,950.1M830.1,940.6L833,940.6M820.2,959.5L823.3,959.5M815.3,968.9L818.5,969M810.4,978.4L813.6,978.5M805.5,987.8L808.8,987.9M803.9,997.4L800.6,997.3M827.3,954.8L830.4,954.9M832.1,945.4L835.1,945.4M822.5,964.3L825.6,964.4M817.7,973.8L820.9,973.9M812.8,983.2L816.1,983.3M808,992.7L811.4,992.8M806.6,1002.3L803.2,1002.2M834.3,950.2L837.3,950.2M839,940.7L842,940.7M829.5,959.7L832.6,959.7M824.8,969.2L828,969.2M820.1,978.6L823.3,978.7M815.4,988.1L818.7,988.2M814,997.8L810.7,997.6M836.5,955L839.6,955.1M841.1,945.5L844.1,945.5M831.9,964.5L835,964.6M827.3,974L830.5,974.1M822.6,983.5L825.9,983.6M818,993.1L821.3,993.2M816.8,1002.7L813.4,1002.6M843.4,950.3L846.4,950.4M847.9,940.8L850.9,940.8M838.9,959.9L842,959.9M834.3,969.4L837.5,969.5M829.8,978.9L833,979M825.3,988.5L828.6,988.6M824.1,998.1L820.7,998M845.7,955.2L848.8,955.2M850.2,945.6L853.2,945.7M841.3,964.7L844.4,964.8M836.9,974.3L840.1,974.4M832.4,983.8L835.7,983.9M828,993.4L831.3,993.5M827,1003.1L823.6,1003M852.5,950.5L855.5,950.5M856.8,940.9L859.8,940.9M848.2,960.1L851.3,960.1M843.8,969.6L847,969.7M839.5,979.2L842.7,979.3M835.2,988.8L838.5,988.9M834.2,998.5L830.8,998.4M854.9,955.4L858,955.4M859.2,945.8L862.2,945.8M850.7,964.9L853.8,965M846.5,974.5L849.7,974.6M842.2,984.1L845.5,984.2M838,993.7L841.3,993.9M837.2,1003.5L833.8,1003.3M861.6,950.6L864.6,950.7M865.7,941L868.7,941M857.5,960.2L860.6,960.3M853.3,969.9L856.5,969.9M849.2,979.5L852.4,979.6M845.1,989.1L848.4,989.2M844.3,998.8L840.9,998.7M864.1,955.5L867.2,955.6M868.2,945.9L871.2,945.9M860.1,965.2L863.2,965.2M856.1,974.8L859.3,974.9M852,984.4L855.3,984.5M848,994.1L851.3,994.2M847.3,1003.9L843.9,1003.7M870.7,950.8L873.8,950.8M874.7,941.1L877.6,941.2M866.8,960.4L869.9,960.5M862.8,970.1L866,970.2M858.9,979.8L862.1,979.9M854.9,989.4L858.2,989.5M854.4,999.2L851,999.1M873.4,955.7L876.4,955.8M877.2,946L880.2,946.1M869.5,965.4L872.6,965.5M865.7,975.1L868.9,975.1M861.8,984.7L865.1,984.8M858,994.4L861.3,994.5M857.5,1004.2L854.1,1004.1M879.8,950.9L882.9,951M883.6,941.2L886.6,941.3M876.1,960.6L879.2,960.7M872.3,970.3L875.5,970.4M868.6,980L871.8,980.1M864.8,989.7L868.1,989.9M864.5,999.6L861.1,999.5M882.6,955.9L885.6,955.9M886.2,946.1L889.2,946.2M878.9,965.6L882,965.7M875.3,975.3L878.5,975.4M871.6,985L874.9,985.1M868,994.8L871.3,994.9M867.7,1004.6L864.3,1004.5M888.9,951.1L892,951.1M892.5,941.3L895.5,941.4M885.4,960.8L888.5,960.9M881.8,970.6L885,970.7M878.3,980.3L881.5,980.4M874.7,990.1L878,990.2M874.5,999.9L871.2,999.8M891.8,956L894.8,956.1M895.2,946.3L898.2,946.3M888.3,965.8L891.4,965.9M884.9,975.6L888.1,975.7M881.4,985.3L884.7,985.4M877.9,995.1L881.3,995.2M877.9,1005L874.5,1004.9M898.1,951.2L901.1,951.3M901.4,941.4L904.4,941.5M894.7,961L897.8,961.1M891.3,970.8L894.5,970.9M888,980.6L891.2,980.7M884.6,990.4L887.9,990.5M884.6,1000.3L881.3,1000.2M901,956.2L904,956.3M904.2,946.4L907.2,946.5M897.7,966L900.9,966.1M894.5,975.8L897.7,975.9M891.2,985.6L894.5,985.7M887.9,995.5L891.3,995.6M888.1,1005.4L884.7,1005.3M907.2,951.4L910.2,951.4M910.3,941.6L913.3,941.6M904,961.2L907.1,961.3M900.8,971.1L904,971.1M897.7,980.9L900.9,981M894.5,990.7L897.8,990.8M894.7,1000.7L891.3,1000.5M910.2,956.4L913.3,956.5M913.3,946.5L916.3,946.6M907.1,966.2L910.3,966.3M904.1,976.1L907.3,976.2M901,985.9L904.3,986M897.9,995.8L901.3,995.9M898.3,1005.8L894.9,1005.7M916.3,951.5L919.3,951.6M919.2,941.7L922.2,941.7M913.3,961.4L916.4,961.5M910.3,971.3L913.5,971.4M907.4,981.2L910.6,981.3M904.4,991L907.7,991.1M904.8,1001L901.4,1000.9M919.4,956.6L922.5,956.6M922.3,946.7L925.3,946.7M916.5,966.5L919.7,966.5M913.7,976.4L916.9,976.4M910.8,986.2L914,986.3M907.9,996.1L911.2,996.3M908.4,1006.2L905,1006M925.4,951.7L928.4,951.7M928.2,941.8L931.1,941.8M922.6,961.6L925.7,961.7M919.8,971.5L923,971.6M917.1,981.4L920.3,981.5M914.3,991.4L917.6,991.5M914.9,1001.4L911.5,1001.3M928.6,956.7L931.7,956.8M931.3,946.8L934.3,946.8M925.9,966.7L929.1,966.7M923.3,976.6L926.5,976.7M920.6,986.5L923.8,986.6M917.9,996.5L921.2,996.6M918.6,1006.6L915.2,1006.4M934.5,951.8L937.5,951.9M937.1,941.9L940.1,941.9M931.9,961.8L935,961.9M929.3,971.8L932.5,971.8M926.8,981.7L930,981.8M924.2,991.7L927.5,991.8M925,1001.8L921.6,1001.6M937.8,956.9L940.9,957M940.3,946.9L943.3,947M935.3,966.9L938.5,967M932.9,976.9L936.1,977M930.4,986.8L933.6,986.9M927.9,996.8L931.2,996.9M928.8,1006.9L925.4,1006.8M782.6,949.3L787,944.7M779.6,949.3L781,944.6M781,944.6L785.5,940M788.5,940.1L787,944.7M776.8,958.6L781.3,954M773.7,958.5L775.1,953.8M775.1,953.8L779.6,949.3M781.3,954L782.6,949.3M771,967.8L775.5,963.2M767.8,967.7L769.2,963.1M769.2,963.1L773.7,958.5M775.5,963.2L776.8,958.6M765.2,977.1L769.7,972.5M761.9,977L763.3,972.3M763.3,972.3L767.8,967.7M769.7,972.5L771,967.8M759.3,986.3L763.9,981.7M756,986.2L757.3,981.5M757.3,981.5L761.9,977M763.9,981.7L765.2,977.1M753.5,995.6L758.1,991M750.1,995.4L751.4,990.8M751.4,990.8L756,986.2M758.1,991L759.3,986.3M784.3,954L788.7,949.4M788.7,949.4L790.1,944.7M778.6,963.3L783,958.7M783,958.7L784.3,954M772.9,972.6L777.3,968M777.3,968L778.6,963.3M767.1,981.8L771.6,977.2M771.6,977.2L772.9,972.6M761.4,991.1L765.9,986.5M765.9,986.5L767.1,981.8M760.2,995.8L755.7,1000.4M752.3,1000.3L753.5,995.6M760.2,995.8L761.4,991.1M791.7,949.5L796.1,944.8M790.1,944.7L794.4,940.1M797.4,940.2L796.1,944.8M786.1,958.8L790.5,954.1M790.5,954.1L791.7,949.5M780.5,968L784.9,963.4M784.9,963.4L786.1,958.8M774.9,977.3L779.3,972.7M779.3,972.7L780.5,968M769.2,986.6L773.7,982M773.7,982L774.9,977.3M763.6,995.9L768.1,991.3M768.1,991.3L769.2,986.6M793.5,954.2L797.8,949.6M797.8,949.6L799.1,944.9M788,963.5L792.3,958.9M792.3,958.9L793.5,954.2M782.5,972.8L786.8,968.2M786.8,968.2L788,963.5M776.9,982.1L781.3,977.5M781.3,977.5L782.5,972.8M771.4,991.5L775.8,986.9M775.8,986.9L776.9,982.1M770.3,996.2L765.9,1000.8M762.5,1000.6L763.6,995.9M770.3,996.2L771.4,991.5M800.9,949.6L805.1,945M799.1,944.9L803.3,940.2M806.3,940.3L805.1,945M795.4,958.9L799.7,954.3M799.7,954.3L800.9,949.6M790,968.3L794.3,963.7M794.3,963.7L795.4,958.9M784.5,977.6L788.9,973M788.9,973L790,968.3M779.1,987L783.5,982.3M783.5,982.3L784.5,977.6M773.7,996.3L778.1,991.7M778.1,991.7L779.1,987M802.7,954.4L806.9,949.7M806.9,949.7L808.1,945M797.4,963.7L801.6,959.1M801.6,959.1L802.7,954.4M792.1,973.1L796.3,968.4M796.3,968.4L797.4,963.7M786.7,982.4L791,977.8M791,977.8L792.1,973.1M781.4,991.8L785.7,987.2M785.7,987.2L786.7,982.4M780.4,996.5L776.1,1001.2M772.7,1001L773.7,996.3M780.4,996.5L781.4,991.8M810,949.8L814.1,945.1M808.1,945L812.2,940.3M815.2,940.4L814.1,945.1M804.7,959.1L808.9,954.5M808.9,954.5L810,949.8M799.5,968.5L803.7,963.9M803.7,963.9L804.7,959.1M794.2,977.9L798.5,973.3M798.5,973.3L799.5,968.5M789,987.3L793.3,982.6M793.3,982.6L794.2,977.9M783.8,996.7L788,992M788,992L789,987.3M812,954.5L816,949.9M816,949.9L817.1,945.1M806.8,963.9L810.9,959.3M810.9,959.3L812,954.5M801.7,973.3L805.8,968.7M805.8,968.7L806.8,963.9M796.5,982.7L800.7,978.1M800.7,978.1L801.7,973.3M791.4,992.1L795.6,987.5M795.6,987.5L796.5,982.7M790.5,996.9L786.2,1001.5M782.8,1001.4L783.8,996.7M790.5,996.9L791.4,992.1M819.1,949.9L823.1,945.2M817.1,945.1L821.2,940.5M824.1,940.5L823.1,945.2M814,959.3L818.1,954.7M818.1,954.7L819.1,949.9M809,968.8L813.1,964.1M813.1,964.1L814,959.3M803.9,978.2L808.1,973.5M808.1,973.5L809,968.8M798.9,987.6L803.1,982.9M803.1,982.9L803.9,978.2M793.8,997L798,992.4M798,992.4L798.9,987.6M821.2,954.7L825.2,950M825.2,950L826.1,945.3M816.2,964.2L820.2,959.5M820.2,959.5L821.2,954.7M811.3,973.6L815.3,968.9M815.3,968.9L816.2,964.2M806.3,983L810.4,978.4M810.4,978.4L811.3,973.6M801.4,992.5L805.5,987.8M805.5,987.8L806.3,983M800.6,997.3L796.4,1001.9M793,1001.8L793.8,997M800.6,997.3L801.4,992.5M828.2,950.1L832.1,945.4M826.1,945.3L830.1,940.6M833,940.6L832.1,945.4M823.3,959.5L827.3,954.8M827.3,954.8L828.2,950.1M818.5,969L822.5,964.3M822.5,964.3L823.3,959.5M813.6,978.5L817.7,973.8M817.7,973.8L818.5,969M808.8,987.9L812.8,983.2M812.8,983.2L813.6,978.5M803.9,997.4L808,992.7M808,992.7L808.8,987.9M830.4,954.9L834.3,950.2M834.3,950.2L835.1,945.4M825.6,964.4L829.5,959.7M829.5,959.7L830.4,954.9M820.9,973.9L824.8,969.2M824.8,969.2L825.6,964.4M816.1,983.3L820.1,978.6M820.1,978.6L820.9,973.9M811.4,992.8L815.4,988.1M815.4,988.1L816.1,983.3M810.7,997.6L806.6,1002.3M803.2,1002.2L803.9,997.4M810.7,997.6L811.4,992.8M837.3,950.2L841.1,945.5M835.1,945.4L839,940.7M842,940.7L841.1,945.5M832.6,959.7L836.5,955M836.5,955L837.3,950.2M828,969.2L831.9,964.5M831.9,964.5L832.6,959.7M823.3,978.7L827.3,974M827.3,974L828,969.2M818.7,988.2L822.6,983.5M822.6,983.5L823.3,978.7M814,997.8L818,993.1M818,993.1L818.7,988.2M839.6,955.1L843.4,950.3M843.4,950.3L844.1,945.5M835,964.6L838.9,959.9M838.9,959.9L839.6,955.1M830.5,974.1L834.3,969.4M834.3,969.4L835,964.6M825.9,983.6L829.8,978.9M829.8,978.9L830.5,974.1M821.3,993.2L825.3,988.5M825.3,988.5L825.9,983.6M820.7,998L816.8,1002.7M813.4,1002.6L814,997.8M820.7,998L821.3,993.2M846.4,950.4L850.2,945.6M844.1,945.5L847.9,940.8M850.9,940.8L850.2,945.6M842,959.9L845.7,955.2M845.7,955.2L846.4,950.4M837.5,969.5L841.3,964.7M841.3,964.7L842,959.9M833,979L836.9,974.3M836.9,974.3L837.5,969.5M828.6,988.6L832.4,983.8M832.4,983.8L833,979M824.1,998.1L828,993.4M828,993.4L828.6,988.6M848.8,955.2L852.5,950.5M852.5,950.5L853.2,945.7M844.4,964.8L848.2,960.1M848.2,960.1L848.8,955.2M840.1,974.4L843.8,969.6M843.8,969.6L844.4,964.8M835.7,983.9L839.5,979.2M839.5,979.2L840.1,974.4M831.3,993.5L835.2,988.8M835.2,988.8L835.7,983.9M830.8,998.4L827,1003.1M823.6,1003L824.1,998.1M830.8,998.4L831.3,993.5M855.5,950.5L859.2,945.8M853.2,945.7L856.8,940.9M859.8,940.9L859.2,945.8M851.3,960.1L854.9,955.4M854.9,955.4L855.5,950.5M847,969.7L850.7,964.9M850.7,964.9L851.3,960.1M842.7,979.3L846.5,974.5M846.5,974.5L847,969.7M838.5,988.9L842.2,984.1M842.2,984.1L842.7,979.3M834.2,998.5L838,993.7M838,993.7L838.5,988.9M858,955.4L861.6,950.6M861.6,950.6L862.2,945.8M853.8,965L857.5,960.2M857.5,960.2L858,955.4M849.7,974.6L853.3,969.9M853.3,969.9L853.8,965M845.5,984.2L849.2,979.5M849.2,979.5L849.7,974.6M841.3,993.9L845.1,989.1M845.1,989.1L845.5,984.2M840.9,998.7L837.2,1003.5M833.8,1003.3L834.2,998.5M840.9,998.7L841.3,993.9M864.6,950.7L868.2,945.9M862.2,945.8L865.7,941M868.7,941L868.2,945.9M860.6,960.3L864.1,955.5M864.1,955.5L864.6,950.7M856.5,969.9L860.1,965.2M860.1,965.2L860.6,960.3M852.4,979.6L856.1,974.8M856.1,974.8L856.5,969.9M848.4,989.2L852,984.4M852,984.4L852.4,979.6M844.3,998.8L848,994.1M848,994.1L848.4,989.2M867.2,955.6L870.7,950.8M870.7,950.8L871.2,945.9M863.2,965.2L866.8,960.4M866.8,960.4L867.2,955.6M859.3,974.9L862.8,970.1M862.8,970.1L863.2,965.2M855.3,984.5L858.9,979.8M858.9,979.8L859.3,974.9M851.3,994.2L854.9,989.4M854.9,989.4L855.3,984.5M851,999.1L847.3,1003.9M843.9,1003.7L844.3,998.8M851,999.1L851.3,994.2M873.8,950.8L877.2,946M871.2,945.9L874.7,941.1M877.6,941.2L877.2,946M869.9,960.5L873.4,955.7M873.4,955.7L873.8,950.8M866,970.2L869.5,965.4M869.5,965.4L869.9,960.5M862.1,979.9L865.7,975.1M865.7,975.1L866,970.2M858.2,989.5L861.8,984.7M861.8,984.7L862.1,979.9M854.4,999.2L858,994.4M858,994.4L858.2,989.5M876.4,955.8L879.8,950.9M879.8,950.9L880.2,946.1M872.6,965.5L876.1,960.6M876.1,960.6L876.4,955.8M868.9,975.1L872.3,970.3M872.3,970.3L872.6,965.5M865.1,984.8L868.6,980M868.6,980L868.9,975.1M861.3,994.5L864.8,989.7M864.8,989.7L865.1,984.8M861.1,999.5L857.5,1004.2M854.1,1004.1L854.4,999.2M861.1,999.5L861.3,994.5M882.9,951L886.2,946.1M880.2,946.1L883.6,941.2M886.6,941.3L886.2,946.1M879.2,960.7L882.6,955.9M882.6,955.9L882.9,951M875.5,970.4L878.9,965.6M878.9,965.6L879.2,960.7M871.8,980.1L875.3,975.3M875.3,975.3L875.5,970.4M868.1,989.9L871.6,985M871.6,985L871.8,980.1M864.5,999.6L868,994.8M868,994.8L868.1,989.9M885.6,955.9L888.9,951.1M888.9,951.1L889.2,946.2M882,965.7L885.4,960.8M885.4,960.8L885.6,955.9M878.5,975.4L881.8,970.6M881.8,970.6L882,965.7M874.9,985.1L878.3,980.3M878.3,980.3L878.5,975.4M871.3,994.9L874.7,990.1M874.7,990.1L874.9,985.1M871.2,999.8L867.7,1004.6M864.3,1004.5L864.5,999.6M871.2,999.8L871.3,994.9M892,951.1L895.2,946.3M889.2,946.2L892.5,941.3M895.5,941.4L895.2,946.3M888.5,960.9L891.8,956M891.8,956L892,951.1M885,970.7L888.3,965.8M888.3,965.8L888.5,960.9M881.5,980.4L884.9,975.6M884.9,975.6L885,970.7M878,990.2L881.4,985.3M881.4,985.3L881.5,980.4M874.5,999.9L877.9,995.1M877.9,995.1L878,990.2M894.8,956.1L898.1,951.2M898.1,951.2L898.2,946.3M891.4,965.9L894.7,961M894.7,961L894.8,956.1M888.1,975.7L891.3,970.8M891.3,970.8L891.4,965.9M884.7,985.4L888,980.6M888,980.6L888.1,975.7M881.3,995.2L884.6,990.4M884.6,990.4L884.7,985.4M881.3,1000.2L877.9,1005M874.5,1004.9L874.5,999.9M881.3,1000.2L881.3,995.2M901.1,951.3L904.2,946.4M898.2,946.3L901.4,941.4M904.4,941.5L904.2,946.4M897.8,961.1L901,956.2M901,956.2L901.1,951.3M894.5,970.9L897.7,966M897.7,966L897.8,961.1M891.2,980.7L894.5,975.8M894.5,975.8L894.5,970.9M887.9,990.5L891.2,985.6M891.2,985.6L891.2,980.7M884.6,1000.3L887.9,995.5M887.9,995.5L887.9,990.5M904,956.3L907.2,951.4M907.2,951.4L907.2,946.5M900.9,966.1L904,961.2M904,961.2L904,956.3M897.7,975.9L900.8,971.1M900.8,971.1L900.9,966.1M894.5,985.7L897.7,980.9M897.7,980.9L897.7,975.9M891.3,995.6L894.5,990.7M894.5,990.7L894.5,985.7M891.3,1000.5L888.1,1005.4M884.7,1005.3L884.6,1000.3M891.3,1000.5L891.3,995.6M910.2,951.4L913.3,946.5M907.2,946.5L910.3,941.6M913.3,941.6L913.3,946.5M907.1,961.3L910.2,956.4M910.2,956.4L910.2,951.4M904,971.1L907.1,966.2M907.1,966.2L907.1,961.3M900.9,981L904.1,976.1M904.1,976.1L904,971.1M897.8,990.8L901,985.9M901,985.9L900.9,981M894.7,1000.7L897.9,995.8M897.9,995.8L897.8,990.8M913.3,956.5L916.3,951.5M916.3,951.5L916.3,946.6M910.3,966.3L913.3,961.4M913.3,961.4L913.3,956.5M907.3,976.2L910.3,971.3M910.3,971.3L910.3,966.3M904.3,986L907.4,981.2M907.4,981.2L907.3,976.2M901.3,995.9L904.4,991M904.4,991L904.3,986M901.4,1000.9L898.3,1005.8M894.9,1005.7L894.7,1000.7M901.4,1000.9L901.3,995.9M919.3,951.6L922.3,946.7M916.3,946.6L919.2,941.7M922.2,941.7L922.3,946.7M916.4,961.5L919.4,956.6M919.4,956.6L919.3,951.6M913.5,971.4L916.5,966.5M916.5,966.5L916.4,961.5M910.6,981.3L913.7,976.4M913.7,976.4L913.5,971.4M907.7,991.1L910.8,986.2M910.8,986.2L910.6,981.3M904.8,1001L907.9,996.1M907.9,996.1L907.7,991.1M922.5,956.6L925.4,951.7M925.4,951.7L925.3,946.7M919.7,966.5L922.6,961.6M922.6,961.6L922.5,956.6M916.9,976.4L919.8,971.5M919.8,971.5L919.7,966.5M914,986.3L917.1,981.4M917.1,981.4L916.9,976.4M911.2,996.3L914.3,991.4M914.3,991.4L914,986.3M911.5,1001.3L908.4,1006.2M905,1006L904.8,1001M911.5,1001.3L911.2,996.3M928.4,951.7L931.3,946.8M925.3,946.7L928.2,941.8M931.1,941.8L931.3,946.8M925.7,961.7L928.6,956.7M928.6,956.7L928.4,951.7M923,971.6L925.9,966.7M925.9,966.7L925.7,961.7M920.3,981.5L923.3,976.6M923.3,976.6L923,971.6M917.6,991.5L920.6,986.5M920.6,986.5L920.3,981.5M914.9,1001.4L917.9,996.5M917.9,996.5L917.6,991.5M931.7,956.8L934.5,951.8M934.5,951.8L934.3,946.8M929.1,966.7L931.9,961.8M931.9,961.8L931.7,956.8M926.5,976.7L929.3,971.8M929.3,971.8L929.1,966.7M923.8,986.6L926.8,981.7M926.8,981.7L926.5,976.7M921.2,996.6L924.2,991.7M924.2,991.7L923.8,986.6M921.6,1001.6L918.6,1006.6M915.2,1006.4L914.9,1001.4M921.6,1001.6L921.2,996.6M937.5,951.9L940.3,946.9M934.3,946.8L937.1,941.9M940.1,941.9L940.3,946.9M935,961.9L937.8,956.9M937.8,956.9L937.5,951.9M932.5,971.8L935.3,966.9M935.3,966.9L935,961.9M930,981.8L932.9,976.9M932.9,976.9L932.5,971.8M927.5,991.8L930.4,986.8M930.4,986.8L930,981.8M925,1001.8L927.9,996.8M927.9,996.8L927.5,991.8M943.6,952L940.9,957M943.3,947L943.6,952M941.2,962L938.5,967M940.9,957L941.2,962M938.8,972L936.1,977M938.5,967L938.8,972M936.5,982L933.6,986.9M936.1,977L936.5,982M934.1,992L931.2,996.9M933.6,986.9L934.1,992M931.7,1002L928.8,1006.9M925.4,1006.8L925,1001.8M931.2,996.9L931.7,1002" stroke="#c88834" stroke-width="3.4"/>
<path d="M779.6,949.3L782.6,949.3M785.5,940L788.5,940.1M773.7,958.5L776.8,958.6M767.8,967.7L771,967.8M761.9,977L765.2,977.1M756,986.2L759.3,986.3M753.5,995.6L750.1,995.4M781.3,954L784.3,954M787,944.7L790.1,944.7M775.5,963.2L778.6,963.3M769.7,972.5L772.9,972.6M763.9,981.7L767.1,981.8M758.1,991L761.4,991.1M755.7,1000.4L752.3,1000.3M788.7,949.4L791.7,949.5M794.4,940.1L797.4,940.2M783,958.7L786.1,958.8M777.3,968L780.5,968M771.6,977.2L774.9,977.3M765.9,986.5L769.2,986.6M763.6,995.9L760.2,995.8M790.5,954.1L793.5,954.2M796.1,944.8L799.1,944.9M784.9,963.4L788,963.5M779.3,972.7L782.5,972.8M773.7,982L776.9,982.1M768.1,991.3L771.4,991.5M765.9,1000.8L762.5,1000.6M797.8,949.6L800.9,949.6M803.3,940.2L806.3,940.3M792.3,958.9L795.4,958.9M786.8,968.2L790,968.3M781.3,977.5L784.5,977.6M775.8,986.9L779.1,987M773.7,996.3L770.3,996.2M799.7,954.3L802.7,954.4M805.1,945L808.1,945M794.3,963.7L797.4,963.7M788.9,973L792.1,973.1M783.5,982.3L786.7,982.4M778.1,991.7L781.4,991.8M776.1,1001.2L772.7,1001M806.9,949.7L810,949.8M812.2,940.3L815.2,940.4M801.6,959.1L804.7,959.1M796.3,968.4L799.5,968.5M791,977.8L794.2,977.9M785.7,987.2L789,987.3M783.8,996.7L780.4,996.5M808.9,954.5L812,954.5M814.1,945.1L817.1,945.1M803.7,963.9L806.8,963.9M798.5,973.3L801.7,973.3M793.3,982.6L796.5,982.7M788,992L791.4,992.1M786.2,1001.5L782.8,1001.4M816,949.9L819.1,949.9M821.2,940.5L824.1,940.5M810.9,959.3L814,959.3M805.8,968.7L809,968.8M800.7,978.1L803.9,978.2M795.6,987.5L798.9,987.6M793.8,997L790.5,996.9M818.1,954.7L821.2,954.7M823.1,945.2L826.1,945.3M813.1,964.1L816.2,964.2M808.1,973.5L811.3,973.6M803.1,982.9L806.3,983M798,992.4L801.4,992.5M796.4,1001.9L793,1001.8M825.2,950L828.2,950.1M830.1,940.6L833,940.6M820.2,959.5L823.3,959.5M815.3,968.9L818.5,969M810.4,978.4L813.6,978.5M805.5,987.8L808.8,987.9M803.9,997.4L800.6,997.3M827.3,954.8L830.4,954.9M832.1,945.4L835.1,945.4M822.5,964.3L825.6,964.4M817.7,973.8L820.9,973.9M812.8,983.2L816.1,983.3M808,992.7L811.4,992.8M806.6,1002.3L803.2,1002.2M834.3,950.2L837.3,950.2M839,940.7L842,940.7M829.5,959.7L832.6,959.7M824.8,969.2L828,969.2M820.1,978.6L823.3,978.7M815.4,988.1L818.7,988.2M814,997.8L810.7,997.6M836.5,955L839.6,955.1M841.1,945.5L844.1,945.5M831.9,964.5L835,964.6M827.3,974L830.5,974.1M822.6,983.5L825.9,983.6M818,993.1L821.3,993.2M816.8,1002.7L813.4,1002.6M843.4,950.3L846.4,950.4M847.9,940.8L850.9,940.8M838.9,959.9L842,959.9M834.3,969.4L837.5,969.5M829.8,978.9L833,979M825.3,988.5L828.6,988.6M824.1,998.1L820.7,998M845.7,955.2L848.8,955.2M850.2,945.6L853.2,945.7M841.3,964.7L844.4,964.8M836.9,974.3L840.1,974.4M832.4,983.8L835.7,983.9M828,993.4L831.3,993.5M827,1003.1L823.6,1003M852.5,950.5L855.5,950.5M856.8,940.9L859.8,940.9M848.2,960.1L851.3,960.1M843.8,969.6L847,969.7M839.5,979.2L842.7,979.3M835.2,988.8L838.5,988.9M834.2,998.5L830.8,998.4M854.9,955.4L858,955.4M859.2,945.8L862.2,945.8M850.7,964.9L853.8,965M846.5,974.5L849.7,974.6M842.2,984.1L845.5,984.2M838,993.7L841.3,993.9M837.2,1003.5L833.8,1003.3M861.6,950.6L864.6,950.7M865.7,941L868.7,941M857.5,960.2L860.6,960.3M853.3,969.9L856.5,969.9M849.2,979.5L852.4,979.6M845.1,989.1L848.4,989.2M844.3,998.8L840.9,998.7M864.1,955.5L867.2,955.6M868.2,945.9L871.2,945.9M860.1,965.2L863.2,965.2M856.1,974.8L859.3,974.9M852,984.4L855.3,984.5M848,994.1L851.3,994.2M847.3,1003.9L843.9,1003.7M870.7,950.8L873.8,950.8M874.7,941.1L877.6,941.2M866.8,960.4L869.9,960.5M862.8,970.1L866,970.2M858.9,979.8L862.1,979.9M854.9,989.4L858.2,989.5M854.4,999.2L851,999.1M873.4,955.7L876.4,955.8M877.2,946L880.2,946.1M869.5,965.4L872.6,965.5M865.7,975.1L868.9,975.1M861.8,984.7L865.1,984.8M858,994.4L861.3,994.5M857.5,1004.2L854.1,1004.1M879.8,950.9L882.9,951M883.6,941.2L886.6,941.3M876.1,960.6L879.2,960.7M872.3,970.3L875.5,970.4M868.6,980L871.8,980.1M864.8,989.7L868.1,989.9M864.5,999.6L861.1,999.5M882.6,955.9L885.6,955.9M886.2,946.1L889.2,946.2M878.9,965.6L882,965.7M875.3,975.3L878.5,975.4M871.6,985L874.9,985.1M868,994.8L871.3,994.9M867.7,1004.6L864.3,1004.5M888.9,951.1L892,951.1M892.5,941.3L895.5,941.4M885.4,960.8L888.5,960.9M881.8,970.6L885,970.7M878.3,980.3L881.5,980.4M874.7,990.1L878,990.2M874.5,999.9L871.2,999.8M891.8,956L894.8,956.1M895.2,946.3L898.2,946.3M888.3,965.8L891.4,965.9M884.9,975.6L888.1,975.7M881.4,985.3L884.7,985.4M877.9,995.1L881.3,995.2M877.9,1005L874.5,1004.9M898.1,951.2L901.1,951.3M901.4,941.4L904.4,941.5M894.7,961L897.8,961.1M891.3,970.8L894.5,970.9M888,980.6L891.2,980.7M884.6,990.4L887.9,990.5M884.6,1000.3L881.3,1000.2M901,956.2L904,956.3M904.2,946.4L907.2,946.5M897.7,966L900.9,966.1M894.5,975.8L897.7,975.9M891.2,985.6L894.5,985.7M887.9,995.5L891.3,995.6M888.1,1005.4L884.7,1005.3M907.2,951.4L910.2,951.4M910.3,941.6L913.3,941.6M904,961.2L907.1,961.3M900.8,971.1L904,971.1M897.7,980.9L900.9,981M894.5,990.7L897.8,990.8M894.7,1000.7L891.3,1000.5M910.2,956.4L913.3,956.5M913.3,946.5L916.3,946.6M907.1,966.2L910.3,966.3M904.1,976.1L907.3,976.2M901,985.9L904.3,986M897.9,995.8L901.3,995.9M898.3,1005.8L894.9,1005.7M916.3,951.5L919.3,951.6M919.2,941.7L922.2,941.7M913.3,961.4L916.4,961.5M910.3,971.3L913.5,971.4M907.4,981.2L910.6,981.3M904.4,991L907.7,991.1M904.8,1001L901.4,1000.9M919.4,956.6L922.5,956.6M922.3,946.7L925.3,946.7M916.5,966.5L919.7,966.5M913.7,976.4L916.9,976.4M910.8,986.2L914,986.3M907.9,996.1L911.2,996.3M908.4,1006.2L905,1006M925.4,951.7L928.4,951.7M928.2,941.8L931.1,941.8M922.6,961.6L925.7,961.7M919.8,971.5L923,971.6M917.1,981.4L920.3,981.5M914.3,991.4L917.6,991.5M914.9,1001.4L911.5,1001.3M928.6,956.7L931.7,956.8M931.3,946.8L934.3,946.8M925.9,966.7L929.1,966.7M923.3,976.6L926.5,976.7M920.6,986.5L923.8,986.6M917.9,996.5L921.2,996.6M918.6,1006.6L915.2,1006.4M934.5,951.8L937.5,951.9M937.1,941.9L940.1,941.9M931.9,961.8L935,961.9M929.3,971.8L932.5,971.8M926.8,981.7L930,981.8M924.2,991.7L927.5,991.8M925,1001.8L921.6,1001.6M937.8,956.9L940.9,957M940.3,946.9L943.3,947M935.3,966.9L938.5,967M932.9,976.9L936.1,977M930.4,986.8L933.6,986.9M927.9,996.8L931.2,996.9M928.8,1006.9L925.4,1006.8M782.6,949.3L787,944.7M779.6,949.3L781,944.6M781,944.6L785.5,940M788.5,940.1L787,944.7M776.8,958.6L781.3,954M773.7,958.5L775.1,953.8M775.1,953.8L779.6,949.3M781.3,954L782.6,949.3M771,967.8L775.5,963.2M767.8,967.7L769.2,963.1M769.2,963.1L773.7,958.5M775.5,963.2L776.8,958.6M765.2,977.1L769.7,972.5M761.9,977L763.3,972.3M763.3,972.3L767.8,967.7M769.7,972.5L771,967.8M759.3,986.3L763.9,981.7M756,986.2L757.3,981.5M757.3,981.5L761.9,977M763.9,981.7L765.2,977.1M753.5,995.6L758.1,991M750.1,995.4L751.4,990.8M751.4,990.8L756,986.2M758.1,991L759.3,986.3M784.3,954L788.7,949.4M788.7,949.4L790.1,944.7M778.6,963.3L783,958.7M783,958.7L784.3,954M772.9,972.6L777.3,968M777.3,968L778.6,963.3M767.1,981.8L771.6,977.2M771.6,977.2L772.9,972.6M761.4,991.1L765.9,986.5M765.9,986.5L767.1,981.8M760.2,995.8L755.7,1000.4M752.3,1000.3L753.5,995.6M760.2,995.8L761.4,991.1M791.7,949.5L796.1,944.8M790.1,944.7L794.4,940.1M797.4,940.2L796.1,944.8M786.1,958.8L790.5,954.1M790.5,954.1L791.7,949.5M780.5,968L784.9,963.4M784.9,963.4L786.1,958.8M774.9,977.3L779.3,972.7M779.3,972.7L780.5,968M769.2,986.6L773.7,982M773.7,982L774.9,977.3M763.6,995.9L768.1,991.3M768.1,991.3L769.2,986.6M793.5,954.2L797.8,949.6M797.8,949.6L799.1,944.9M788,963.5L792.3,958.9M792.3,958.9L793.5,954.2M782.5,972.8L786.8,968.2M786.8,968.2L788,963.5M776.9,982.1L781.3,977.5M781.3,977.5L782.5,972.8M771.4,991.5L775.8,986.9M775.8,986.9L776.9,982.1M770.3,996.2L765.9,1000.8M762.5,1000.6L763.6,995.9M770.3,996.2L771.4,991.5M800.9,949.6L805.1,945M799.1,944.9L803.3,940.2M806.3,940.3L805.1,945M795.4,958.9L799.7,954.3M799.7,954.3L800.9,949.6M790,968.3L794.3,963.7M794.3,963.7L795.4,958.9M784.5,977.6L788.9,973M788.9,973L790,968.3M779.1,987L783.5,982.3M783.5,982.3L784.5,977.6M773.7,996.3L778.1,991.7M778.1,991.7L779.1,987M802.7,954.4L806.9,949.7M806.9,949.7L808.1,945M797.4,963.7L801.6,959.1M801.6,959.1L802.7,954.4M792.1,973.1L796.3,968.4M796.3,968.4L797.4,963.7M786.7,982.4L791,977.8M791,977.8L792.1,973.1M781.4,991.8L785.7,987.2M785.7,987.2L786.7,982.4M780.4,996.5L776.1,1001.2M772.7,1001L773.7,996.3M780.4,996.5L781.4,991.8M810,949.8L814.1,945.1M808.1,945L812.2,940.3M815.2,940.4L814.1,945.1M804.7,959.1L808.9,954.5M808.9,954.5L810,949.8M799.5,968.5L803.7,963.9M803.7,963.9L804.7,959.1M794.2,977.9L798.5,973.3M798.5,973.3L799.5,968.5M789,987.3L793.3,982.6M793.3,982.6L794.2,977.9M783.8,996.7L788,992M788,992L789,987.3M812,954.5L816,949.9M816,949.9L817.1,945.1M806.8,963.9L810.9,959.3M810.9,959.3L812,954.5M801.7,973.3L805.8,968.7M805.8,968.7L806.8,963.9M796.5,982.7L800.7,978.1M800.7,978.1L801.7,973.3M791.4,992.1L795.6,987.5M795.6,987.5L796.5,982.7M790.5,996.9L786.2,1001.5M782.8,1001.4L783.8,996.7M790.5,996.9L791.4,992.1M819.1,949.9L823.1,945.2M817.1,945.1L821.2,940.5M824.1,940.5L823.1,945.2M814,959.3L818.1,954.7M818.1,954.7L819.1,949.9M809,968.8L813.1,964.1M813.1,964.1L814,959.3M803.9,978.2L808.1,973.5M808.1,973.5L809,968.8M798.9,987.6L803.1,982.9M803.1,982.9L803.9,978.2M793.8,997L798,992.4M798,992.4L798.9,987.6M821.2,954.7L825.2,950M825.2,950L826.1,945.3M816.2,964.2L820.2,959.5M820.2,959.5L821.2,954.7M811.3,973.6L815.3,968.9M815.3,968.9L816.2,964.2M806.3,983L810.4,978.4M810.4,978.4L811.3,973.6M801.4,992.5L805.5,987.8M805.5,987.8L806.3,983M800.6,997.3L796.4,1001.9M793,1001.8L793.8,997M800.6,997.3L801.4,992.5M828.2,950.1L832.1,945.4M826.1,945.3L830.1,940.6M833,940.6L832.1,945.4M823.3,959.5L827.3,954.8M827.3,954.8L828.2,950.1M818.5,969L822.5,964.3M822.5,964.3L823.3,959.5M813.6,978.5L817.7,973.8M817.7,973.8L818.5,969M808.8,987.9L812.8,983.2M812.8,983.2L813.6,978.5M803.9,997.4L808,992.7M808,992.7L808.8,987.9M830.4,954.9L834.3,950.2M834.3,950.2L835.1,945.4M825.6,964.4L829.5,959.7M829.5,959.7L830.4,954.9M820.9,973.9L824.8,969.2M824.8,969.2L825.6,964.4M816.1,983.3L820.1,978.6M820.1,978.6L820.9,973.9M811.4,992.8L815.4,988.1M815.4,988.1L816.1,983.3M810.7,997.6L806.6,1002.3M803.2,1002.2L803.9,997.4M810.7,997.6L811.4,992.8M837.3,950.2L841.1,945.5M835.1,945.4L839,940.7M842,940.7L841.1,945.5M832.6,959.7L836.5,955M836.5,955L837.3,950.2M828,969.2L831.9,964.5M831.9,964.5L832.6,959.7M823.3,978.7L827.3,974M827.3,974L828,969.2M818.7,988.2L822.6,983.5M822.6,983.5L823.3,978.7M814,997.8L818,993.1M818,993.1L818.7,988.2M839.6,955.1L843.4,950.3M843.4,950.3L844.1,945.5M835,964.6L838.9,959.9M838.9,959.9L839.6,955.1M830.5,974.1L834.3,969.4M834.3,969.4L835,964.6M825.9,983.6L829.8,978.9M829.8,978.9L830.5,974.1M821.3,993.2L825.3,988.5M825.3,988.5L825.9,983.6M820.7,998L816.8,1002.7M813.4,1002.6L814,997.8M820.7,998L821.3,993.2M846.4,950.4L850.2,945.6M844.1,945.5L847.9,940.8M850.9,940.8L850.2,945.6M842,959.9L845.7,955.2M845.7,955.2L846.4,950.4M837.5,969.5L841.3,964.7M841.3,964.7L842,959.9M833,979L836.9,974.3M836.9,974.3L837.5,969.5M828.6,988.6L832.4,983.8M832.4,983.8L833,979M824.1,998.1L828,993.4M828,993.4L828.6,988.6M848.8,955.2L852.5,950.5M852.5,950.5L853.2,945.7M844.4,964.8L848.2,960.1M848.2,960.1L848.8,955.2M840.1,974.4L843.8,969.6M843.8,969.6L844.4,964.8M835.7,983.9L839.5,979.2M839.5,979.2L840.1,974.4M831.3,993.5L835.2,988.8M835.2,988.8L835.7,983.9M830.8,998.4L827,1003.1M823.6,1003L824.1,998.1M830.8,998.4L831.3,993.5M855.5,950.5L859.2,945.8M853.2,945.7L856.8,940.9M859.8,940.9L859.2,945.8M851.3,960.1L854.9,955.4M854.9,955.4L855.5,950.5M847,969.7L850.7,964.9M850.7,964.9L851.3,960.1M842.7,979.3L846.5,974.5M846.5,974.5L847,969.7M838.5,988.9L842.2,984.1M842.2,984.1L842.7,979.3M834.2,998.5L838,993.7M838,993.7L838.5,988.9M858,955.4L861.6,950.6M861.6,950.6L862.2,945.8M853.8,965L857.5,960.2M857.5,960.2L858,955.4M849.7,974.6L853.3,969.9M853.3,969.9L853.8,965M845.5,984.2L849.2,979.5M849.2,979.5L849.7,974.6M841.3,993.9L845.1,989.1M845.1,989.1L845.5,984.2M840.9,998.7L837.2,1003.5M833.8,1003.3L834.2,998.5M840.9,998.7L841.3,993.9M864.6,950.7L868.2,945.9M862.2,945.8L865.7,941M868.7,941L868.2,945.9M860.6,960.3L864.1,955.5M864.1,955.5L864.6,950.7M856.5,969.9L860.1,965.2M860.1,965.2L860.6,960.3M852.4,979.6L856.1,974.8M856.1,974.8L856.5,969.9M848.4,989.2L852,984.4M852,984.4L852.4,979.6M844.3,998.8L848,994.1M848,994.1L848.4,989.2M867.2,955.6L870.7,950.8M870.7,950.8L871.2,945.9M863.2,965.2L866.8,960.4M866.8,960.4L867.2,955.6M859.3,974.9L862.8,970.1M862.8,970.1L863.2,965.2M855.3,984.5L858.9,979.8M858.9,979.8L859.3,974.9M851.3,994.2L854.9,989.4M854.9,989.4L855.3,984.5M851,999.1L847.3,1003.9M843.9,1003.7L844.3,998.8M851,999.1L851.3,994.2M873.8,950.8L877.2,946M871.2,945.9L874.7,941.1M877.6,941.2L877.2,946M869.9,960.5L873.4,955.7M873.4,955.7L873.8,950.8M866,970.2L869.5,965.4M869.5,965.4L869.9,960.5M862.1,979.9L865.7,975.1M865.7,975.1L866,970.2M858.2,989.5L861.8,984.7M861.8,984.7L862.1,979.9M854.4,999.2L858,994.4M858,994.4L858.2,989.5M876.4,955.8L879.8,950.9M879.8,950.9L880.2,946.1M872.6,965.5L876.1,960.6M876.1,960.6L876.4,955.8M868.9,975.1L872.3,970.3M872.3,970.3L872.6,965.5M865.1,984.8L868.6,980M868.6,980L868.9,975.1M861.3,994.5L864.8,989.7M864.8,989.7L865.1,984.8M861.1,999.5L857.5,1004.2M854.1,1004.1L854.4,999.2M861.1,999.5L861.3,994.5M882.9,951L886.2,946.1M880.2,946.1L883.6,941.2M886.6,941.3L886.2,946.1M879.2,960.7L882.6,955.9M882.6,955.9L882.9,951M875.5,970.4L878.9,965.6M878.9,965.6L879.2,960.7M871.8,980.1L875.3,975.3M875.3,975.3L875.5,970.4M868.1,989.9L871.6,985M871.6,985L871.8,980.1M864.5,999.6L868,994.8M868,994.8L868.1,989.9M885.6,955.9L888.9,951.1M888.9,951.1L889.2,946.2M882,965.7L885.4,960.8M885.4,960.8L885.6,955.9M878.5,975.4L881.8,970.6M881.8,970.6L882,965.7M874.9,985.1L878.3,980.3M878.3,980.3L878.5,975.4M871.3,994.9L874.7,990.1M874.7,990.1L874.9,985.1M871.2,999.8L867.7,1004.6M864.3,1004.5L864.5,999.6M871.2,999.8L871.3,994.9M892,951.1L895.2,946.3M889.2,946.2L892.5,941.3M895.5,941.4L895.2,946.3M888.5,960.9L891.8,956M891.8,956L892,951.1M885,970.7L888.3,965.8M888.3,965.8L888.5,960.9M881.5,980.4L884.9,975.6M884.9,975.6L885,970.7M878,990.2L881.4,985.3M881.4,985.3L881.5,980.4M874.5,999.9L877.9,995.1M877.9,995.1L878,990.2M894.8,956.1L898.1,951.2M898.1,951.2L898.2,946.3M891.4,965.9L894.7,961M894.7,961L894.8,956.1M888.1,975.7L891.3,970.8M891.3,970.8L891.4,965.9M884.7,985.4L888,980.6M888,980.6L888.1,975.7M881.3,995.2L884.6,990.4M884.6,990.4L884.7,985.4M881.3,1000.2L877.9,1005M874.5,1004.9L874.5,999.9M881.3,1000.2L881.3,995.2M901.1,951.3L904.2,946.4M898.2,946.3L901.4,941.4M904.4,941.5L904.2,946.4M897.8,961.1L901,956.2M901,956.2L901.1,951.3M894.5,970.9L897.7,966M897.7,966L897.8,961.1M891.2,980.7L894.5,975.8M894.5,975.8L894.5,970.9M887.9,990.5L891.2,985.6M891.2,985.6L891.2,980.7M884.6,1000.3L887.9,995.5M887.9,995.5L887.9,990.5M904,956.3L907.2,951.4M907.2,951.4L907.2,946.5M900.9,966.1L904,961.2M904,961.2L904,956.3M897.7,975.9L900.8,971.1M900.8,971.1L900.9,966.1M894.5,985.7L897.7,980.9M897.7,980.9L897.7,975.9M891.3,995.6L894.5,990.7M894.5,990.7L894.5,985.7M891.3,1000.5L888.1,1005.4M884.7,1005.3L884.6,1000.3M891.3,1000.5L891.3,995.6M910.2,951.4L913.3,946.5M907.2,946.5L910.3,941.6M913.3,941.6L913.3,946.5M907.1,961.3L910.2,956.4M910.2,956.4L910.2,951.4M904,971.1L907.1,966.2M907.1,966.2L907.1,961.3M900.9,981L904.1,976.1M904.1,976.1L904,971.1M897.8,990.8L901,985.9M901,985.9L900.9,981M894.7,1000.7L897.9,995.8M897.9,995.8L897.8,990.8M913.3,956.5L916.3,951.5M916.3,951.5L916.3,946.6M910.3,966.3L913.3,961.4M913.3,961.4L913.3,956.5M907.3,976.2L910.3,971.3M910.3,971.3L910.3,966.3M904.3,986L907.4,981.2M907.4,981.2L907.3,976.2M901.3,995.9L904.4,991M904.4,991L904.3,986M901.4,1000.9L898.3,1005.8M894.9,1005.7L894.7,1000.7M901.4,1000.9L901.3,995.9M919.3,951.6L922.3,946.7M916.3,946.6L919.2,941.7M922.2,941.7L922.3,946.7M916.4,961.5L919.4,956.6M919.4,956.6L919.3,951.6M913.5,971.4L916.5,966.5M916.5,966.5L916.4,961.5M910.6,981.3L913.7,976.4M913.7,976.4L913.5,971.4M907.7,991.1L910.8,986.2M910.8,986.2L910.6,981.3M904.8,1001L907.9,996.1M907.9,996.1L907.7,991.1M922.5,956.6L925.4,951.7M925.4,951.7L925.3,946.7M919.7,966.5L922.6,961.6M922.6,961.6L922.5,956.6M916.9,976.4L919.8,971.5M919.8,971.5L919.7,966.5M914,986.3L917.1,981.4M917.1,981.4L916.9,976.4M911.2,996.3L914.3,991.4M914.3,991.4L914,986.3M911.5,1001.3L908.4,1006.2M905,1006L904.8,1001M911.5,1001.3L911.2,996.3M928.4,951.7L931.3,946.8M925.3,946.7L928.2,941.8M931.1,941.8L931.3,946.8M925.7,961.7L928.6,956.7M928.6,956.7L928.4,951.7M923,971.6L925.9,966.7M925.9,966.7L925.7,961.7M920.3,981.5L923.3,976.6M923.3,976.6L923,971.6M917.6,991.5L920.6,986.5M920.6,986.5L920.3,981.5M914.9,1001.4L917.9,996.5M917.9,996.5L917.6,991.5M931.7,956.8L934.5,951.8M934.5,951.8L934.3,946.8M929.1,966.7L931.9,961.8M931.9,961.8L931.7,956.8M926.5,976.7L929.3,971.8M929.3,971.8L929.1,966.7M923.8,986.6L926.8,981.7M926.8,981.7L926.5,976.7M921.2,996.6L924.2,991.7M924.2,991.7L923.8,986.6M921.6,1001.6L918.6,1006.6M915.2,1006.4L914.9,1001.4M921.6,1001.6L921.2,996.6M937.5,951.9L940.3,946.9M934.3,946.8L937.1,941.9M940.1,941.9L940.3,946.9M935,961.9L937.8,956.9M937.8,956.9L937.5,951.9M932.5,971.8L935.3,966.9M935.3,966.9L935,961.9M930,981.8L932.9,976.9M932.9,976.9L932.5,971.8M927.5,991.8L930.4,986.8M930.4,986.8L930,981.8M925,1001.8L927.9,996.8M927.9,996.8L927.5,991.8M943.6,952L940.9,957M943.3,947L943.6,952M941.2,962L938.5,967M940.9,957L941.2,962M938.8,972L936.1,977M938.5,967L938.8,972M936.5,982L933.6,986.9M936.1,977L936.5,982M934.1,992L931.2,996.9M933.6,986.9L934.1,992M931.7,1002L928.8,1006.9M925.4,1006.8L925,1001.8M931.2,996.9L931.7,1002" stroke="#b87420" stroke-width="1.0"/>
<path d="M779.6,949.3h0M782.6,949.3h0M785.5,940h0M788.5,940.1h0M773.7,958.5h0M776.8,958.6h0M767.8,967.7h0M771,967.8h0M761.9,977h0M765.2,977.1h0M756,986.2h0M759.3,986.3h0M753.5,995.6h0M750.1,995.4h0M781.3,954h0M784.3,954h0M787,944.7h0M790.1,944.7h0M775.5,963.2h0M778.6,963.3h0M769.7,972.5h0M772.9,972.6h0M763.9,981.7h0M767.1,981.8h0M758.1,991h0M761.4,991.1h0M755.7,1000.4h0M752.3,1000.3h0M788.7,949.4h0M791.7,949.5h0M794.4,940.1h0M797.4,940.2h0M783,958.7h0M786.1,958.8h0M777.3,968h0M780.5,968h0M771.6,977.2h0M774.9,977.3h0M765.9,986.5h0M769.2,986.6h0M763.6,995.9h0M760.2,995.8h0M790.5,954.1h0M793.5,954.2h0M796.1,944.8h0M799.1,944.9h0M784.9,963.4h0M788,963.5h0M779.3,972.7h0M782.5,972.8h0M773.7,982h0M776.9,982.1h0M768.1,991.3h0M771.4,991.5h0M765.9,1000.8h0M762.5,1000.6h0M797.8,949.6h0M800.9,949.6h0M803.3,940.2h0M806.3,940.3h0M792.3,958.9h0M795.4,958.9h0M786.8,968.2h0M790,968.3h0M781.3,977.5h0M784.5,977.6h0M775.8,986.9h0M779.1,987h0M773.7,996.3h0M770.3,996.2h0M799.7,954.3h0M802.7,954.4h0M805.1,945h0M808.1,945h0M794.3,963.7h0M797.4,963.7h0M788.9,973h0M792.1,973.1h0M783.5,982.3h0M786.7,982.4h0M778.1,991.7h0M781.4,991.8h0M776.1,1001.2h0M772.7,1001h0M806.9,949.7h0M810,949.8h0M812.2,940.3h0M815.2,940.4h0M801.6,959.1h0M804.7,959.1h0M796.3,968.4h0M799.5,968.5h0M791,977.8h0M794.2,977.9h0M785.7,987.2h0M789,987.3h0M783.8,996.7h0M780.4,996.5h0M808.9,954.5h0M812,954.5h0M814.1,945.1h0M817.1,945.1h0M803.7,963.9h0M806.8,963.9h0M798.5,973.3h0M801.7,973.3h0M793.3,982.6h0M796.5,982.7h0M788,992h0M791.4,992.1h0M786.2,1001.5h0M782.8,1001.4h0M816,949.9h0M819.1,949.9h0M821.2,940.5h0M824.1,940.5h0M810.9,959.3h0M814,959.3h0M805.8,968.7h0M809,968.8h0M800.7,978.1h0M803.9,978.2h0M795.6,987.5h0M798.9,987.6h0M793.8,997h0M790.5,996.9h0M818.1,954.7h0M821.2,954.7h0M823.1,945.2h0M826.1,945.3h0M813.1,964.1h0M816.2,964.2h0M808.1,973.5h0M811.3,973.6h0M803.1,982.9h0M806.3,983h0M798,992.4h0M801.4,992.5h0M796.4,1001.9h0M793,1001.8h0M825.2,950h0M828.2,950.1h0M830.1,940.6h0M833,940.6h0M820.2,959.5h0M823.3,959.5h0M815.3,968.9h0M818.5,969h0M810.4,978.4h0M813.6,978.5h0M805.5,987.8h0M808.8,987.9h0M803.9,997.4h0M800.6,997.3h0M827.3,954.8h0M830.4,954.9h0M832.1,945.4h0M835.1,945.4h0M822.5,964.3h0M825.6,964.4h0M817.7,973.8h0M820.9,973.9h0M812.8,983.2h0M816.1,983.3h0M808,992.7h0M811.4,992.8h0M806.6,1002.3h0M803.2,1002.2h0M834.3,950.2h0M837.3,950.2h0M839,940.7h0M842,940.7h0M829.5,959.7h0M832.6,959.7h0M824.8,969.2h0M828,969.2h0M820.1,978.6h0M823.3,978.7h0M815.4,988.1h0M818.7,988.2h0M814,997.8h0M810.7,997.6h0M836.5,955h0M839.6,955.1h0M841.1,945.5h0M844.1,945.5h0M831.9,964.5h0M835,964.6h0M827.3,974h0M830.5,974.1h0M822.6,983.5h0M825.9,983.6h0M818,993.1h0M821.3,993.2h0M816.8,1002.7h0M813.4,1002.6h0M843.4,950.3h0M846.4,950.4h0M847.9,940.8h0M850.9,940.8h0M838.9,959.9h0M842,959.9h0M834.3,969.4h0M837.5,969.5h0M829.8,978.9h0M833,979h0M825.3,988.5h0M828.6,988.6h0M824.1,998.1h0M820.7,998h0M845.7,955.2h0M848.8,955.2h0M850.2,945.6h0M853.2,945.7h0M841.3,964.7h0M844.4,964.8h0M836.9,974.3h0M840.1,974.4h0M832.4,983.8h0M835.7,983.9h0M828,993.4h0M831.3,993.5h0M827,1003.1h0M823.6,1003h0M852.5,950.5h0M855.5,950.5h0M856.8,940.9h0M859.8,940.9h0M848.2,960.1h0M851.3,960.1h0M843.8,969.6h0M847,969.7h0M839.5,979.2h0M842.7,979.3h0M835.2,988.8h0M838.5,988.9h0M834.2,998.5h0M830.8,998.4h0M854.9,955.4h0M858,955.4h0M859.2,945.8h0M862.2,945.8h0M850.7,964.9h0M853.8,965h0M846.5,974.5h0M849.7,974.6h0M842.2,984.1h0M845.5,984.2h0M838,993.7h0M841.3,993.9h0M837.2,1003.5h0M833.8,1003.3h0M861.6,950.6h0M864.6,950.7h0M865.7,941h0M868.7,941h0M857.5,960.2h0M860.6,960.3h0M853.3,969.9h0M856.5,969.9h0M849.2,979.5h0M852.4,979.6h0M845.1,989.1h0M848.4,989.2h0M844.3,998.8h0M840.9,998.7h0M864.1,955.5h0M867.2,955.6h0M868.2,945.9h0M871.2,945.9h0M860.1,965.2h0M863.2,965.2h0M856.1,974.8h0M859.3,974.9h0M852,984.4h0M855.3,984.5h0M848,994.1h0M851.3,994.2h0M847.3,1003.9h0M843.9,1003.7h0M870.7,950.8h0M873.8,950.8h0M874.7,941.1h0M877.6,941.2h0M866.8,960.4h0M869.9,960.5h0M862.8,970.1h0M866,970.2h0M858.9,979.8h0M862.1,979.9h0M854.9,989.4h0M858.2,989.5h0M854.4,999.2h0M851,999.1h0M873.4,955.7h0M876.4,955.8h0M877.2,946h0M880.2,946.1h0M869.5,965.4h0M872.6,965.5h0M865.7,975.1h0M868.9,975.1h0M861.8,984.7h0M865.1,984.8h0M858,994.4h0M861.3,994.5h0M857.5,1004.2h0M854.1,1004.1h0M879.8,950.9h0M882.9,951h0M883.6,941.2h0M886.6,941.3h0M876.1,960.6h0M879.2,960.7h0M872.3,970.3h0M875.5,970.4h0M868.6,980h0M871.8,980.1h0M864.8,989.7h0M868.1,989.9h0M864.5,999.6h0M861.1,999.5h0M882.6,955.9h0M885.6,955.9h0M886.2,946.1h0M889.2,946.2h0M878.9,965.6h0M882,965.7h0M875.3,975.3h0M878.5,975.4h0M871.6,985h0M874.9,985.1h0M868,994.8h0M871.3,994.9h0M867.7,1004.6h0M864.3,1004.5h0M888.9,951.1h0M892,951.1h0M892.5,941.3h0M895.5,941.4h0M885.4,960.8h0M888.5,960.9h0M881.8,970.6h0M885,970.7h0M878.3,980.3h0M881.5,980.4h0M874.7,990.1h0M878,990.2h0M874.5,999.9h0M871.2,999.8h0M891.8,956h0M894.8,956.1h0M895.2,946.3h0M898.2,946.3h0M888.3,965.8h0M891.4,965.9h0M884.9,975.6h0M888.1,975.7h0M881.4,985.3h0M884.7,985.4h0M877.9,995.1h0M881.3,995.2h0M877.9,1005h0M874.5,1004.9h0M898.1,951.2h0M901.1,951.3h0M901.4,941.4h0M904.4,941.5h0M894.7,961h0M897.8,961.1h0M891.3,970.8h0M894.5,970.9h0M888,980.6h0M891.2,980.7h0M884.6,990.4h0M887.9,990.5h0M884.6,1000.3h0M881.3,1000.2h0M901,956.2h0M904,956.3h0M904.2,946.4h0M907.2,946.5h0M897.7,966h0M900.9,966.1h0M894.5,975.8h0M897.7,975.9h0M891.2,985.6h0M894.5,985.7h0M887.9,995.5h0M891.3,995.6h0M888.1,1005.4h0M884.7,1005.3h0M907.2,951.4h0M910.2,951.4h0M910.3,941.6h0M913.3,941.6h0M904,961.2h0M907.1,961.3h0M900.8,971.1h0M904,971.1h0M897.7,980.9h0M900.9,981h0M894.5,990.7h0M897.8,990.8h0M894.7,1000.7h0M891.3,1000.5h0M910.2,956.4h0M913.3,956.5h0M913.3,946.5h0M916.3,946.6h0M907.1,966.2h0M910.3,966.3h0M904.1,976.1h0M907.3,976.2h0M901,985.9h0M904.3,986h0M897.9,995.8h0M901.3,995.9h0M898.3,1005.8h0M894.9,1005.7h0M916.3,951.5h0M919.3,951.6h0M919.2,941.7h0M922.2,941.7h0M913.3,961.4h0M916.4,961.5h0M910.3,971.3h0M913.5,971.4h0M907.4,981.2h0M910.6,981.3h0M904.4,991h0M907.7,991.1h0M904.8,1001h0M901.4,1000.9h0M919.4,956.6h0M922.5,956.6h0M922.3,946.7h0M925.3,946.7h0M916.5,966.5h0M919.7,966.5h0M913.7,976.4h0M916.9,976.4h0M910.8,986.2h0M914,986.3h0M907.9,996.1h0M911.2,996.3h0M908.4,1006.2h0M905,1006h0M925.4,951.7h0M928.4,951.7h0M928.2,941.8h0M931.1,941.8h0M922.6,961.6h0M925.7,961.7h0M919.8,971.5h0M923,971.6h0M917.1,981.4h0M920.3,981.5h0M914.3,991.4h0M917.6,991.5h0M914.9,1001.4h0M911.5,1001.3h0M928.6,956.7h0M931.7,956.8h0M931.3,946.8h0M934.3,946.8h0M925.9,966.7h0M929.1,966.7h0M923.3,976.6h0M926.5,976.7h0M920.6,986.5h0M923.8,986.6h0M917.9,996.5h0M921.2,996.6h0M918.6,1006.6h0M915.2,1006.4h0M934.5,951.8h0M937.5,951.9h0M937.1,941.9h0M940.1,941.9h0M931.9,961.8h0M935,961.9h0M929.3,971.8h0M932.5,971.8h0M926.8,981.7h0M930,981.8h0M924.2,991.7h0M927.5,991.8h0M925,1001.8h0M921.6,1001.6h0M937.8,956.9h0M940.9,957h0M940.3,946.9h0M943.3,947h0M935.3,966.9h0M938.5,967h0M932.9,976.9h0M936.1,977h0M930.4,986.8h0M933.6,986.9h0M927.9,996.8h0M931.2,996.9h0M928.8,1006.9h0M925.4,1006.8h0M781,944.6h0M775.1,953.8h0M769.2,963.1h0M763.3,972.3h0M757.3,981.5h0M751.4,990.8h0M943.6,952h0M941.2,962h0M938.8,972h0M936.5,982h0M934.1,992h0M931.7,1002h0" stroke="#241000" stroke-width="2.9"/>
</g>
<path d="M805,971.5L806,971.4L807,971.3L808,971L809,970.7L810,970.2L811,969.7L812,969.1L813,968.5L814,967.8L815,967.1L816,966.4L817,965.7L818,965L819,964.4L820,963.8L821,963.3L822,962.8L823,962.5L824,962.2L825,962.1L826,962L827,962L828,962.1L829,962.2L830.1,962.4L831.1,962.6L832.1,962.9L833.1,963.2L834.1,963.6L835.1,964L836.1,964.4L837.2,964.9L838.2,965.3L839.2,965.9L840.2,966.4L841.2,966.9L842.2,967.5L843.2,968.1L844.3,968.6L845.3,969.2L846.3,969.8L847.3,970.3L848.3,970.8L849.3,971.4L850.3,971.8L851.4,972.3L852.4,972.7L853.4,973.1L854.4,973.5L855.4,973.8L856.4,974.1L857.4,974.3L858.5,974.5L859.5,974.6L860.5,974.7L861.5,974.7L862.5,974.7L863.5,974.6L864.5,974.5L865.6,974.4L866.6,974.2L867.6,974L868.6,973.8L869.6,973.5L870.6,973.2L871.6,972.9L872.7,972.5L873.7,972.1L874.7,971.8L875.7,971.3L876.7,970.9L877.7,970.5L878.7,970.1L879.8,969.6L880.8,969.2L881.8,968.8L882.8,968.4L883.8,967.9L884.8,967.6L885.8,967.2L886.9,966.8L887.9,966.5L888.9,966.2L889.9,965.9L890.9,965.7L891.9,965.5L892.9,965.3L894,965.2L895,965.1L896,965L897,965" fill="none" stroke="#2a3ea8" stroke-width="4.5" stroke-linecap="round"/>
<circle cx="905.9" cy="962.1" r="6.2" fill="#000"/>
<path d="M206.8,642.1L208.1,653.3L209.4,664.1L210.7,675.6L212,686.3L213.2,697.3L214.5,708.1L215.8,718.3L217.1,729.2L218.4,739.3L219.7,749.7L221,759.3L222.3,768.1L223.6,776L224.9,784.2L226.1,791.4L227.4,798L228.7,804.3L230,810.9L231.3,817.2L232.6,822.8L233.9,829.4L235.2,834.7L236.5,840.7L237.7,846.3L239,851.7L240.3,856.7L241.6,861.3L242.9,866.6L244.2,870.9L245.5,875.3L246.8,879.8L248.1,883.9L249.4,888.4L250.6,892.3L251.9,896.1L253.2,899.4L254.5,903.1L255.8,906.6L257.1,909.7L258.4,912.8L259.7,916L261,918.6L262.2,921.6L263.5,924.8L264.8,927.3L266.1,930.1L267.4,932.5L268.7,935.2L270,938.1L271.3,940L272.6,943L273.9,945.1L275.1,947.1L276.4,949.7L277.7,951.6L279,953.9L280.3,955.4L281.6,957.2L282.9,959.2L284.2,960.7L285.5,962.8L286.7,964.2L288,965.9L289.3,967.5L290.6,969.1L291.9,970.3L293.2,971.7L294.5,973.4L295.8,974.6L297.1,976.3L298.4,977.2L299.6,978.4L300.9,979.4L302.2,980.7L303.5,982.3L304.8,983.3L306.1,984.2L307.4,985.8L308.7,986.5L310,987.7L311.2,988.8L312.5,989.8L313.8,990.2L315.1,991.6L316.4,992.4L317.7,993.2L319,993.7L320.3,995.1L321.6,995.7L322.9,996.4L324.1,996.9L325.4,997.7L326.7,998.4L328,999.6L329.3,1000.2L330.6,1000.9L331.9,1001.2L333.2,1001.8L334.5,1003L335.8,1003.6L337,1004.2L338.3,1004.8L339.6,1005.2L340.9,1005.7L342.2,1006.4L343.5,1007.1L344.8,1007.4L346.1,1007.9L347.4,1008.3L348.6,1008.5L349.9,1009.1L351.2,1009.7L352.5,1010.1L353.8,1010.5L355.1,1011.4L356.4,1011.2L357.7,1011.7L359,1012L360.3,1012.5L361.5,1013.2L362.8,1013.7L364.1,1014.7L365.4,1014L366.7,1015.6L368,1015.9L369.3,1016L370.6,1016.5L371.9,1016.5L373.1,1017.5L374.4,1018L375.7,1018.1L377,1018.6L378.3,1018.4L379.6,1019.4L380.9,1018L382.2,1018.9L383.5,1020.2L384.8,1020.3L386,1020.3L387.3,1020.6L388.6,1021.3L389.9,1020.1L391.2,1020L392.5,1021.4L393.8,1021.6L395.1,1022.6L396.4,1022.8L397.6,1022.5L398.9,1022.9L400.2,1021.9L401.5,1023.5L402.8,1024L404.1,1022.2L405.4,1023.2L406.7,1024.2L408,1023.5L409.3,1024.8L410.5,1023.9L411.8,1023.1L413.1,1023.4L414.4,1023.9L415.7,1024.9L417,1024.8L418.3,1025.4L419.6,1024.2L420.9,1024.8L422.1,1024.4L423.4,1025.5L424.7,1025.8L426,1024.7L427.3,1024.4L428.6,1024.8L429.9,1025L431.2,1025.1L432.5,1025.3L433.8,1026.5L435,1026L436.3,1026.4L437.6,1027.2L438.9,1027.3L440.2,1026.8L441.5,1027L442.8,1026.2L444.1,1025.7L445.4,1026.8L446.6,1025.9L447.9,1025.9L449.2,1026L450.5,1027.3L451.8,1027.7L453.1,1027.8L454.4,1027.9L455.7,1028L457,1027.2L458.3,1026.7L459.5,1026.9L460.8,1027.7L462.1,1027.4L463.4,1027.2L464.7,1028.7L466,1027.6L467.3,1027.1L468.6,1027.5L469.9,1027.6L471.1,1028.2L472.4,1028.9L473.7,1027.7L475,1028.7L476.3,1027.8L477.6,1027.5L478.9,1028.8L480.2,1028.8L481.5,1027.8L482.8,1028.3L484,1029.5L485.3,1029.6L486.6,1029.7L487.9,1028.1L489.2,1028.4L490.5,1029.8L491.8,1028.5L493.1,1028.2L494.4,1028.9L495.6,1029.6L496.9,1029.3L498.2,1030.2L499.5,1030.5L500.8,1028.5L502.1,1029.2L503.4,1029.5L504.7,1028.7L506,1029.8L507.3,1029L508.5,1029.1L509.8,1030.4L511.1,1030.4L512.4,1030.3L513.7,1030.5L515,1029.8L516.3,1030.5L517.6,1030.2L518.9,1030.9L520.1,1029.3L521.4,1030.5L522.7,1030.3L524,1030.1L525.3,1029.4L526.6,1030.5L527.9,1029.4L529.2,1030.3L530.5,1030.3L531.8,1030.4L533,1031.5L534.3,1030.6L535.6,1031.2L536.9,1031.6L538.2,1029.9L539.5,1031.3L540.8,1030.7L542.1,1030.2L543.4,1030.5L544.6,1031.1L545.9,1030.7L547.2,1030.6L548.5,1030.2L549.8,1031.6L551.1,1030.7L552.4,1031.4L553.7,1031.3L555,1030.3L556.3,1030.9L557.5,1030.8L558.8,1030.4L560.1,1030.1L561.4,1031.1L562.7,1030.8L564,1031.1L565.3,1031.1L566.6,1030.7L567.9,1031.2L569.1,1031.1L570.4,1031.2L571.7,1030.3L573,1030.8L574.3,1030.5L575.6,1030.3L576.9,1031.8L578.2,1031.2L579.5,1030.4L580.8,1030.6L582,1032.1L583.3,1032.2L584.6,1031.5L585.9,1032.3L587.2,1032L588.5,1032.4L589.8,1031.1L591.1,1030.9L592.4,1030.7L593.7,1032.3L594.9,1031.1L596.2,1031.2L597.5,1032.3L598.8,1030.8L600.1,1030.6L601.4,1032.2L602.7,1030.7L604,1031.9L605.3,1031.7L606.5,1030.7L607.8,1031L609.1,1032.5L610.4,1031.9L611.7,1031.8L613,1032.1L614.3,1032.5L615.6,1032.2L616.9,1031.4L618.2,1032.9L619.4,1031.8L620.7,1032L622,1032.9L623.3,1032.3L624.6,1031.7L625.9,1031.9L627.2,1032.9L628.5,1031L629.8,1031.4L631,1031L632.3,1032.9L633.6,1032.5L634.9,1033L636.2,1031.5L637.5,1032.6L638.8,1032.9L640.1,1032.3L641.4,1031.3L642.7,1031.5L643.9,1032.7L645.2,1032.9L646.5,1031.3L647.8,1032.1L649.1,1031.8L650.4,1033.1L651.7,1033.2L653,1031.9L654.3,1032.4L655.5,1033.2L656.8,1031.4L658.1,1032L659.4,1031.7L660.7,1033.2L662,1031.6L663.3,1033.3L664.6,1031.6L665.9,1032.5L667.2,1032.7L668.4,1032.3L669.7,1031.5L671,1032.9L672.3,1033.2L673.6,1032.4L674.9,1033L676.2,1033.3L677.5,1033.2L678.8,1033.4L680,1033.1L681.3,1032.9L682.6,1032.9L683.9,1032L685.2,1033L686.5,1032.6L687.8,1033.3L689.1,1032.9L690.4,1033.6L691.7,1033.1L692.9,1033.6L694.2,1032.1L695.5,1032.5L696.8,1033.3L698.1,1032.7L699.4,1031.8L700.7,1033.5L702,1032L703.3,1032.8L704.5,1032.7L705.8,1032L707.1,1033L708.4,1032.7L709.7,1032.4L711,1031.7L712.3,1033.1L713.6,1032.1L714.9,1032.4L716.2,1032.5L717.4,1033L718.7,1033.1L720,1033.8L721.3,1033.6L722.6,1033.8L723.9,1032.4L725.2,1033.4L726.5,1033.6L727.8,1033.8L729,1032.2L730.3,1032.1L731.6,1032.6L732.9,1033.4L734.2,1033.5L735.5,1033.4L736.8,1033L738.1,1033.7L739.4,1033.1L740.7,1033.5L741.9,1032L743.2,1032L744.5,1032.9L745.8,1033.6L747.1,1032.1L748.4,1033.5L749.7,1033.4L751,1034.1L752.3,1033.3L753.5,1033.2L754.8,1033.1L756.1,1033.7L757.4,1033.1L758.7,1034.2L760,1033.6L761.3,1034L762.6,1033.4L763.9,1034.1L765.2,1034.2L766.4,1033.6L767.7,1033.8L769,1033.1L770.3,1033.2L771.6,1032.7L772.9,1032.9L774.2,1032.8L775.5,1032.5L776.8,1033.5L778,1033.7L779.3,1032.3L780.6,1034.1L781.9,1032.9L783.2,1033.1L784.5,1034.3L785.8,1032.7L787.1,1032.6L788.4,1033.1L789.7,1032.9L790.9,1032.8L792.2,1034.2L793.5,1033.4L794.8,1033.5L796.1,1032.8L797.4,1032.9L798.7,1032.8L800,1033.4L801.3,1032.7L802.5,1033.2L803.8,1033.2L805.1,1034.2L806.4,1034.6L807.7,1034.4L809,1033.9L810.3,1034.5L811.6,1032.9L812.9,1033.5L814.2,1033.4L815.4,1033.4L816.7,1033.3L818,1033.7L819.3,1034.8L820.6,1033.1L821.9,1033.2L823.2,1033.8L824.5,1033.7L825.8,1033.5L827,1034.7L828.3,1033.3L829.6,1034.4L830.9,1034.7L832.2,1034.4L833.5,1033.4L834.8,1034.5L836.1,1033.4L837.4,1032.9L838.7,1033.9L839.9,1034.2L841.2,1034L842.5,1033.6L843.8,1033.4L845.1,1033.8L846.4,1033.7L847.7,1034.9L849,1034.8L850.3,1034.6L851.5,1033.6L852.8,1034.5L854.1,1034L855.4,1035.1L856.7,1035L858,1034.6L859.3,1033.8L860.6,1033.8L861.9,1033.8L863.2,1034.6L864.4,1034.2L865.7,1034.3L867,1034.3L868.3,1035.1L869.6,1033.4L870.9,1034.9L872.2,1033.3L873.5,1033.4L874.8,1035.3L876.1,1034.4L877.3,1033.7L878.6,1033.4L879.9,1034.5L881.2,1034.9L882.5,1035L883.8,1033.5L885.1,1035L886.4,1034.3L887.7,1035.2L888.9,1034.4L890.2,1033.5L891.5,1035.3L892.8,1033.8L894.1,1034.5L895.4,1033.7L896.7,1034.1L898,1035.1L899.3,1033.8L900.6,1034.6L901.8,1035.6L903.1,1035.7L904.4,1034.7L905.7,1034.8L907,1035.1L908.3,1035.4L909.6,1035L910.9,1035.1L912.2,1034L913.4,1035.8L914.7,1034.2L916,1034.1L917.3,1035.6L918.6,1033.9L919.9,1034.4L921.2,1034L922.5,1035.3L923.8,1035.1L925.1,1035.1L926.3,1033.8L927.6,1034.7L928.9,1035.2L930.2,1035.1L931.5,1035.4L932.8,1035.9L934.1,1035.8L935.4,1034.3L936.7,1035.5L937.9,1034.1L939.2,1035.6L940.5,1035.5L941.8,1035L943.1,1035.7L944.4,1035.4L945.7,1034.1L947,1034.3L948.3,1034.5L949.6,1034.9L950.8,1034.3L952.1,1034.2L953.4,1035.1L954.7,1034.7L956,1036.2L957.3,1034.7L958.6,1035.3L959.9,1034.7L961.2,1035L962.4,1035.7L963.7,1036.2L965,1034.4L966.3,1036.1L967.6,1035.4L968.9,1035.7L970.2,1035.8L971.5,1034.9L972.8,1034.4L974.1,1035.9L975.3,1035.1L976.6,1035.9L977.9,1035.3L979.2,1035.7L980.5,1036.2" fill="none" stroke="#0a0a0a" stroke-width="2.6" stroke-linejoin="round"/>
<path d="M206.8,783.5L208.3,783L209.9,777.4L211.4,777L213,778L214.5,773.3L216.1,769.9L217.6,771.4L219.2,773.4L220.7,773.4L222.3,773.4L223.8,771L225.4,771L226.9,769.3L228.5,767.7L230,764.3L231.6,759.9L233.1,758.2L234.7,758.9L236.2,758.5L237.7,756.8L239.3,756.2L240.8,755.3L242.4,755.9L243.9,754L245.5,747.6L247,749.5L248.6,747L250.1,744.2L251.7,740.6L253.2,742.4L254.8,742.1L256.3,741.4L257.9,739.3L259.4,737.4L261,732.5L262.5,730.4L264.1,728.7L265.6,732.9L267.1,734.2L268.7,729.6L270.2,725.7L271.8,726.2L273.3,725.1L274.9,727.9L276.4,726L278,721.1L279.5,719L281.1,717.3L282.6,715.2L284.2,718.6L285.7,720.5L287.3,720.6L288.8,717.7L290.4,714.9L291.9,711.4L293.5,710.9L295,710.7L296.5,709.4L298.1,710.5L299.6,709.9L301.2,712.7L302.7,708.6L304.3,710.1L305.8,705.8L307.4,705.3L308.9,707L310.5,708.6L312,708.2L313.6,705.1L315.1,703L316.7,705.6L318.2,706.8L319.8,704L321.3,702L322.9,702.1L324.4,703L325.9,700.6L327.5,703.1L329,702L330.6,700.2L332.1,695.8L333.7,695.6L335.2,693.6L336.8,695.2L338.3,697.2L339.9,697.7L341.4,692.9L343,692.2L344.5,694.2L346.1,696.7L347.6,694.4L349.2,691.9L350.7,692.2L352.3,693.1L353.8,690.6L355.4,687.4L356.9,690.4L358.4,692.7L360,691.5L361.5,690.1L363.1,687.5L364.6,689.3L366.2,685.9L367.7,684.4L369.3,685.1L370.8,687.1L372.4,682.7L373.9,684.8L375.5,682.2L377,684.6L378.6,685.5L380.1,682.1L381.7,683.4L383.2,679.4L384.8,680.3L386.3,682.5L387.8,683L389.4,681.7L390.9,679.2L392.5,675.9L394,679.5L395.6,679.3L397.1,680.1L398.7,675.1L400.2,678.1L401.8,679.8L403.3,680.3L404.9,678L406.4,673.4L408,671.1L409.5,670.8L411.1,668.7L412.6,667.9L414.2,671.3L415.7,673.5L417.2,669.2L418.8,668.3L420.3,672.4L421.9,669.8L423.4,670.2L425,670.2L426.5,670.2L428.1,671.1L429.6,672.3L431.2,670.8L432.7,669.4L434.3,664.5L435.8,667.6L437.4,663.1L438.9,666L440.5,666L442,662.7L443.6,661L445.1,662.6L446.6,665.7L448.2,664L449.7,663.7L451.3,659.8L452.8,662.6L454.4,662.5L455.9,658.8L457.5,662.7L459,661.7L460.6,658.4L462.1,657L463.7,661L465.2,662.7L466.8,663.1L468.3,657.4L469.9,659L471.4,656.3L473,653.9L474.5,656.4L476,657.8L477.6,653.7L479.1,653.9L480.7,656.2L482.2,654L483.8,655.5L485.3,656.3L486.9,658.3L488.4,654L490,650.8L491.5,651.1L493.1,649L494.6,654L496.2,654.6L497.7,653.2L499.3,649.1L500.8,647.1L502.4,649.8L503.9,651.7L505.4,651.2L507,650.4L508.5,647L510.1,650.2L511.6,647.3L513.2,646.3L514.7,645.1L516.3,644.7L517.8,645.4L519.4,647.4L520.9,648.2L522.5,648.1L524,645L525.6,648.2L527.1,648.6L528.7,644.9L530.2,646.5L531.8,648.2L533.3,649L534.8,645.8L536.4,645.7L537.9,641.1L539.5,639.5L541,638L542.6,641.9L544.1,644.8L545.7,645.8L547.2,643.5L548.8,640.9L550.3,641.3L551.9,642.8L553.4,642.1L555,640.3L556.5,639L558.1,637.8L559.6,636.5L561.2,637L562.7,640.7L564.2,637.4L565.8,639.5L567.3,638.5L568.9,639.2L570.4,637L572,639.4L573.5,640.1L575.1,640.3L576.6,640.9L578.2,636.2L579.7,636L581.3,637.4L582.8,637.5L584.4,633.5L585.9,634.8L587.5,637.1L589,634.2L590.6,633.8L592.1,631.3L593.7,635.9L595.2,635.5L596.7,632.8L598.3,631.4L599.8,630.2L601.4,635.3L602.9,635.8L604.5,637.1L606,637.1L607.6,631.8L609.1,631.9L610.7,629.5L612.2,632.1L613.8,629.8L615.3,631.5L616.9,633.4L618.4,630.7L620,628.2L621.5,632.6L623.1,631.2L624.6,630.3L626.1,632.4L627.7,632.3L629.2,633.6L630.8,633.7L632.3,633.3L633.9,630.7L635.4,629L637,631.2L638.5,633.3L640.1,632L641.6,629L643.2,630.8L644.7,630.7L646.3,631.2L647.8,627.4L649.4,627.2L650.9,630.3L652.5,631.2L654,629.6L655.5,627.7L657.1,626.2L658.6,629L660.2,629.7L661.7,626.4L663.3,626.6L664.8,627.5L666.4,627.6L667.9,623.3L669.5,625.4L671,624.6L672.6,625.5L674.1,625.4L675.7,622.3L677.2,619.9L678.8,622.9L680.3,625.3L681.9,622.7L683.4,624.9L684.9,627.1L686.5,622L688,622.8L689.6,620.4L691.1,622L692.7,619.4L694.2,621L695.8,623.5L697.3,625.6L698.9,622.8L700.4,620.9L702,618.1L703.5,622.2L705.1,620.4L706.6,621.2L708.2,620.5L709.7,622.5L711.3,622.4L712.8,620.7L714.3,617.1L715.9,620.8L717.4,619.9L719,617.3L720.5,614.9L722.1,618.9L723.6,621L725.2,616.5L726.7,614.1L728.3,616.3L729.8,620L731.4,615.8L732.9,617.4L734.5,614.5L736,615.1L737.6,613.9L739.1,617.7L740.7,615.1L742.2,617.6L743.7,617.5L745.3,614.4L746.8,613L748.4,616.6L749.9,617.9L751.5,617.2L753,616L754.6,616.2L756.1,618L757.7,617.9L759.2,614.6L760.8,611.8L762.3,616.2L763.9,614.6L765.4,612.5L767,616.3L768.5,612.5L770.1,615.5L771.6,613.6L773.1,613L774.7,612.1L776.2,613.7L777.8,613.6L779.3,612.4L780.9,612.8L782.4,611.3L784,612L785.5,612.2L787.1,615L788.6,612.2L790.2,611.7L791.7,613L793.3,610L794.8,608.5L796.4,609.8L797.9,612.1L799.5,611.1L801,613L802.5,613.6L804.1,611.8L805.6,613.1L807.2,611.2L808.7,609.9L810.3,612.2L811.8,609.3L813.4,611.5L814.9,608.1L816.5,606.1L818,606.9L819.6,610.2L821.1,608.6L822.7,608.6L824.2,604.7L825.8,608.2L827.3,604.9L828.9,602.4L830.4,602.9L831.9,602.5L833.5,606.3L835,602.7L836.6,604.2L838.1,601.7L839.7,600.7L841.2,605.2L842.8,602.9L844.3,600.9L845.9,605.6L847.4,605.7L849,603L850.5,605.6L852.1,601.8L853.6,604.1L855.2,601.4L856.7,604.6L858.3,603.5L859.8,600.2L861.4,603.3L862.9,604.3L864.4,603L866,603.5L867.5,605.6L869.1,605.4L870.6,605.4L872.2,600.1L873.7,599.4L875.3,597.5L876.8,601.4L878.4,599L879.9,602.2L881.5,600.9L883,599.4L884.6,600.5L886.1,597.5L887.7,598.2L889.2,598.3L890.8,596.2L892.3,600.3L893.8,596.2L895.4,596.7L896.9,598.3L898.5,596.3L900,598.9L901.6,595.1L903.1,596.1L904.7,597.9L906.2,595.9L907.8,597.1L909.3,599.2L910.9,596.4L912.4,599.6L914,595.9L915.5,597.8L917.1,596.1L918.6,592.9L920.2,594L921.7,593.9L923.2,596.1L924.8,599.1L926.3,600.1L927.9,599.7L929.4,596.3L931,596L932.5,595.2L934.1,592.1L935.6,595.8L937.2,596.7L938.7,594.2L940.3,597.1L941.8,598.5L943.4,596.7L944.9,597.4L946.5,596L948,596.1L949.6,593.6L951.1,592.4L952.6,594.3L954.2,592.3L955.7,592.2L957.3,594.4L958.8,589.9L960.4,592.4L961.9,594L963.5,595L965,591.7L966.6,588.6L968.1,587.6L969.7,589.6L971.2,591.3L972.8,593.7L974.3,590.4L975.9,589.4L977.4,590.2L979,588.5L980.5,589" fill="none" stroke="#ff1010" stroke-width="3" stroke-linejoin="round"/>
<line x1="206.8" y1="496.5" x2="206.8" y2="1083.7" stroke="#222" stroke-width="5" />
<line x1="204.3" y1="498.7" x2="982.6" y2="498.7" stroke="#222" stroke-width="4.5" />
<line x1="980.5" y1="496.5" x2="980.5" y2="1083.7" stroke="#2c2c2c" stroke-width="3.8" />
<line x1="194.8" y1="1071.5" x2="980.5" y2="1071.5" stroke="#111" stroke-width="2.6" />
<line x1="194.5" y1="1071.5" x2="206.8" y2="1071.5" stroke="#222" stroke-width="2.6" />
<text x="188.5" y="1084.4" font-size="46" text-anchor="end" font-weight="normal" fill="#111" >0</text>
<line x1="200.3" y1="1001.5" x2="206.8" y2="1001.5" stroke="#222" stroke-width="2.4" />
<line x1="194.5" y1="931.6" x2="206.8" y2="931.6" stroke="#222" stroke-width="2.6" />
<text x="188.5" y="944.5" font-size="46" text-anchor="end" font-weight="normal" fill="#111" >200</text>
<line x1="200.3" y1="861.6" x2="206.8" y2="861.6" stroke="#222" stroke-width="2.4" />
<line x1="194.5" y1="791.7" x2="206.8" y2="791.7" stroke="#222" stroke-width="2.6" />
<text x="188.5" y="804.6" font-size="46" text-anchor="end" font-weight="normal" fill="#111" >400</text>
<line x1="200.3" y1="721.8" x2="206.8" y2="721.8" stroke="#222" stroke-width="2.4" />
<line x1="194.5" y1="651.8" x2="206.8" y2="651.8" stroke="#222" stroke-width="2.6" />
<text x="188.5" y="664.7" font-size="46" text-anchor="end" font-weight="normal" fill="#111" >600</text>
<line x1="200.3" y1="581.8" x2="206.8" y2="581.8" stroke="#222" stroke-width="2.4" />
<line x1="194.5" y1="511.9" x2="206.8" y2="511.9" stroke="#222" stroke-width="2.6" />
<text x="188.5" y="524.8" font-size="46" text-anchor="end" font-weight="normal" fill="#111" >800</text>
<text x="206.8" y="1124.2" font-size="46" text-anchor="middle" font-weight="normal" fill="#111" >0</text>
<line x1="271.3" y1="1071.5" x2="271.3" y2="1078.5" stroke="#222" stroke-width="2.6" />
<line x1="335.8" y1="1071.5" x2="335.8" y2="1083.7" stroke="#222" stroke-width="2.8" />
<text x="335.8" y="1124.2" font-size="46" text-anchor="middle" font-weight="normal" fill="#111" >5</text>
<line x1="400.2" y1="1071.5" x2="400.2" y2="1078.5" stroke="#222" stroke-width="2.6" />
<line x1="464.7" y1="1071.5" x2="464.7" y2="1083.7" stroke="#222" stroke-width="2.8" />
<text x="464.7" y="1124.2" font-size="46" text-anchor="middle" font-weight="normal" fill="#111" >10</text>
<line x1="529.2" y1="1071.5" x2="529.2" y2="1078.5" stroke="#222" stroke-width="2.6" />
<line x1="593.7" y1="1071.5" x2="593.7" y2="1083.7" stroke="#222" stroke-width="2.8" />
<text x="593.7" y="1124.2" font-size="46" text-anchor="middle" font-weight="normal" fill="#111" >15</text>
<line x1="658.1" y1="1071.5" x2="658.1" y2="1078.5" stroke="#222" stroke-width="2.6" />
<line x1="722.6" y1="1071.5" x2="722.6" y2="1083.7" stroke="#222" stroke-width="2.8" />
<text x="722.6" y="1124.2" font-size="46" text-anchor="middle" font-weight="normal" fill="#111" >20</text>
<line x1="787.1" y1="1071.5" x2="787.1" y2="1078.5" stroke="#222" stroke-width="2.6" />
<line x1="851.5" y1="1071.5" x2="851.5" y2="1083.7" stroke="#222" stroke-width="2.8" />
<text x="851.5" y="1124.2" font-size="46" text-anchor="middle" font-weight="normal" fill="#111" >25</text>
<line x1="916" y1="1071.5" x2="916" y2="1078.5" stroke="#222" stroke-width="2.6" />
<text x="980.5" y="1124.2" font-size="46" text-anchor="middle" font-weight="normal" fill="#111" >30</text>
<text x="593.8" y="1171.7" font-size="48" text-anchor="middle" font-weight="normal" fill="#111" letter-spacing="0.3">Time (min)</text>
<text transform="translate(87,791.8) rotate(-90)" font-size="48" text-anchor="middle" fill="#111" >FL<tspan dx="-4.5"> intensity (a.u.)</tspan></text>
<path d="M1199.8,903.8L1202.8,903.8L1205.8,903.8L1208.8,903.8L1211.8,903.8L1214.8,903.9L1217.8,904L1220.8,904.1L1223.8,904.3L1226.8,904.5L1229.8,904.7L1232.8,904.9L1235.8,905.2L1238.8,905.5L1241.8,905.8L1244.8,906.2L1247.8,906.5L1250.8,906.8L1253.8,907.2L1256.8,907.5L1259.8,907.9L1262.8,908.2L1265.8,908.5L1268.8,908.8L1271.8,909.2L1274.8,909.5L1277.8,909.8L1280.8,910.1L1283.8,910.5L1286.8,910.8L1289.8,911.1L1292.8,911.4L1295.8,911.7L1298.8,912L1301.8,912.3L1304.8,912.6L1307.8,912.9L1310.8,913.1L1313.8,913.4L1316.8,913.6L1319.8,913.9L1322.8,914.1L1325.8,914.4L1328.8,914.6L1331.8,914.9L1334.8,915.1L1337.8,915.4L1340.8,915.7L1343.8,915.9L1346.8,916.2L1349.8,916.5L1352.8,916.8L1355.8,917.2L1358.8,917.5L1361.8,917.9L1364.8,918.2L1367.8,918.6L1370.8,919L1373.8,919.4L1376.8,919.8L1379.8,920.2L1382.8,920.6L1385.8,921L1388.8,921.5L1391.8,921.9L1394.8,922.4L1397.8,922.8L1400.8,923.3L1403.8,923.9L1406.8,924.4L1409.8,924.9L1412.8,925.5L1415.8,926.1L1418.8,926.7L1421.8,927.2L1424.8,927.8L1427.8,928.4L1430.8,929L1433.8,929.6L1436.8,930.2L1439.8,930.8L1442.8,931.5L1445.8,932.1L1448.8,932.7L1451.8,933.3L1454.8,933.9L1457.8,934.5L1460.8,935.1L1463.8,935.8L1466.8,936.4L1469.8,937L1472.8,937.6L1475.8,938.2L1478.8,938.9L1481.8,939.5L1484.8,940.1L1487.8,940.7L1490.8,941.3L1493.8,941.9L1496.8,942.5L1499.8,943L1502.8,943.6L1505.8,944.1L1508.8,944.7L1511.8,945.2L1514.8,945.7L1517.8,946.2L1520.8,946.7L1523.8,947.2L1526.8,947.8L1529.8,948.3L1532.8,948.8L1535.8,949.3L1538.8,949.8L1541.8,950.3L1544.8,950.9L1547.8,951.4L1550.8,951.9L1553.8,952.4L1556.8,953L1559.8,953.5L1562.8,954L1565.8,954.6L1568.8,955.1L1571.8,955.6L1574.8,956.1L1577.8,956.6L1580.8,957.1L1583.8,957.6L1586.8,958.1L1589.8,958.6L1592.8,959L1595.8,959.5L1598.8,960L1601.8,960.4L1604.8,960.9L1607.8,961.3L1610.8,961.8L1613.8,962.2L1616.8,962.6L1619.8,963.1L1622.8,963.5L1625.8,963.9L1628.8,964.3L1631.8,964.7L1634.8,965.1L1637.8,965.5L1640.8,965.8L1643.8,966.2L1646.8,966.5L1649.8,966.8L1652.8,967.1L1655.8,967.4L1658.8,967.6L1661.8,967.8L1664.8,968L1667.8,968.2L1670.8,968.3L1673.8,968.5L1676.8,968.6L1679.8,968.7L1682.8,968.8L1685.8,968.9L1688.8,969L1691.8,969.2L1694.8,969.3L1697.8,969.4L1700.8,969.5L1703.8,969.7L1706.8,969.8L1709.8,970L1712.8,970.1L1715.8,970.3L1718.8,970.5L1721.8,970.7L1724.8,970.8L1727.8,971L1730.8,971.2L1733.8,971.4L1736.8,971.6L1739.8,971.8L1742.8,972L1745.8,972.2L1748.8,972.4L1751.8,972.6L1754.8,972.8L1757.8,973L1760.8,973.2L1763.8,973.4L1766.8,973.6L1769.8,973.7L1772.8,973.9L1775.8,974.1L1778.8,974.3L1781.8,974.5L1784.8,974.7L1787.8,974.9L1790.8,975.1L1793.8,975.3L1796.8,975.5L1799.8,975.7L1802.8,975.9L1805.8,976.2L1808.8,976.4L1811.8,976.6L1814.8,976.8L1817.8,977.1L1820.8,977.3L1823.8,977.5L1826.8,977.8L1829.8,978L1832.8,978.3L1835.8,978.5L1838.8,978.8L1841.8,979.1L1844.8,979.3L1847.8,979.6L1850.8,979.9L1853.8,980.1L1856.8,980.4L1859.8,980.7L1862.8,981L1865.8,981.3L1868.8,981.6L1871.8,981.9L1874.8,982.3L1877.8,982.6L1880.8,982.9L1883.8,983.3L1886.8,983.6L1889.8,984L1892.8,984.3L1895.8,984.7L1898.8,985L1901.8,985.4L1904.8,985.7L1907.8,986.1L1910.8,986.5L1913.8,986.8L1916.8,987.2L1919.8,987.6L1922.8,988L1925.8,988.4L1928.8,988.8L1931.8,989.2L1934.8,989.6L1937.8,990L1940.8,990.4L1943.8,990.8L1946.8,991.2L1949.8,991.6L1952.8,992L1955.8,992.4L1958.8,992.8L1961.8,993.1L1964.8,993.5L1967.8,993.8L1970.8,994.2L1971,994.5" fill="none" stroke="#0c0c20" stroke-width="2.3" stroke-linejoin="round"/>
<path d="M1199.8,882.1L1202.8,882.2L1205.8,882.2L1208.8,882.3L1211.8,882.4L1214.8,882.6L1217.8,882.8L1220.8,882.9L1223.8,883.1L1226.8,883.3L1229.8,883.5L1232.8,883.8L1235.8,883.9L1238.8,884.1L1241.8,884.3L1244.8,884.5L1247.8,884.7L1250.8,884.8L1253.8,885L1256.8,885.2L1259.8,885.3L1262.8,885.4L1265.8,885.6L1268.8,885.7L1271.8,885.9L1274.8,886L1277.8,886.1L1280.8,886.2L1283.8,886.4L1286.8,886.5L1289.8,886.6L1292.8,886.7L1295.8,886.8L1298.8,886.8L1301.8,886.9L1304.8,887L1307.8,887.1L1310.8,887.1L1313.8,887.2L1316.8,887.3L1319.8,887.4L1322.8,887.4L1325.8,887.5L1328.8,887.7L1331.8,887.8L1334.8,887.9L1337.8,888.1L1340.8,888.3L1343.8,888.6L1346.8,888.8L1349.8,889.1L1352.8,889.4L1355.8,889.8L1358.8,890.1L1361.8,890.6L1364.8,891L1367.8,891.6L1370.8,892.1L1373.8,892.7L1376.8,893.4L1379.8,894.1L1382.8,894.8L1385.8,895.5L1388.8,896.3L1391.8,897.1L1394.8,897.8L1397.8,898.6L1400.8,899.3L1403.8,900.1L1406.8,900.8L1409.8,901.5L1412.8,902.2L1415.8,903L1418.8,903.7L1421.8,904.4L1424.8,905.1L1427.8,905.9L1430.8,906.6L1433.8,907.4L1436.8,908.1L1439.8,908.9L1442.8,909.7L1445.8,910.4L1448.8,911.2L1451.8,912L1454.8,912.8L1457.8,913.6L1460.8,914.3L1463.8,915.1L1466.8,915.9L1469.8,916.6L1472.8,917.3L1475.8,918.1L1478.8,918.8L1481.8,919.5L1484.8,920.2L1487.8,921L1490.8,921.7L1493.8,922.4L1496.8,923.1L1499.8,923.8L1502.8,924.5L1505.8,925.2L1508.8,925.9L1511.8,926.6L1514.8,927.3L1517.8,928L1520.8,928.7L1523.8,929.4L1526.8,930.2L1529.8,930.9L1532.8,931.6L1535.8,932.3L1538.8,933.1L1541.8,933.8L1544.8,934.6L1547.8,935.4L1550.8,936.2L1553.8,936.9L1556.8,937.7L1559.8,938.5L1562.8,939.3L1565.8,940.1L1568.8,940.9L1571.8,941.6L1574.8,942.4L1577.8,943.1L1580.8,943.9L1583.8,944.6L1586.8,945.3L1589.8,946.1L1592.8,946.8L1595.8,947.5L1598.8,948.2L1601.8,948.9L1604.8,949.6L1607.8,950.2L1610.8,950.9L1613.8,951.6L1616.8,952.2L1619.8,952.9L1622.8,953.5L1625.8,954.1L1628.8,954.8L1631.8,955.4L1634.8,956L1637.8,956.6L1640.8,957.1L1643.8,957.7L1646.8,958.2L1649.8,958.8L1652.8,959.3L1655.8,959.8L1658.8,960.3L1661.8,960.7L1664.8,961.2L1667.8,961.6L1670.8,962L1673.8,962.4L1676.8,962.8L1679.8,963.1L1682.8,963.5L1685.8,963.9L1688.8,964.3L1691.8,964.6L1694.8,965L1697.8,965.4L1700.8,965.7L1703.8,966.1L1706.8,966.4L1709.8,966.7L1712.8,967.1L1715.8,967.4L1718.8,967.7L1721.8,968L1724.8,968.3L1727.8,968.6L1730.8,968.9L1733.8,969.2L1736.8,969.5L1739.8,969.8L1742.8,970.1L1745.8,970.4L1748.8,970.7L1751.8,971L1754.8,971.3L1757.8,971.5L1760.8,971.8L1763.8,972L1766.8,972.3L1769.8,972.5L1772.8,972.8L1775.8,973L1778.8,973.2L1781.8,973.5L1784.8,973.7L1787.8,973.9L1790.8,974.1L1793.8,974.4L1796.8,974.6L1799.8,974.8L1802.8,975L1805.8,975.3L1808.8,975.5L1811.8,975.7L1814.8,975.9L1817.8,976.2L1820.8,976.4L1823.8,976.6L1826.8,976.8L1829.8,977.1L1832.8,977.3L1835.8,977.5L1838.8,977.7L1841.8,978L1844.8,978.2L1847.8,978.4L1850.8,978.7L1853.8,978.9L1856.8,979.2L1859.8,979.4L1862.8,979.7L1865.8,979.9L1868.8,980.2L1871.8,980.5L1874.8,980.8L1877.8,981.1L1880.8,981.4L1883.8,981.7L1886.8,982L1889.8,982.3L1892.8,982.6L1895.8,982.9L1898.8,983.2L1901.8,983.5L1904.8,983.8L1907.8,984.1L1910.8,984.4L1913.8,984.7L1916.8,985L1919.8,985.4L1922.8,985.7L1925.8,986L1928.8,986.4L1931.8,986.7L1934.8,987L1937.8,987.4L1940.8,987.7L1943.8,988.1L1946.8,988.4L1949.8,988.7L1952.8,989L1955.8,989.4L1958.8,989.7L1961.8,990L1964.8,990.3L1967.8,990.6L1970.8,990.9L1971,991.1" fill="none" stroke="#2a1060" stroke-width="2.3" stroke-linejoin="round"/>
<path d="M1199.8,863.1L1202.8,863.1L1205.8,863L1208.8,863L1211.8,863L1214.8,863L1217.8,863L1220.8,862.9L1223.8,862.9L1226.8,862.9L1229.8,862.8L1232.8,862.8L1235.8,862.8L1238.8,862.7L1241.8,862.7L1244.8,862.6L1247.8,862.6L1250.8,862.5L1253.8,862.4L1256.8,862.3L1259.8,862.2L1262.8,862.1L1265.8,861.9L1268.8,861.8L1271.8,861.6L1274.8,861.4L1277.8,861.2L1280.8,861L1283.8,860.8L1286.8,860.7L1289.8,860.5L1292.8,860.3L1295.8,860.1L1298.8,859.9L1301.8,859.7L1304.8,859.5L1307.8,859.4L1310.8,859.2L1313.8,859L1316.8,858.9L1319.8,858.8L1322.8,858.7L1325.8,858.6L1328.8,858.5L1331.8,858.5L1334.8,858.5L1337.8,858.5L1340.8,858.6L1343.8,858.7L1346.8,858.9L1349.8,859.1L1352.8,859.3L1355.8,859.5L1358.8,859.8L1361.8,860.1L1364.8,860.5L1367.8,860.8L1370.8,861.3L1373.8,861.8L1376.8,862.3L1379.8,862.9L1382.8,863.5L1385.8,864.2L1388.8,865L1391.8,865.7L1394.8,866.5L1397.8,867.3L1400.8,868.1L1403.8,868.9L1406.8,869.8L1409.8,870.7L1412.8,871.5L1415.8,872.4L1418.8,873.3L1421.8,874.2L1424.8,875.1L1427.8,876L1430.8,876.9L1433.8,877.7L1436.8,878.6L1439.8,879.5L1442.8,880.4L1445.8,881.4L1448.8,882.3L1451.8,883.2L1454.8,884.1L1457.8,885L1460.8,885.9L1463.8,886.8L1466.8,887.7L1469.8,888.6L1472.8,889.5L1475.8,890.5L1478.8,891.4L1481.8,892.3L1484.8,893.3L1487.8,894.2L1490.8,895.2L1493.8,896.1L1496.8,897.1L1499.8,898L1502.8,899L1505.8,900L1508.8,901L1511.8,901.9L1514.8,902.9L1517.8,903.9L1520.8,904.9L1523.8,905.9L1526.8,906.9L1529.8,907.9L1532.8,908.8L1535.8,909.8L1538.8,910.7L1541.8,911.7L1544.8,912.6L1547.8,913.6L1550.8,914.5L1553.8,915.4L1556.8,916.3L1559.8,917.2L1562.8,918.1L1565.8,919L1568.8,919.9L1571.8,920.7L1574.8,921.6L1577.8,922.4L1580.8,923.3L1583.8,924.1L1586.8,924.9L1589.8,925.8L1592.8,926.6L1595.8,927.4L1598.8,928.2L1601.8,929L1604.8,929.8L1607.8,930.5L1610.8,931.3L1613.8,932.1L1616.8,932.8L1619.8,933.6L1622.8,934.3L1625.8,935L1628.8,935.8L1631.8,936.5L1634.8,937.2L1637.8,937.9L1640.8,938.5L1643.8,939.2L1646.8,939.9L1649.8,940.5L1652.8,941.2L1655.8,941.8L1658.8,942.4L1661.8,943L1664.8,943.5L1667.8,944.1L1670.8,944.7L1673.8,945.2L1676.8,945.7L1679.8,946.3L1682.8,946.8L1685.8,947.3L1688.8,947.8L1691.8,948.3L1694.8,948.9L1697.8,949.4L1700.8,949.9L1703.8,950.4L1706.8,950.9L1709.8,951.4L1712.8,951.8L1715.8,952.3L1718.8,952.8L1721.8,953.2L1724.8,953.7L1727.8,954.1L1730.8,954.6L1733.8,955L1736.8,955.5L1739.8,955.9L1742.8,956.4L1745.8,956.8L1748.8,957.2L1751.8,957.7L1754.8,958.1L1757.8,958.5L1760.8,958.9L1763.8,959.2L1766.8,959.6L1769.8,960L1772.8,960.3L1775.8,960.6L1778.8,961L1781.8,961.3L1784.8,961.7L1787.8,962L1790.8,962.3L1793.8,962.7L1796.8,963L1799.8,963.3L1802.8,963.7L1805.8,964L1808.8,964.3L1811.8,964.7L1814.8,965L1817.8,965.3L1820.8,965.7L1823.8,966L1826.8,966.4L1829.8,966.7L1832.8,967.1L1835.8,967.4L1838.8,967.7L1841.8,968.1L1844.8,968.4L1847.8,968.8L1850.8,969.1L1853.8,969.5L1856.8,969.8L1859.8,970.2L1862.8,970.6L1865.8,970.9L1868.8,971.3L1871.8,971.6L1874.8,972L1877.8,972.4L1880.8,972.8L1883.8,973.1L1886.8,973.5L1889.8,973.9L1892.8,974.3L1895.8,974.6L1898.8,975L1901.8,975.4L1904.8,975.8L1907.8,976.1L1910.8,976.5L1913.8,976.9L1916.8,977.3L1919.8,977.6L1922.8,978L1925.8,978.4L1928.8,978.8L1931.8,979.2L1934.8,979.6L1937.8,979.9L1940.8,980.3L1943.8,980.7L1946.8,981.1L1949.8,981.4L1952.8,981.8L1955.8,982.2L1958.8,982.5L1961.8,982.9L1964.8,983.2L1967.8,983.5L1970.8,983.8L1971,984.2" fill="none" stroke="#ff1010" stroke-width="3.0" stroke-linejoin="round"/>
<path d="M1199.8,808.8L1202.8,808.8L1205.8,808.7L1208.8,808.5L1211.8,808.2L1214.8,807.9L1217.8,807.5L1220.8,807.1L1223.8,806.5L1226.8,805.9L1229.8,805.2L1232.8,804.4L1235.8,803.5L1238.8,802.5L1241.8,801.5L1244.8,800.5L1247.8,799.3L1250.8,798.2L1253.8,797L1256.8,795.7L1259.8,794.4L1262.8,793.1L1265.8,791.7L1268.8,790.3L1271.8,788.9L1274.8,787.5L1277.8,786.1L1280.8,784.7L1283.8,783.2L1286.8,781.9L1289.8,780.5L1292.8,779.2L1295.8,777.9L1298.8,776.6L1301.8,775.4L1304.8,774.2L1307.8,773.1L1310.8,772L1313.8,771L1316.8,770L1319.8,769.1L1322.8,768.3L1325.8,767.5L1328.8,766.9L1331.8,766.3L1334.8,765.7L1337.8,765.3L1340.8,764.9L1343.8,764.6L1346.8,764.4L1349.8,764.3L1352.8,764.2L1355.8,764.3L1358.8,764.4L1361.8,764.6L1364.8,764.9L1367.8,765.3L1370.8,765.7L1373.8,766.2L1376.8,766.8L1379.8,767.4L1382.8,768.1L1385.8,768.8L1388.8,769.6L1391.8,770.5L1394.8,771.4L1397.8,772.4L1400.8,773.4L1403.8,774.5L1406.8,775.6L1409.8,776.8L1412.8,778L1415.8,779.2L1418.8,780.5L1421.8,781.9L1424.8,783.3L1427.8,784.7L1430.8,786.1L1433.8,787.6L1436.8,789.1L1439.8,790.6L1442.8,792.2L1445.8,793.7L1448.8,795.3L1451.8,796.9L1454.8,798.5L1457.8,800.1L1460.8,801.7L1463.8,803.3L1466.8,804.9L1469.8,806.5L1472.8,808.1L1475.8,809.6L1478.8,811.2L1481.8,812.7L1484.8,814.3L1487.8,815.8L1490.8,817.3L1493.8,818.8L1496.8,820.3L1499.8,821.8L1502.8,823.3L1505.8,824.9L1508.8,826.4L1511.8,828L1514.8,829.6L1517.8,831.1L1520.8,832.7L1523.8,834.3L1526.8,835.9L1529.8,837.5L1532.8,839L1535.8,840.6L1538.8,842.2L1541.8,843.7L1544.8,845.2L1547.8,846.8L1550.8,848.3L1553.8,849.8L1556.8,851.3L1559.8,852.8L1562.8,854.3L1565.8,855.8L1568.8,857.3L1571.8,858.7L1574.8,860.2L1577.8,861.7L1580.8,863.1L1583.8,864.5L1586.8,866L1589.8,867.4L1592.8,868.8L1595.8,870.2L1598.8,871.6L1601.8,873L1604.8,874.4L1607.8,875.8L1610.8,877.1L1613.8,878.5L1616.8,879.8L1619.8,881.2L1622.8,882.5L1625.8,883.9L1628.8,885.2L1631.8,886.5L1634.8,887.8L1637.8,889.1L1640.8,890.4L1643.8,891.6L1646.8,892.9L1649.8,894.1L1652.8,895.4L1655.8,896.6L1658.8,897.8L1661.8,899L1664.8,900.2L1667.8,901.3L1670.8,902.5L1673.8,903.6L1676.8,904.7L1679.8,905.9L1682.8,907L1685.8,908.1L1688.8,909.2L1691.8,910.3L1694.8,911.4L1697.8,912.5L1700.8,913.5L1703.8,914.5L1706.8,915.5L1709.8,916.5L1712.8,917.4L1715.8,918.3L1718.8,919.2L1721.8,920.1L1724.8,920.9L1727.8,921.8L1730.8,922.6L1733.8,923.4L1736.8,924.3L1739.8,925.1L1742.8,925.9L1745.8,926.7L1748.8,927.5L1751.8,928.3L1754.8,929.1L1757.8,929.8L1760.8,930.6L1763.8,931.3L1766.8,932L1769.8,932.7L1772.8,933.4L1775.8,934.1L1778.8,934.8L1781.8,935.5L1784.8,936.2L1787.8,936.9L1790.8,937.5L1793.8,938.2L1796.8,938.9L1799.8,939.6L1802.8,940.2L1805.8,940.9L1808.8,941.6L1811.8,942.3L1814.8,942.9L1817.8,943.6L1820.8,944.3L1823.8,945L1826.8,945.6L1829.8,946.3L1832.8,947L1835.8,947.7L1838.8,948.3L1841.8,949L1844.8,949.7L1847.8,950.4L1850.8,951L1853.8,951.7L1856.8,952.4L1859.8,953.1L1862.8,953.7L1865.8,954.4L1868.8,955.1L1871.8,955.8L1874.8,956.4L1877.8,957.1L1880.8,957.8L1883.8,958.5L1886.8,959.1L1889.8,959.8L1892.8,960.5L1895.8,961.1L1898.8,961.8L1901.8,962.5L1904.8,963.1L1907.8,963.8L1910.8,964.4L1913.8,965.1L1916.8,965.7L1919.8,966.3L1922.8,966.9L1925.8,967.5L1928.8,968.1L1931.8,968.7L1934.8,969.3L1937.8,969.9L1940.8,970.5L1943.8,971.1L1946.8,971.6L1949.8,972.2L1952.8,972.8L1955.8,973.3L1958.8,973.9L1961.8,974.4L1964.8,974.9L1967.8,975.4L1970.8,975.9L1971,976.4" fill="none" stroke="#101080" stroke-width="2.3" stroke-linejoin="round"/>
<path d="M1199.8,745.3L1202.8,745.2L1205.8,744.7L1208.8,744L1211.8,743.1L1214.8,741.9L1217.8,740.5L1220.8,738.8L1223.8,737L1226.8,735L1229.8,732.9L1232.8,730.6L1235.8,728.2L1238.8,725.7L1241.8,723.1L1244.8,720.5L1247.8,717.8L1250.8,715L1253.8,712.2L1256.8,709.3L1259.8,706.5L1262.8,703.6L1265.8,700.8L1268.8,698L1271.8,695.2L1274.8,692.5L1277.8,689.9L1280.8,687.3L1283.8,684.7L1286.8,682.3L1289.8,679.9L1292.8,677.5L1295.8,675.3L1298.8,673.1L1301.8,671L1304.8,669L1307.8,667L1310.8,665.2L1313.8,663.5L1316.8,661.8L1319.8,660.2L1322.8,658.8L1325.8,657.4L1328.8,656.1L1331.8,654.9L1334.8,653.8L1337.8,652.8L1340.8,652L1343.8,651.3L1346.8,650.6L1349.8,650.1L1352.8,649.7L1355.8,649.5L1358.8,649.3L1361.8,649.3L1364.8,649.4L1367.8,649.6L1370.8,649.9L1373.8,650.4L1376.8,651L1379.8,651.8L1382.8,652.7L1385.8,653.7L1388.8,654.8L1391.8,656L1394.8,657.3L1397.8,658.7L1400.8,660.1L1403.8,661.7L1406.8,663.3L1409.8,664.9L1412.8,666.7L1415.8,668.5L1418.8,670.4L1421.8,672.3L1424.8,674.3L1427.8,676.3L1430.8,678.4L1433.8,680.5L1436.8,682.6L1439.8,684.8L1442.8,687L1445.8,689.3L1448.8,691.6L1451.8,693.9L1454.8,696.2L1457.8,698.6L1460.8,700.9L1463.8,703.3L1466.8,705.7L1469.8,708.1L1472.8,710.5L1475.8,712.9L1478.8,715.3L1481.8,717.7L1484.8,720.1L1487.8,722.5L1490.8,724.8L1493.8,727.2L1496.8,729.5L1499.8,731.8L1502.8,734.1L1505.8,736.4L1508.8,738.7L1511.8,740.9L1514.8,743.1L1517.8,745.4L1520.8,747.6L1523.8,749.8L1526.8,752L1529.8,754.2L1532.8,756.4L1535.8,758.6L1538.8,760.8L1541.8,763L1544.8,765.2L1547.8,767.4L1550.8,769.6L1553.8,771.8L1556.8,774L1559.8,776.2L1562.8,778.4L1565.8,780.6L1568.8,782.7L1571.8,784.9L1574.8,787.1L1577.8,789.2L1580.8,791.4L1583.8,793.5L1586.8,795.6L1589.8,797.8L1592.8,799.9L1595.8,802L1598.8,804.1L1601.8,806.1L1604.8,808.2L1607.8,810.3L1610.8,812.3L1613.8,814.3L1616.8,816.3L1619.8,818.3L1622.8,820.3L1625.8,822.3L1628.8,824.2L1631.8,826.1L1634.8,828L1637.8,829.9L1640.8,831.8L1643.8,833.7L1646.8,835.6L1649.8,837.4L1652.8,839.2L1655.8,841.1L1658.8,842.9L1661.8,844.6L1664.8,846.4L1667.8,848.2L1670.8,849.9L1673.8,851.7L1676.8,853.4L1679.8,855.1L1682.8,856.9L1685.8,858.6L1688.8,860.3L1691.8,862L1694.8,863.7L1697.8,865.4L1700.8,867L1703.8,868.7L1706.8,870.3L1709.8,871.9L1712.8,873.5L1715.8,875L1718.8,876.6L1721.8,878.1L1724.8,879.7L1727.8,881.2L1730.8,882.7L1733.8,884.2L1736.8,885.7L1739.8,887.1L1742.8,888.6L1745.8,890.1L1748.8,891.5L1751.8,892.9L1754.8,894.3L1757.8,895.6L1760.8,896.9L1763.8,898.2L1766.8,899.4L1769.8,900.6L1772.8,901.8L1775.8,903L1778.8,904.1L1781.8,905.3L1784.8,906.4L1787.8,907.5L1790.8,908.7L1793.8,909.8L1796.8,910.9L1799.8,912L1802.8,913.1L1805.8,914.2L1808.8,915.2L1811.8,916.3L1814.8,917.3L1817.8,918.3L1820.8,919.3L1823.8,920.3L1826.8,921.3L1829.8,922.3L1832.8,923.3L1835.8,924.3L1838.8,925.3L1841.8,926.2L1844.8,927.2L1847.8,928.2L1850.8,929.1L1853.8,930.1L1856.8,931L1859.8,931.9L1862.8,932.8L1865.8,933.7L1868.8,934.6L1871.8,935.4L1874.8,936.3L1877.8,937.1L1880.8,938L1883.8,938.8L1886.8,939.6L1889.8,940.5L1892.8,941.3L1895.8,942.1L1898.8,942.9L1901.8,943.7L1904.8,944.5L1907.8,945.3L1910.8,946.1L1913.8,946.9L1916.8,947.7L1919.8,948.4L1922.8,949.2L1925.8,949.9L1928.8,950.7L1931.8,951.4L1934.8,952.1L1937.8,952.9L1940.8,953.6L1943.8,954.3L1946.8,955L1949.8,955.7L1952.8,956.4L1955.8,957.1L1958.8,957.8L1961.8,958.4L1964.8,959L1967.8,959.7L1970.8,960.3L1971,960.9" fill="none" stroke="#0a4858" stroke-width="2.3" stroke-linejoin="round"/>
<path d="M1199.8,734.7L1202.8,734.5L1205.8,734.1L1208.8,733.3L1211.8,732.3L1214.8,730.9L1217.8,729.4L1220.8,727.6L1223.8,725.6L1226.8,723.4L1229.8,721.1L1232.8,718.6L1235.8,716L1238.8,713.3L1241.8,710.5L1244.8,707.6L1247.8,704.6L1250.8,701.5L1253.8,698.4L1256.8,695.3L1259.8,692.1L1262.8,689L1265.8,685.8L1268.8,682.7L1271.8,679.6L1274.8,676.5L1277.8,673.4L1280.8,670.5L1283.8,667.5L1286.8,664.6L1289.8,661.8L1292.8,659L1295.8,656.3L1298.8,653.6L1301.8,651L1304.8,648.5L1307.8,646.1L1310.8,643.8L1313.8,641.5L1316.8,639.4L1319.8,637.3L1322.8,635.3L1325.8,633.5L1328.8,631.7L1331.8,630.1L1334.8,628.6L1337.8,627.3L1340.8,626.1L1343.8,625.1L1346.8,624.2L1349.8,623.4L1352.8,622.8L1355.8,622.4L1358.8,622L1361.8,621.8L1364.8,621.8L1367.8,621.9L1370.8,622.1L1373.8,622.5L1376.8,623.1L1379.8,623.7L1382.8,624.6L1385.8,625.5L1388.8,626.6L1391.8,627.8L1394.8,629.1L1397.8,630.4L1400.8,631.9L1403.8,633.4L1406.8,635L1409.8,636.7L1412.8,638.4L1415.8,640.2L1418.8,642.1L1421.8,644L1424.8,646L1427.8,648.1L1430.8,650.2L1433.8,652.3L1436.8,654.5L1439.8,656.7L1442.8,659L1445.8,661.3L1448.8,663.7L1451.8,666.1L1454.8,668.6L1457.8,671.1L1460.8,673.7L1463.8,676.2L1466.8,678.9L1469.8,681.5L1472.8,684.2L1475.8,687L1478.8,689.7L1481.8,692.5L1484.8,695.3L1487.8,698.2L1490.8,701L1493.8,703.7L1496.8,706.5L1499.8,709.2L1502.8,711.9L1505.8,714.5L1508.8,717L1511.8,719.5L1514.8,722L1517.8,724.5L1520.8,726.9L1523.8,729.4L1526.8,731.8L1529.8,734.2L1532.8,736.6L1535.8,739L1538.8,741.4L1541.8,743.8L1544.8,746.2L1547.8,748.6L1550.8,751L1553.8,753.4L1556.8,755.8L1559.8,758.1L1562.8,760.5L1565.8,762.9L1568.8,765.2L1571.8,767.5L1574.8,769.8L1577.8,772.1L1580.8,774.3L1583.8,776.5L1586.8,778.7L1589.8,780.9L1592.8,783L1595.8,785.1L1598.8,787.3L1601.8,789.4L1604.8,791.6L1607.8,793.7L1610.8,795.9L1613.8,798L1616.8,800.2L1619.8,802.4L1622.8,804.7L1625.8,806.9L1628.8,809.2L1631.8,811.4L1634.8,813.7L1637.8,815.9L1640.8,818.2L1643.8,820.4L1646.8,822.6L1649.8,824.8L1652.8,826.9L1655.8,829L1658.8,831.1L1661.8,833.1L1664.8,835.1L1667.8,837.1L1670.8,839L1673.8,840.9L1676.8,842.8L1679.8,844.7L1682.8,846.6L1685.8,848.4L1688.8,850.3L1691.8,852.2L1694.8,854L1697.8,855.8L1700.8,857.6L1703.8,859.4L1706.8,861.1L1709.8,862.8L1712.8,864.5L1715.8,866.2L1718.8,867.8L1721.8,869.4L1724.8,871L1727.8,872.6L1730.8,874.2L1733.8,875.8L1736.8,877.4L1739.8,878.9L1742.8,880.5L1745.8,882L1748.8,883.6L1751.8,885.1L1754.8,886.6L1757.8,888L1760.8,889.5L1763.8,890.9L1766.8,892.4L1769.8,893.8L1772.8,895.2L1775.8,896.5L1778.8,897.9L1781.8,899.3L1784.8,900.6L1787.8,902L1790.8,903.3L1793.8,904.6L1796.8,905.9L1799.8,907.2L1802.8,908.5L1805.8,909.8L1808.8,911L1811.8,912.2L1814.8,913.4L1817.8,914.5L1820.8,915.6L1823.8,916.7L1826.8,917.8L1829.8,918.9L1832.8,920L1835.8,921L1838.8,922.1L1841.8,923.1L1844.8,924.2L1847.8,925.2L1850.8,926.2L1853.8,927.3L1856.8,928.3L1859.8,929.3L1862.8,930.2L1865.8,931.2L1868.8,932.1L1871.8,933.1L1874.8,934L1877.8,934.9L1880.8,935.9L1883.8,936.8L1886.8,937.7L1889.8,938.6L1892.8,939.5L1895.8,940.3L1898.8,941.2L1901.8,942.1L1904.8,942.9L1907.8,943.8L1910.8,944.6L1913.8,945.4L1916.8,946.2L1919.8,947L1922.8,947.7L1925.8,948.4L1928.8,949.1L1931.8,949.9L1934.8,950.5L1937.8,951.2L1940.8,951.9L1943.8,952.6L1946.8,953.3L1949.8,953.9L1952.8,954.6L1955.8,955.2L1958.8,955.9L1961.8,956.5L1964.8,957.1L1967.8,957.7L1970.8,958.2L1971,958.8" fill="none" stroke="#b010b0" stroke-width="2.3" stroke-linejoin="round"/>
<path d="M1199.8,678.8L1202.8,678.7L1205.8,678.2L1208.8,677.5L1211.8,676.5L1214.8,675.2L1217.8,673.7L1220.8,672L1223.8,670L1226.8,667.8L1229.8,665.4L1232.8,662.8L1235.8,660.1L1238.8,657.1L1241.8,654L1244.8,650.6L1247.8,647.1L1250.8,643.5L1253.8,639.7L1256.8,635.8L1259.8,631.8L1262.8,627.7L1265.8,623.6L1268.8,619.4L1271.8,615.2L1274.8,611L1277.8,606.8L1280.8,602.6L1283.8,598.4L1286.8,594.2L1289.8,590.1L1292.8,586.1L1295.8,582.2L1298.8,578.4L1301.8,574.7L1304.8,571.1L1307.8,567.7L1310.8,564.5L1313.8,561.4L1316.8,558.5L1319.8,555.8L1322.8,553.2L1325.8,550.8L1328.8,548.5L1331.8,546.4L1334.8,544.5L1337.8,542.8L1340.8,541.3L1343.8,539.9L1346.8,538.8L1349.8,537.9L1352.8,537.2L1355.8,536.7L1358.8,536.3L1361.8,536.2L1364.8,536.3L1367.8,536.5L1370.8,536.9L1373.8,537.5L1376.8,538.3L1379.8,539.3L1382.8,540.3L1385.8,541.6L1388.8,543L1391.8,544.5L1394.8,546.2L1397.8,548L1400.8,549.9L1403.8,551.9L1406.8,553.9L1409.8,556.1L1412.8,558.4L1415.8,560.7L1418.8,563.2L1421.8,565.7L1424.8,568.3L1427.8,570.9L1430.8,573.7L1433.8,576.4L1436.8,579.3L1439.8,582.1L1442.8,585L1445.8,587.9L1448.8,590.8L1451.8,593.7L1454.8,596.7L1457.8,599.6L1460.8,602.6L1463.8,605.6L1466.8,608.7L1469.8,611.8L1472.8,614.8L1475.8,618L1478.8,621.1L1481.8,624.2L1484.8,627.4L1487.8,630.6L1490.8,633.8L1493.8,637L1496.8,640.2L1499.8,643.4L1502.8,646.6L1505.8,649.9L1508.8,653.1L1511.8,656.4L1514.8,659.7L1517.8,662.9L1520.8,666.2L1523.8,669.5L1526.8,672.7L1529.8,676L1532.8,679.2L1535.8,682.5L1538.8,685.7L1541.8,688.9L1544.8,692L1547.8,695.1L1550.8,698.2L1553.8,701.2L1556.8,704.2L1559.8,707.2L1562.8,710.1L1565.8,713L1568.8,715.8L1571.8,718.6L1574.8,721.4L1577.8,724.2L1580.8,727L1583.8,729.7L1586.8,732.5L1589.8,735.2L1592.8,737.9L1595.8,740.6L1598.8,743.2L1601.8,745.9L1604.8,748.5L1607.8,751.1L1610.8,753.7L1613.8,756.3L1616.8,758.9L1619.8,761.4L1622.8,764L1625.8,766.5L1628.8,769L1631.8,771.5L1634.8,774L1637.8,776.5L1640.8,778.9L1643.8,781.3L1646.8,783.7L1649.8,786.1L1652.8,788.5L1655.8,790.9L1658.8,793.3L1661.8,795.6L1664.8,798L1667.8,800.3L1670.8,802.6L1673.8,804.8L1676.8,807.1L1679.8,809.3L1682.8,811.6L1685.8,813.8L1688.8,816L1691.8,818.2L1694.8,820.4L1697.8,822.6L1700.8,824.7L1703.8,826.9L1706.8,829.1L1709.8,831.2L1712.8,833.3L1715.8,835.5L1718.8,837.6L1721.8,839.7L1724.8,841.8L1727.8,843.9L1730.8,846L1733.8,848.1L1736.8,850.2L1739.8,852.3L1742.8,854.3L1745.8,856.3L1748.8,858.3L1751.8,860.3L1754.8,862.2L1757.8,864.1L1760.8,865.9L1763.8,867.7L1766.8,869.5L1769.8,871.2L1772.8,872.8L1775.8,874.5L1778.8,876.1L1781.8,877.7L1784.8,879.3L1787.8,880.8L1790.8,882.4L1793.8,884L1796.8,885.5L1799.8,887.1L1802.8,888.6L1805.8,890.2L1808.8,891.7L1811.8,893.2L1814.8,894.7L1817.8,896.1L1820.8,897.6L1823.8,899L1826.8,900.5L1829.8,901.9L1832.8,903.4L1835.8,904.8L1838.8,906.2L1841.8,907.6L1844.8,909L1847.8,910.4L1850.8,911.8L1853.8,913.1L1856.8,914.4L1859.8,915.7L1862.8,916.9L1865.8,918.2L1868.8,919.3L1871.8,920.5L1874.8,921.6L1877.8,922.7L1880.8,923.8L1883.8,924.9L1886.8,925.9L1889.8,927L1892.8,928L1895.8,929.1L1898.8,930.1L1901.8,931.1L1904.8,932.1L1907.8,933.1L1910.8,934.1L1913.8,935L1916.8,935.9L1919.8,936.9L1922.8,937.7L1925.8,938.6L1928.8,939.5L1931.8,940.3L1934.8,941.1L1937.8,942L1940.8,942.8L1943.8,943.6L1946.8,944.4L1949.8,945.2L1952.8,946L1955.8,946.8L1958.8,947.5L1961.8,948.3L1964.8,949L1967.8,949.7L1970.8,950.4L1971,951" fill="none" stroke="#0b0b0b" stroke-width="2.3" stroke-linejoin="round"/>
<line x1="1199.8" y1="495.5" x2="1199.8" y2="1068" stroke="#333" stroke-width="4.2" />
<line x1="1188.3" y1="495.5" x2="1972.3" y2="495.5" stroke="#111" stroke-width="2.6" />
<line x1="1971" y1="495.5" x2="1971" y2="1079.4" stroke="#111" stroke-width="2.6" />
<line x1="1188.3" y1="1068" x2="1971" y2="1068" stroke="#333" stroke-width="3.4" />
<text x="1181.5" y="1080.7" font-size="46" text-anchor="end" font-weight="normal" fill="#111" >0</text>
<line x1="1193.6" y1="1027.1" x2="1199.8" y2="1027.1" stroke="#222" stroke-width="2.4" />
<line x1="1188.3" y1="986.2" x2="1199.8" y2="986.2" stroke="#222" stroke-width="2.6" />
<text x="1181.5" y="998.9" font-size="46" text-anchor="end" font-weight="normal" fill="#111" >50</text>
<line x1="1193.6" y1="945.3" x2="1199.8" y2="945.3" stroke="#222" stroke-width="2.4" />
<line x1="1188.3" y1="904.4" x2="1199.8" y2="904.4" stroke="#222" stroke-width="2.6" />
<text x="1181.5" y="917.1" font-size="46" text-anchor="end" font-weight="normal" fill="#111" >100</text>
<line x1="1193.6" y1="863.5" x2="1199.8" y2="863.5" stroke="#222" stroke-width="2.4" />
<line x1="1188.3" y1="822.6" x2="1199.8" y2="822.6" stroke="#222" stroke-width="2.6" />
<text x="1181.5" y="835.3" font-size="46" text-anchor="end" font-weight="normal" fill="#111" >150</text>
<line x1="1193.6" y1="781.8" x2="1199.8" y2="781.8" stroke="#222" stroke-width="2.4" />
<line x1="1188.3" y1="740.9" x2="1199.8" y2="740.9" stroke="#222" stroke-width="2.6" />
<text x="1181.5" y="753.6" font-size="46" text-anchor="end" font-weight="normal" fill="#111" >200</text>
<line x1="1193.6" y1="700" x2="1199.8" y2="700" stroke="#222" stroke-width="2.4" />
<line x1="1188.3" y1="659.1" x2="1199.8" y2="659.1" stroke="#222" stroke-width="2.6" />
<text x="1181.5" y="671.8" font-size="46" text-anchor="end" font-weight="normal" fill="#111" >250</text>
<line x1="1193.6" y1="618.2" x2="1199.8" y2="618.2" stroke="#222" stroke-width="2.4" />
<line x1="1188.3" y1="577.3" x2="1199.8" y2="577.3" stroke="#222" stroke-width="2.6" />
<text x="1181.5" y="590" font-size="46" text-anchor="end" font-weight="normal" fill="#111" >300</text>
<line x1="1193.6" y1="536.4" x2="1199.8" y2="536.4" stroke="#222" stroke-width="2.4" />
<text x="1181.5" y="508.2" font-size="46" text-anchor="end" font-weight="normal" fill="#111" >350</text>
<line x1="1233.3" y1="1068" x2="1233.3" y2="1074.2" stroke="#222" stroke-width="2.6" />
<line x1="1300.4" y1="1068" x2="1300.4" y2="1079.4" stroke="#222" stroke-width="2.8" />
<text x="1300.4" y="1121.3" font-size="46" text-anchor="middle" font-weight="normal" fill="#111" >520</text>
<line x1="1367.5" y1="1068" x2="1367.5" y2="1074.2" stroke="#222" stroke-width="2.6" />
<line x1="1434.5" y1="1068" x2="1434.5" y2="1079.4" stroke="#222" stroke-width="2.8" />
<text x="1434.5" y="1121.3" font-size="46" text-anchor="middle" font-weight="normal" fill="#111" >540</text>
<line x1="1501.6" y1="1068" x2="1501.6" y2="1074.2" stroke="#222" stroke-width="2.6" />
<line x1="1568.6" y1="1068" x2="1568.6" y2="1079.4" stroke="#222" stroke-width="2.8" />
<text x="1568.6" y="1121.3" font-size="46" text-anchor="middle" font-weight="normal" fill="#111" >560</text>
<line x1="1635.7" y1="1068" x2="1635.7" y2="1074.2" stroke="#222" stroke-width="2.6" />
<line x1="1702.8" y1="1068" x2="1702.8" y2="1079.4" stroke="#222" stroke-width="2.8" />
<text x="1702.8" y="1121.3" font-size="46" text-anchor="middle" font-weight="normal" fill="#111" >580</text>
<line x1="1769.8" y1="1068" x2="1769.8" y2="1074.2" stroke="#222" stroke-width="2.6" />
<line x1="1836.9" y1="1068" x2="1836.9" y2="1079.4" stroke="#222" stroke-width="2.8" />
<text x="1836.9" y="1121.3" font-size="46" text-anchor="middle" font-weight="normal" fill="#111" >600</text>
<line x1="1903.9" y1="1068" x2="1903.9" y2="1074.2" stroke="#222" stroke-width="2.6" />
<text x="1971" y="1121.3" font-size="46" text-anchor="middle" font-weight="normal" fill="#111" >620</text>
<text x="1603.5" y="1167.3" font-size="48" text-anchor="middle" font-weight="normal" fill="#111" >Wavelength (nm)</text>
<text transform="translate(1062.8,792.4) rotate(-90)" font-size="48" text-anchor="middle" fill="#111" >FL<tspan dx="-4.5"> intensity (a.u.)</tspan></text>
<text x="1787.6" y="549" font-size="46" text-anchor="start" font-weight="normal" fill="#111" letter-spacing="2.1">100 nM</text>
<text x="1811.6" y="601" font-size="46" text-anchor="start" font-weight="normal" fill="#111" letter-spacing="2.1">80 nM</text>
<text x="1811.6" y="652.3" font-size="46" text-anchor="start" font-weight="normal" fill="#111" letter-spacing="2.1">60 nM</text>
<text x="1811.6" y="702.8" font-size="46" text-anchor="start" font-weight="normal" fill="#111" letter-spacing="2.1">40 nM</text>
<text x="1811.6" y="754.2" font-size="46" text-anchor="start" font-weight="normal" fill="#111" letter-spacing="2.1">20 nM</text>
<text x="1811.6" y="805.5" font-size="46" text-anchor="start" font-weight="normal" fill="#111" letter-spacing="2.1">10 nM</text>
<text x="1838.3" y="857" font-size="46" text-anchor="middle" font-weight="normal" fill="#111" >0</text>
<path d="M1754.4,822L1754.4,557L1745.5,558.3L1757.4,538L1769.6,558.3L1760.4,557L1760.4,822Z" fill="#0a0a0a"/>
<line x1="282.6" y1="1803.5" x2="936.1" y2="1294.9" stroke="#ff4a4a" stroke-width="1.8" />
<line x1="280.6" y1="1787.3" x2="280.6" y2="1817.7" stroke="#2a2a2a" stroke-width="2.2" />
<line x1="274.1" y1="1787.3" x2="287.1" y2="1787.3" stroke="#555" stroke-width="1.8" />
<line x1="274.1" y1="1817.7" x2="287.1" y2="1817.7" stroke="#555" stroke-width="1.8" />
<rect x="274.3" y="1796.3" width="12.6" height="12.6" fill="#050505"/>
<line x1="353.5" y1="1742.3" x2="353.5" y2="1779.4" stroke="#2a2a2a" stroke-width="2.2" />
<line x1="347" y1="1742.3" x2="360" y2="1742.3" stroke="#555" stroke-width="1.8" />
<line x1="347" y1="1779.4" x2="360" y2="1779.4" stroke="#555" stroke-width="1.8" />
<rect x="347.2" y="1754.4" width="12.6" height="12.6" fill="#050505"/>
<line x1="499.1" y1="1597.4" x2="499.1" y2="1650.5" stroke="#2a2a2a" stroke-width="2.2" />
<line x1="492.6" y1="1597.4" x2="505.6" y2="1597.4" stroke="#555" stroke-width="1.8" />
<line x1="492.6" y1="1650.5" x2="505.6" y2="1650.5" stroke="#555" stroke-width="1.8" />
<rect x="492.8" y="1617.4" width="12.6" height="12.6" fill="#050505"/>
<line x1="644.8" y1="1426.3" x2="644.8" y2="1502.5" stroke="#2a2a2a" stroke-width="2.2" />
<line x1="638.3" y1="1426.3" x2="651.3" y2="1426.3" stroke="#555" stroke-width="1.8" />
<line x1="638.3" y1="1502.5" x2="651.3" y2="1502.5" stroke="#555" stroke-width="1.8" />
<rect x="638.5" y="1458.1" width="12.6" height="12.6" fill="#050505"/>
<line x1="790.4" y1="1385.3" x2="790.4" y2="1442.1" stroke="#2a2a2a" stroke-width="2.2" />
<line x1="783.9" y1="1385.3" x2="796.9" y2="1385.3" stroke="#555" stroke-width="1.8" />
<line x1="783.9" y1="1442.1" x2="796.9" y2="1442.1" stroke="#555" stroke-width="1.8" />
<rect x="784.1" y="1407.2" width="12.6" height="12.6" fill="#050505"/>
<line x1="936.1" y1="1258.6" x2="936.1" y2="1330" stroke="#2a2a2a" stroke-width="2.2" />
<line x1="929.6" y1="1258.6" x2="942.6" y2="1258.6" stroke="#555" stroke-width="1.8" />
<line x1="929.6" y1="1330" x2="942.6" y2="1330" stroke="#555" stroke-width="1.8" />
<rect x="929.8" y="1288.6" width="12.6" height="12.6" fill="#050505"/>
<line x1="207.8" y1="1243.5" x2="207.8" y2="1851.2" stroke="#111" stroke-width="2.8" />
<line x1="195.6" y1="1243.5" x2="1011.1" y2="1243.5" stroke="#111" stroke-width="2.6" />
<line x1="1009.6" y1="1243.5" x2="1009.6" y2="1845.2" stroke="#111" stroke-width="3.0" />
<line x1="195.6" y1="1838.7" x2="1009.6" y2="1838.7" stroke="#1a1a1a" stroke-width="4.0" />
<text x="188.3" y="1851.7" font-size="46" text-anchor="end" font-weight="normal" fill="#111" >0</text>
<line x1="200.3" y1="1779.2" x2="207.8" y2="1779.2" stroke="#222" stroke-width="2.4" />
<line x1="195.6" y1="1719.7" x2="207.8" y2="1719.7" stroke="#222" stroke-width="2.6" />
<text x="188.3" y="1732.7" font-size="46" text-anchor="end" font-weight="normal" fill="#111" >50</text>
<line x1="200.3" y1="1660.1" x2="207.8" y2="1660.1" stroke="#222" stroke-width="2.4" />
<line x1="195.6" y1="1600.6" x2="207.8" y2="1600.6" stroke="#222" stroke-width="2.6" />
<text x="188.3" y="1613.6" font-size="46" text-anchor="end" font-weight="normal" fill="#111" >100</text>
<line x1="200.3" y1="1541.1" x2="207.8" y2="1541.1" stroke="#222" stroke-width="2.4" />
<line x1="195.6" y1="1481.6" x2="207.8" y2="1481.6" stroke="#222" stroke-width="2.6" />
<text x="188.3" y="1494.6" font-size="46" text-anchor="end" font-weight="normal" fill="#111" >150</text>
<line x1="200.3" y1="1422.1" x2="207.8" y2="1422.1" stroke="#222" stroke-width="2.4" />
<line x1="195.6" y1="1362.5" x2="207.8" y2="1362.5" stroke="#222" stroke-width="2.6" />
<text x="188.3" y="1375.5" font-size="46" text-anchor="end" font-weight="normal" fill="#111" >200</text>
<line x1="200.3" y1="1303" x2="207.8" y2="1303" stroke="#222" stroke-width="2.4" />
<text x="188.3" y="1256.5" font-size="46" text-anchor="end" font-weight="normal" fill="#111" >250</text>
<text x="207.8" y="1893.7" font-size="46" text-anchor="middle" font-weight="normal" fill="#111" >0</text>
<line x1="280.6" y1="1838.7" x2="280.6" y2="1845.2" stroke="#222" stroke-width="2.6" />
<line x1="353.5" y1="1838.7" x2="353.5" y2="1851.2" stroke="#222" stroke-width="2.8" />
<text x="353.5" y="1893.7" font-size="46" text-anchor="middle" font-weight="normal" fill="#111" >20</text>
<line x1="426.3" y1="1838.7" x2="426.3" y2="1845.2" stroke="#222" stroke-width="2.6" />
<line x1="499.1" y1="1838.7" x2="499.1" y2="1851.2" stroke="#222" stroke-width="2.8" />
<text x="499.1" y="1893.7" font-size="46" text-anchor="middle" font-weight="normal" fill="#111" >40</text>
<line x1="572" y1="1838.7" x2="572" y2="1845.2" stroke="#222" stroke-width="2.6" />
<line x1="644.8" y1="1838.7" x2="644.8" y2="1851.2" stroke="#222" stroke-width="2.8" />
<text x="644.8" y="1893.7" font-size="46" text-anchor="middle" font-weight="normal" fill="#111" >60</text>
<line x1="717.6" y1="1838.7" x2="717.6" y2="1845.2" stroke="#222" stroke-width="2.6" />
<line x1="790.4" y1="1838.7" x2="790.4" y2="1851.2" stroke="#222" stroke-width="2.8" />
<text x="790.4" y="1893.7" font-size="46" text-anchor="middle" font-weight="normal" fill="#111" >80</text>
<line x1="863.3" y1="1838.7" x2="863.3" y2="1845.2" stroke="#222" stroke-width="2.6" />
<line x1="936.1" y1="1838.7" x2="936.1" y2="1851.2" stroke="#222" stroke-width="2.8" />
<text x="936.1" y="1893.7" font-size="46" text-anchor="middle" font-weight="normal" fill="#111" >100</text>
<text x="628.5" y="1953.5" font-size="48" text-anchor="middle" font-weight="normal" fill="#111" letter-spacing="1.3">Target DNA (nM)</text>
<text transform="translate(83.7,1573.4) rotate(-90)" font-size="48" text-anchor="middle" fill="#111" >&#916;F (a.u.)</text>
<rect x="1263.7" y="1298" width="131.3" height="533.8" fill="#5f605f" stroke="#262626" stroke-width="2.2"/>
<rect x="1266.3" y="1300.6" width="126.1" height="529.8" fill="none" stroke="#787a76" stroke-width="1"/>
<line x1="1328.2" y1="1262.4" x2="1328.2" y2="1332.9" stroke="#111" stroke-width="2" />
<line x1="1321.6" y1="1262.4" x2="1334.8" y2="1262.4" stroke="#111" stroke-width="2" />
<line x1="1321.6" y1="1332.9" x2="1334.8" y2="1332.9" stroke="#111" stroke-width="2" />
<rect x="1524.7" y="1386.1" width="131.3" height="445.7" fill="#5f605f" stroke="#262626" stroke-width="2.2"/>
<rect x="1527.3" y="1388.7" width="126.1" height="441.7" fill="none" stroke="#787a76" stroke-width="1"/>
<line x1="1589.7" y1="1348.4" x2="1589.7" y2="1422.7" stroke="#111" stroke-width="2" />
<line x1="1583.1" y1="1348.4" x2="1596.3" y2="1348.4" stroke="#111" stroke-width="2" />
<line x1="1583.1" y1="1422.7" x2="1596.3" y2="1422.7" stroke="#111" stroke-width="2" />
<rect x="1786.6" y="1640.7" width="131.5" height="191.1" fill="#5f605f" stroke="#262626" stroke-width="2.2"/>
<rect x="1789.2" y="1643.3" width="126.3" height="187.1" fill="none" stroke="#787a76" stroke-width="1"/>
<line x1="1852.4" y1="1612.8" x2="1852.4" y2="1668.9" stroke="#111" stroke-width="2" />
<line x1="1845.8" y1="1612.8" x2="1859" y2="1612.8" stroke="#111" stroke-width="2" />
<line x1="1845.8" y1="1668.9" x2="1859" y2="1668.9" stroke="#111" stroke-width="2" />
<line x1="1197.4" y1="1248.6" x2="1197.4" y2="1838.8" stroke="#2a2a2a" stroke-width="3.4" />
<line x1="1185.4" y1="1248.6" x2="1984.5" y2="1248.6" stroke="#111" stroke-width="2.6" />
<line x1="1983.2" y1="1248.6" x2="1983.2" y2="1838.3" stroke="#111" stroke-width="2.6" />
<line x1="1185.4" y1="1831.8" x2="1983.2" y2="1831.8" stroke="#222" stroke-width="3.2" />
<text x="1179" y="1844.8" font-size="46" text-anchor="end" font-weight="normal" fill="#111" >0</text>
<line x1="1190.4" y1="1773.5" x2="1197.4" y2="1773.5" stroke="#222" stroke-width="2.4" />
<line x1="1185.4" y1="1715.2" x2="1197.4" y2="1715.2" stroke="#222" stroke-width="2.6" />
<text x="1179" y="1728.2" font-size="46" text-anchor="end" font-weight="normal" fill="#111" >50</text>
<line x1="1190.4" y1="1656.8" x2="1197.4" y2="1656.8" stroke="#222" stroke-width="2.4" />
<line x1="1185.4" y1="1598.5" x2="1197.4" y2="1598.5" stroke="#222" stroke-width="2.6" />
<text x="1179" y="1611.5" font-size="46" text-anchor="end" font-weight="normal" fill="#111" >100</text>
<line x1="1190.4" y1="1540.2" x2="1197.4" y2="1540.2" stroke="#222" stroke-width="2.4" />
<line x1="1185.4" y1="1481.9" x2="1197.4" y2="1481.9" stroke="#222" stroke-width="2.6" />
<text x="1179" y="1494.9" font-size="46" text-anchor="end" font-weight="normal" fill="#111" >150</text>
<line x1="1190.4" y1="1423.6" x2="1197.4" y2="1423.6" stroke="#222" stroke-width="2.4" />
<line x1="1185.4" y1="1365.2" x2="1197.4" y2="1365.2" stroke="#222" stroke-width="2.6" />
<text x="1179" y="1378.2" font-size="46" text-anchor="end" font-weight="normal" fill="#111" >200</text>
<line x1="1190.4" y1="1306.9" x2="1197.4" y2="1306.9" stroke="#222" stroke-width="2.4" />
<text x="1179" y="1261.6" font-size="46" text-anchor="end" font-weight="normal" fill="#111" >250</text>
<line x1="1327.5" y1="1831.8" x2="1327.5" y2="1844.4" stroke="#222" stroke-width="2.6" />
<line x1="1589.7" y1="1831.8" x2="1589.7" y2="1844.4" stroke="#222" stroke-width="2.6" />
<line x1="1852.4" y1="1831.8" x2="1852.4" y2="1844.4" stroke="#222" stroke-width="2.6" />
<line x1="1458.6" y1="1831.8" x2="1458.6" y2="1838.3" stroke="#222" stroke-width="2.4" />
<line x1="1721.6" y1="1831.8" x2="1721.6" y2="1838.3" stroke="#222" stroke-width="2.4" />
<text x="1328.3" y="1888.8" font-size="48" text-anchor="middle" font-weight="normal" fill="#111" >target</text>
<text x="1588.5" y="1888.3" font-size="48" text-anchor="middle" font-weight="normal" fill="#111" >T1</text>
<text x="1851.5" y="1888.3" font-size="48" text-anchor="middle" font-weight="normal" fill="#111" >T2</text>
<text transform="translate(1074.9,1572.3) rotate(-90)" font-size="48" text-anchor="middle" fill="#111" >&#916;F (a.u.)</text>
</svg>
</body></html>
